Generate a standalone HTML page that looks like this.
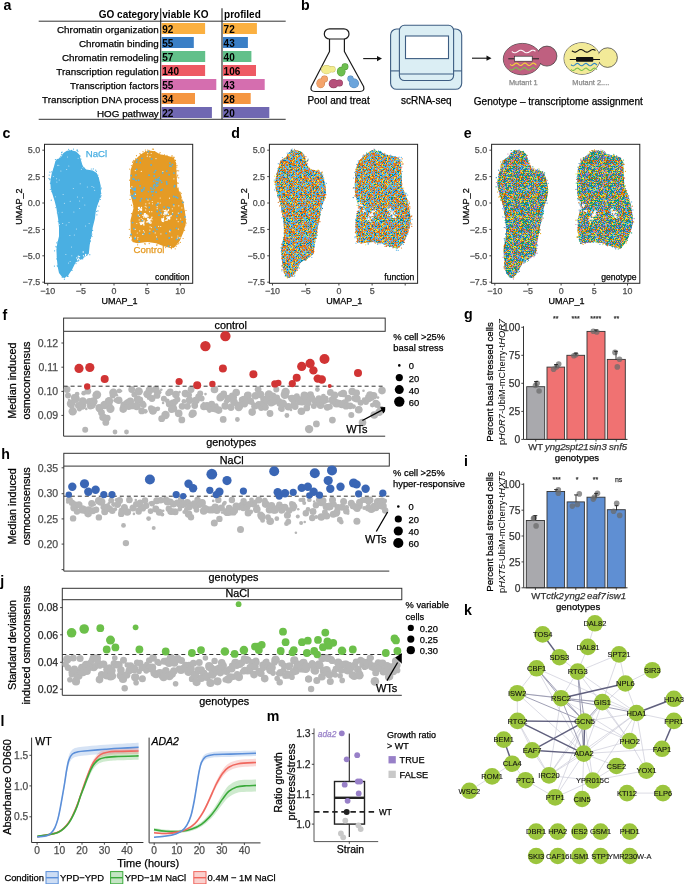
<!DOCTYPE html>
<html><head><meta charset="utf-8"><style>
html,body{margin:0;padding:0;background:#fff;width:685px;height:884px;overflow:hidden}
svg{display:block;font-family:"Liberation Sans", sans-serif;will-change:transform}
</style></head><body>
<svg width="685" height="884" viewBox="0 0 685 884">
<text x="3.4" y="9.8" font-size="14.2" font-weight="bold">a</text>
<text x="158.8" y="17.6" font-size="10" text-anchor="end" font-weight="bold">GO category</text>
<text x="162.3" y="17.6" font-size="10" font-weight="bold">viable KO</text>
<text x="224.1" y="17.6" font-size="10" font-weight="bold">profiled</text>
<line x1="38.7" y1="21.2" x2="285.7" y2="21.2" stroke="#333" stroke-width="1"/>
<line x1="38.7" y1="119.3" x2="285.7" y2="119.3" stroke="#333" stroke-width="1"/>
<rect x="161.6" y="23.0" width="43.5" height="11.0" fill="#FBB040"/>
<rect x="222.9" y="23.0" width="34.0" height="11.0" fill="#FBB040"/>
<text x="158.8" y="32.6" font-size="9.85" text-anchor="end" stroke="#000" stroke-width="0.25">Chromatin organization</text>
<text x="162.3" y="32.9" font-size="10" font-weight="bold">92</text>
<text x="223.6" y="32.9" font-size="10" font-weight="bold">72</text>
<rect x="161.6" y="37.0" width="32.2" height="11.0" fill="#3A7FC6"/>
<rect x="222.9" y="37.0" width="25.0" height="11.0" fill="#3A7FC6"/>
<text x="158.8" y="46.6" font-size="9.85" text-anchor="end" stroke="#000" stroke-width="0.25">Chromatin binding</text>
<text x="162.3" y="46.9" font-size="10" font-weight="bold">55</text>
<text x="223.6" y="46.9" font-size="10" font-weight="bold">43</text>
<rect x="161.6" y="51.0" width="43.6" height="11.0" fill="#62C08A"/>
<rect x="222.9" y="51.0" width="28.5" height="11.0" fill="#62C08A"/>
<text x="158.8" y="60.6" font-size="9.85" text-anchor="end" stroke="#000" stroke-width="0.25">Chromatin remodeling</text>
<text x="162.3" y="60.9" font-size="10" font-weight="bold">57</text>
<text x="223.6" y="60.9" font-size="10" font-weight="bold">40</text>
<rect x="161.6" y="65.0" width="43.5" height="11.0" fill="#EE5A64"/>
<rect x="222.9" y="65.0" width="33.1" height="11.0" fill="#EE5A64"/>
<text x="158.8" y="74.6" font-size="9.85" text-anchor="end" stroke="#000" stroke-width="0.25">Transcription regulation</text>
<text x="162.3" y="74.9" font-size="10" font-weight="bold">140</text>
<text x="223.6" y="74.9" font-size="10" font-weight="bold">106</text>
<rect x="161.6" y="79.0" width="54.7" height="11.0" fill="#D56EAF"/>
<rect x="222.9" y="79.0" width="41.8" height="11.0" fill="#D56EAF"/>
<text x="158.8" y="88.6" font-size="9.85" text-anchor="end" stroke="#000" stroke-width="0.25">Transcription factors</text>
<text x="162.3" y="88.9" font-size="10" font-weight="bold">55</text>
<text x="223.6" y="88.9" font-size="10" font-weight="bold">43</text>
<rect x="161.6" y="93.0" width="33.4" height="11.0" fill="#F59641"/>
<rect x="222.9" y="93.0" width="27.8" height="11.0" fill="#F59641"/>
<text x="158.8" y="102.6" font-size="9.85" text-anchor="end" stroke="#000" stroke-width="0.25">Transcription DNA process</text>
<text x="162.3" y="102.9" font-size="10" font-weight="bold">34</text>
<text x="223.6" y="102.9" font-size="10" font-weight="bold">28</text>
<rect x="161.6" y="107.0" width="50.3" height="11.0" fill="#7068B2"/>
<rect x="222.9" y="107.0" width="46.4" height="11.0" fill="#7068B2"/>
<text x="158.8" y="116.6" font-size="9.85" text-anchor="end" stroke="#000" stroke-width="0.25">HOG pathway</text>
<text x="162.3" y="116.9" font-size="10" font-weight="bold">22</text>
<text x="223.6" y="116.9" font-size="10" font-weight="bold">20</text>
<line x1="160.7" y1="8.2" x2="160.7" y2="119.3" stroke="#222" stroke-width="1.1"/>
<line x1="222.0" y1="8.2" x2="222.0" y2="119.3" stroke="#222" stroke-width="1.1"/>
<text x="300.9" y="9.6" font-size="14.2" font-weight="bold">b</text>
<g fill="none" stroke="#1a1a1a" stroke-width="1.2" stroke-linejoin="round">
<rect x="324.3" y="28.8" width="24.7" height="10.2" rx="5.1" fill="#fff"/>
<path d="M329.5 39 L329.5 51.5 L311.3 86.5 Q309.8 91.5 315 91.5 L359.8 91.5 Q365 91.5 363.6 86.5 L344.4 51.5 L344.4 39"/>
</g>
<g fill="#c9c070"><ellipse cx="326.5" cy="69.6" rx="5.5" ry="4.6"/><circle cx="332.4" cy="69.3" r="3.2"/></g>
<g fill="#F3EC8E"><ellipse cx="326.5" cy="69.6" rx="5.0" ry="4.1"/><circle cx="332.4" cy="69.3" r="2.7"/></g>
<g fill="#4c9436"><ellipse cx="341.2" cy="71.6" rx="4.3" ry="4.8"/><circle cx="345.0" cy="66.7" r="3.4"/></g>
<g fill="#6DBE4F"><ellipse cx="341.2" cy="71.6" rx="3.8" ry="4.3"/><circle cx="345.0" cy="66.7" r="2.9"/></g>
<g fill="#c8804c"><ellipse cx="320.7" cy="83.4" rx="4.3" ry="4.8"/><circle cx="324.5" cy="79.0" r="3.4"/></g>
<g fill="#F4A46B"><ellipse cx="320.7" cy="83.4" rx="3.8" ry="4.3"/><circle cx="324.5" cy="79.0" r="2.9"/></g>
<g fill="#8c3a5c"><ellipse cx="333.6" cy="83.7" rx="4.9" ry="4.6"/><circle cx="339.4" cy="83.0" r="3.5"/></g>
<g fill="#B5507A"><ellipse cx="333.6" cy="83.7" rx="4.4" ry="4.1"/><circle cx="339.4" cy="83.0" r="3.0"/></g>
<g fill="#4a80b4"><ellipse cx="354.0" cy="83.4" rx="4.9" ry="4.8"/><circle cx="350.5" cy="78.7" r="3.1"/></g>
<g fill="#6CA5DC"><ellipse cx="354.0" cy="83.4" rx="4.4" ry="4.3"/><circle cx="350.5" cy="78.7" r="2.6"/></g>
<line x1="363.2" y1="58.6" x2="378.0" y2="58.6" stroke="#111" stroke-width="1.1"/>
<path d="M377.0 56.0 L382.0 58.6 L377.0 61.2 Z" fill="#111"/>
<line x1="472.0" y1="58.2" x2="487.5" y2="58.2" stroke="#111" stroke-width="1.1"/>
<path d="M486.5 55.6 L491.5 58.2 L486.5 60.8 Z" fill="#111"/>
<g stroke="#3d5d82" stroke-width="1.1" fill="#dbeef4">
<rect x="390.6" y="29.0" width="71.1" height="60.3" rx="6"/>
<rect x="399.4" y="25.3" width="54.2" height="55.2" rx="5"/>
<line x1="390.6" y1="70.9" x2="399.4" y2="70.9"/><line x1="453.6" y1="70.9" x2="461.7" y2="70.9"/>
<line x1="399.4" y1="74.0" x2="453.6" y2="74.0"/>
<rect x="405.5" y="36.0" width="43" height="22.6" fill="#fff"/>
</g>
<g stroke="#333" stroke-width="0.7">
<ellipse cx="522.3" cy="59.1" rx="19" ry="15.7" fill="#BF6080"/><circle cx="546.9" cy="56.1" r="10" fill="#BF6080"/>
<ellipse cx="582.0" cy="58.5" rx="18" ry="15.8" fill="#F2EA98"/><circle cx="607.6" cy="57.6" r="9.8" fill="#F2EA98"/>
</g>
<ellipse cx="522.3" cy="59.1" rx="18.6" ry="15.3" fill="#BF6080"/><ellipse cx="582.0" cy="58.5" rx="17.6" ry="15.4" fill="#F2EA98"/>
<polyline points="511.8,51.5 512.4,51.9 513.0,52.3 513.6,52.5 514.2,52.7 514.8,52.8 515.4,52.7 515.9,52.6 516.5,52.3 517.1,51.9 517.7,51.6 518.3,51.2 518.9,50.8 519.5,50.5 520.1,50.3 520.7,50.2 521.3,50.2 521.9,50.4 522.5,50.7 523.1,51.0 523.6,51.4 524.2,51.8 524.8,52.2 525.4,52.5 526.0,52.7 526.6,52.8 527.2,52.8 527.8,52.6 528.4,52.4 529.0,52.0 529.6,51.7 530.2,51.3 530.8,50.9 531.4,50.6 531.9,50.3 532.5,50.2 533.1,50.2 533.7,50.3 534.3,50.6 534.9,50.9 535.5,51.3" fill="none" stroke="#fff" stroke-width="1.1"/>
<line x1="508.3" y1="58.8" x2="539.0" y2="58.8" stroke="#222" stroke-width="1"/>
<rect x="514.4" y="56.2" width="17.8" height="5.0" fill="#fff" stroke="#222" stroke-width="0.6"/>
<polyline points="510.0,64.3 510.7,64.9 511.3,65.3 512.0,65.5 512.6,65.4 513.3,65.1 514.0,64.5 514.6,64.0 515.3,63.5 516.0,63.2 516.6,63.1 517.3,63.4 518.0,63.8 518.6,64.4 519.3,65.0 519.9,65.3 520.6,65.5 521.3,65.4 521.9,65.0 522.6,64.4 523.2,63.9 523.9,63.4 524.6,63.1 525.2,63.1 525.9,63.4 526.6,63.9 527.2,64.5 527.9,65.0 528.5,65.4 529.2,65.5 529.9,65.3 530.5,64.9 531.2,64.3 531.9,63.8 532.5,63.3 533.2,63.1 533.9,63.2 534.5,63.5 535.2,64.0 535.8,64.6 536.5,65.1" fill="none" stroke="#F2D43A" stroke-width="1.1"/>
<polyline points="509.5,68.8 510.1,69.4 510.8,69.8 511.4,70.0 512.1,69.9 512.8,69.6 513.4,69.1 514.0,68.5 514.7,68.0 515.4,67.7 516.0,67.6 516.6,67.8 517.3,68.2 518.0,68.8 518.6,69.3 519.2,69.8 519.9,70.0 520.5,69.9 521.2,69.6 521.9,69.1 522.5,68.6 523.1,68.1 523.8,67.7 524.5,67.6 525.1,67.8 525.8,68.2 526.4,68.7 527.0,69.3 527.7,69.7 528.4,70.0 529.0,70.0 529.6,69.7 530.3,69.2 531.0,68.6 531.6,68.1 532.2,67.7 532.9,67.6 533.5,67.7 534.2,68.1 534.9,68.7 535.5,69.2" fill="none" stroke="#7CC04E" stroke-width="1.1"/>
<polyline points="571.9,50.8 572.5,51.2 573.1,51.6 573.7,51.8 574.2,52.0 574.8,52.1 575.4,52.1 576.0,51.9 576.6,51.6 577.2,51.3 577.8,50.9 578.4,50.5 578.9,50.1 579.5,49.8 580.1,49.6 580.7,49.5 581.3,49.5 581.9,49.7 582.5,49.9 583.1,50.2 583.6,50.6 584.2,51.0 584.8,51.4 585.4,51.7 586.0,52.0 586.6,52.1 587.2,52.1 587.8,52.0 588.4,51.7 588.9,51.4 589.5,51.1 590.1,50.7 590.7,50.3 591.3,49.9 591.9,49.7 592.5,49.5 593.0,49.5 593.6,49.6 594.2,49.8 594.8,50.1 595.4,50.5" fill="none" stroke="#111" stroke-width="1.1"/>
<line x1="569.8" y1="59.5" x2="600.0" y2="59.5" stroke="#111" stroke-width="1"/>
<rect x="576.0" y="56.9" width="17.3" height="4.8" fill="#111" rx="1"/>
<polyline points="571.0,64.6 571.6,65.2 572.3,65.6 573.0,65.8 573.6,65.7 574.2,65.4 574.9,64.9 575.5,64.3 576.2,63.8 576.9,63.5 577.5,63.4 578.1,63.6 578.8,64.0 579.5,64.6 580.1,65.1 580.8,65.6 581.4,65.8 582.0,65.7 582.7,65.4 583.4,64.9 584.0,64.4 584.6,63.9 585.3,63.5 586.0,63.4 586.6,63.6 587.2,64.0 587.9,64.5 588.5,65.1 589.2,65.5 589.9,65.8 590.5,65.8 591.1,65.5 591.8,65.0 592.5,64.4 593.1,63.9 593.8,63.5 594.4,63.4 595.0,63.5 595.7,63.9 596.4,64.5 597.0,65.0" fill="none" stroke="#2E86C8" stroke-width="1.1"/>
<polyline points="571.0,69.3 571.6,69.9 572.3,70.3 573.0,70.5 573.6,70.4 574.2,70.1 574.9,69.6 575.5,69.0 576.2,68.5 576.9,68.2 577.5,68.1 578.1,68.3 578.8,68.7 579.5,69.3 580.1,69.8 580.8,70.3 581.4,70.5 582.0,70.4 582.7,70.1 583.4,69.6 584.0,69.1 584.6,68.6 585.3,68.2 586.0,68.1 586.6,68.3 587.2,68.7 587.9,69.2 588.5,69.8 589.2,70.2 589.9,70.5 590.5,70.5 591.1,70.2 591.8,69.7 592.5,69.1 593.1,68.6 593.8,68.2 594.4,68.1 595.0,68.2 595.7,68.6 596.4,69.2 597.0,69.7" fill="none" stroke="#7CC04E" stroke-width="1.1"/>
<text x="508.9" y="84.7" font-size="7.4" fill="#8a8a8a" stroke="#8a8a8a" stroke-width="0.25">Mutant 1</text>
<text x="572.3" y="85.3" font-size="7.4" fill="#8a8a8a" stroke="#8a8a8a" stroke-width="0.25">Mutant 2....</text>
<text x="307.4" y="103.7" font-size="10" stroke="#000" stroke-width="0.25">Pool and treat</text>
<text x="401.0" y="104.4" font-size="10" stroke="#000" stroke-width="0.25">scRNA-seq</text>
<text x="473.8" y="104.5" font-size="10" stroke="#000" stroke-width="0.25">Genotype – transcriptome assignment</text>
<defs>
<pattern id="pd" x="0" y="0" width="23" height="23" patternUnits="userSpaceOnUse">
<rect x="0" y="0" width="1" height="1" fill="#E07A1F"/>
<rect x="1" y="0" width="1" height="1" fill="#56B4E9"/>
<rect x="2" y="0" width="1" height="1" fill="#56B4E9"/>
<rect x="3" y="0" width="1" height="1" fill="#56B4E9"/>
<rect x="4" y="0" width="1" height="1" fill="#F0E442"/>
<rect x="5" y="0" width="1" height="1" fill="#E07A1F"/>
<rect x="6" y="0" width="1" height="1" fill="#009E73"/>
<rect x="7" y="0" width="1" height="1" fill="#56B4E9"/>
<rect x="8" y="0" width="1" height="1" fill="#E07A1F"/>
<rect x="9" y="0" width="1" height="1" fill="#56B4E9"/>
<rect x="10" y="0" width="1" height="1" fill="#56B4E9"/>
<rect x="11" y="0" width="1" height="1" fill="#E07A1F"/>
<rect x="12" y="0" width="1" height="1" fill="#56B4E9"/>
<rect x="13" y="0" width="1" height="1" fill="#56B4E9"/>
<rect x="14" y="0" width="1" height="1" fill="#E07A1F"/>
<rect x="15" y="0" width="1" height="1" fill="#E07A1F"/>
<rect x="16" y="0" width="1" height="1" fill="#56B4E9"/>
<rect x="17" y="0" width="1" height="1" fill="#E07A1F"/>
<rect x="18" y="0" width="1" height="1" fill="#F0E442"/>
<rect x="19" y="0" width="1" height="1" fill="#56B4E9"/>
<rect x="20" y="0" width="1" height="1" fill="#F0E442"/>
<rect x="21" y="0" width="1" height="1" fill="#E07A1F"/>
<rect x="22" y="0" width="1" height="1" fill="#56B4E9"/>
<rect x="0" y="1" width="1" height="1" fill="#56B4E9"/>
<rect x="1" y="1" width="1" height="1" fill="#D55E00"/>
<rect x="2" y="1" width="1" height="1" fill="#56B4E9"/>
<rect x="3" y="1" width="1" height="1" fill="#56B4E9"/>
<rect x="4" y="1" width="1" height="1" fill="#56B4E9"/>
<rect x="5" y="1" width="1" height="1" fill="#0072B2"/>
<rect x="6" y="1" width="1" height="1" fill="#E07A1F"/>
<rect x="7" y="1" width="1" height="1" fill="#F0E442"/>
<rect x="8" y="1" width="1" height="1" fill="#F0E442"/>
<rect x="9" y="1" width="1" height="1" fill="#E07A1F"/>
<rect x="10" y="1" width="1" height="1" fill="#D55E00"/>
<rect x="11" y="1" width="1" height="1" fill="#E07A1F"/>
<rect x="12" y="1" width="1" height="1" fill="#E07A1F"/>
<rect x="13" y="1" width="1" height="1" fill="#0072B2"/>
<rect x="14" y="1" width="1" height="1" fill="#E07A1F"/>
<rect x="15" y="1" width="1" height="1" fill="#0072B2"/>
<rect x="16" y="1" width="1" height="1" fill="#E07A1F"/>
<rect x="17" y="1" width="1" height="1" fill="#E07A1F"/>
<rect x="18" y="1" width="1" height="1" fill="#56B4E9"/>
<rect x="19" y="1" width="1" height="1" fill="#56B4E9"/>
<rect x="20" y="1" width="1" height="1" fill="#56B4E9"/>
<rect x="21" y="1" width="1" height="1" fill="#56B4E9"/>
<rect x="22" y="1" width="1" height="1" fill="#56B4E9"/>
<rect x="0" y="2" width="1" height="1" fill="#56B4E9"/>
<rect x="1" y="2" width="1" height="1" fill="#56B4E9"/>
<rect x="2" y="2" width="1" height="1" fill="#E07A1F"/>
<rect x="3" y="2" width="1" height="1" fill="#E07A1F"/>
<rect x="4" y="2" width="1" height="1" fill="#E07A1F"/>
<rect x="5" y="2" width="1" height="1" fill="#56B4E9"/>
<rect x="6" y="2" width="1" height="1" fill="#56B4E9"/>
<rect x="7" y="2" width="1" height="1" fill="#CC79A7"/>
<rect x="8" y="2" width="1" height="1" fill="#E07A1F"/>
<rect x="9" y="2" width="1" height="1" fill="#E07A1F"/>
<rect x="10" y="2" width="1" height="1" fill="#56B4E9"/>
<rect x="11" y="2" width="1" height="1" fill="#F0E442"/>
<rect x="12" y="2" width="1" height="1" fill="#56B4E9"/>
<rect x="13" y="2" width="1" height="1" fill="#E07A1F"/>
<rect x="14" y="2" width="1" height="1" fill="#D55E00"/>
<rect x="15" y="2" width="1" height="1" fill="#E07A1F"/>
<rect x="16" y="2" width="1" height="1" fill="#E07A1F"/>
<rect x="17" y="2" width="1" height="1" fill="#E07A1F"/>
<rect x="18" y="2" width="1" height="1" fill="#0072B2"/>
<rect x="19" y="2" width="1" height="1" fill="#F0E442"/>
<rect x="20" y="2" width="1" height="1" fill="#56B4E9"/>
<rect x="21" y="2" width="1" height="1" fill="#56B4E9"/>
<rect x="22" y="2" width="1" height="1" fill="#56B4E9"/>
<rect x="0" y="3" width="1" height="1" fill="#56B4E9"/>
<rect x="1" y="3" width="1" height="1" fill="#56B4E9"/>
<rect x="2" y="3" width="1" height="1" fill="#CC79A7"/>
<rect x="3" y="3" width="1" height="1" fill="#009E73"/>
<rect x="4" y="3" width="1" height="1" fill="#56B4E9"/>
<rect x="5" y="3" width="1" height="1" fill="#E07A1F"/>
<rect x="6" y="3" width="1" height="1" fill="#E07A1F"/>
<rect x="7" y="3" width="1" height="1" fill="#009E73"/>
<rect x="8" y="3" width="1" height="1" fill="#E07A1F"/>
<rect x="9" y="3" width="1" height="1" fill="#56B4E9"/>
<rect x="10" y="3" width="1" height="1" fill="#56B4E9"/>
<rect x="11" y="3" width="1" height="1" fill="#E07A1F"/>
<rect x="12" y="3" width="1" height="1" fill="#56B4E9"/>
<rect x="13" y="3" width="1" height="1" fill="#E07A1F"/>
<rect x="14" y="3" width="1" height="1" fill="#009E73"/>
<rect x="15" y="3" width="1" height="1" fill="#E07A1F"/>
<rect x="16" y="3" width="1" height="1" fill="#56B4E9"/>
<rect x="17" y="3" width="1" height="1" fill="#D55E00"/>
<rect x="18" y="3" width="1" height="1" fill="#E07A1F"/>
<rect x="19" y="3" width="1" height="1" fill="#56B4E9"/>
<rect x="20" y="3" width="1" height="1" fill="#56B4E9"/>
<rect x="21" y="3" width="1" height="1" fill="#56B4E9"/>
<rect x="22" y="3" width="1" height="1" fill="#E07A1F"/>
<rect x="0" y="4" width="1" height="1" fill="#F0E442"/>
<rect x="1" y="4" width="1" height="1" fill="#E07A1F"/>
<rect x="2" y="4" width="1" height="1" fill="#56B4E9"/>
<rect x="3" y="4" width="1" height="1" fill="#E07A1F"/>
<rect x="4" y="4" width="1" height="1" fill="#D55E00"/>
<rect x="5" y="4" width="1" height="1" fill="#E07A1F"/>
<rect x="6" y="4" width="1" height="1" fill="#D55E00"/>
<rect x="7" y="4" width="1" height="1" fill="#0072B2"/>
<rect x="8" y="4" width="1" height="1" fill="#56B4E9"/>
<rect x="9" y="4" width="1" height="1" fill="#F0E442"/>
<rect x="10" y="4" width="1" height="1" fill="#E07A1F"/>
<rect x="11" y="4" width="1" height="1" fill="#E07A1F"/>
<rect x="12" y="4" width="1" height="1" fill="#56B4E9"/>
<rect x="13" y="4" width="1" height="1" fill="#E07A1F"/>
<rect x="14" y="4" width="1" height="1" fill="#56B4E9"/>
<rect x="15" y="4" width="1" height="1" fill="#E07A1F"/>
<rect x="16" y="4" width="1" height="1" fill="#E07A1F"/>
<rect x="17" y="4" width="1" height="1" fill="#D55E00"/>
<rect x="18" y="4" width="1" height="1" fill="#009E73"/>
<rect x="19" y="4" width="1" height="1" fill="#56B4E9"/>
<rect x="20" y="4" width="1" height="1" fill="#E07A1F"/>
<rect x="21" y="4" width="1" height="1" fill="#56B4E9"/>
<rect x="22" y="4" width="1" height="1" fill="#009E73"/>
<rect x="0" y="5" width="1" height="1" fill="#0072B2"/>
<rect x="1" y="5" width="1" height="1" fill="#56B4E9"/>
<rect x="2" y="5" width="1" height="1" fill="#E07A1F"/>
<rect x="3" y="5" width="1" height="1" fill="#E07A1F"/>
<rect x="4" y="5" width="1" height="1" fill="#56B4E9"/>
<rect x="5" y="5" width="1" height="1" fill="#F0E442"/>
<rect x="6" y="5" width="1" height="1" fill="#E07A1F"/>
<rect x="7" y="5" width="1" height="1" fill="#F0E442"/>
<rect x="8" y="5" width="1" height="1" fill="#E07A1F"/>
<rect x="9" y="5" width="1" height="1" fill="#56B4E9"/>
<rect x="10" y="5" width="1" height="1" fill="#56B4E9"/>
<rect x="11" y="5" width="1" height="1" fill="#56B4E9"/>
<rect x="12" y="5" width="1" height="1" fill="#CC79A7"/>
<rect x="13" y="5" width="1" height="1" fill="#009E73"/>
<rect x="14" y="5" width="1" height="1" fill="#0072B2"/>
<rect x="15" y="5" width="1" height="1" fill="#56B4E9"/>
<rect x="16" y="5" width="1" height="1" fill="#56B4E9"/>
<rect x="17" y="5" width="1" height="1" fill="#009E73"/>
<rect x="18" y="5" width="1" height="1" fill="#CC79A7"/>
<rect x="19" y="5" width="1" height="1" fill="#56B4E9"/>
<rect x="20" y="5" width="1" height="1" fill="#E07A1F"/>
<rect x="21" y="5" width="1" height="1" fill="#56B4E9"/>
<rect x="22" y="5" width="1" height="1" fill="#F0E442"/>
<rect x="0" y="6" width="1" height="1" fill="#F0E442"/>
<rect x="1" y="6" width="1" height="1" fill="#56B4E9"/>
<rect x="2" y="6" width="1" height="1" fill="#E07A1F"/>
<rect x="3" y="6" width="1" height="1" fill="#E07A1F"/>
<rect x="4" y="6" width="1" height="1" fill="#56B4E9"/>
<rect x="5" y="6" width="1" height="1" fill="#0072B2"/>
<rect x="6" y="6" width="1" height="1" fill="#E07A1F"/>
<rect x="7" y="6" width="1" height="1" fill="#56B4E9"/>
<rect x="8" y="6" width="1" height="1" fill="#E07A1F"/>
<rect x="9" y="6" width="1" height="1" fill="#F0E442"/>
<rect x="10" y="6" width="1" height="1" fill="#56B4E9"/>
<rect x="11" y="6" width="1" height="1" fill="#56B4E9"/>
<rect x="12" y="6" width="1" height="1" fill="#D55E00"/>
<rect x="13" y="6" width="1" height="1" fill="#E07A1F"/>
<rect x="14" y="6" width="1" height="1" fill="#E07A1F"/>
<rect x="15" y="6" width="1" height="1" fill="#E07A1F"/>
<rect x="16" y="6" width="1" height="1" fill="#56B4E9"/>
<rect x="17" y="6" width="1" height="1" fill="#56B4E9"/>
<rect x="18" y="6" width="1" height="1" fill="#56B4E9"/>
<rect x="19" y="6" width="1" height="1" fill="#E07A1F"/>
<rect x="20" y="6" width="1" height="1" fill="#56B4E9"/>
<rect x="21" y="6" width="1" height="1" fill="#56B4E9"/>
<rect x="22" y="6" width="1" height="1" fill="#56B4E9"/>
<rect x="0" y="7" width="1" height="1" fill="#E07A1F"/>
<rect x="1" y="7" width="1" height="1" fill="#56B4E9"/>
<rect x="2" y="7" width="1" height="1" fill="#009E73"/>
<rect x="3" y="7" width="1" height="1" fill="#0072B2"/>
<rect x="4" y="7" width="1" height="1" fill="#56B4E9"/>
<rect x="5" y="7" width="1" height="1" fill="#56B4E9"/>
<rect x="6" y="7" width="1" height="1" fill="#E07A1F"/>
<rect x="7" y="7" width="1" height="1" fill="#56B4E9"/>
<rect x="8" y="7" width="1" height="1" fill="#56B4E9"/>
<rect x="9" y="7" width="1" height="1" fill="#CC79A7"/>
<rect x="10" y="7" width="1" height="1" fill="#E07A1F"/>
<rect x="11" y="7" width="1" height="1" fill="#E07A1F"/>
<rect x="12" y="7" width="1" height="1" fill="#F0E442"/>
<rect x="13" y="7" width="1" height="1" fill="#F0E442"/>
<rect x="14" y="7" width="1" height="1" fill="#56B4E9"/>
<rect x="15" y="7" width="1" height="1" fill="#56B4E9"/>
<rect x="16" y="7" width="1" height="1" fill="#E07A1F"/>
<rect x="17" y="7" width="1" height="1" fill="#E07A1F"/>
<rect x="18" y="7" width="1" height="1" fill="#E07A1F"/>
<rect x="19" y="7" width="1" height="1" fill="#F0E442"/>
<rect x="20" y="7" width="1" height="1" fill="#E07A1F"/>
<rect x="21" y="7" width="1" height="1" fill="#D55E00"/>
<rect x="22" y="7" width="1" height="1" fill="#56B4E9"/>
<rect x="0" y="8" width="1" height="1" fill="#E07A1F"/>
<rect x="1" y="8" width="1" height="1" fill="#56B4E9"/>
<rect x="2" y="8" width="1" height="1" fill="#0072B2"/>
<rect x="3" y="8" width="1" height="1" fill="#56B4E9"/>
<rect x="4" y="8" width="1" height="1" fill="#56B4E9"/>
<rect x="5" y="8" width="1" height="1" fill="#E07A1F"/>
<rect x="6" y="8" width="1" height="1" fill="#E07A1F"/>
<rect x="7" y="8" width="1" height="1" fill="#56B4E9"/>
<rect x="8" y="8" width="1" height="1" fill="#56B4E9"/>
<rect x="9" y="8" width="1" height="1" fill="#CC79A7"/>
<rect x="10" y="8" width="1" height="1" fill="#E07A1F"/>
<rect x="11" y="8" width="1" height="1" fill="#0072B2"/>
<rect x="12" y="8" width="1" height="1" fill="#E07A1F"/>
<rect x="13" y="8" width="1" height="1" fill="#56B4E9"/>
<rect x="14" y="8" width="1" height="1" fill="#D55E00"/>
<rect x="15" y="8" width="1" height="1" fill="#0072B2"/>
<rect x="16" y="8" width="1" height="1" fill="#D55E00"/>
<rect x="17" y="8" width="1" height="1" fill="#CC79A7"/>
<rect x="18" y="8" width="1" height="1" fill="#0072B2"/>
<rect x="19" y="8" width="1" height="1" fill="#56B4E9"/>
<rect x="20" y="8" width="1" height="1" fill="#E07A1F"/>
<rect x="21" y="8" width="1" height="1" fill="#56B4E9"/>
<rect x="22" y="8" width="1" height="1" fill="#E07A1F"/>
<rect x="0" y="9" width="1" height="1" fill="#56B4E9"/>
<rect x="1" y="9" width="1" height="1" fill="#E07A1F"/>
<rect x="2" y="9" width="1" height="1" fill="#D55E00"/>
<rect x="3" y="9" width="1" height="1" fill="#56B4E9"/>
<rect x="4" y="9" width="1" height="1" fill="#F0E442"/>
<rect x="5" y="9" width="1" height="1" fill="#E07A1F"/>
<rect x="6" y="9" width="1" height="1" fill="#E07A1F"/>
<rect x="7" y="9" width="1" height="1" fill="#D55E00"/>
<rect x="8" y="9" width="1" height="1" fill="#D55E00"/>
<rect x="9" y="9" width="1" height="1" fill="#E07A1F"/>
<rect x="10" y="9" width="1" height="1" fill="#F0E442"/>
<rect x="11" y="9" width="1" height="1" fill="#56B4E9"/>
<rect x="12" y="9" width="1" height="1" fill="#56B4E9"/>
<rect x="13" y="9" width="1" height="1" fill="#D55E00"/>
<rect x="14" y="9" width="1" height="1" fill="#E07A1F"/>
<rect x="15" y="9" width="1" height="1" fill="#E07A1F"/>
<rect x="16" y="9" width="1" height="1" fill="#F0E442"/>
<rect x="17" y="9" width="1" height="1" fill="#56B4E9"/>
<rect x="18" y="9" width="1" height="1" fill="#E07A1F"/>
<rect x="19" y="9" width="1" height="1" fill="#E07A1F"/>
<rect x="20" y="9" width="1" height="1" fill="#0072B2"/>
<rect x="21" y="9" width="1" height="1" fill="#56B4E9"/>
<rect x="22" y="9" width="1" height="1" fill="#D55E00"/>
<rect x="0" y="10" width="1" height="1" fill="#56B4E9"/>
<rect x="1" y="10" width="1" height="1" fill="#56B4E9"/>
<rect x="2" y="10" width="1" height="1" fill="#E07A1F"/>
<rect x="3" y="10" width="1" height="1" fill="#E07A1F"/>
<rect x="4" y="10" width="1" height="1" fill="#56B4E9"/>
<rect x="5" y="10" width="1" height="1" fill="#56B4E9"/>
<rect x="6" y="10" width="1" height="1" fill="#009E73"/>
<rect x="7" y="10" width="1" height="1" fill="#56B4E9"/>
<rect x="8" y="10" width="1" height="1" fill="#E07A1F"/>
<rect x="9" y="10" width="1" height="1" fill="#E07A1F"/>
<rect x="10" y="10" width="1" height="1" fill="#E07A1F"/>
<rect x="11" y="10" width="1" height="1" fill="#E07A1F"/>
<rect x="12" y="10" width="1" height="1" fill="#E07A1F"/>
<rect x="13" y="10" width="1" height="1" fill="#CC79A7"/>
<rect x="14" y="10" width="1" height="1" fill="#56B4E9"/>
<rect x="15" y="10" width="1" height="1" fill="#F0E442"/>
<rect x="16" y="10" width="1" height="1" fill="#56B4E9"/>
<rect x="17" y="10" width="1" height="1" fill="#E07A1F"/>
<rect x="18" y="10" width="1" height="1" fill="#E07A1F"/>
<rect x="19" y="10" width="1" height="1" fill="#56B4E9"/>
<rect x="20" y="10" width="1" height="1" fill="#56B4E9"/>
<rect x="21" y="10" width="1" height="1" fill="#F0E442"/>
<rect x="22" y="10" width="1" height="1" fill="#56B4E9"/>
<rect x="0" y="11" width="1" height="1" fill="#E07A1F"/>
<rect x="1" y="11" width="1" height="1" fill="#D55E00"/>
<rect x="2" y="11" width="1" height="1" fill="#D55E00"/>
<rect x="3" y="11" width="1" height="1" fill="#56B4E9"/>
<rect x="4" y="11" width="1" height="1" fill="#56B4E9"/>
<rect x="5" y="11" width="1" height="1" fill="#56B4E9"/>
<rect x="6" y="11" width="1" height="1" fill="#CC79A7"/>
<rect x="7" y="11" width="1" height="1" fill="#009E73"/>
<rect x="8" y="11" width="1" height="1" fill="#009E73"/>
<rect x="9" y="11" width="1" height="1" fill="#E07A1F"/>
<rect x="10" y="11" width="1" height="1" fill="#56B4E9"/>
<rect x="11" y="11" width="1" height="1" fill="#0072B2"/>
<rect x="12" y="11" width="1" height="1" fill="#E07A1F"/>
<rect x="13" y="11" width="1" height="1" fill="#E07A1F"/>
<rect x="14" y="11" width="1" height="1" fill="#D55E00"/>
<rect x="15" y="11" width="1" height="1" fill="#E07A1F"/>
<rect x="16" y="11" width="1" height="1" fill="#56B4E9"/>
<rect x="17" y="11" width="1" height="1" fill="#0072B2"/>
<rect x="18" y="11" width="1" height="1" fill="#56B4E9"/>
<rect x="19" y="11" width="1" height="1" fill="#E07A1F"/>
<rect x="20" y="11" width="1" height="1" fill="#CC79A7"/>
<rect x="21" y="11" width="1" height="1" fill="#56B4E9"/>
<rect x="22" y="11" width="1" height="1" fill="#56B4E9"/>
<rect x="0" y="12" width="1" height="1" fill="#56B4E9"/>
<rect x="1" y="12" width="1" height="1" fill="#E07A1F"/>
<rect x="2" y="12" width="1" height="1" fill="#56B4E9"/>
<rect x="3" y="12" width="1" height="1" fill="#E07A1F"/>
<rect x="4" y="12" width="1" height="1" fill="#F0E442"/>
<rect x="5" y="12" width="1" height="1" fill="#56B4E9"/>
<rect x="6" y="12" width="1" height="1" fill="#E07A1F"/>
<rect x="7" y="12" width="1" height="1" fill="#56B4E9"/>
<rect x="8" y="12" width="1" height="1" fill="#E07A1F"/>
<rect x="9" y="12" width="1" height="1" fill="#009E73"/>
<rect x="10" y="12" width="1" height="1" fill="#0072B2"/>
<rect x="11" y="12" width="1" height="1" fill="#56B4E9"/>
<rect x="12" y="12" width="1" height="1" fill="#E07A1F"/>
<rect x="13" y="12" width="1" height="1" fill="#56B4E9"/>
<rect x="14" y="12" width="1" height="1" fill="#56B4E9"/>
<rect x="15" y="12" width="1" height="1" fill="#F0E442"/>
<rect x="16" y="12" width="1" height="1" fill="#E07A1F"/>
<rect x="17" y="12" width="1" height="1" fill="#56B4E9"/>
<rect x="18" y="12" width="1" height="1" fill="#F0E442"/>
<rect x="19" y="12" width="1" height="1" fill="#E07A1F"/>
<rect x="20" y="12" width="1" height="1" fill="#E07A1F"/>
<rect x="21" y="12" width="1" height="1" fill="#56B4E9"/>
<rect x="22" y="12" width="1" height="1" fill="#56B4E9"/>
<rect x="0" y="13" width="1" height="1" fill="#009E73"/>
<rect x="1" y="13" width="1" height="1" fill="#009E73"/>
<rect x="2" y="13" width="1" height="1" fill="#E07A1F"/>
<rect x="3" y="13" width="1" height="1" fill="#0072B2"/>
<rect x="4" y="13" width="1" height="1" fill="#E07A1F"/>
<rect x="5" y="13" width="1" height="1" fill="#56B4E9"/>
<rect x="6" y="13" width="1" height="1" fill="#56B4E9"/>
<rect x="7" y="13" width="1" height="1" fill="#56B4E9"/>
<rect x="8" y="13" width="1" height="1" fill="#009E73"/>
<rect x="9" y="13" width="1" height="1" fill="#F0E442"/>
<rect x="10" y="13" width="1" height="1" fill="#0072B2"/>
<rect x="11" y="13" width="1" height="1" fill="#009E73"/>
<rect x="12" y="13" width="1" height="1" fill="#56B4E9"/>
<rect x="13" y="13" width="1" height="1" fill="#56B4E9"/>
<rect x="14" y="13" width="1" height="1" fill="#56B4E9"/>
<rect x="15" y="13" width="1" height="1" fill="#F0E442"/>
<rect x="16" y="13" width="1" height="1" fill="#009E73"/>
<rect x="17" y="13" width="1" height="1" fill="#E07A1F"/>
<rect x="18" y="13" width="1" height="1" fill="#E07A1F"/>
<rect x="19" y="13" width="1" height="1" fill="#56B4E9"/>
<rect x="20" y="13" width="1" height="1" fill="#CC79A7"/>
<rect x="21" y="13" width="1" height="1" fill="#0072B2"/>
<rect x="22" y="13" width="1" height="1" fill="#D55E00"/>
<rect x="0" y="14" width="1" height="1" fill="#F0E442"/>
<rect x="1" y="14" width="1" height="1" fill="#009E73"/>
<rect x="2" y="14" width="1" height="1" fill="#56B4E9"/>
<rect x="3" y="14" width="1" height="1" fill="#F0E442"/>
<rect x="4" y="14" width="1" height="1" fill="#56B4E9"/>
<rect x="5" y="14" width="1" height="1" fill="#CC79A7"/>
<rect x="6" y="14" width="1" height="1" fill="#F0E442"/>
<rect x="7" y="14" width="1" height="1" fill="#0072B2"/>
<rect x="8" y="14" width="1" height="1" fill="#F0E442"/>
<rect x="9" y="14" width="1" height="1" fill="#56B4E9"/>
<rect x="10" y="14" width="1" height="1" fill="#F0E442"/>
<rect x="11" y="14" width="1" height="1" fill="#56B4E9"/>
<rect x="12" y="14" width="1" height="1" fill="#0072B2"/>
<rect x="13" y="14" width="1" height="1" fill="#0072B2"/>
<rect x="14" y="14" width="1" height="1" fill="#56B4E9"/>
<rect x="15" y="14" width="1" height="1" fill="#0072B2"/>
<rect x="16" y="14" width="1" height="1" fill="#E07A1F"/>
<rect x="17" y="14" width="1" height="1" fill="#56B4E9"/>
<rect x="18" y="14" width="1" height="1" fill="#F0E442"/>
<rect x="19" y="14" width="1" height="1" fill="#56B4E9"/>
<rect x="20" y="14" width="1" height="1" fill="#56B4E9"/>
<rect x="21" y="14" width="1" height="1" fill="#56B4E9"/>
<rect x="22" y="14" width="1" height="1" fill="#56B4E9"/>
<rect x="0" y="15" width="1" height="1" fill="#0072B2"/>
<rect x="1" y="15" width="1" height="1" fill="#D55E00"/>
<rect x="2" y="15" width="1" height="1" fill="#56B4E9"/>
<rect x="3" y="15" width="1" height="1" fill="#E07A1F"/>
<rect x="4" y="15" width="1" height="1" fill="#E07A1F"/>
<rect x="5" y="15" width="1" height="1" fill="#D55E00"/>
<rect x="6" y="15" width="1" height="1" fill="#E07A1F"/>
<rect x="7" y="15" width="1" height="1" fill="#CC79A7"/>
<rect x="8" y="15" width="1" height="1" fill="#56B4E9"/>
<rect x="9" y="15" width="1" height="1" fill="#D55E00"/>
<rect x="10" y="15" width="1" height="1" fill="#56B4E9"/>
<rect x="11" y="15" width="1" height="1" fill="#D55E00"/>
<rect x="12" y="15" width="1" height="1" fill="#56B4E9"/>
<rect x="13" y="15" width="1" height="1" fill="#56B4E9"/>
<rect x="14" y="15" width="1" height="1" fill="#E07A1F"/>
<rect x="15" y="15" width="1" height="1" fill="#F0E442"/>
<rect x="16" y="15" width="1" height="1" fill="#56B4E9"/>
<rect x="17" y="15" width="1" height="1" fill="#E07A1F"/>
<rect x="18" y="15" width="1" height="1" fill="#E07A1F"/>
<rect x="19" y="15" width="1" height="1" fill="#E07A1F"/>
<rect x="20" y="15" width="1" height="1" fill="#E07A1F"/>
<rect x="21" y="15" width="1" height="1" fill="#56B4E9"/>
<rect x="22" y="15" width="1" height="1" fill="#E07A1F"/>
<rect x="0" y="16" width="1" height="1" fill="#56B4E9"/>
<rect x="1" y="16" width="1" height="1" fill="#CC79A7"/>
<rect x="2" y="16" width="1" height="1" fill="#E07A1F"/>
<rect x="3" y="16" width="1" height="1" fill="#F0E442"/>
<rect x="4" y="16" width="1" height="1" fill="#F0E442"/>
<rect x="5" y="16" width="1" height="1" fill="#E07A1F"/>
<rect x="6" y="16" width="1" height="1" fill="#E07A1F"/>
<rect x="7" y="16" width="1" height="1" fill="#56B4E9"/>
<rect x="8" y="16" width="1" height="1" fill="#E07A1F"/>
<rect x="9" y="16" width="1" height="1" fill="#56B4E9"/>
<rect x="10" y="16" width="1" height="1" fill="#56B4E9"/>
<rect x="11" y="16" width="1" height="1" fill="#0072B2"/>
<rect x="12" y="16" width="1" height="1" fill="#F0E442"/>
<rect x="13" y="16" width="1" height="1" fill="#56B4E9"/>
<rect x="14" y="16" width="1" height="1" fill="#56B4E9"/>
<rect x="15" y="16" width="1" height="1" fill="#E07A1F"/>
<rect x="16" y="16" width="1" height="1" fill="#E07A1F"/>
<rect x="17" y="16" width="1" height="1" fill="#56B4E9"/>
<rect x="18" y="16" width="1" height="1" fill="#56B4E9"/>
<rect x="19" y="16" width="1" height="1" fill="#E07A1F"/>
<rect x="20" y="16" width="1" height="1" fill="#CC79A7"/>
<rect x="21" y="16" width="1" height="1" fill="#E07A1F"/>
<rect x="22" y="16" width="1" height="1" fill="#009E73"/>
<rect x="0" y="17" width="1" height="1" fill="#E07A1F"/>
<rect x="1" y="17" width="1" height="1" fill="#56B4E9"/>
<rect x="2" y="17" width="1" height="1" fill="#E07A1F"/>
<rect x="3" y="17" width="1" height="1" fill="#56B4E9"/>
<rect x="4" y="17" width="1" height="1" fill="#56B4E9"/>
<rect x="5" y="17" width="1" height="1" fill="#E07A1F"/>
<rect x="6" y="17" width="1" height="1" fill="#E07A1F"/>
<rect x="7" y="17" width="1" height="1" fill="#E07A1F"/>
<rect x="8" y="17" width="1" height="1" fill="#E07A1F"/>
<rect x="9" y="17" width="1" height="1" fill="#E07A1F"/>
<rect x="10" y="17" width="1" height="1" fill="#56B4E9"/>
<rect x="11" y="17" width="1" height="1" fill="#E07A1F"/>
<rect x="12" y="17" width="1" height="1" fill="#009E73"/>
<rect x="13" y="17" width="1" height="1" fill="#F0E442"/>
<rect x="14" y="17" width="1" height="1" fill="#56B4E9"/>
<rect x="15" y="17" width="1" height="1" fill="#56B4E9"/>
<rect x="16" y="17" width="1" height="1" fill="#E07A1F"/>
<rect x="17" y="17" width="1" height="1" fill="#E07A1F"/>
<rect x="18" y="17" width="1" height="1" fill="#56B4E9"/>
<rect x="19" y="17" width="1" height="1" fill="#0072B2"/>
<rect x="20" y="17" width="1" height="1" fill="#F0E442"/>
<rect x="21" y="17" width="1" height="1" fill="#E07A1F"/>
<rect x="22" y="17" width="1" height="1" fill="#56B4E9"/>
<rect x="0" y="18" width="1" height="1" fill="#56B4E9"/>
<rect x="1" y="18" width="1" height="1" fill="#56B4E9"/>
<rect x="2" y="18" width="1" height="1" fill="#56B4E9"/>
<rect x="3" y="18" width="1" height="1" fill="#E07A1F"/>
<rect x="4" y="18" width="1" height="1" fill="#0072B2"/>
<rect x="5" y="18" width="1" height="1" fill="#56B4E9"/>
<rect x="6" y="18" width="1" height="1" fill="#E07A1F"/>
<rect x="7" y="18" width="1" height="1" fill="#E07A1F"/>
<rect x="8" y="18" width="1" height="1" fill="#56B4E9"/>
<rect x="9" y="18" width="1" height="1" fill="#E07A1F"/>
<rect x="10" y="18" width="1" height="1" fill="#E07A1F"/>
<rect x="11" y="18" width="1" height="1" fill="#56B4E9"/>
<rect x="12" y="18" width="1" height="1" fill="#E07A1F"/>
<rect x="13" y="18" width="1" height="1" fill="#56B4E9"/>
<rect x="14" y="18" width="1" height="1" fill="#F0E442"/>
<rect x="15" y="18" width="1" height="1" fill="#F0E442"/>
<rect x="16" y="18" width="1" height="1" fill="#56B4E9"/>
<rect x="17" y="18" width="1" height="1" fill="#E07A1F"/>
<rect x="18" y="18" width="1" height="1" fill="#56B4E9"/>
<rect x="19" y="18" width="1" height="1" fill="#D55E00"/>
<rect x="20" y="18" width="1" height="1" fill="#E07A1F"/>
<rect x="21" y="18" width="1" height="1" fill="#56B4E9"/>
<rect x="22" y="18" width="1" height="1" fill="#56B4E9"/>
<rect x="0" y="19" width="1" height="1" fill="#0072B2"/>
<rect x="1" y="19" width="1" height="1" fill="#E07A1F"/>
<rect x="2" y="19" width="1" height="1" fill="#F0E442"/>
<rect x="3" y="19" width="1" height="1" fill="#E07A1F"/>
<rect x="4" y="19" width="1" height="1" fill="#D55E00"/>
<rect x="5" y="19" width="1" height="1" fill="#E07A1F"/>
<rect x="6" y="19" width="1" height="1" fill="#CC79A7"/>
<rect x="7" y="19" width="1" height="1" fill="#009E73"/>
<rect x="8" y="19" width="1" height="1" fill="#E07A1F"/>
<rect x="9" y="19" width="1" height="1" fill="#F0E442"/>
<rect x="10" y="19" width="1" height="1" fill="#E07A1F"/>
<rect x="11" y="19" width="1" height="1" fill="#0072B2"/>
<rect x="12" y="19" width="1" height="1" fill="#E07A1F"/>
<rect x="13" y="19" width="1" height="1" fill="#009E73"/>
<rect x="14" y="19" width="1" height="1" fill="#F0E442"/>
<rect x="15" y="19" width="1" height="1" fill="#E07A1F"/>
<rect x="16" y="19" width="1" height="1" fill="#56B4E9"/>
<rect x="17" y="19" width="1" height="1" fill="#56B4E9"/>
<rect x="18" y="19" width="1" height="1" fill="#E07A1F"/>
<rect x="19" y="19" width="1" height="1" fill="#F0E442"/>
<rect x="20" y="19" width="1" height="1" fill="#E07A1F"/>
<rect x="21" y="19" width="1" height="1" fill="#E07A1F"/>
<rect x="22" y="19" width="1" height="1" fill="#56B4E9"/>
<rect x="0" y="20" width="1" height="1" fill="#56B4E9"/>
<rect x="1" y="20" width="1" height="1" fill="#56B4E9"/>
<rect x="2" y="20" width="1" height="1" fill="#56B4E9"/>
<rect x="3" y="20" width="1" height="1" fill="#56B4E9"/>
<rect x="4" y="20" width="1" height="1" fill="#E07A1F"/>
<rect x="5" y="20" width="1" height="1" fill="#56B4E9"/>
<rect x="6" y="20" width="1" height="1" fill="#56B4E9"/>
<rect x="7" y="20" width="1" height="1" fill="#E07A1F"/>
<rect x="8" y="20" width="1" height="1" fill="#E07A1F"/>
<rect x="9" y="20" width="1" height="1" fill="#56B4E9"/>
<rect x="10" y="20" width="1" height="1" fill="#E07A1F"/>
<rect x="11" y="20" width="1" height="1" fill="#E07A1F"/>
<rect x="12" y="20" width="1" height="1" fill="#E07A1F"/>
<rect x="13" y="20" width="1" height="1" fill="#56B4E9"/>
<rect x="14" y="20" width="1" height="1" fill="#E07A1F"/>
<rect x="15" y="20" width="1" height="1" fill="#009E73"/>
<rect x="16" y="20" width="1" height="1" fill="#E07A1F"/>
<rect x="17" y="20" width="1" height="1" fill="#E07A1F"/>
<rect x="18" y="20" width="1" height="1" fill="#0072B2"/>
<rect x="19" y="20" width="1" height="1" fill="#F0E442"/>
<rect x="20" y="20" width="1" height="1" fill="#E07A1F"/>
<rect x="21" y="20" width="1" height="1" fill="#56B4E9"/>
<rect x="22" y="20" width="1" height="1" fill="#E07A1F"/>
<rect x="0" y="21" width="1" height="1" fill="#F0E442"/>
<rect x="1" y="21" width="1" height="1" fill="#0072B2"/>
<rect x="2" y="21" width="1" height="1" fill="#D55E00"/>
<rect x="3" y="21" width="1" height="1" fill="#E07A1F"/>
<rect x="4" y="21" width="1" height="1" fill="#F0E442"/>
<rect x="5" y="21" width="1" height="1" fill="#E07A1F"/>
<rect x="6" y="21" width="1" height="1" fill="#E07A1F"/>
<rect x="7" y="21" width="1" height="1" fill="#56B4E9"/>
<rect x="8" y="21" width="1" height="1" fill="#56B4E9"/>
<rect x="9" y="21" width="1" height="1" fill="#E07A1F"/>
<rect x="10" y="21" width="1" height="1" fill="#56B4E9"/>
<rect x="11" y="21" width="1" height="1" fill="#56B4E9"/>
<rect x="12" y="21" width="1" height="1" fill="#E07A1F"/>
<rect x="13" y="21" width="1" height="1" fill="#E07A1F"/>
<rect x="14" y="21" width="1" height="1" fill="#56B4E9"/>
<rect x="15" y="21" width="1" height="1" fill="#E07A1F"/>
<rect x="16" y="21" width="1" height="1" fill="#56B4E9"/>
<rect x="17" y="21" width="1" height="1" fill="#E07A1F"/>
<rect x="18" y="21" width="1" height="1" fill="#56B4E9"/>
<rect x="19" y="21" width="1" height="1" fill="#E07A1F"/>
<rect x="20" y="21" width="1" height="1" fill="#E07A1F"/>
<rect x="21" y="21" width="1" height="1" fill="#56B4E9"/>
<rect x="22" y="21" width="1" height="1" fill="#E07A1F"/>
<rect x="0" y="22" width="1" height="1" fill="#56B4E9"/>
<rect x="1" y="22" width="1" height="1" fill="#E07A1F"/>
<rect x="2" y="22" width="1" height="1" fill="#56B4E9"/>
<rect x="3" y="22" width="1" height="1" fill="#E07A1F"/>
<rect x="4" y="22" width="1" height="1" fill="#56B4E9"/>
<rect x="5" y="22" width="1" height="1" fill="#56B4E9"/>
<rect x="6" y="22" width="1" height="1" fill="#F0E442"/>
<rect x="7" y="22" width="1" height="1" fill="#E07A1F"/>
<rect x="8" y="22" width="1" height="1" fill="#F0E442"/>
<rect x="9" y="22" width="1" height="1" fill="#0072B2"/>
<rect x="10" y="22" width="1" height="1" fill="#56B4E9"/>
<rect x="11" y="22" width="1" height="1" fill="#56B4E9"/>
<rect x="12" y="22" width="1" height="1" fill="#56B4E9"/>
<rect x="13" y="22" width="1" height="1" fill="#E07A1F"/>
<rect x="14" y="22" width="1" height="1" fill="#D55E00"/>
<rect x="15" y="22" width="1" height="1" fill="#E07A1F"/>
<rect x="16" y="22" width="1" height="1" fill="#E07A1F"/>
<rect x="17" y="22" width="1" height="1" fill="#F0E442"/>
<rect x="18" y="22" width="1" height="1" fill="#E07A1F"/>
<rect x="19" y="22" width="1" height="1" fill="#F0E442"/>
<rect x="20" y="22" width="1" height="1" fill="#CC79A7"/>
<rect x="21" y="22" width="1" height="1" fill="#56B4E9"/>
<rect x="22" y="22" width="1" height="1" fill="#56B4E9"/>
</pattern>
<pattern id="pe" x="0" y="0" width="23" height="23" patternUnits="userSpaceOnUse">
<rect x="0" y="0" width="1" height="1" fill="#2C7FB8"/>
<rect x="1" y="0" width="1" height="1" fill="#2C7FB8"/>
<rect x="2" y="0" width="1" height="1" fill="#009E73"/>
<rect x="3" y="0" width="1" height="1" fill="#F0E442"/>
<rect x="4" y="0" width="1" height="1" fill="#56B4E9"/>
<rect x="5" y="0" width="1" height="1" fill="#CC79A7"/>
<rect x="6" y="0" width="1" height="1" fill="#CC79A7"/>
<rect x="7" y="0" width="1" height="1" fill="#2C7FB8"/>
<rect x="8" y="0" width="1" height="1" fill="#009E73"/>
<rect x="9" y="0" width="1" height="1" fill="#CC79A7"/>
<rect x="10" y="0" width="1" height="1" fill="#2C7FB8"/>
<rect x="11" y="0" width="1" height="1" fill="#8C5A2B"/>
<rect x="12" y="0" width="1" height="1" fill="#7570B3"/>
<rect x="13" y="0" width="1" height="1" fill="#2C7FB8"/>
<rect x="14" y="0" width="1" height="1" fill="#2C7FB8"/>
<rect x="15" y="0" width="1" height="1" fill="#56B4E9"/>
<rect x="16" y="0" width="1" height="1" fill="#009E73"/>
<rect x="17" y="0" width="1" height="1" fill="#7570B3"/>
<rect x="18" y="0" width="1" height="1" fill="#E69F00"/>
<rect x="19" y="0" width="1" height="1" fill="#CC79A7"/>
<rect x="20" y="0" width="1" height="1" fill="#2C7FB8"/>
<rect x="21" y="0" width="1" height="1" fill="#CC79A7"/>
<rect x="22" y="0" width="1" height="1" fill="#009E73"/>
<rect x="0" y="1" width="1" height="1" fill="#2C7FB8"/>
<rect x="1" y="1" width="1" height="1" fill="#CC79A7"/>
<rect x="2" y="1" width="1" height="1" fill="#1B9E77"/>
<rect x="3" y="1" width="1" height="1" fill="#F0E442"/>
<rect x="4" y="1" width="1" height="1" fill="#2C7FB8"/>
<rect x="5" y="1" width="1" height="1" fill="#A6D854"/>
<rect x="6" y="1" width="1" height="1" fill="#8C5A2B"/>
<rect x="7" y="1" width="1" height="1" fill="#E69F00"/>
<rect x="8" y="1" width="1" height="1" fill="#E69F00"/>
<rect x="9" y="1" width="1" height="1" fill="#E69F00"/>
<rect x="10" y="1" width="1" height="1" fill="#D55E00"/>
<rect x="11" y="1" width="1" height="1" fill="#E69F00"/>
<rect x="12" y="1" width="1" height="1" fill="#1B9E77"/>
<rect x="13" y="1" width="1" height="1" fill="#8C5A2B"/>
<rect x="14" y="1" width="1" height="1" fill="#2C7FB8"/>
<rect x="15" y="1" width="1" height="1" fill="#7570B3"/>
<rect x="16" y="1" width="1" height="1" fill="#009E73"/>
<rect x="17" y="1" width="1" height="1" fill="#1B9E77"/>
<rect x="18" y="1" width="1" height="1" fill="#CC79A7"/>
<rect x="19" y="1" width="1" height="1" fill="#E69F00"/>
<rect x="20" y="1" width="1" height="1" fill="#CC79A7"/>
<rect x="21" y="1" width="1" height="1" fill="#7570B3"/>
<rect x="22" y="1" width="1" height="1" fill="#56B4E9"/>
<rect x="0" y="2" width="1" height="1" fill="#8C5A2B"/>
<rect x="1" y="2" width="1" height="1" fill="#F0E442"/>
<rect x="2" y="2" width="1" height="1" fill="#D55E00"/>
<rect x="3" y="2" width="1" height="1" fill="#E69F00"/>
<rect x="4" y="2" width="1" height="1" fill="#CC79A7"/>
<rect x="5" y="2" width="1" height="1" fill="#56B4E9"/>
<rect x="6" y="2" width="1" height="1" fill="#1B9E77"/>
<rect x="7" y="2" width="1" height="1" fill="#1B9E77"/>
<rect x="8" y="2" width="1" height="1" fill="#2C7FB8"/>
<rect x="9" y="2" width="1" height="1" fill="#1B9E77"/>
<rect x="10" y="2" width="1" height="1" fill="#56B4E9"/>
<rect x="11" y="2" width="1" height="1" fill="#D55E00"/>
<rect x="12" y="2" width="1" height="1" fill="#009E73"/>
<rect x="13" y="2" width="1" height="1" fill="#E69F00"/>
<rect x="14" y="2" width="1" height="1" fill="#2C7FB8"/>
<rect x="15" y="2" width="1" height="1" fill="#1B9E77"/>
<rect x="16" y="2" width="1" height="1" fill="#56B4E9"/>
<rect x="17" y="2" width="1" height="1" fill="#56B4E9"/>
<rect x="18" y="2" width="1" height="1" fill="#8C5A2B"/>
<rect x="19" y="2" width="1" height="1" fill="#E69F00"/>
<rect x="20" y="2" width="1" height="1" fill="#1B9E77"/>
<rect x="21" y="2" width="1" height="1" fill="#CC79A7"/>
<rect x="22" y="2" width="1" height="1" fill="#56B4E9"/>
<rect x="0" y="3" width="1" height="1" fill="#2C7FB8"/>
<rect x="1" y="3" width="1" height="1" fill="#7570B3"/>
<rect x="2" y="3" width="1" height="1" fill="#2C7FB8"/>
<rect x="3" y="3" width="1" height="1" fill="#CC79A7"/>
<rect x="4" y="3" width="1" height="1" fill="#D55E00"/>
<rect x="5" y="3" width="1" height="1" fill="#CC79A7"/>
<rect x="6" y="3" width="1" height="1" fill="#CC79A7"/>
<rect x="7" y="3" width="1" height="1" fill="#009E73"/>
<rect x="8" y="3" width="1" height="1" fill="#D55E00"/>
<rect x="9" y="3" width="1" height="1" fill="#8C5A2B"/>
<rect x="10" y="3" width="1" height="1" fill="#2C7FB8"/>
<rect x="11" y="3" width="1" height="1" fill="#56B4E9"/>
<rect x="12" y="3" width="1" height="1" fill="#CC79A7"/>
<rect x="13" y="3" width="1" height="1" fill="#56B4E9"/>
<rect x="14" y="3" width="1" height="1" fill="#F0E442"/>
<rect x="15" y="3" width="1" height="1" fill="#D55E00"/>
<rect x="16" y="3" width="1" height="1" fill="#D55E00"/>
<rect x="17" y="3" width="1" height="1" fill="#E69F00"/>
<rect x="18" y="3" width="1" height="1" fill="#CC79A7"/>
<rect x="19" y="3" width="1" height="1" fill="#E69F00"/>
<rect x="20" y="3" width="1" height="1" fill="#CC79A7"/>
<rect x="21" y="3" width="1" height="1" fill="#56B4E9"/>
<rect x="22" y="3" width="1" height="1" fill="#56B4E9"/>
<rect x="0" y="4" width="1" height="1" fill="#2C7FB8"/>
<rect x="1" y="4" width="1" height="1" fill="#56B4E9"/>
<rect x="2" y="4" width="1" height="1" fill="#2C7FB8"/>
<rect x="3" y="4" width="1" height="1" fill="#F0E442"/>
<rect x="4" y="4" width="1" height="1" fill="#CC79A7"/>
<rect x="5" y="4" width="1" height="1" fill="#56B4E9"/>
<rect x="6" y="4" width="1" height="1" fill="#56B4E9"/>
<rect x="7" y="4" width="1" height="1" fill="#D55E00"/>
<rect x="8" y="4" width="1" height="1" fill="#CC79A7"/>
<rect x="9" y="4" width="1" height="1" fill="#A6D854"/>
<rect x="10" y="4" width="1" height="1" fill="#D55E00"/>
<rect x="11" y="4" width="1" height="1" fill="#56B4E9"/>
<rect x="12" y="4" width="1" height="1" fill="#2C7FB8"/>
<rect x="13" y="4" width="1" height="1" fill="#56B4E9"/>
<rect x="14" y="4" width="1" height="1" fill="#56B4E9"/>
<rect x="15" y="4" width="1" height="1" fill="#56B4E9"/>
<rect x="16" y="4" width="1" height="1" fill="#2C7FB8"/>
<rect x="17" y="4" width="1" height="1" fill="#D55E00"/>
<rect x="18" y="4" width="1" height="1" fill="#56B4E9"/>
<rect x="19" y="4" width="1" height="1" fill="#A6D854"/>
<rect x="20" y="4" width="1" height="1" fill="#F0E442"/>
<rect x="21" y="4" width="1" height="1" fill="#CC79A7"/>
<rect x="22" y="4" width="1" height="1" fill="#2C7FB8"/>
<rect x="0" y="5" width="1" height="1" fill="#1B9E77"/>
<rect x="1" y="5" width="1" height="1" fill="#D55E00"/>
<rect x="2" y="5" width="1" height="1" fill="#1B9E77"/>
<rect x="3" y="5" width="1" height="1" fill="#F0E442"/>
<rect x="4" y="5" width="1" height="1" fill="#D55E00"/>
<rect x="5" y="5" width="1" height="1" fill="#E69F00"/>
<rect x="6" y="5" width="1" height="1" fill="#56B4E9"/>
<rect x="7" y="5" width="1" height="1" fill="#2C7FB8"/>
<rect x="8" y="5" width="1" height="1" fill="#7570B3"/>
<rect x="9" y="5" width="1" height="1" fill="#D55E00"/>
<rect x="10" y="5" width="1" height="1" fill="#8C5A2B"/>
<rect x="11" y="5" width="1" height="1" fill="#E69F00"/>
<rect x="12" y="5" width="1" height="1" fill="#2C7FB8"/>
<rect x="13" y="5" width="1" height="1" fill="#009E73"/>
<rect x="14" y="5" width="1" height="1" fill="#2C7FB8"/>
<rect x="15" y="5" width="1" height="1" fill="#2C7FB8"/>
<rect x="16" y="5" width="1" height="1" fill="#F0E442"/>
<rect x="17" y="5" width="1" height="1" fill="#56B4E9"/>
<rect x="18" y="5" width="1" height="1" fill="#A6D854"/>
<rect x="19" y="5" width="1" height="1" fill="#2C7FB8"/>
<rect x="20" y="5" width="1" height="1" fill="#CC79A7"/>
<rect x="21" y="5" width="1" height="1" fill="#009E73"/>
<rect x="22" y="5" width="1" height="1" fill="#8C5A2B"/>
<rect x="0" y="6" width="1" height="1" fill="#56B4E9"/>
<rect x="1" y="6" width="1" height="1" fill="#D55E00"/>
<rect x="2" y="6" width="1" height="1" fill="#E69F00"/>
<rect x="3" y="6" width="1" height="1" fill="#E69F00"/>
<rect x="4" y="6" width="1" height="1" fill="#1B9E77"/>
<rect x="5" y="6" width="1" height="1" fill="#A6D854"/>
<rect x="6" y="6" width="1" height="1" fill="#56B4E9"/>
<rect x="7" y="6" width="1" height="1" fill="#009E73"/>
<rect x="8" y="6" width="1" height="1" fill="#009E73"/>
<rect x="9" y="6" width="1" height="1" fill="#CC79A7"/>
<rect x="10" y="6" width="1" height="1" fill="#7570B3"/>
<rect x="11" y="6" width="1" height="1" fill="#56B4E9"/>
<rect x="12" y="6" width="1" height="1" fill="#56B4E9"/>
<rect x="13" y="6" width="1" height="1" fill="#009E73"/>
<rect x="14" y="6" width="1" height="1" fill="#2C7FB8"/>
<rect x="15" y="6" width="1" height="1" fill="#56B4E9"/>
<rect x="16" y="6" width="1" height="1" fill="#2C7FB8"/>
<rect x="17" y="6" width="1" height="1" fill="#2C7FB8"/>
<rect x="18" y="6" width="1" height="1" fill="#E69F00"/>
<rect x="19" y="6" width="1" height="1" fill="#F0E442"/>
<rect x="20" y="6" width="1" height="1" fill="#56B4E9"/>
<rect x="21" y="6" width="1" height="1" fill="#56B4E9"/>
<rect x="22" y="6" width="1" height="1" fill="#CC79A7"/>
<rect x="0" y="7" width="1" height="1" fill="#CC79A7"/>
<rect x="1" y="7" width="1" height="1" fill="#E69F00"/>
<rect x="2" y="7" width="1" height="1" fill="#CC79A7"/>
<rect x="3" y="7" width="1" height="1" fill="#7570B3"/>
<rect x="4" y="7" width="1" height="1" fill="#8C5A2B"/>
<rect x="5" y="7" width="1" height="1" fill="#009E73"/>
<rect x="6" y="7" width="1" height="1" fill="#009E73"/>
<rect x="7" y="7" width="1" height="1" fill="#7570B3"/>
<rect x="8" y="7" width="1" height="1" fill="#E69F00"/>
<rect x="9" y="7" width="1" height="1" fill="#F0E442"/>
<rect x="10" y="7" width="1" height="1" fill="#009E73"/>
<rect x="11" y="7" width="1" height="1" fill="#7570B3"/>
<rect x="12" y="7" width="1" height="1" fill="#8C5A2B"/>
<rect x="13" y="7" width="1" height="1" fill="#2C7FB8"/>
<rect x="14" y="7" width="1" height="1" fill="#2C7FB8"/>
<rect x="15" y="7" width="1" height="1" fill="#56B4E9"/>
<rect x="16" y="7" width="1" height="1" fill="#CC79A7"/>
<rect x="17" y="7" width="1" height="1" fill="#F0E442"/>
<rect x="18" y="7" width="1" height="1" fill="#56B4E9"/>
<rect x="19" y="7" width="1" height="1" fill="#2C7FB8"/>
<rect x="20" y="7" width="1" height="1" fill="#CC79A7"/>
<rect x="21" y="7" width="1" height="1" fill="#CC79A7"/>
<rect x="22" y="7" width="1" height="1" fill="#7570B3"/>
<rect x="0" y="8" width="1" height="1" fill="#D55E00"/>
<rect x="1" y="8" width="1" height="1" fill="#D55E00"/>
<rect x="2" y="8" width="1" height="1" fill="#2C7FB8"/>
<rect x="3" y="8" width="1" height="1" fill="#2C7FB8"/>
<rect x="4" y="8" width="1" height="1" fill="#E69F00"/>
<rect x="5" y="8" width="1" height="1" fill="#E69F00"/>
<rect x="6" y="8" width="1" height="1" fill="#56B4E9"/>
<rect x="7" y="8" width="1" height="1" fill="#2C7FB8"/>
<rect x="8" y="8" width="1" height="1" fill="#7570B3"/>
<rect x="9" y="8" width="1" height="1" fill="#1B9E77"/>
<rect x="10" y="8" width="1" height="1" fill="#F0E442"/>
<rect x="11" y="8" width="1" height="1" fill="#7570B3"/>
<rect x="12" y="8" width="1" height="1" fill="#A6D854"/>
<rect x="13" y="8" width="1" height="1" fill="#009E73"/>
<rect x="14" y="8" width="1" height="1" fill="#56B4E9"/>
<rect x="15" y="8" width="1" height="1" fill="#2C7FB8"/>
<rect x="16" y="8" width="1" height="1" fill="#CC79A7"/>
<rect x="17" y="8" width="1" height="1" fill="#D55E00"/>
<rect x="18" y="8" width="1" height="1" fill="#009E73"/>
<rect x="19" y="8" width="1" height="1" fill="#7570B3"/>
<rect x="20" y="8" width="1" height="1" fill="#56B4E9"/>
<rect x="21" y="8" width="1" height="1" fill="#F0E442"/>
<rect x="22" y="8" width="1" height="1" fill="#009E73"/>
<rect x="0" y="9" width="1" height="1" fill="#D55E00"/>
<rect x="1" y="9" width="1" height="1" fill="#2C7FB8"/>
<rect x="2" y="9" width="1" height="1" fill="#E69F00"/>
<rect x="3" y="9" width="1" height="1" fill="#E69F00"/>
<rect x="4" y="9" width="1" height="1" fill="#009E73"/>
<rect x="5" y="9" width="1" height="1" fill="#1B9E77"/>
<rect x="6" y="9" width="1" height="1" fill="#E69F00"/>
<rect x="7" y="9" width="1" height="1" fill="#CC79A7"/>
<rect x="8" y="9" width="1" height="1" fill="#56B4E9"/>
<rect x="9" y="9" width="1" height="1" fill="#7570B3"/>
<rect x="10" y="9" width="1" height="1" fill="#8C5A2B"/>
<rect x="11" y="9" width="1" height="1" fill="#F0E442"/>
<rect x="12" y="9" width="1" height="1" fill="#D55E00"/>
<rect x="13" y="9" width="1" height="1" fill="#E69F00"/>
<rect x="14" y="9" width="1" height="1" fill="#E69F00"/>
<rect x="15" y="9" width="1" height="1" fill="#A6D854"/>
<rect x="16" y="9" width="1" height="1" fill="#E69F00"/>
<rect x="17" y="9" width="1" height="1" fill="#D55E00"/>
<rect x="18" y="9" width="1" height="1" fill="#A6D854"/>
<rect x="19" y="9" width="1" height="1" fill="#009E73"/>
<rect x="20" y="9" width="1" height="1" fill="#F0E442"/>
<rect x="21" y="9" width="1" height="1" fill="#E69F00"/>
<rect x="22" y="9" width="1" height="1" fill="#56B4E9"/>
<rect x="0" y="10" width="1" height="1" fill="#E69F00"/>
<rect x="1" y="10" width="1" height="1" fill="#CC79A7"/>
<rect x="2" y="10" width="1" height="1" fill="#009E73"/>
<rect x="3" y="10" width="1" height="1" fill="#CC79A7"/>
<rect x="4" y="10" width="1" height="1" fill="#56B4E9"/>
<rect x="5" y="10" width="1" height="1" fill="#F0E442"/>
<rect x="6" y="10" width="1" height="1" fill="#7570B3"/>
<rect x="7" y="10" width="1" height="1" fill="#E69F00"/>
<rect x="8" y="10" width="1" height="1" fill="#CC79A7"/>
<rect x="9" y="10" width="1" height="1" fill="#2C7FB8"/>
<rect x="10" y="10" width="1" height="1" fill="#A6D854"/>
<rect x="11" y="10" width="1" height="1" fill="#009E73"/>
<rect x="12" y="10" width="1" height="1" fill="#56B4E9"/>
<rect x="13" y="10" width="1" height="1" fill="#2C7FB8"/>
<rect x="14" y="10" width="1" height="1" fill="#F0E442"/>
<rect x="15" y="10" width="1" height="1" fill="#F0E442"/>
<rect x="16" y="10" width="1" height="1" fill="#2C7FB8"/>
<rect x="17" y="10" width="1" height="1" fill="#A6D854"/>
<rect x="18" y="10" width="1" height="1" fill="#7570B3"/>
<rect x="19" y="10" width="1" height="1" fill="#D55E00"/>
<rect x="20" y="10" width="1" height="1" fill="#2C7FB8"/>
<rect x="21" y="10" width="1" height="1" fill="#1B9E77"/>
<rect x="22" y="10" width="1" height="1" fill="#D55E00"/>
<rect x="0" y="11" width="1" height="1" fill="#CC79A7"/>
<rect x="1" y="11" width="1" height="1" fill="#D55E00"/>
<rect x="2" y="11" width="1" height="1" fill="#56B4E9"/>
<rect x="3" y="11" width="1" height="1" fill="#1B9E77"/>
<rect x="4" y="11" width="1" height="1" fill="#A6D854"/>
<rect x="5" y="11" width="1" height="1" fill="#56B4E9"/>
<rect x="6" y="11" width="1" height="1" fill="#F0E442"/>
<rect x="7" y="11" width="1" height="1" fill="#E69F00"/>
<rect x="8" y="11" width="1" height="1" fill="#7570B3"/>
<rect x="9" y="11" width="1" height="1" fill="#D55E00"/>
<rect x="10" y="11" width="1" height="1" fill="#1B9E77"/>
<rect x="11" y="11" width="1" height="1" fill="#1B9E77"/>
<rect x="12" y="11" width="1" height="1" fill="#56B4E9"/>
<rect x="13" y="11" width="1" height="1" fill="#8C5A2B"/>
<rect x="14" y="11" width="1" height="1" fill="#E69F00"/>
<rect x="15" y="11" width="1" height="1" fill="#7570B3"/>
<rect x="16" y="11" width="1" height="1" fill="#D55E00"/>
<rect x="17" y="11" width="1" height="1" fill="#8C5A2B"/>
<rect x="18" y="11" width="1" height="1" fill="#56B4E9"/>
<rect x="19" y="11" width="1" height="1" fill="#56B4E9"/>
<rect x="20" y="11" width="1" height="1" fill="#F0E442"/>
<rect x="21" y="11" width="1" height="1" fill="#A6D854"/>
<rect x="22" y="11" width="1" height="1" fill="#D55E00"/>
<rect x="0" y="12" width="1" height="1" fill="#2C7FB8"/>
<rect x="1" y="12" width="1" height="1" fill="#F0E442"/>
<rect x="2" y="12" width="1" height="1" fill="#E69F00"/>
<rect x="3" y="12" width="1" height="1" fill="#F0E442"/>
<rect x="4" y="12" width="1" height="1" fill="#F0E442"/>
<rect x="5" y="12" width="1" height="1" fill="#D55E00"/>
<rect x="6" y="12" width="1" height="1" fill="#E69F00"/>
<rect x="7" y="12" width="1" height="1" fill="#56B4E9"/>
<rect x="8" y="12" width="1" height="1" fill="#CC79A7"/>
<rect x="9" y="12" width="1" height="1" fill="#F0E442"/>
<rect x="10" y="12" width="1" height="1" fill="#56B4E9"/>
<rect x="11" y="12" width="1" height="1" fill="#CC79A7"/>
<rect x="12" y="12" width="1" height="1" fill="#2C7FB8"/>
<rect x="13" y="12" width="1" height="1" fill="#CC79A7"/>
<rect x="14" y="12" width="1" height="1" fill="#CC79A7"/>
<rect x="15" y="12" width="1" height="1" fill="#8C5A2B"/>
<rect x="16" y="12" width="1" height="1" fill="#E69F00"/>
<rect x="17" y="12" width="1" height="1" fill="#009E73"/>
<rect x="18" y="12" width="1" height="1" fill="#8C5A2B"/>
<rect x="19" y="12" width="1" height="1" fill="#A6D854"/>
<rect x="20" y="12" width="1" height="1" fill="#D55E00"/>
<rect x="21" y="12" width="1" height="1" fill="#2C7FB8"/>
<rect x="22" y="12" width="1" height="1" fill="#D55E00"/>
<rect x="0" y="13" width="1" height="1" fill="#F0E442"/>
<rect x="1" y="13" width="1" height="1" fill="#1B9E77"/>
<rect x="2" y="13" width="1" height="1" fill="#1B9E77"/>
<rect x="3" y="13" width="1" height="1" fill="#E69F00"/>
<rect x="4" y="13" width="1" height="1" fill="#D55E00"/>
<rect x="5" y="13" width="1" height="1" fill="#D55E00"/>
<rect x="6" y="13" width="1" height="1" fill="#CC79A7"/>
<rect x="7" y="13" width="1" height="1" fill="#E69F00"/>
<rect x="8" y="13" width="1" height="1" fill="#009E73"/>
<rect x="9" y="13" width="1" height="1" fill="#2C7FB8"/>
<rect x="10" y="13" width="1" height="1" fill="#D55E00"/>
<rect x="11" y="13" width="1" height="1" fill="#7570B3"/>
<rect x="12" y="13" width="1" height="1" fill="#E69F00"/>
<rect x="13" y="13" width="1" height="1" fill="#CC79A7"/>
<rect x="14" y="13" width="1" height="1" fill="#009E73"/>
<rect x="15" y="13" width="1" height="1" fill="#1B9E77"/>
<rect x="16" y="13" width="1" height="1" fill="#1B9E77"/>
<rect x="17" y="13" width="1" height="1" fill="#1B9E77"/>
<rect x="18" y="13" width="1" height="1" fill="#E69F00"/>
<rect x="19" y="13" width="1" height="1" fill="#E69F00"/>
<rect x="20" y="13" width="1" height="1" fill="#CC79A7"/>
<rect x="21" y="13" width="1" height="1" fill="#CC79A7"/>
<rect x="22" y="13" width="1" height="1" fill="#1B9E77"/>
<rect x="0" y="14" width="1" height="1" fill="#2C7FB8"/>
<rect x="1" y="14" width="1" height="1" fill="#2C7FB8"/>
<rect x="2" y="14" width="1" height="1" fill="#009E73"/>
<rect x="3" y="14" width="1" height="1" fill="#7570B3"/>
<rect x="4" y="14" width="1" height="1" fill="#A6D854"/>
<rect x="5" y="14" width="1" height="1" fill="#CC79A7"/>
<rect x="6" y="14" width="1" height="1" fill="#E69F00"/>
<rect x="7" y="14" width="1" height="1" fill="#2C7FB8"/>
<rect x="8" y="14" width="1" height="1" fill="#009E73"/>
<rect x="9" y="14" width="1" height="1" fill="#1B9E77"/>
<rect x="10" y="14" width="1" height="1" fill="#E69F00"/>
<rect x="11" y="14" width="1" height="1" fill="#CC79A7"/>
<rect x="12" y="14" width="1" height="1" fill="#7570B3"/>
<rect x="13" y="14" width="1" height="1" fill="#2C7FB8"/>
<rect x="14" y="14" width="1" height="1" fill="#8C5A2B"/>
<rect x="15" y="14" width="1" height="1" fill="#56B4E9"/>
<rect x="16" y="14" width="1" height="1" fill="#E69F00"/>
<rect x="17" y="14" width="1" height="1" fill="#2C7FB8"/>
<rect x="18" y="14" width="1" height="1" fill="#D55E00"/>
<rect x="19" y="14" width="1" height="1" fill="#F0E442"/>
<rect x="20" y="14" width="1" height="1" fill="#8C5A2B"/>
<rect x="21" y="14" width="1" height="1" fill="#2C7FB8"/>
<rect x="22" y="14" width="1" height="1" fill="#2C7FB8"/>
<rect x="0" y="15" width="1" height="1" fill="#1B9E77"/>
<rect x="1" y="15" width="1" height="1" fill="#009E73"/>
<rect x="2" y="15" width="1" height="1" fill="#56B4E9"/>
<rect x="3" y="15" width="1" height="1" fill="#7570B3"/>
<rect x="4" y="15" width="1" height="1" fill="#2C7FB8"/>
<rect x="5" y="15" width="1" height="1" fill="#D55E00"/>
<rect x="6" y="15" width="1" height="1" fill="#56B4E9"/>
<rect x="7" y="15" width="1" height="1" fill="#56B4E9"/>
<rect x="8" y="15" width="1" height="1" fill="#2C7FB8"/>
<rect x="9" y="15" width="1" height="1" fill="#8C5A2B"/>
<rect x="10" y="15" width="1" height="1" fill="#7570B3"/>
<rect x="11" y="15" width="1" height="1" fill="#009E73"/>
<rect x="12" y="15" width="1" height="1" fill="#2C7FB8"/>
<rect x="13" y="15" width="1" height="1" fill="#E69F00"/>
<rect x="14" y="15" width="1" height="1" fill="#E69F00"/>
<rect x="15" y="15" width="1" height="1" fill="#F0E442"/>
<rect x="16" y="15" width="1" height="1" fill="#009E73"/>
<rect x="17" y="15" width="1" height="1" fill="#E69F00"/>
<rect x="18" y="15" width="1" height="1" fill="#56B4E9"/>
<rect x="19" y="15" width="1" height="1" fill="#1B9E77"/>
<rect x="20" y="15" width="1" height="1" fill="#56B4E9"/>
<rect x="21" y="15" width="1" height="1" fill="#E69F00"/>
<rect x="22" y="15" width="1" height="1" fill="#D55E00"/>
<rect x="0" y="16" width="1" height="1" fill="#56B4E9"/>
<rect x="1" y="16" width="1" height="1" fill="#F0E442"/>
<rect x="2" y="16" width="1" height="1" fill="#F0E442"/>
<rect x="3" y="16" width="1" height="1" fill="#A6D854"/>
<rect x="4" y="16" width="1" height="1" fill="#56B4E9"/>
<rect x="5" y="16" width="1" height="1" fill="#A6D854"/>
<rect x="6" y="16" width="1" height="1" fill="#009E73"/>
<rect x="7" y="16" width="1" height="1" fill="#56B4E9"/>
<rect x="8" y="16" width="1" height="1" fill="#F0E442"/>
<rect x="9" y="16" width="1" height="1" fill="#009E73"/>
<rect x="10" y="16" width="1" height="1" fill="#CC79A7"/>
<rect x="11" y="16" width="1" height="1" fill="#2C7FB8"/>
<rect x="12" y="16" width="1" height="1" fill="#009E73"/>
<rect x="13" y="16" width="1" height="1" fill="#D55E00"/>
<rect x="14" y="16" width="1" height="1" fill="#7570B3"/>
<rect x="15" y="16" width="1" height="1" fill="#56B4E9"/>
<rect x="16" y="16" width="1" height="1" fill="#8C5A2B"/>
<rect x="17" y="16" width="1" height="1" fill="#009E73"/>
<rect x="18" y="16" width="1" height="1" fill="#E69F00"/>
<rect x="19" y="16" width="1" height="1" fill="#009E73"/>
<rect x="20" y="16" width="1" height="1" fill="#009E73"/>
<rect x="21" y="16" width="1" height="1" fill="#009E73"/>
<rect x="22" y="16" width="1" height="1" fill="#CC79A7"/>
<rect x="0" y="17" width="1" height="1" fill="#009E73"/>
<rect x="1" y="17" width="1" height="1" fill="#1B9E77"/>
<rect x="2" y="17" width="1" height="1" fill="#009E73"/>
<rect x="3" y="17" width="1" height="1" fill="#7570B3"/>
<rect x="4" y="17" width="1" height="1" fill="#009E73"/>
<rect x="5" y="17" width="1" height="1" fill="#56B4E9"/>
<rect x="6" y="17" width="1" height="1" fill="#E69F00"/>
<rect x="7" y="17" width="1" height="1" fill="#F0E442"/>
<rect x="8" y="17" width="1" height="1" fill="#CC79A7"/>
<rect x="9" y="17" width="1" height="1" fill="#2C7FB8"/>
<rect x="10" y="17" width="1" height="1" fill="#56B4E9"/>
<rect x="11" y="17" width="1" height="1" fill="#CC79A7"/>
<rect x="12" y="17" width="1" height="1" fill="#56B4E9"/>
<rect x="13" y="17" width="1" height="1" fill="#2C7FB8"/>
<rect x="14" y="17" width="1" height="1" fill="#F0E442"/>
<rect x="15" y="17" width="1" height="1" fill="#A6D854"/>
<rect x="16" y="17" width="1" height="1" fill="#D55E00"/>
<rect x="17" y="17" width="1" height="1" fill="#7570B3"/>
<rect x="18" y="17" width="1" height="1" fill="#1B9E77"/>
<rect x="19" y="17" width="1" height="1" fill="#56B4E9"/>
<rect x="20" y="17" width="1" height="1" fill="#8C5A2B"/>
<rect x="21" y="17" width="1" height="1" fill="#D55E00"/>
<rect x="22" y="17" width="1" height="1" fill="#8C5A2B"/>
<rect x="0" y="18" width="1" height="1" fill="#CC79A7"/>
<rect x="1" y="18" width="1" height="1" fill="#E69F00"/>
<rect x="2" y="18" width="1" height="1" fill="#2C7FB8"/>
<rect x="3" y="18" width="1" height="1" fill="#7570B3"/>
<rect x="4" y="18" width="1" height="1" fill="#2C7FB8"/>
<rect x="5" y="18" width="1" height="1" fill="#7570B3"/>
<rect x="6" y="18" width="1" height="1" fill="#1B9E77"/>
<rect x="7" y="18" width="1" height="1" fill="#CC79A7"/>
<rect x="8" y="18" width="1" height="1" fill="#A6D854"/>
<rect x="9" y="18" width="1" height="1" fill="#7570B3"/>
<rect x="10" y="18" width="1" height="1" fill="#8C5A2B"/>
<rect x="11" y="18" width="1" height="1" fill="#E69F00"/>
<rect x="12" y="18" width="1" height="1" fill="#8C5A2B"/>
<rect x="13" y="18" width="1" height="1" fill="#2C7FB8"/>
<rect x="14" y="18" width="1" height="1" fill="#F0E442"/>
<rect x="15" y="18" width="1" height="1" fill="#D55E00"/>
<rect x="16" y="18" width="1" height="1" fill="#009E73"/>
<rect x="17" y="18" width="1" height="1" fill="#009E73"/>
<rect x="18" y="18" width="1" height="1" fill="#F0E442"/>
<rect x="19" y="18" width="1" height="1" fill="#8C5A2B"/>
<rect x="20" y="18" width="1" height="1" fill="#7570B3"/>
<rect x="21" y="18" width="1" height="1" fill="#2C7FB8"/>
<rect x="22" y="18" width="1" height="1" fill="#56B4E9"/>
<rect x="0" y="19" width="1" height="1" fill="#2C7FB8"/>
<rect x="1" y="19" width="1" height="1" fill="#1B9E77"/>
<rect x="2" y="19" width="1" height="1" fill="#F0E442"/>
<rect x="3" y="19" width="1" height="1" fill="#7570B3"/>
<rect x="4" y="19" width="1" height="1" fill="#56B4E9"/>
<rect x="5" y="19" width="1" height="1" fill="#2C7FB8"/>
<rect x="6" y="19" width="1" height="1" fill="#8C5A2B"/>
<rect x="7" y="19" width="1" height="1" fill="#7570B3"/>
<rect x="8" y="19" width="1" height="1" fill="#56B4E9"/>
<rect x="9" y="19" width="1" height="1" fill="#E69F00"/>
<rect x="10" y="19" width="1" height="1" fill="#2C7FB8"/>
<rect x="11" y="19" width="1" height="1" fill="#7570B3"/>
<rect x="12" y="19" width="1" height="1" fill="#56B4E9"/>
<rect x="13" y="19" width="1" height="1" fill="#D55E00"/>
<rect x="14" y="19" width="1" height="1" fill="#2C7FB8"/>
<rect x="15" y="19" width="1" height="1" fill="#1B9E77"/>
<rect x="16" y="19" width="1" height="1" fill="#2C7FB8"/>
<rect x="17" y="19" width="1" height="1" fill="#E69F00"/>
<rect x="18" y="19" width="1" height="1" fill="#009E73"/>
<rect x="19" y="19" width="1" height="1" fill="#CC79A7"/>
<rect x="20" y="19" width="1" height="1" fill="#7570B3"/>
<rect x="21" y="19" width="1" height="1" fill="#E69F00"/>
<rect x="22" y="19" width="1" height="1" fill="#CC79A7"/>
<rect x="0" y="20" width="1" height="1" fill="#2C7FB8"/>
<rect x="1" y="20" width="1" height="1" fill="#E69F00"/>
<rect x="2" y="20" width="1" height="1" fill="#2C7FB8"/>
<rect x="3" y="20" width="1" height="1" fill="#D55E00"/>
<rect x="4" y="20" width="1" height="1" fill="#E69F00"/>
<rect x="5" y="20" width="1" height="1" fill="#7570B3"/>
<rect x="6" y="20" width="1" height="1" fill="#2C7FB8"/>
<rect x="7" y="20" width="1" height="1" fill="#E69F00"/>
<rect x="8" y="20" width="1" height="1" fill="#E69F00"/>
<rect x="9" y="20" width="1" height="1" fill="#7570B3"/>
<rect x="10" y="20" width="1" height="1" fill="#1B9E77"/>
<rect x="11" y="20" width="1" height="1" fill="#2C7FB8"/>
<rect x="12" y="20" width="1" height="1" fill="#009E73"/>
<rect x="13" y="20" width="1" height="1" fill="#F0E442"/>
<rect x="14" y="20" width="1" height="1" fill="#A6D854"/>
<rect x="15" y="20" width="1" height="1" fill="#E69F00"/>
<rect x="16" y="20" width="1" height="1" fill="#E69F00"/>
<rect x="17" y="20" width="1" height="1" fill="#56B4E9"/>
<rect x="18" y="20" width="1" height="1" fill="#2C7FB8"/>
<rect x="19" y="20" width="1" height="1" fill="#1B9E77"/>
<rect x="20" y="20" width="1" height="1" fill="#D55E00"/>
<rect x="21" y="20" width="1" height="1" fill="#009E73"/>
<rect x="22" y="20" width="1" height="1" fill="#009E73"/>
<rect x="0" y="21" width="1" height="1" fill="#F0E442"/>
<rect x="1" y="21" width="1" height="1" fill="#2C7FB8"/>
<rect x="2" y="21" width="1" height="1" fill="#8C5A2B"/>
<rect x="3" y="21" width="1" height="1" fill="#56B4E9"/>
<rect x="4" y="21" width="1" height="1" fill="#2C7FB8"/>
<rect x="5" y="21" width="1" height="1" fill="#F0E442"/>
<rect x="6" y="21" width="1" height="1" fill="#2C7FB8"/>
<rect x="7" y="21" width="1" height="1" fill="#CC79A7"/>
<rect x="8" y="21" width="1" height="1" fill="#56B4E9"/>
<rect x="9" y="21" width="1" height="1" fill="#56B4E9"/>
<rect x="10" y="21" width="1" height="1" fill="#1B9E77"/>
<rect x="11" y="21" width="1" height="1" fill="#E69F00"/>
<rect x="12" y="21" width="1" height="1" fill="#2C7FB8"/>
<rect x="13" y="21" width="1" height="1" fill="#7570B3"/>
<rect x="14" y="21" width="1" height="1" fill="#2C7FB8"/>
<rect x="15" y="21" width="1" height="1" fill="#1B9E77"/>
<rect x="16" y="21" width="1" height="1" fill="#2C7FB8"/>
<rect x="17" y="21" width="1" height="1" fill="#2C7FB8"/>
<rect x="18" y="21" width="1" height="1" fill="#56B4E9"/>
<rect x="19" y="21" width="1" height="1" fill="#56B4E9"/>
<rect x="20" y="21" width="1" height="1" fill="#009E73"/>
<rect x="21" y="21" width="1" height="1" fill="#2C7FB8"/>
<rect x="22" y="21" width="1" height="1" fill="#2C7FB8"/>
<rect x="0" y="22" width="1" height="1" fill="#8C5A2B"/>
<rect x="1" y="22" width="1" height="1" fill="#56B4E9"/>
<rect x="2" y="22" width="1" height="1" fill="#E69F00"/>
<rect x="3" y="22" width="1" height="1" fill="#56B4E9"/>
<rect x="4" y="22" width="1" height="1" fill="#2C7FB8"/>
<rect x="5" y="22" width="1" height="1" fill="#CC79A7"/>
<rect x="6" y="22" width="1" height="1" fill="#D55E00"/>
<rect x="7" y="22" width="1" height="1" fill="#CC79A7"/>
<rect x="8" y="22" width="1" height="1" fill="#D55E00"/>
<rect x="9" y="22" width="1" height="1" fill="#8C5A2B"/>
<rect x="10" y="22" width="1" height="1" fill="#D55E00"/>
<rect x="11" y="22" width="1" height="1" fill="#2C7FB8"/>
<rect x="12" y="22" width="1" height="1" fill="#D55E00"/>
<rect x="13" y="22" width="1" height="1" fill="#7570B3"/>
<rect x="14" y="22" width="1" height="1" fill="#2C7FB8"/>
<rect x="15" y="22" width="1" height="1" fill="#8C5A2B"/>
<rect x="16" y="22" width="1" height="1" fill="#1B9E77"/>
<rect x="17" y="22" width="1" height="1" fill="#D55E00"/>
<rect x="18" y="22" width="1" height="1" fill="#D55E00"/>
<rect x="19" y="22" width="1" height="1" fill="#7570B3"/>
<rect x="20" y="22" width="1" height="1" fill="#2C7FB8"/>
<rect x="21" y="22" width="1" height="1" fill="#D55E00"/>
<rect x="22" y="22" width="1" height="1" fill="#E69F00"/>
</pattern>
<pattern id="pd2" x="0" y="0" width="17" height="17" patternUnits="userSpaceOnUse">
<rect x="3" y="0" width="1" height="1" fill="#56B4E9"/>
<rect x="5" y="0" width="1" height="1" fill="#56B4E9"/>
<rect x="8" y="0" width="1" height="1" fill="#D55E00"/>
<rect x="12" y="0" width="1" height="1" fill="#E07A1F"/>
<rect x="0" y="1" width="1" height="1" fill="#E07A1F"/>
<rect x="1" y="1" width="1" height="1" fill="#56B4E9"/>
<rect x="3" y="1" width="1" height="1" fill="#56B4E9"/>
<rect x="4" y="1" width="1" height="1" fill="#E07A1F"/>
<rect x="5" y="1" width="1" height="1" fill="#56B4E9"/>
<rect x="7" y="1" width="1" height="1" fill="#0072B2"/>
<rect x="8" y="1" width="1" height="1" fill="#56B4E9"/>
<rect x="14" y="1" width="1" height="1" fill="#56B4E9"/>
<rect x="15" y="1" width="1" height="1" fill="#E07A1F"/>
<rect x="4" y="2" width="1" height="1" fill="#E07A1F"/>
<rect x="5" y="2" width="1" height="1" fill="#E07A1F"/>
<rect x="6" y="2" width="1" height="1" fill="#56B4E9"/>
<rect x="8" y="2" width="1" height="1" fill="#F0E442"/>
<rect x="16" y="2" width="1" height="1" fill="#CC79A7"/>
<rect x="1" y="3" width="1" height="1" fill="#56B4E9"/>
<rect x="3" y="3" width="1" height="1" fill="#56B4E9"/>
<rect x="4" y="3" width="1" height="1" fill="#0072B2"/>
<rect x="6" y="3" width="1" height="1" fill="#56B4E9"/>
<rect x="8" y="3" width="1" height="1" fill="#F0E442"/>
<rect x="9" y="3" width="1" height="1" fill="#E07A1F"/>
<rect x="10" y="3" width="1" height="1" fill="#E07A1F"/>
<rect x="14" y="3" width="1" height="1" fill="#56B4E9"/>
<rect x="15" y="3" width="1" height="1" fill="#E07A1F"/>
<rect x="0" y="4" width="1" height="1" fill="#E07A1F"/>
<rect x="2" y="4" width="1" height="1" fill="#56B4E9"/>
<rect x="4" y="4" width="1" height="1" fill="#E07A1F"/>
<rect x="5" y="4" width="1" height="1" fill="#E07A1F"/>
<rect x="8" y="4" width="1" height="1" fill="#E07A1F"/>
<rect x="10" y="4" width="1" height="1" fill="#56B4E9"/>
<rect x="11" y="4" width="1" height="1" fill="#56B4E9"/>
<rect x="12" y="4" width="1" height="1" fill="#56B4E9"/>
<rect x="13" y="4" width="1" height="1" fill="#F0E442"/>
<rect x="14" y="4" width="1" height="1" fill="#E07A1F"/>
<rect x="2" y="5" width="1" height="1" fill="#0072B2"/>
<rect x="3" y="5" width="1" height="1" fill="#56B4E9"/>
<rect x="9" y="5" width="1" height="1" fill="#56B4E9"/>
<rect x="10" y="5" width="1" height="1" fill="#56B4E9"/>
<rect x="15" y="5" width="1" height="1" fill="#0072B2"/>
<rect x="16" y="5" width="1" height="1" fill="#E07A1F"/>
<rect x="1" y="6" width="1" height="1" fill="#56B4E9"/>
<rect x="2" y="6" width="1" height="1" fill="#56B4E9"/>
<rect x="3" y="6" width="1" height="1" fill="#E07A1F"/>
<rect x="4" y="6" width="1" height="1" fill="#E07A1F"/>
<rect x="6" y="6" width="1" height="1" fill="#F0E442"/>
<rect x="9" y="6" width="1" height="1" fill="#56B4E9"/>
<rect x="10" y="6" width="1" height="1" fill="#E07A1F"/>
<rect x="13" y="6" width="1" height="1" fill="#F0E442"/>
<rect x="0" y="7" width="1" height="1" fill="#CC79A7"/>
<rect x="6" y="7" width="1" height="1" fill="#56B4E9"/>
<rect x="7" y="7" width="1" height="1" fill="#56B4E9"/>
<rect x="8" y="7" width="1" height="1" fill="#56B4E9"/>
<rect x="10" y="7" width="1" height="1" fill="#E07A1F"/>
<rect x="11" y="7" width="1" height="1" fill="#0072B2"/>
<rect x="12" y="7" width="1" height="1" fill="#0072B2"/>
<rect x="3" y="8" width="1" height="1" fill="#F0E442"/>
<rect x="5" y="8" width="1" height="1" fill="#E07A1F"/>
<rect x="6" y="8" width="1" height="1" fill="#56B4E9"/>
<rect x="7" y="8" width="1" height="1" fill="#009E73"/>
<rect x="8" y="8" width="1" height="1" fill="#E07A1F"/>
<rect x="10" y="8" width="1" height="1" fill="#56B4E9"/>
<rect x="11" y="8" width="1" height="1" fill="#E07A1F"/>
<rect x="13" y="8" width="1" height="1" fill="#E07A1F"/>
<rect x="14" y="8" width="1" height="1" fill="#E07A1F"/>
<rect x="15" y="8" width="1" height="1" fill="#E07A1F"/>
<rect x="1" y="9" width="1" height="1" fill="#56B4E9"/>
<rect x="3" y="9" width="1" height="1" fill="#F0E442"/>
<rect x="7" y="9" width="1" height="1" fill="#E07A1F"/>
<rect x="8" y="9" width="1" height="1" fill="#E07A1F"/>
<rect x="11" y="9" width="1" height="1" fill="#E07A1F"/>
<rect x="13" y="9" width="1" height="1" fill="#E07A1F"/>
<rect x="5" y="10" width="1" height="1" fill="#E07A1F"/>
<rect x="6" y="10" width="1" height="1" fill="#56B4E9"/>
<rect x="7" y="10" width="1" height="1" fill="#CC79A7"/>
<rect x="9" y="10" width="1" height="1" fill="#56B4E9"/>
<rect x="10" y="10" width="1" height="1" fill="#0072B2"/>
<rect x="11" y="10" width="1" height="1" fill="#F0E442"/>
<rect x="14" y="10" width="1" height="1" fill="#56B4E9"/>
<rect x="16" y="10" width="1" height="1" fill="#E07A1F"/>
<rect x="0" y="11" width="1" height="1" fill="#0072B2"/>
<rect x="3" y="11" width="1" height="1" fill="#E07A1F"/>
<rect x="4" y="11" width="1" height="1" fill="#E07A1F"/>
<rect x="5" y="11" width="1" height="1" fill="#E07A1F"/>
<rect x="6" y="11" width="1" height="1" fill="#F0E442"/>
<rect x="7" y="11" width="1" height="1" fill="#E07A1F"/>
<rect x="8" y="11" width="1" height="1" fill="#F0E442"/>
<rect x="11" y="11" width="1" height="1" fill="#CC79A7"/>
<rect x="14" y="11" width="1" height="1" fill="#E07A1F"/>
<rect x="2" y="12" width="1" height="1" fill="#56B4E9"/>
<rect x="6" y="12" width="1" height="1" fill="#0072B2"/>
<rect x="8" y="12" width="1" height="1" fill="#F0E442"/>
<rect x="9" y="12" width="1" height="1" fill="#009E73"/>
<rect x="10" y="12" width="1" height="1" fill="#E07A1F"/>
<rect x="12" y="12" width="1" height="1" fill="#E07A1F"/>
<rect x="13" y="12" width="1" height="1" fill="#56B4E9"/>
<rect x="14" y="12" width="1" height="1" fill="#E07A1F"/>
<rect x="15" y="12" width="1" height="1" fill="#D55E00"/>
<rect x="16" y="12" width="1" height="1" fill="#56B4E9"/>
<rect x="4" y="13" width="1" height="1" fill="#56B4E9"/>
<rect x="7" y="13" width="1" height="1" fill="#E07A1F"/>
<rect x="8" y="13" width="1" height="1" fill="#56B4E9"/>
<rect x="9" y="13" width="1" height="1" fill="#56B4E9"/>
<rect x="14" y="13" width="1" height="1" fill="#56B4E9"/>
<rect x="15" y="13" width="1" height="1" fill="#56B4E9"/>
<rect x="16" y="13" width="1" height="1" fill="#F0E442"/>
<rect x="1" y="14" width="1" height="1" fill="#009E73"/>
<rect x="3" y="14" width="1" height="1" fill="#E07A1F"/>
<rect x="4" y="14" width="1" height="1" fill="#56B4E9"/>
<rect x="5" y="14" width="1" height="1" fill="#E07A1F"/>
<rect x="6" y="14" width="1" height="1" fill="#E07A1F"/>
<rect x="8" y="14" width="1" height="1" fill="#D55E00"/>
<rect x="9" y="14" width="1" height="1" fill="#E07A1F"/>
<rect x="13" y="14" width="1" height="1" fill="#E07A1F"/>
<rect x="16" y="14" width="1" height="1" fill="#56B4E9"/>
<rect x="1" y="15" width="1" height="1" fill="#F0E442"/>
<rect x="5" y="15" width="1" height="1" fill="#56B4E9"/>
<rect x="8" y="15" width="1" height="1" fill="#F0E442"/>
<rect x="13" y="15" width="1" height="1" fill="#F0E442"/>
<rect x="15" y="15" width="1" height="1" fill="#56B4E9"/>
<rect x="16" y="15" width="1" height="1" fill="#56B4E9"/>
<rect x="4" y="16" width="1" height="1" fill="#F0E442"/>
<rect x="5" y="16" width="1" height="1" fill="#E07A1F"/>
<rect x="8" y="16" width="1" height="1" fill="#56B4E9"/>
<rect x="9" y="16" width="1" height="1" fill="#009E73"/>
<rect x="12" y="16" width="1" height="1" fill="#D55E00"/>
</pattern>
<pattern id="pe2" x="0" y="0" width="17" height="17" patternUnits="userSpaceOnUse">
<rect x="2" y="0" width="1" height="1" fill="#F0E442"/>
<rect x="5" y="0" width="1" height="1" fill="#2C7FB8"/>
<rect x="7" y="0" width="1" height="1" fill="#F0E442"/>
<rect x="8" y="0" width="1" height="1" fill="#CC79A7"/>
<rect x="9" y="0" width="1" height="1" fill="#2C7FB8"/>
<rect x="11" y="0" width="1" height="1" fill="#A6D854"/>
<rect x="12" y="0" width="1" height="1" fill="#A6D854"/>
<rect x="14" y="0" width="1" height="1" fill="#009E73"/>
<rect x="15" y="0" width="1" height="1" fill="#8C5A2B"/>
<rect x="1" y="1" width="1" height="1" fill="#009E73"/>
<rect x="3" y="1" width="1" height="1" fill="#2C7FB8"/>
<rect x="5" y="1" width="1" height="1" fill="#E69F00"/>
<rect x="10" y="1" width="1" height="1" fill="#CC79A7"/>
<rect x="13" y="1" width="1" height="1" fill="#009E73"/>
<rect x="14" y="1" width="1" height="1" fill="#2C7FB8"/>
<rect x="0" y="2" width="1" height="1" fill="#F0E442"/>
<rect x="1" y="2" width="1" height="1" fill="#56B4E9"/>
<rect x="2" y="2" width="1" height="1" fill="#A6D854"/>
<rect x="3" y="2" width="1" height="1" fill="#7570B3"/>
<rect x="5" y="2" width="1" height="1" fill="#1B9E77"/>
<rect x="8" y="2" width="1" height="1" fill="#2C7FB8"/>
<rect x="11" y="2" width="1" height="1" fill="#E69F00"/>
<rect x="12" y="2" width="1" height="1" fill="#F0E442"/>
<rect x="3" y="3" width="1" height="1" fill="#56B4E9"/>
<rect x="4" y="3" width="1" height="1" fill="#8C5A2B"/>
<rect x="5" y="3" width="1" height="1" fill="#F0E442"/>
<rect x="6" y="3" width="1" height="1" fill="#8C5A2B"/>
<rect x="9" y="3" width="1" height="1" fill="#56B4E9"/>
<rect x="15" y="3" width="1" height="1" fill="#A6D854"/>
<rect x="0" y="4" width="1" height="1" fill="#009E73"/>
<rect x="1" y="4" width="1" height="1" fill="#1B9E77"/>
<rect x="4" y="4" width="1" height="1" fill="#7570B3"/>
<rect x="5" y="4" width="1" height="1" fill="#7570B3"/>
<rect x="6" y="4" width="1" height="1" fill="#2C7FB8"/>
<rect x="7" y="4" width="1" height="1" fill="#2C7FB8"/>
<rect x="8" y="4" width="1" height="1" fill="#CC79A7"/>
<rect x="9" y="4" width="1" height="1" fill="#7570B3"/>
<rect x="12" y="4" width="1" height="1" fill="#009E73"/>
<rect x="14" y="4" width="1" height="1" fill="#56B4E9"/>
<rect x="0" y="5" width="1" height="1" fill="#7570B3"/>
<rect x="1" y="5" width="1" height="1" fill="#009E73"/>
<rect x="7" y="5" width="1" height="1" fill="#2C7FB8"/>
<rect x="12" y="5" width="1" height="1" fill="#009E73"/>
<rect x="15" y="5" width="1" height="1" fill="#7570B3"/>
<rect x="2" y="6" width="1" height="1" fill="#2C7FB8"/>
<rect x="3" y="6" width="1" height="1" fill="#E69F00"/>
<rect x="5" y="6" width="1" height="1" fill="#009E73"/>
<rect x="6" y="6" width="1" height="1" fill="#CC79A7"/>
<rect x="10" y="6" width="1" height="1" fill="#E69F00"/>
<rect x="12" y="6" width="1" height="1" fill="#D55E00"/>
<rect x="13" y="6" width="1" height="1" fill="#56B4E9"/>
<rect x="14" y="6" width="1" height="1" fill="#56B4E9"/>
<rect x="15" y="6" width="1" height="1" fill="#009E73"/>
<rect x="16" y="6" width="1" height="1" fill="#1B9E77"/>
<rect x="0" y="7" width="1" height="1" fill="#E69F00"/>
<rect x="2" y="7" width="1" height="1" fill="#CC79A7"/>
<rect x="6" y="7" width="1" height="1" fill="#2C7FB8"/>
<rect x="10" y="7" width="1" height="1" fill="#E69F00"/>
<rect x="11" y="7" width="1" height="1" fill="#D55E00"/>
<rect x="0" y="8" width="1" height="1" fill="#1B9E77"/>
<rect x="3" y="8" width="1" height="1" fill="#E69F00"/>
<rect x="5" y="8" width="1" height="1" fill="#F0E442"/>
<rect x="6" y="8" width="1" height="1" fill="#D55E00"/>
<rect x="8" y="8" width="1" height="1" fill="#A6D854"/>
<rect x="10" y="8" width="1" height="1" fill="#A6D854"/>
<rect x="11" y="8" width="1" height="1" fill="#8C5A2B"/>
<rect x="12" y="8" width="1" height="1" fill="#7570B3"/>
<rect x="14" y="8" width="1" height="1" fill="#D55E00"/>
<rect x="16" y="8" width="1" height="1" fill="#2C7FB8"/>
<rect x="0" y="9" width="1" height="1" fill="#D55E00"/>
<rect x="4" y="9" width="1" height="1" fill="#009E73"/>
<rect x="5" y="9" width="1" height="1" fill="#A6D854"/>
<rect x="7" y="9" width="1" height="1" fill="#E69F00"/>
<rect x="11" y="9" width="1" height="1" fill="#8C5A2B"/>
<rect x="12" y="9" width="1" height="1" fill="#009E73"/>
<rect x="1" y="10" width="1" height="1" fill="#D55E00"/>
<rect x="8" y="10" width="1" height="1" fill="#009E73"/>
<rect x="11" y="10" width="1" height="1" fill="#009E73"/>
<rect x="12" y="10" width="1" height="1" fill="#7570B3"/>
<rect x="13" y="10" width="1" height="1" fill="#2C7FB8"/>
<rect x="14" y="10" width="1" height="1" fill="#2C7FB8"/>
<rect x="16" y="10" width="1" height="1" fill="#CC79A7"/>
<rect x="3" y="11" width="1" height="1" fill="#2C7FB8"/>
<rect x="4" y="11" width="1" height="1" fill="#E69F00"/>
<rect x="7" y="11" width="1" height="1" fill="#56B4E9"/>
<rect x="9" y="11" width="1" height="1" fill="#E69F00"/>
<rect x="15" y="11" width="1" height="1" fill="#56B4E9"/>
<rect x="0" y="12" width="1" height="1" fill="#A6D854"/>
<rect x="1" y="12" width="1" height="1" fill="#56B4E9"/>
<rect x="2" y="12" width="1" height="1" fill="#CC79A7"/>
<rect x="3" y="12" width="1" height="1" fill="#E69F00"/>
<rect x="6" y="12" width="1" height="1" fill="#2C7FB8"/>
<rect x="8" y="12" width="1" height="1" fill="#A6D854"/>
<rect x="12" y="12" width="1" height="1" fill="#56B4E9"/>
<rect x="14" y="12" width="1" height="1" fill="#E69F00"/>
<rect x="15" y="12" width="1" height="1" fill="#D55E00"/>
<rect x="16" y="12" width="1" height="1" fill="#F0E442"/>
<rect x="2" y="13" width="1" height="1" fill="#009E73"/>
<rect x="4" y="13" width="1" height="1" fill="#009E73"/>
<rect x="7" y="13" width="1" height="1" fill="#E69F00"/>
<rect x="9" y="13" width="1" height="1" fill="#CC79A7"/>
<rect x="10" y="13" width="1" height="1" fill="#F0E442"/>
<rect x="12" y="13" width="1" height="1" fill="#7570B3"/>
<rect x="15" y="13" width="1" height="1" fill="#7570B3"/>
<rect x="16" y="13" width="1" height="1" fill="#009E73"/>
<rect x="1" y="14" width="1" height="1" fill="#F0E442"/>
<rect x="6" y="14" width="1" height="1" fill="#1B9E77"/>
<rect x="7" y="14" width="1" height="1" fill="#7570B3"/>
<rect x="9" y="14" width="1" height="1" fill="#D55E00"/>
<rect x="14" y="14" width="1" height="1" fill="#F0E442"/>
<rect x="15" y="14" width="1" height="1" fill="#A6D854"/>
<rect x="16" y="14" width="1" height="1" fill="#A6D854"/>
<rect x="5" y="15" width="1" height="1" fill="#2C7FB8"/>
<rect x="6" y="15" width="1" height="1" fill="#D55E00"/>
<rect x="7" y="15" width="1" height="1" fill="#56B4E9"/>
<rect x="12" y="15" width="1" height="1" fill="#1B9E77"/>
<rect x="16" y="15" width="1" height="1" fill="#009E73"/>
<rect x="0" y="16" width="1" height="1" fill="#2C7FB8"/>
<rect x="1" y="16" width="1" height="1" fill="#56B4E9"/>
<rect x="2" y="16" width="1" height="1" fill="#56B4E9"/>
<rect x="5" y="16" width="1" height="1" fill="#CC79A7"/>
<rect x="6" y="16" width="1" height="1" fill="#009E73"/>
<rect x="8" y="16" width="1" height="1" fill="#2C7FB8"/>
<rect x="9" y="16" width="1" height="1" fill="#E69F00"/>
<rect x="13" y="16" width="1" height="1" fill="#2C7FB8"/>
<rect x="15" y="16" width="1" height="1" fill="#009E73"/>
<rect x="16" y="16" width="1" height="1" fill="#2C7FB8"/>
</pattern>
<filter id="bl" x="-5%" y="-5%" width="110%" height="110%"><feGaussianBlur stdDeviation="0.42"/></filter>
<clipPath id="clipf"><rect x="63.6" y="331" width="321.6" height="105"/></clipPath>
<clipPath id="clipj"><rect x="62.3" y="599" width="339.5" height="96"/></clipPath>
</defs>
<text x="2.6" y="137.9" font-size="14.2" font-weight="bold">c</text>
<rect x="44.5" y="144.3" width="148.2" height="139.0" fill="none" stroke="#222" stroke-width="1"/>
<line x1="42.3" y1="150.2" x2="44.5" y2="150.2" stroke="#333" stroke-width="0.9"/>
<text x="40.1" y="153.3" font-size="8.9" text-anchor="end" fill="#4D4D4D" stroke="#4D4D4D" stroke-width="0.25">5.0</text>
<line x1="42.3" y1="176.6" x2="44.5" y2="176.6" stroke="#333" stroke-width="0.9"/>
<text x="40.1" y="179.7" font-size="8.9" text-anchor="end" fill="#4D4D4D" stroke="#4D4D4D" stroke-width="0.25">2.5</text>
<line x1="42.3" y1="203.0" x2="44.5" y2="203.0" stroke="#333" stroke-width="0.9"/>
<text x="40.1" y="206.1" font-size="8.9" text-anchor="end" fill="#4D4D4D" stroke="#4D4D4D" stroke-width="0.25">0.0</text>
<line x1="42.3" y1="229.4" x2="44.5" y2="229.4" stroke="#333" stroke-width="0.9"/>
<text x="40.1" y="232.5" font-size="8.9" text-anchor="end" fill="#4D4D4D" stroke="#4D4D4D" stroke-width="0.25">−2.5</text>
<line x1="42.3" y1="255.8" x2="44.5" y2="255.8" stroke="#333" stroke-width="0.9"/>
<text x="40.1" y="258.9" font-size="8.9" text-anchor="end" fill="#4D4D4D" stroke="#4D4D4D" stroke-width="0.25">−5.0</text>
<line x1="42.3" y1="282.2" x2="44.5" y2="282.2" stroke="#333" stroke-width="0.9"/>
<text x="40.1" y="285.3" font-size="8.9" text-anchor="end" fill="#4D4D4D" stroke="#4D4D4D" stroke-width="0.25">−7.5</text>
<line x1="47.7" y1="283.3" x2="47.7" y2="285.5" stroke="#333" stroke-width="0.9"/>
<text x="47.7" y="293.6" font-size="8.9" text-anchor="middle" fill="#4D4D4D" stroke="#4D4D4D" stroke-width="0.25">−10</text>
<line x1="80.8" y1="283.3" x2="80.8" y2="285.5" stroke="#333" stroke-width="0.9"/>
<text x="80.8" y="293.6" font-size="8.9" text-anchor="middle" fill="#4D4D4D" stroke="#4D4D4D" stroke-width="0.25">−5</text>
<line x1="114.0" y1="283.3" x2="114.0" y2="285.5" stroke="#333" stroke-width="0.9"/>
<text x="114.0" y="293.6" font-size="8.9" text-anchor="middle" fill="#4D4D4D" stroke="#4D4D4D" stroke-width="0.25">0</text>
<line x1="147.2" y1="283.3" x2="147.2" y2="285.5" stroke="#333" stroke-width="0.9"/>
<text x="147.2" y="293.6" font-size="8.9" text-anchor="middle" fill="#4D4D4D" stroke="#4D4D4D" stroke-width="0.25">5</text>
<line x1="180.3" y1="283.3" x2="180.3" y2="285.5" stroke="#333" stroke-width="0.9"/>
<text x="180.3" y="293.6" font-size="8.9" text-anchor="middle" fill="#4D4D4D" stroke="#4D4D4D" stroke-width="0.25">10</text>
<text x="119.4" y="304.3" font-size="9.0" text-anchor="middle" stroke="#000" stroke-width="0.25">UMAP_1</text>
<text x="22.3" y="206.5" font-size="9.1" text-anchor="middle" transform="rotate(-90 22.3 206.5)" stroke="#000" stroke-width="0.25">UMAP_2</text>
<text x="189.5" y="279.6" font-size="8.6" text-anchor="end" stroke="#000" stroke-width="0.25">condition</text>
<polygon points="63.4,152.9 66.9,150.7 71.3,150.3 76.1,151.6 79.2,154.6 80.9,159.9 82.7,166.0 86.2,169.5 92.7,170.4 96.7,173.0 98.9,178.3 100.6,185.3 101.0,192.3 99.7,199.3 97.1,206.3 95.8,210.9 94.9,218.8 92.7,227.5 91.4,236.3 89.7,245.0 88.8,253.8 84.4,257.3 80.0,259.9 75.6,262.5 72.1,269.5 68.6,274.8 64.7,277.9 62.5,277.4 59.0,273.0 57.7,266.9 56.8,258.2 56.4,249.4 57.3,243.3 59.0,236.3 59.0,227.5 58.1,218.8 56.8,210.9 56.4,208.0 54.6,201.0 52.4,194.0 50.7,187.9 50.3,181.8 51.6,173.9 53.8,166.9 55.5,160.8 61.6,156.4" fill="#4AAFE2"/>
<polygon points="148.7,150.6 154.9,151.2 159.9,154.3 166.1,155.6 173.6,157.4 176.0,162.4 176.7,176.1 177.3,187.3 181.0,194.8 183.5,203.5 185.4,214.7 186.0,222.2 183.5,232.1 179.8,240.8 174.8,247.0 171.1,248.3 162.4,245.8 156.1,243.3 147.4,242.1 137.4,243.3 132.5,242.1 130.6,232.1 130.6,219.7 133.7,207.2 131.8,199.8 130.0,192.3 130.0,182.3 130.6,169.9 133.7,161.2 138.7,156.2 143.7,152.5" fill="#E59B25"/>
<circle cx="66.7" cy="169.5" r="0.5" fill="#fff" opacity="0.75"/>
<circle cx="77.5" cy="197.0" r="0.5" fill="#fff" opacity="0.75"/>
<circle cx="71.8" cy="255.8" r="0.5" fill="#fff" opacity="0.75"/>
<circle cx="56.6" cy="178.8" r="0.5" fill="#fff" opacity="0.75"/>
<circle cx="79.6" cy="200.9" r="0.5" fill="#fff" opacity="0.75"/>
<circle cx="93.8" cy="187.3" r="0.5" fill="#fff" opacity="0.75"/>
<circle cx="57.6" cy="165.3" r="0.5" fill="#fff" opacity="0.75"/>
<circle cx="65.9" cy="254.4" r="0.5" fill="#fff" opacity="0.75"/>
<circle cx="59.5" cy="224.5" r="0.5" fill="#fff" opacity="0.75"/>
<circle cx="82.7" cy="197.8" r="0.5" fill="#fff" opacity="0.75"/>
<circle cx="78.1" cy="158.3" r="0.5" fill="#fff" opacity="0.75"/>
<circle cx="53.3" cy="176.6" r="0.5" fill="#fff" opacity="0.75"/>
<circle cx="84.8" cy="204.9" r="0.5" fill="#fff" opacity="0.75"/>
<circle cx="66.2" cy="225.0" r="0.5" fill="#fff" opacity="0.75"/>
<circle cx="73.3" cy="188.6" r="0.5" fill="#fff" opacity="0.75"/>
<circle cx="90.6" cy="239.5" r="0.5" fill="#fff" opacity="0.75"/>
<circle cx="62.7" cy="223.6" r="0.5" fill="#fff" opacity="0.75"/>
<circle cx="87.3" cy="187.0" r="0.5" fill="#fff" opacity="0.75"/>
<circle cx="71.5" cy="246.9" r="0.5" fill="#fff" opacity="0.75"/>
<circle cx="58.0" cy="212.7" r="0.5" fill="#fff" opacity="0.75"/>
<circle cx="89.1" cy="223.4" r="0.5" fill="#fff" opacity="0.75"/>
<circle cx="94.7" cy="190.3" r="0.5" fill="#fff" opacity="0.75"/>
<circle cx="85.6" cy="226.1" r="0.5" fill="#fff" opacity="0.75"/>
<circle cx="79.7" cy="208.5" r="0.5" fill="#fff" opacity="0.75"/>
<circle cx="74.3" cy="235.0" r="0.5" fill="#fff" opacity="0.75"/>
<circle cx="92.0" cy="186.6" r="0.5" fill="#fff" opacity="0.75"/>
<circle cx="69.9" cy="235.6" r="0.5" fill="#fff" opacity="0.75"/>
<circle cx="58.8" cy="165.2" r="0.5" fill="#fff" opacity="0.75"/>
<circle cx="56.9" cy="181.9" r="0.5" fill="#fff" opacity="0.75"/>
<circle cx="70.1" cy="261.5" r="0.5" fill="#fff" opacity="0.75"/>
<circle cx="64.4" cy="203.3" r="0.5" fill="#fff" opacity="0.75"/>
<circle cx="68.5" cy="263.1" r="0.5" fill="#fff" opacity="0.75"/>
<circle cx="59.2" cy="179.9" r="0.5" fill="#fff" opacity="0.75"/>
<circle cx="62.1" cy="212.2" r="0.5" fill="#fff" opacity="0.75"/>
<circle cx="80.2" cy="183.8" r="0.5" fill="#fff" opacity="0.75"/>
<circle cx="69.0" cy="222.6" r="0.5" fill="#fff" opacity="0.75"/>
<circle cx="76.4" cy="229.1" r="0.5" fill="#fff" opacity="0.75"/>
<circle cx="70.2" cy="201.2" r="0.5" fill="#fff" opacity="0.75"/>
<circle cx="60.9" cy="171.0" r="0.5" fill="#fff" opacity="0.75"/>
<circle cx="67.5" cy="157.0" r="0.5" fill="#fff" opacity="0.75"/>
<circle cx="55.4" cy="196.7" r="0.5" fill="#fff" opacity="0.75"/>
<circle cx="81.4" cy="169.3" r="0.5" fill="#fff" opacity="0.75"/>
<circle cx="63.1" cy="194.6" r="0.5" fill="#fff" opacity="0.75"/>
<circle cx="68.8" cy="166.0" r="0.5" fill="#fff" opacity="0.75"/>
<circle cx="73.9" cy="212.0" r="0.5" fill="#fff" opacity="0.75"/>
<circle cx="83.6" cy="160.8" r="0.7" fill="#fff"/>
<circle cx="85.4" cy="162.1" r="0.7" fill="#fff"/>
<circle cx="88.8" cy="161.3" r="0.7" fill="#fff"/>
<circle cx="83.2" cy="167.6" r="0.7" fill="#fff"/>
<circle cx="86.7" cy="161.2" r="0.7" fill="#fff"/>
<circle cx="86.8" cy="160.2" r="0.7" fill="#fff"/>
<circle cx="86.7" cy="167.8" r="0.7" fill="#fff"/>
<circle cx="89.0" cy="165.6" r="0.7" fill="#fff"/>
<circle cx="84.8" cy="162.9" r="0.7" fill="#fff"/>
<circle cx="84.2" cy="166.2" r="0.7" fill="#fff"/>
<circle cx="86.7" cy="166.2" r="0.7" fill="#fff"/>
<circle cx="85.3" cy="161.8" r="0.7" fill="#fff"/>
<circle cx="78.3" cy="256.2" r="0.7" fill="#fff"/>
<circle cx="78.6" cy="258.3" r="0.7" fill="#fff"/>
<circle cx="85.6" cy="255.4" r="0.7" fill="#fff"/>
<circle cx="85.6" cy="254.4" r="0.7" fill="#fff"/>
<circle cx="84.4" cy="255.8" r="0.7" fill="#fff"/>
<circle cx="76.8" cy="257.9" r="0.7" fill="#fff"/>
<circle cx="83.5" cy="255.7" r="0.7" fill="#fff"/>
<circle cx="77.8" cy="259.5" r="0.7" fill="#fff"/>
<circle cx="79.3" cy="259.6" r="0.7" fill="#fff"/>
<circle cx="85.7" cy="254.8" r="0.7" fill="#fff"/>
<circle cx="83.2" cy="252.0" r="0.7" fill="#fff"/>
<circle cx="77.5" cy="259.9" r="0.7" fill="#fff"/>
<circle cx="85.8" cy="257.9" r="0.7" fill="#fff"/>
<circle cx="79.5" cy="256.6" r="0.7" fill="#fff"/>
<circle cx="93.3" cy="168.9" r="0.6" fill="#4AAFE2"/>
<circle cx="95.7" cy="170.2" r="0.6" fill="#4AAFE2"/>
<circle cx="92.7" cy="220.6" r="0.6" fill="#4AAFE2"/>
<circle cx="60.1" cy="225.5" r="0.6" fill="#4AAFE2"/>
<circle cx="57.6" cy="260.0" r="0.6" fill="#4AAFE2"/>
<circle cx="58.2" cy="243.4" r="0.6" fill="#4AAFE2"/>
<circle cx="100.9" cy="189.0" r="0.6" fill="#4AAFE2"/>
<circle cx="50.3" cy="189.3" r="0.6" fill="#4AAFE2"/>
<circle cx="57.8" cy="212.9" r="0.6" fill="#4AAFE2"/>
<circle cx="100.8" cy="193.1" r="0.6" fill="#4AAFE2"/>
<circle cx="79.1" cy="156.2" r="0.6" fill="#4AAFE2"/>
<circle cx="55.4" cy="159.5" r="0.6" fill="#4AAFE2"/>
<circle cx="96.9" cy="214.8" r="0.6" fill="#4AAFE2"/>
<circle cx="57.3" cy="212.8" r="0.6" fill="#4AAFE2"/>
<circle cx="67.5" cy="276.5" r="0.6" fill="#4AAFE2"/>
<circle cx="53.5" cy="173.0" r="0.6" fill="#4AAFE2"/>
<circle cx="52.4" cy="178.2" r="0.6" fill="#4AAFE2"/>
<circle cx="97.9" cy="210.9" r="0.6" fill="#4AAFE2"/>
<circle cx="54.0" cy="169.0" r="0.6" fill="#4AAFE2"/>
<circle cx="82.3" cy="258.7" r="0.6" fill="#4AAFE2"/>
<circle cx="81.8" cy="258.8" r="0.6" fill="#4AAFE2"/>
<circle cx="52.4" cy="192.1" r="0.6" fill="#4AAFE2"/>
<circle cx="96.5" cy="211.3" r="0.6" fill="#4AAFE2"/>
<circle cx="101.4" cy="188.0" r="0.6" fill="#4AAFE2"/>
<circle cx="92.8" cy="222.1" r="0.6" fill="#4AAFE2"/>
<circle cx="89.8" cy="254.7" r="0.6" fill="#4AAFE2"/>
<circle cx="80.1" cy="156.1" r="0.6" fill="#4AAFE2"/>
<circle cx="54.5" cy="195.8" r="0.6" fill="#4AAFE2"/>
<circle cx="78.1" cy="261.0" r="0.6" fill="#4AAFE2"/>
<circle cx="73.9" cy="151.5" r="0.6" fill="#4AAFE2"/>
<circle cx="77.9" cy="151.6" r="0.6" fill="#4AAFE2"/>
<circle cx="98.3" cy="201.3" r="0.6" fill="#4AAFE2"/>
<circle cx="71.5" cy="150.3" r="0.6" fill="#4AAFE2"/>
<circle cx="100.4" cy="197.0" r="0.6" fill="#4AAFE2"/>
<circle cx="49.0" cy="178.4" r="0.6" fill="#4AAFE2"/>
<circle cx="58.0" cy="241.9" r="0.6" fill="#4AAFE2"/>
<circle cx="64.8" cy="156.2" r="0.6" fill="#4AAFE2"/>
<circle cx="91.3" cy="169.0" r="0.6" fill="#4AAFE2"/>
<circle cx="77.5" cy="150.2" r="0.6" fill="#4AAFE2"/>
<circle cx="90.3" cy="241.2" r="0.6" fill="#4AAFE2"/>
<circle cx="91.9" cy="234.0" r="0.6" fill="#4AAFE2"/>
<circle cx="59.7" cy="216.7" r="0.6" fill="#4AAFE2"/>
<circle cx="99.8" cy="186.1" r="0.6" fill="#4AAFE2"/>
<circle cx="100.7" cy="193.6" r="0.6" fill="#4AAFE2"/>
<circle cx="97.8" cy="175.2" r="0.6" fill="#4AAFE2"/>
<circle cx="98.9" cy="206.2" r="0.6" fill="#4AAFE2"/>
<circle cx="61.6" cy="152.7" r="0.6" fill="#4AAFE2"/>
<circle cx="56.3" cy="247.1" r="0.6" fill="#4AAFE2"/>
<circle cx="62.1" cy="152.1" r="0.6" fill="#4AAFE2"/>
<circle cx="96.4" cy="171.5" r="0.6" fill="#4AAFE2"/>
<circle cx="68.7" cy="149.3" r="0.6" fill="#4AAFE2"/>
<circle cx="59.7" cy="158.1" r="0.6" fill="#4AAFE2"/>
<circle cx="83.7" cy="167.4" r="0.6" fill="#4AAFE2"/>
<circle cx="58.3" cy="221.6" r="0.6" fill="#4AAFE2"/>
<circle cx="59.8" cy="237.7" r="0.6" fill="#4AAFE2"/>
<circle cx="57.4" cy="256.3" r="0.6" fill="#4AAFE2"/>
<circle cx="98.4" cy="200.0" r="0.6" fill="#4AAFE2"/>
<circle cx="79.3" cy="155.6" r="0.6" fill="#4AAFE2"/>
<circle cx="49.8" cy="179.7" r="0.6" fill="#4AAFE2"/>
<circle cx="57.2" cy="159.4" r="0.6" fill="#4AAFE2"/>
<circle cx="92.0" cy="236.5" r="0.6" fill="#4AAFE2"/>
<circle cx="61.4" cy="154.8" r="0.6" fill="#4AAFE2"/>
<circle cx="60.2" cy="216.9" r="0.6" fill="#4AAFE2"/>
<circle cx="54.4" cy="266.1" r="0.6" fill="#4AAFE2"/>
<circle cx="72.0" cy="270.4" r="0.6" fill="#4AAFE2"/>
<circle cx="98.3" cy="177.9" r="0.6" fill="#4AAFE2"/>
<circle cx="51.7" cy="183.8" r="0.6" fill="#4AAFE2"/>
<circle cx="58.1" cy="249.1" r="0.6" fill="#4AAFE2"/>
<circle cx="68.0" cy="276.4" r="0.6" fill="#4AAFE2"/>
<circle cx="84.4" cy="255.4" r="0.6" fill="#4AAFE2"/>
<circle cx="100.7" cy="196.8" r="0.6" fill="#4AAFE2"/>
<circle cx="67.4" cy="275.7" r="0.6" fill="#4AAFE2"/>
<circle cx="91.5" cy="235.3" r="0.6" fill="#4AAFE2"/>
<circle cx="50.3" cy="183.0" r="0.6" fill="#4AAFE2"/>
<circle cx="100.2" cy="196.7" r="0.6" fill="#4AAFE2"/>
<circle cx="51.4" cy="184.6" r="0.6" fill="#4AAFE2"/>
<circle cx="80.9" cy="159.1" r="0.6" fill="#4AAFE2"/>
<circle cx="49.2" cy="175.1" r="0.6" fill="#4AAFE2"/>
<circle cx="99.2" cy="182.3" r="0.6" fill="#4AAFE2"/>
<circle cx="50.2" cy="179.0" r="0.6" fill="#4AAFE2"/>
<circle cx="67.9" cy="274.9" r="0.6" fill="#4AAFE2"/>
<circle cx="56.0" cy="246.3" r="0.6" fill="#4AAFE2"/>
<circle cx="62.2" cy="277.2" r="0.6" fill="#4AAFE2"/>
<circle cx="80.2" cy="163.2" r="0.6" fill="#4AAFE2"/>
<circle cx="69.3" cy="150.9" r="0.6" fill="#4AAFE2"/>
<circle cx="71.2" cy="269.8" r="0.6" fill="#4AAFE2"/>
<circle cx="73.8" cy="263.4" r="0.6" fill="#4AAFE2"/>
<circle cx="100.2" cy="199.4" r="0.6" fill="#4AAFE2"/>
<circle cx="60.3" cy="271.5" r="0.6" fill="#4AAFE2"/>
<circle cx="73.5" cy="149.1" r="0.6" fill="#4AAFE2"/>
<circle cx="54.6" cy="250.8" r="0.6" fill="#4AAFE2"/>
<circle cx="56.8" cy="258.9" r="0.6" fill="#4AAFE2"/>
<circle cx="60.4" cy="228.9" r="0.6" fill="#4AAFE2"/>
<circle cx="57.6" cy="266.1" r="0.6" fill="#4AAFE2"/>
<circle cx="55.9" cy="207.6" r="0.6" fill="#4AAFE2"/>
<circle cx="92.2" cy="224.0" r="0.6" fill="#4AAFE2"/>
<circle cx="88.4" cy="249.1" r="0.6" fill="#4AAFE2"/>
<circle cx="51.3" cy="200.2" r="0.6" fill="#4AAFE2"/>
<circle cx="86.8" cy="255.3" r="0.6" fill="#4AAFE2"/>
<circle cx="94.5" cy="211.9" r="0.6" fill="#4AAFE2"/>
<circle cx="99.9" cy="194.9" r="0.6" fill="#4AAFE2"/>
<circle cx="51.7" cy="171.8" r="0.6" fill="#4AAFE2"/>
<circle cx="62.1" cy="154.3" r="0.6" fill="#4AAFE2"/>
<circle cx="56.7" cy="242.8" r="0.6" fill="#4AAFE2"/>
<circle cx="101.0" cy="195.6" r="0.6" fill="#4AAFE2"/>
<circle cx="51.8" cy="191.6" r="0.6" fill="#4AAFE2"/>
<circle cx="49.9" cy="172.2" r="0.6" fill="#4AAFE2"/>
<circle cx="71.4" cy="150.6" r="0.6" fill="#4AAFE2"/>
<circle cx="66.6" cy="275.3" r="0.6" fill="#4AAFE2"/>
<circle cx="82.3" cy="166.1" r="0.6" fill="#4AAFE2"/>
<circle cx="57.2" cy="265.8" r="0.6" fill="#4AAFE2"/>
<circle cx="82.8" cy="258.7" r="0.6" fill="#4AAFE2"/>
<circle cx="64.4" cy="279.2" r="0.6" fill="#4AAFE2"/>
<circle cx="76.0" cy="263.6" r="0.6" fill="#4AAFE2"/>
<circle cx="60.9" cy="156.4" r="0.6" fill="#4AAFE2"/>
<circle cx="71.6" cy="267.9" r="0.6" fill="#4AAFE2"/>
<circle cx="50.7" cy="183.3" r="0.6" fill="#4AAFE2"/>
<circle cx="76.9" cy="150.2" r="0.6" fill="#4AAFE2"/>
<circle cx="92.6" cy="230.4" r="0.6" fill="#4AAFE2"/>
<circle cx="57.4" cy="159.5" r="0.6" fill="#4AAFE2"/>
<circle cx="143.1" cy="153.1" r="0.6" fill="#E59B25"/>
<circle cx="172.1" cy="155.8" r="0.6" fill="#E59B25"/>
<circle cx="183.5" cy="202.3" r="0.6" fill="#E59B25"/>
<circle cx="153.5" cy="149.2" r="0.6" fill="#E59B25"/>
<circle cx="137.0" cy="242.2" r="0.6" fill="#E59B25"/>
<circle cx="137.6" cy="244.8" r="0.6" fill="#E59B25"/>
<circle cx="162.7" cy="155.3" r="0.6" fill="#E59B25"/>
<circle cx="176.2" cy="246.2" r="0.6" fill="#E59B25"/>
<circle cx="171.9" cy="156.2" r="0.6" fill="#E59B25"/>
<circle cx="173.5" cy="158.5" r="0.6" fill="#E59B25"/>
<circle cx="133.1" cy="161.4" r="0.6" fill="#E59B25"/>
<circle cx="181.3" cy="200.9" r="0.6" fill="#E59B25"/>
<circle cx="178.1" cy="189.5" r="0.6" fill="#E59B25"/>
<circle cx="174.4" cy="181.7" r="0.6" fill="#E59B25"/>
<circle cx="180.6" cy="192.8" r="0.6" fill="#E59B25"/>
<circle cx="152.4" cy="149.1" r="0.6" fill="#E59B25"/>
<circle cx="159.3" cy="154.2" r="0.6" fill="#E59B25"/>
<circle cx="131.2" cy="174.7" r="0.6" fill="#E59B25"/>
<circle cx="172.8" cy="246.3" r="0.6" fill="#E59B25"/>
<circle cx="130.9" cy="235.7" r="0.6" fill="#E59B25"/>
<circle cx="174.0" cy="157.6" r="0.6" fill="#E59B25"/>
<circle cx="140.6" cy="155.5" r="0.6" fill="#E59B25"/>
<circle cx="176.7" cy="171.0" r="0.6" fill="#E59B25"/>
<circle cx="171.4" cy="248.7" r="0.6" fill="#E59B25"/>
<circle cx="130.9" cy="235.9" r="0.6" fill="#E59B25"/>
<circle cx="184.5" cy="211.1" r="0.6" fill="#E59B25"/>
<circle cx="133.8" cy="160.4" r="0.6" fill="#E59B25"/>
<circle cx="183.6" cy="229.2" r="0.6" fill="#E59B25"/>
<circle cx="173.6" cy="247.2" r="0.6" fill="#E59B25"/>
<circle cx="135.6" cy="158.9" r="0.6" fill="#E59B25"/>
<circle cx="175.5" cy="160.4" r="0.6" fill="#E59B25"/>
<circle cx="184.6" cy="230.3" r="0.6" fill="#E59B25"/>
<circle cx="177.5" cy="175.8" r="0.6" fill="#E59B25"/>
<circle cx="147.1" cy="152.8" r="0.6" fill="#E59B25"/>
<circle cx="143.3" cy="155.2" r="0.6" fill="#E59B25"/>
<circle cx="136.5" cy="155.7" r="0.6" fill="#E59B25"/>
<circle cx="129.7" cy="169.1" r="0.6" fill="#E59B25"/>
<circle cx="178.7" cy="170.8" r="0.6" fill="#E59B25"/>
<circle cx="185.7" cy="225.0" r="0.6" fill="#E59B25"/>
<circle cx="160.1" cy="152.7" r="0.6" fill="#E59B25"/>
<circle cx="184.4" cy="214.8" r="0.6" fill="#E59B25"/>
<circle cx="184.5" cy="211.5" r="0.6" fill="#E59B25"/>
<circle cx="184.7" cy="226.7" r="0.6" fill="#E59B25"/>
<circle cx="165.7" cy="247.6" r="0.6" fill="#E59B25"/>
<circle cx="129.6" cy="180.2" r="0.6" fill="#E59B25"/>
<circle cx="178.4" cy="241.9" r="0.6" fill="#E59B25"/>
<circle cx="159.5" cy="154.0" r="0.6" fill="#E59B25"/>
<circle cx="161.9" cy="243.5" r="0.6" fill="#E59B25"/>
<circle cx="132.1" cy="188.3" r="0.6" fill="#E59B25"/>
<circle cx="131.5" cy="182.5" r="0.6" fill="#E59B25"/>
<circle cx="130.9" cy="184.7" r="0.6" fill="#E59B25"/>
<circle cx="164.5" cy="154.9" r="0.6" fill="#E59B25"/>
<circle cx="136.3" cy="242.5" r="0.6" fill="#E59B25"/>
<circle cx="139.9" cy="153.7" r="0.6" fill="#E59B25"/>
<circle cx="186.2" cy="223.1" r="0.6" fill="#E59B25"/>
<circle cx="129.3" cy="229.3" r="0.6" fill="#E59B25"/>
<circle cx="130.2" cy="195.1" r="0.6" fill="#E59B25"/>
<circle cx="150.8" cy="240.7" r="0.6" fill="#E59B25"/>
<circle cx="149.2" cy="243.6" r="0.6" fill="#E59B25"/>
<circle cx="183.5" cy="229.2" r="0.6" fill="#E59B25"/>
<circle cx="177.2" cy="170.6" r="0.6" fill="#E59B25"/>
<circle cx="186.0" cy="210.5" r="0.6" fill="#E59B25"/>
<circle cx="185.8" cy="219.5" r="0.6" fill="#E59B25"/>
<circle cx="129.6" cy="237.6" r="0.6" fill="#E59B25"/>
<circle cx="179.9" cy="192.0" r="0.6" fill="#E59B25"/>
<circle cx="183.3" cy="205.2" r="0.6" fill="#E59B25"/>
<circle cx="144.8" cy="243.7" r="0.6" fill="#E59B25"/>
<circle cx="154.5" cy="151.7" r="0.6" fill="#E59B25"/>
<circle cx="131.8" cy="240.0" r="0.6" fill="#E59B25"/>
<circle cx="143.0" cy="151.5" r="0.6" fill="#E59B25"/>
<circle cx="130.4" cy="235.6" r="0.6" fill="#E59B25"/>
<circle cx="177.8" cy="175.1" r="0.6" fill="#E59B25"/>
<circle cx="178.3" cy="188.2" r="0.6" fill="#E59B25"/>
<circle cx="131.0" cy="221.0" r="0.6" fill="#E59B25"/>
<circle cx="157.1" cy="244.9" r="0.6" fill="#E59B25"/>
<circle cx="163.8" cy="155.3" r="0.6" fill="#E59B25"/>
<circle cx="131.5" cy="213.7" r="0.6" fill="#E59B25"/>
<circle cx="163.8" cy="155.5" r="0.6" fill="#E59B25"/>
<circle cx="181.2" cy="193.6" r="0.6" fill="#E59B25"/>
<circle cx="147.7" cy="150.1" r="0.6" fill="#E59B25"/>
<circle cx="178.7" cy="243.7" r="0.6" fill="#E59B25"/>
<circle cx="143.9" cy="154.6" r="0.6" fill="#E59B25"/>
<circle cx="183.6" cy="202.1" r="0.6" fill="#E59B25"/>
<circle cx="141.0" cy="154.4" r="0.6" fill="#E59B25"/>
<circle cx="145.5" cy="151.7" r="0.6" fill="#E59B25"/>
<circle cx="152.8" cy="241.4" r="0.6" fill="#E59B25"/>
<circle cx="175.2" cy="248.8" r="0.6" fill="#E59B25"/>
<circle cx="183.1" cy="238.5" r="0.6" fill="#E59B25"/>
<circle cx="149.0" cy="150.3" r="0.6" fill="#E59B25"/>
<circle cx="132.2" cy="219.7" r="0.6" fill="#E59B25"/>
<circle cx="132.7" cy="219.4" r="0.6" fill="#E59B25"/>
<circle cx="178.1" cy="183.3" r="0.6" fill="#E59B25"/>
<circle cx="132.7" cy="162.4" r="0.6" fill="#E59B25"/>
<circle cx="178.7" cy="177.8" r="0.6" fill="#E59B25"/>
<circle cx="132.3" cy="239.8" r="0.6" fill="#E59B25"/>
<circle cx="173.9" cy="157.2" r="0.6" fill="#E59B25"/>
<circle cx="177.1" cy="244.3" r="0.6" fill="#E59B25"/>
<circle cx="130.0" cy="199.4" r="0.6" fill="#E59B25"/>
<circle cx="131.4" cy="165.6" r="0.6" fill="#E59B25"/>
<circle cx="156.6" cy="245.1" r="0.6" fill="#E59B25"/>
<circle cx="177.7" cy="182.9" r="0.6" fill="#E59B25"/>
<circle cx="180.3" cy="242.4" r="0.6" fill="#E59B25"/>
<circle cx="152.1" cy="151.7" r="0.6" fill="#E59B25"/>
<circle cx="145.1" cy="153.1" r="0.6" fill="#E59B25"/>
<circle cx="145.4" cy="150.0" r="0.6" fill="#E59B25"/>
<circle cx="175.8" cy="163.6" r="0.6" fill="#E59B25"/>
<circle cx="133.0" cy="213.2" r="0.6" fill="#E59B25"/>
<circle cx="141.0" cy="154.5" r="0.6" fill="#E59B25"/>
<circle cx="150.7" cy="151.8" r="0.6" fill="#E59B25"/>
<circle cx="176.8" cy="167.1" r="0.6" fill="#E59B25"/>
<circle cx="150.4" cy="241.3" r="0.6" fill="#E59B25"/>
<circle cx="145.2" cy="244.1" r="0.6" fill="#E59B25"/>
<circle cx="131.6" cy="205.2" r="0.6" fill="#E59B25"/>
<circle cx="175.7" cy="188.7" r="0.6" fill="#E59B25"/>
<circle cx="176.9" cy="177.2" r="0.6" fill="#E59B25"/>
<circle cx="133.4" cy="206.9" r="0.6" fill="#E59B25"/>
<circle cx="176.9" cy="165.4" r="0.6" fill="#E59B25"/>
<circle cx="167.0" cy="155.3" r="0.6" fill="#E59B25"/>
<circle cx="175.4" cy="160.3" r="0.6" fill="#E59B25"/>
<circle cx="130.4" cy="235.0" r="0.6" fill="#E59B25"/>
<circle cx="154.4" cy="172.3" r="0.9" fill="#55B2E4"/>
<circle cx="131.2" cy="175.7" r="0.9" fill="#55B2E4"/>
<circle cx="143.6" cy="233.9" r="0.9" fill="#55B2E4"/>
<circle cx="169.3" cy="208.0" r="0.9" fill="#55B2E4"/>
<circle cx="166.2" cy="233.3" r="0.9" fill="#55B2E4"/>
<circle cx="167.4" cy="214.3" r="0.9" fill="#55B2E4"/>
<circle cx="179.1" cy="213.3" r="0.9" fill="#55B2E4"/>
<circle cx="162.7" cy="172.9" r="0.9" fill="#55B2E4"/>
<circle cx="140.2" cy="162.7" r="0.9" fill="#55B2E4"/>
<circle cx="154.2" cy="176.0" r="0.9" fill="#55B2E4"/>
<circle cx="169.2" cy="238.0" r="0.9" fill="#55B2E4"/>
<circle cx="143.6" cy="189.7" r="0.9" fill="#55B2E4"/>
<circle cx="169.9" cy="165.9" r="0.9" fill="#55B2E4"/>
<circle cx="177.6" cy="197.8" r="0.9" fill="#55B2E4"/>
<circle cx="131.1" cy="234.5" r="0.9" fill="#55B2E4"/>
<circle cx="159.0" cy="215.2" r="0.9" fill="#55B2E4"/>
<circle cx="178.9" cy="238.0" r="0.9" fill="#55B2E4"/>
<circle cx="148.4" cy="151.6" r="0.9" fill="#55B2E4"/>
<circle cx="176.6" cy="239.3" r="0.9" fill="#55B2E4"/>
<circle cx="136.0" cy="175.1" r="0.9" fill="#55B2E4"/>
<circle cx="142.2" cy="220.6" r="0.9" fill="#55B2E4"/>
<circle cx="149.5" cy="233.4" r="0.9" fill="#55B2E4"/>
<circle cx="155.6" cy="170.6" r="0.9" fill="#55B2E4"/>
<circle cx="174.4" cy="186.7" r="0.9" fill="#55B2E4"/>
<circle cx="149.2" cy="223.1" r="0.9" fill="#55B2E4"/>
<circle cx="140.3" cy="200.8" r="0.9" fill="#55B2E4"/>
<circle cx="182.2" cy="221.8" r="0.9" fill="#55B2E4"/>
<circle cx="164.4" cy="212.9" r="0.9" fill="#55B2E4"/>
<circle cx="144.1" cy="187.9" r="0.9" fill="#55B2E4"/>
<circle cx="181.3" cy="212.0" r="0.9" fill="#55B2E4"/>
<circle cx="167.8" cy="207.3" r="0.9" fill="#55B2E4"/>
<circle cx="136.1" cy="180.3" r="0.9" fill="#55B2E4"/>
<circle cx="139.2" cy="241.4" r="0.9" fill="#55B2E4"/>
<circle cx="133.9" cy="228.6" r="0.9" fill="#55B2E4"/>
<circle cx="140.8" cy="213.3" r="0.9" fill="#55B2E4"/>
<circle cx="170.4" cy="230.2" r="0.9" fill="#55B2E4"/>
<circle cx="138.2" cy="215.7" r="0.9" fill="#55B2E4"/>
<circle cx="176.5" cy="228.3" r="0.9" fill="#55B2E4"/>
<circle cx="172.6" cy="214.1" r="0.9" fill="#55B2E4"/>
<circle cx="173.7" cy="196.5" r="0.9" fill="#55B2E4"/>
<circle cx="173.9" cy="173.1" r="0.9" fill="#55B2E4"/>
<circle cx="169.4" cy="217.8" r="0.9" fill="#55B2E4"/>
<circle cx="185.0" cy="216.9" r="0.9" fill="#55B2E4"/>
<circle cx="157.0" cy="229.3" r="0.9" fill="#55B2E4"/>
<circle cx="174.7" cy="185.6" r="0.9" fill="#55B2E4"/>
<circle cx="166.6" cy="181.9" r="0.9" fill="#55B2E4"/>
<circle cx="157.2" cy="211.5" r="0.9" fill="#55B2E4"/>
<circle cx="134.8" cy="238.2" r="0.9" fill="#55B2E4"/>
<circle cx="138.6" cy="180.2" r="0.9" fill="#55B2E4"/>
<circle cx="151.6" cy="158.9" r="0.9" fill="#55B2E4"/>
<circle cx="161.6" cy="182.3" r="0.9" fill="#55B2E4"/>
<circle cx="182.8" cy="202.4" r="0.9" fill="#55B2E4"/>
<circle cx="149.3" cy="207.5" r="0.9" fill="#55B2E4"/>
<circle cx="166.8" cy="171.1" r="0.9" fill="#55B2E4"/>
<circle cx="134.0" cy="179.2" r="0.9" fill="#55B2E4"/>
<circle cx="164.1" cy="207.1" r="0.9" fill="#55B2E4"/>
<circle cx="155.3" cy="227.3" r="0.9" fill="#55B2E4"/>
<circle cx="141.7" cy="189.9" r="0.9" fill="#55B2E4"/>
<circle cx="159.9" cy="210.1" r="0.9" fill="#55B2E4"/>
<circle cx="168.5" cy="246.1" r="0.9" fill="#55B2E4"/>
<circle cx="135.1" cy="238.7" r="0.9" fill="#55B2E4"/>
<circle cx="160.7" cy="212.8" r="0.9" fill="#55B2E4"/>
<circle cx="146.6" cy="198.9" r="0.9" fill="#55B2E4"/>
<circle cx="141.9" cy="158.3" r="0.9" fill="#55B2E4"/>
<circle cx="177.0" cy="216.2" r="0.9" fill="#55B2E4"/>
<circle cx="136.6" cy="162.2" r="0.9" fill="#55B2E4"/>
<circle cx="153.5" cy="231.4" r="0.9" fill="#55B2E4"/>
<circle cx="156.5" cy="205.0" r="0.9" fill="#55B2E4"/>
<circle cx="157.1" cy="239.1" r="0.9" fill="#55B2E4"/>
<circle cx="169.2" cy="174.7" r="0.9" fill="#55B2E4"/>
<circle cx="139.2" cy="209.2" r="0.9" fill="#55B2E4"/>
<circle cx="171.1" cy="166.3" r="0.9" fill="#55B2E4"/>
<circle cx="148.0" cy="218.6" r="0.9" fill="#55B2E4"/>
<circle cx="157.9" cy="179.6" r="0.9" fill="#55B2E4"/>
<circle cx="156.1" cy="192.2" r="0.9" fill="#55B2E4"/>
<circle cx="140.1" cy="185.8" r="0.9" fill="#55B2E4"/>
<circle cx="132.6" cy="222.6" r="0.9" fill="#55B2E4"/>
<circle cx="135.3" cy="197.9" r="0.9" fill="#55B2E4"/>
<circle cx="172.4" cy="164.7" r="0.9" fill="#55B2E4"/>
<circle cx="141.9" cy="191.2" r="0.9" fill="#55B2E4"/>
<circle cx="137.1" cy="159.8" r="0.9" fill="#55B2E4"/>
<circle cx="166.9" cy="183.9" r="0.9" fill="#55B2E4"/>
<circle cx="173.6" cy="204.7" r="0.9" fill="#55B2E4"/>
<circle cx="149.1" cy="175.2" r="0.9" fill="#55B2E4"/>
<circle cx="133.0" cy="178.8" r="0.9" fill="#55B2E4"/>
<circle cx="149.9" cy="198.8" r="0.9" fill="#55B2E4"/>
<circle cx="141.4" cy="198.7" r="0.9" fill="#55B2E4"/>
<circle cx="136.6" cy="169.4" r="0.9" fill="#55B2E4"/>
<circle cx="169.9" cy="163.1" r="0.9" fill="#55B2E4"/>
<circle cx="161.0" cy="190.3" r="0.9" fill="#55B2E4"/>
<circle cx="162.1" cy="189.5" r="0.9" fill="#55B2E4"/>
<circle cx="176.0" cy="197.0" r="0.9" fill="#55B2E4"/>
<circle cx="158.0" cy="203.7" r="0.9" fill="#55B2E4"/>
<circle cx="151.1" cy="165.0" r="0.9" fill="#55B2E4"/>
<circle cx="167.7" cy="217.9" r="0.9" fill="#55B2E4"/>
<circle cx="135.0" cy="189.0" r="0.9" fill="#55B2E4"/>
<circle cx="131.7" cy="195.6" r="0.9" fill="#55B2E4"/>
<circle cx="134.0" cy="190.1" r="0.9" fill="#55B2E4"/>
<circle cx="134.2" cy="198.4" r="0.9" fill="#55B2E4"/>
<circle cx="133.2" cy="189.2" r="0.9" fill="#55B2E4"/>
<circle cx="135.2" cy="188.2" r="0.9" fill="#55B2E4"/>
<circle cx="135.0" cy="189.7" r="0.9" fill="#55B2E4"/>
<circle cx="132.7" cy="196.5" r="0.9" fill="#55B2E4"/>
<circle cx="134.9" cy="190.2" r="0.9" fill="#55B2E4"/>
<circle cx="131.6" cy="188.2" r="0.9" fill="#55B2E4"/>
<circle cx="133.8" cy="194.9" r="0.9" fill="#55B2E4"/>
<circle cx="135.2" cy="194.0" r="0.9" fill="#55B2E4"/>
<circle cx="133.6" cy="197.9" r="0.9" fill="#55B2E4"/>
<circle cx="134.6" cy="193.1" r="0.9" fill="#55B2E4"/>
<circle cx="156.6" cy="183.4" r="0.8" fill="#55B2E4"/>
<circle cx="153.7" cy="181.3" r="0.8" fill="#55B2E4"/>
<circle cx="157.7" cy="185.5" r="0.8" fill="#55B2E4"/>
<circle cx="156.7" cy="186.3" r="0.8" fill="#55B2E4"/>
<circle cx="158.1" cy="178.9" r="0.8" fill="#55B2E4"/>
<circle cx="148.4" cy="191.8" r="0.8" fill="#55B2E4"/>
<circle cx="158.7" cy="181.0" r="0.8" fill="#55B2E4"/>
<circle cx="154.5" cy="188.5" r="0.8" fill="#55B2E4"/>
<circle cx="154.4" cy="184.6" r="0.8" fill="#55B2E4"/>
<circle cx="153.6" cy="186.9" r="0.8" fill="#55B2E4"/>
<circle cx="151.5" cy="191.5" r="0.8" fill="#55B2E4"/>
<circle cx="153.8" cy="185.5" r="0.8" fill="#55B2E4"/>
<circle cx="159.2" cy="179.7" r="0.8" fill="#55B2E4"/>
<circle cx="152.6" cy="195.4" r="0.8" fill="#55B2E4"/>
<circle cx="156.0" cy="182.5" r="0.8" fill="#55B2E4"/>
<circle cx="150.7" cy="187.9" r="0.8" fill="#55B2E4"/>
<circle cx="157.5" cy="180.1" r="0.8" fill="#55B2E4"/>
<circle cx="159.3" cy="177.5" r="0.8" fill="#55B2E4"/>
<circle cx="152.2" cy="192.0" r="0.8" fill="#55B2E4"/>
<circle cx="160.6" cy="180.6" r="0.8" fill="#55B2E4"/>
<circle cx="155.0" cy="185.6" r="0.8" fill="#55B2E4"/>
<circle cx="152.8" cy="189.3" r="0.8" fill="#55B2E4"/>
<circle cx="151.5" cy="189.0" r="0.8" fill="#55B2E4"/>
<circle cx="156.1" cy="179.9" r="0.8" fill="#55B2E4"/>
<circle cx="157.9" cy="182.7" r="0.8" fill="#55B2E4"/>
<circle cx="155.5" cy="179.2" r="0.8" fill="#55B2E4"/>
<circle cx="151.6" cy="191.6" r="0.8" fill="#55B2E4"/>
<circle cx="157.8" cy="183.2" r="0.8" fill="#55B2E4"/>
<circle cx="156.5" cy="184.1" r="0.8" fill="#55B2E4"/>
<circle cx="153.4" cy="191.4" r="0.8" fill="#55B2E4"/>
<circle cx="173.9" cy="178.8" r="0.6" fill="#fff" opacity="0.9"/>
<circle cx="137.9" cy="237.6" r="0.6" fill="#fff" opacity="0.9"/>
<circle cx="160.7" cy="226.5" r="0.6" fill="#fff" opacity="0.9"/>
<circle cx="158.0" cy="202.8" r="0.6" fill="#fff" opacity="0.9"/>
<circle cx="160.2" cy="198.0" r="0.6" fill="#fff" opacity="0.9"/>
<circle cx="151.4" cy="227.6" r="0.6" fill="#fff" opacity="0.9"/>
<circle cx="170.4" cy="246.6" r="0.6" fill="#fff" opacity="0.9"/>
<circle cx="147.3" cy="156.2" r="0.6" fill="#fff" opacity="0.9"/>
<circle cx="152.1" cy="219.8" r="0.6" fill="#fff" opacity="0.9"/>
<circle cx="181.9" cy="207.9" r="0.6" fill="#fff" opacity="0.9"/>
<circle cx="130.5" cy="188.2" r="0.6" fill="#fff" opacity="0.9"/>
<circle cx="160.3" cy="203.0" r="0.6" fill="#fff" opacity="0.9"/>
<circle cx="149.9" cy="156.7" r="0.6" fill="#fff" opacity="0.9"/>
<circle cx="152.3" cy="201.5" r="0.6" fill="#fff" opacity="0.9"/>
<circle cx="144.5" cy="232.0" r="0.6" fill="#fff" opacity="0.9"/>
<circle cx="148.0" cy="200.1" r="0.6" fill="#fff" opacity="0.9"/>
<circle cx="141.3" cy="171.4" r="0.6" fill="#fff" opacity="0.9"/>
<circle cx="135.2" cy="229.3" r="0.6" fill="#fff" opacity="0.9"/>
<circle cx="146.2" cy="207.1" r="0.6" fill="#fff" opacity="0.9"/>
<circle cx="150.1" cy="226.8" r="0.6" fill="#fff" opacity="0.9"/>
<circle cx="181.7" cy="198.8" r="0.6" fill="#fff" opacity="0.9"/>
<circle cx="156.0" cy="158.6" r="0.6" fill="#fff" opacity="0.9"/>
<circle cx="147.7" cy="153.6" r="0.6" fill="#fff" opacity="0.9"/>
<circle cx="145.7" cy="209.9" r="0.6" fill="#fff" opacity="0.9"/>
<circle cx="135.3" cy="170.6" r="0.6" fill="#fff" opacity="0.9"/>
<circle cx="178.8" cy="205.8" r="0.6" fill="#fff" opacity="0.9"/>
<circle cx="162.9" cy="171.5" r="0.6" fill="#fff" opacity="0.9"/>
<circle cx="135.4" cy="194.3" r="0.6" fill="#fff" opacity="0.9"/>
<circle cx="163.2" cy="210.1" r="0.6" fill="#fff" opacity="0.9"/>
<circle cx="137.3" cy="233.0" r="0.6" fill="#fff" opacity="0.9"/>
<circle cx="151.2" cy="153.3" r="0.6" fill="#fff" opacity="0.9"/>
<circle cx="131.9" cy="186.7" r="0.6" fill="#fff" opacity="0.9"/>
<circle cx="169.5" cy="198.2" r="0.6" fill="#fff" opacity="0.9"/>
<circle cx="177.4" cy="238.0" r="0.6" fill="#fff" opacity="0.9"/>
<circle cx="178.3" cy="213.1" r="0.6" fill="#fff" opacity="0.9"/>
<circle cx="178.3" cy="229.1" r="0.6" fill="#fff" opacity="0.85"/>
<circle cx="138.3" cy="214.8" r="0.6" fill="#fff" opacity="0.85"/>
<circle cx="145.2" cy="206.3" r="0.6" fill="#fff" opacity="0.85"/>
<circle cx="178.2" cy="221.7" r="0.6" fill="#fff" opacity="0.85"/>
<circle cx="142.8" cy="234.4" r="0.6" fill="#fff" opacity="0.85"/>
<circle cx="151.8" cy="211.7" r="0.6" fill="#fff" opacity="0.85"/>
<circle cx="168.6" cy="209.4" r="0.6" fill="#fff" opacity="0.85"/>
<circle cx="179.2" cy="237.8" r="0.6" fill="#fff" opacity="0.85"/>
<circle cx="136.8" cy="223.5" r="0.6" fill="#fff" opacity="0.85"/>
<circle cx="135.3" cy="237.0" r="0.6" fill="#fff" opacity="0.85"/>
<circle cx="146.4" cy="222.0" r="0.6" fill="#fff" opacity="0.85"/>
<circle cx="169.5" cy="231.2" r="0.6" fill="#fff" opacity="0.85"/>
<circle cx="157.2" cy="206.7" r="0.6" fill="#fff" opacity="0.85"/>
<circle cx="149.2" cy="203.2" r="0.6" fill="#fff" opacity="0.85"/>
<circle cx="143.5" cy="230.7" r="0.6" fill="#fff" opacity="0.85"/>
<circle cx="162.3" cy="219.3" r="0.6" fill="#fff" opacity="0.85"/>
<circle cx="165.3" cy="220.4" r="0.6" fill="#fff" opacity="0.85"/>
<circle cx="151.8" cy="217.4" r="0.6" fill="#fff" opacity="0.85"/>
<circle cx="152.0" cy="217.0" r="0.6" fill="#fff" opacity="0.85"/>
<circle cx="155.2" cy="232.9" r="0.6" fill="#fff" opacity="0.85"/>
<circle cx="177.9" cy="236.0" r="0.6" fill="#fff" opacity="0.85"/>
<circle cx="156.5" cy="236.8" r="0.6" fill="#fff" opacity="0.85"/>
<circle cx="172.3" cy="208.8" r="0.6" fill="#fff" opacity="0.85"/>
<circle cx="174.0" cy="205.9" r="0.6" fill="#fff" opacity="0.85"/>
<circle cx="163.7" cy="216.8" r="0.6" fill="#fff" opacity="0.85"/>
<circle cx="170.0" cy="231.8" r="0.6" fill="#fff" opacity="0.85"/>
<circle cx="180.0" cy="237.3" r="0.6" fill="#fff" opacity="0.85"/>
<circle cx="152.5" cy="203.8" r="0.6" fill="#fff" opacity="0.85"/>
<circle cx="137.6" cy="239.0" r="0.6" fill="#fff" opacity="0.85"/>
<circle cx="149.5" cy="211.7" r="0.6" fill="#fff" opacity="0.85"/>
<circle cx="139.5" cy="216.5" r="0.6" fill="#fff" opacity="0.85"/>
<circle cx="149.9" cy="230.2" r="0.6" fill="#fff" opacity="0.85"/>
<circle cx="142.7" cy="219.7" r="0.6" fill="#fff" opacity="0.85"/>
<circle cx="176.7" cy="219.2" r="0.6" fill="#fff" opacity="0.85"/>
<circle cx="141.2" cy="218.5" r="0.6" fill="#fff" opacity="0.85"/>
<circle cx="145.8" cy="203.9" r="0.6" fill="#fff" opacity="0.85"/>
<circle cx="161.4" cy="214.0" r="0.6" fill="#fff" opacity="0.85"/>
<circle cx="172.6" cy="212.6" r="0.6" fill="#fff" opacity="0.85"/>
<circle cx="139.2" cy="219.9" r="0.6" fill="#fff" opacity="0.85"/>
<circle cx="157.2" cy="208.7" r="0.6" fill="#fff" opacity="0.85"/>
<circle cx="158.6" cy="226.3" r="0.6" fill="#fff" opacity="0.85"/>
<circle cx="171.8" cy="237.2" r="0.6" fill="#fff" opacity="0.85"/>
<circle cx="160.9" cy="233.9" r="0.6" fill="#fff" opacity="0.85"/>
<circle cx="139.7" cy="230.9" r="0.6" fill="#fff" opacity="0.85"/>
<circle cx="180.6" cy="219.0" r="0.6" fill="#fff" opacity="0.85"/>
<circle cx="146.0" cy="216.0" r="2.0" fill="#fff" opacity="0.9"/>
<circle cx="144.4" cy="214.2" r="0.7" fill="#fff"/>
<circle cx="144.2" cy="215.3" r="0.7" fill="#fff"/>
<circle cx="145.4" cy="213.7" r="0.7" fill="#fff"/>
<circle cx="148.3" cy="219.3" r="0.7" fill="#fff"/>
<circle cx="143.6" cy="217.0" r="0.7" fill="#fff"/>
<circle cx="145.6" cy="216.1" r="0.7" fill="#fff"/>
<circle cx="146.1" cy="215.6" r="0.7" fill="#fff"/>
<circle cx="148.0" cy="219.0" r="0.7" fill="#fff"/>
<circle cx="144.5" cy="215.0" r="0.7" fill="#fff"/>
<circle cx="142.9" cy="215.4" r="0.7" fill="#fff"/>
<circle cx="144.5" cy="213.8" r="0.7" fill="#fff"/>
<circle cx="148.3" cy="216.1" r="0.7" fill="#fff"/>
<circle cx="149.0" cy="221.0" r="1.6" fill="#fff" opacity="0.9"/>
<circle cx="147.6" cy="219.3" r="0.7" fill="#fff"/>
<circle cx="149.5" cy="222.7" r="0.7" fill="#fff"/>
<circle cx="151.0" cy="222.2" r="0.7" fill="#fff"/>
<circle cx="150.4" cy="219.3" r="0.7" fill="#fff"/>
<circle cx="147.1" cy="221.9" r="0.7" fill="#fff"/>
<circle cx="149.7" cy="219.4" r="0.7" fill="#fff"/>
<circle cx="148.0" cy="218.5" r="0.7" fill="#fff"/>
<circle cx="150.0" cy="221.1" r="0.7" fill="#fff"/>
<circle cx="150.8" cy="223.2" r="0.7" fill="#fff"/>
<circle cx="149.1" cy="220.2" r="0.7" fill="#fff"/>
<circle cx="147.9" cy="221.7" r="0.7" fill="#fff"/>
<circle cx="151.3" cy="218.9" r="0.7" fill="#fff"/>
<circle cx="142.0" cy="223.0" r="1.3" fill="#fff" opacity="0.9"/>
<circle cx="141.6" cy="224.2" r="0.7" fill="#fff"/>
<circle cx="140.4" cy="223.7" r="0.7" fill="#fff"/>
<circle cx="140.9" cy="223.3" r="0.7" fill="#fff"/>
<circle cx="144.1" cy="221.0" r="0.7" fill="#fff"/>
<circle cx="142.9" cy="223.3" r="0.7" fill="#fff"/>
<circle cx="143.6" cy="222.4" r="0.7" fill="#fff"/>
<circle cx="143.9" cy="225.1" r="0.7" fill="#fff"/>
<circle cx="140.1" cy="222.4" r="0.7" fill="#fff"/>
<circle cx="140.9" cy="224.5" r="0.7" fill="#fff"/>
<circle cx="143.8" cy="224.2" r="0.7" fill="#fff"/>
<circle cx="143.6" cy="223.3" r="0.7" fill="#fff"/>
<circle cx="143.8" cy="222.1" r="0.7" fill="#fff"/>
<circle cx="166.0" cy="213.0" r="1.7" fill="#fff" opacity="0.9"/>
<circle cx="163.8" cy="214.3" r="0.7" fill="#fff"/>
<circle cx="165.7" cy="210.3" r="0.7" fill="#fff"/>
<circle cx="167.7" cy="211.0" r="0.7" fill="#fff"/>
<circle cx="164.6" cy="210.7" r="0.7" fill="#fff"/>
<circle cx="166.7" cy="211.1" r="0.7" fill="#fff"/>
<circle cx="164.9" cy="213.3" r="0.7" fill="#fff"/>
<circle cx="168.5" cy="210.3" r="0.7" fill="#fff"/>
<circle cx="168.4" cy="214.3" r="0.7" fill="#fff"/>
<circle cx="164.7" cy="214.9" r="0.7" fill="#fff"/>
<circle cx="166.8" cy="212.8" r="0.7" fill="#fff"/>
<circle cx="164.5" cy="212.7" r="0.7" fill="#fff"/>
<circle cx="165.2" cy="210.7" r="0.7" fill="#fff"/>
<circle cx="169.0" cy="218.0" r="1.4" fill="#fff" opacity="0.9"/>
<circle cx="167.5" cy="216.9" r="0.7" fill="#fff"/>
<circle cx="168.8" cy="218.4" r="0.7" fill="#fff"/>
<circle cx="170.3" cy="216.1" r="0.7" fill="#fff"/>
<circle cx="167.2" cy="219.8" r="0.7" fill="#fff"/>
<circle cx="169.2" cy="216.7" r="0.7" fill="#fff"/>
<circle cx="167.7" cy="218.8" r="0.7" fill="#fff"/>
<circle cx="168.8" cy="217.5" r="0.7" fill="#fff"/>
<circle cx="171.2" cy="215.7" r="0.7" fill="#fff"/>
<circle cx="169.6" cy="218.9" r="0.7" fill="#fff"/>
<circle cx="169.5" cy="218.5" r="0.7" fill="#fff"/>
<circle cx="166.8" cy="220.3" r="0.7" fill="#fff"/>
<circle cx="166.8" cy="217.3" r="0.7" fill="#fff"/>
<circle cx="163.0" cy="220.0" r="1.0" fill="#fff" opacity="0.9"/>
<circle cx="162.7" cy="221.1" r="0.7" fill="#fff"/>
<circle cx="163.7" cy="221.1" r="0.7" fill="#fff"/>
<circle cx="163.2" cy="221.6" r="0.7" fill="#fff"/>
<circle cx="162.4" cy="219.7" r="0.7" fill="#fff"/>
<circle cx="163.2" cy="219.4" r="0.7" fill="#fff"/>
<circle cx="161.9" cy="220.6" r="0.7" fill="#fff"/>
<circle cx="162.5" cy="221.2" r="0.7" fill="#fff"/>
<circle cx="163.5" cy="218.4" r="0.7" fill="#fff"/>
<circle cx="161.7" cy="219.0" r="0.7" fill="#fff"/>
<circle cx="162.4" cy="219.0" r="0.7" fill="#fff"/>
<circle cx="163.5" cy="219.1" r="0.7" fill="#fff"/>
<circle cx="162.7" cy="219.7" r="0.7" fill="#fff"/>
<circle cx="140.0" cy="209.0" r="1.0" fill="#fff" opacity="0.9"/>
<circle cx="141.6" cy="208.9" r="0.7" fill="#fff"/>
<circle cx="138.5" cy="210.5" r="0.7" fill="#fff"/>
<circle cx="141.5" cy="207.5" r="0.7" fill="#fff"/>
<circle cx="141.2" cy="209.4" r="0.7" fill="#fff"/>
<circle cx="141.3" cy="209.4" r="0.7" fill="#fff"/>
<circle cx="140.4" cy="210.0" r="0.7" fill="#fff"/>
<circle cx="138.5" cy="207.7" r="0.7" fill="#fff"/>
<circle cx="138.8" cy="207.4" r="0.7" fill="#fff"/>
<circle cx="139.2" cy="207.5" r="0.7" fill="#fff"/>
<circle cx="138.8" cy="208.5" r="0.7" fill="#fff"/>
<circle cx="138.9" cy="207.6" r="0.7" fill="#fff"/>
<circle cx="141.5" cy="210.3" r="0.7" fill="#fff"/>
<text x="85.8" y="157.0" font-size="9.6" fill="#4AAFE2" stroke="#4AAFE2" stroke-width="0.25">NaCl</text>
<text x="133.5" y="252.6" font-size="9.6" fill="#E59B25" stroke="#E59B25" stroke-width="0.25">Control</text>
<text x="231.3" y="137.9" font-size="14.2" font-weight="bold">d</text>
<rect x="269.4" y="144.3" width="148.2" height="139.0" fill="none" stroke="#222" stroke-width="1"/>
<line x1="267.2" y1="150.2" x2="269.4" y2="150.2" stroke="#333" stroke-width="0.9"/>
<text x="265.0" y="153.3" font-size="8.9" text-anchor="end" fill="#4D4D4D" stroke="#4D4D4D" stroke-width="0.25">5.0</text>
<line x1="267.2" y1="176.6" x2="269.4" y2="176.6" stroke="#333" stroke-width="0.9"/>
<text x="265.0" y="179.7" font-size="8.9" text-anchor="end" fill="#4D4D4D" stroke="#4D4D4D" stroke-width="0.25">2.5</text>
<line x1="267.2" y1="203.0" x2="269.4" y2="203.0" stroke="#333" stroke-width="0.9"/>
<text x="265.0" y="206.1" font-size="8.9" text-anchor="end" fill="#4D4D4D" stroke="#4D4D4D" stroke-width="0.25">0.0</text>
<line x1="267.2" y1="229.4" x2="269.4" y2="229.4" stroke="#333" stroke-width="0.9"/>
<text x="265.0" y="232.5" font-size="8.9" text-anchor="end" fill="#4D4D4D" stroke="#4D4D4D" stroke-width="0.25">−2.5</text>
<line x1="267.2" y1="255.8" x2="269.4" y2="255.8" stroke="#333" stroke-width="0.9"/>
<text x="265.0" y="258.9" font-size="8.9" text-anchor="end" fill="#4D4D4D" stroke="#4D4D4D" stroke-width="0.25">−5.0</text>
<line x1="267.2" y1="282.2" x2="269.4" y2="282.2" stroke="#333" stroke-width="0.9"/>
<text x="265.0" y="285.3" font-size="8.9" text-anchor="end" fill="#4D4D4D" stroke="#4D4D4D" stroke-width="0.25">−7.5</text>
<line x1="272.5" y1="283.3" x2="272.5" y2="285.5" stroke="#333" stroke-width="0.9"/>
<text x="272.5" y="293.6" font-size="8.9" text-anchor="middle" fill="#4D4D4D" stroke="#4D4D4D" stroke-width="0.25">−10</text>
<line x1="305.7" y1="283.3" x2="305.7" y2="285.5" stroke="#333" stroke-width="0.9"/>
<text x="305.7" y="293.6" font-size="8.9" text-anchor="middle" fill="#4D4D4D" stroke="#4D4D4D" stroke-width="0.25">−5</text>
<line x1="338.9" y1="283.3" x2="338.9" y2="285.5" stroke="#333" stroke-width="0.9"/>
<text x="338.9" y="293.6" font-size="8.9" text-anchor="middle" fill="#4D4D4D" stroke="#4D4D4D" stroke-width="0.25">0</text>
<line x1="372.1" y1="283.3" x2="372.1" y2="285.5" stroke="#333" stroke-width="0.9"/>
<text x="372.1" y="293.6" font-size="8.9" text-anchor="middle" fill="#4D4D4D" stroke="#4D4D4D" stroke-width="0.25">5</text>
<line x1="405.2" y1="283.3" x2="405.2" y2="285.5" stroke="#333" stroke-width="0.9"/>
<text x="344.3" y="304.3" font-size="9.0" text-anchor="middle" stroke="#000" stroke-width="0.25">UMAP_1</text>
<text x="247.2" y="206.5" font-size="9.1" text-anchor="middle" transform="rotate(-90 247.2 206.5)" stroke="#000" stroke-width="0.25">UMAP_2</text>
<text x="414.4" y="279.6" font-size="8.6" text-anchor="end" stroke="#000" stroke-width="0.25">function</text>
<g filter="url(#bl)">
<polygon points="288.3,152.9 291.8,150.7 296.2,150.3 301.0,151.6 304.1,154.6 305.8,159.9 307.6,166.0 311.1,169.5 317.6,170.4 321.6,173.0 323.8,178.3 325.5,185.3 325.9,192.3 324.6,199.3 322.0,206.3 320.7,210.9 319.8,218.8 317.6,227.5 316.3,236.3 314.6,245.0 313.7,253.8 309.3,257.3 304.9,259.9 300.5,262.5 297.0,269.5 293.5,274.8 289.6,277.9 287.4,277.4 283.9,273.0 282.6,266.9 281.7,258.2 281.3,249.4 282.2,243.3 283.9,236.3 283.9,227.5 283.0,218.8 281.7,210.9 281.3,208.0 279.5,201.0 277.3,194.0 275.6,187.9 275.2,181.8 276.5,173.9 278.7,166.9 280.4,160.8 286.5,156.4" fill="url(#pd)"/>
<polygon points="373.6,150.6 379.8,151.2 384.8,154.3 391.0,155.6 398.5,157.4 400.9,162.4 401.6,176.1 402.2,187.3 405.9,194.8 408.4,203.5 410.3,214.7 410.9,222.2 408.4,232.1 404.7,240.8 399.7,247.0 396.0,248.3 387.3,245.8 381.0,243.3 372.3,242.1 362.3,243.3 357.4,242.1 355.5,232.1 355.5,219.7 358.6,207.2 356.7,199.8 354.9,192.3 354.9,182.3 355.5,169.9 358.6,161.2 363.6,156.2 368.6,152.5" fill="url(#pd)"/>
<polygon points="288.3,152.9 291.8,150.7 296.2,150.3 301.0,151.6 304.1,154.6 305.8,159.9 307.6,166.0 311.1,169.5 317.6,170.4 321.6,173.0 323.8,178.3 325.5,185.3 325.9,192.3 324.6,199.3 322.0,206.3 320.7,210.9 319.8,218.8 317.6,227.5 316.3,236.3 314.6,245.0 313.7,253.8 309.3,257.3 304.9,259.9 300.5,262.5 297.0,269.5 293.5,274.8 289.6,277.9 287.4,277.4 283.9,273.0 282.6,266.9 281.7,258.2 281.3,249.4 282.2,243.3 283.9,236.3 283.9,227.5 283.0,218.8 281.7,210.9 281.3,208.0 279.5,201.0 277.3,194.0 275.6,187.9 275.2,181.8 276.5,173.9 278.7,166.9 280.4,160.8 286.5,156.4" fill="url(#pd2)"/>
<polygon points="373.6,150.6 379.8,151.2 384.8,154.3 391.0,155.6 398.5,157.4 400.9,162.4 401.6,176.1 402.2,187.3 405.9,194.8 408.4,203.5 410.3,214.7 410.9,222.2 408.4,232.1 404.7,240.8 399.7,247.0 396.0,248.3 387.3,245.8 381.0,243.3 372.3,242.1 362.3,243.3 357.4,242.1 355.5,232.1 355.5,219.7 358.6,207.2 356.7,199.8 354.9,192.3 354.9,182.3 355.5,169.9 358.6,161.2 363.6,156.2 368.6,152.5" fill="url(#pd2)"/>
<circle cx="371.0" cy="215.2" r="1.3" fill="#fff" opacity="0.8"/>
<circle cx="372.3" cy="217.4" r="0.7" fill="#fff" opacity="0.9"/>
<circle cx="369.7" cy="213.8" r="0.7" fill="#fff" opacity="0.9"/>
<circle cx="371.6" cy="218.1" r="0.7" fill="#fff" opacity="0.9"/>
<circle cx="371.7" cy="213.3" r="0.7" fill="#fff" opacity="0.9"/>
<circle cx="369.8" cy="215.2" r="0.7" fill="#fff" opacity="0.9"/>
<circle cx="372.6" cy="215.2" r="0.7" fill="#fff" opacity="0.9"/>
<circle cx="370.5" cy="214.9" r="0.7" fill="#fff" opacity="0.9"/>
<circle cx="371.3" cy="214.0" r="0.7" fill="#fff" opacity="0.9"/>
<circle cx="371.1" cy="215.7" r="0.7" fill="#fff" opacity="0.9"/>
<circle cx="373.8" cy="215.2" r="0.7" fill="#fff" opacity="0.9"/>
<circle cx="372.6" cy="213.6" r="0.7" fill="#fff" opacity="0.9"/>
<circle cx="372.5" cy="215.5" r="0.7" fill="#fff" opacity="0.9"/>
<circle cx="370.2" cy="215.2" r="0.7" fill="#fff" opacity="0.9"/>
<circle cx="372.5" cy="214.7" r="0.7" fill="#fff" opacity="0.9"/>
<circle cx="368.5" cy="219.0" r="1.0" fill="#fff" opacity="0.8"/>
<circle cx="369.9" cy="221.0" r="0.7" fill="#fff" opacity="0.9"/>
<circle cx="370.6" cy="221.1" r="0.7" fill="#fff" opacity="0.9"/>
<circle cx="366.9" cy="219.5" r="0.7" fill="#fff" opacity="0.9"/>
<circle cx="367.7" cy="220.3" r="0.7" fill="#fff" opacity="0.9"/>
<circle cx="368.6" cy="219.3" r="0.7" fill="#fff" opacity="0.9"/>
<circle cx="369.1" cy="218.3" r="0.7" fill="#fff" opacity="0.9"/>
<circle cx="368.7" cy="218.1" r="0.7" fill="#fff" opacity="0.9"/>
<circle cx="371.2" cy="218.5" r="0.7" fill="#fff" opacity="0.9"/>
<circle cx="368.6" cy="216.8" r="0.7" fill="#fff" opacity="0.9"/>
<circle cx="366.6" cy="218.0" r="0.7" fill="#fff" opacity="0.9"/>
<circle cx="369.6" cy="220.0" r="0.7" fill="#fff" opacity="0.9"/>
<circle cx="373.5" cy="211.5" r="0.8" fill="#fff" opacity="0.8"/>
<circle cx="373.8" cy="210.9" r="0.7" fill="#fff" opacity="0.9"/>
<circle cx="375.5" cy="210.5" r="0.7" fill="#fff" opacity="0.9"/>
<circle cx="372.6" cy="212.1" r="0.7" fill="#fff" opacity="0.9"/>
<circle cx="372.5" cy="211.8" r="0.7" fill="#fff" opacity="0.9"/>
<circle cx="374.6" cy="211.5" r="0.7" fill="#fff" opacity="0.9"/>
<circle cx="374.0" cy="211.6" r="0.7" fill="#fff" opacity="0.9"/>
<circle cx="372.8" cy="208.2" r="0.7" fill="#fff" opacity="0.9"/>
<circle cx="372.2" cy="211.5" r="0.7" fill="#fff" opacity="0.9"/>
<circle cx="371.8" cy="210.9" r="0.7" fill="#fff" opacity="0.9"/>
<circle cx="391.8" cy="212.6" r="1.2" fill="#fff" opacity="0.8"/>
<circle cx="392.2" cy="214.7" r="0.7" fill="#fff" opacity="0.9"/>
<circle cx="389.8" cy="211.8" r="0.7" fill="#fff" opacity="0.9"/>
<circle cx="392.2" cy="213.5" r="0.7" fill="#fff" opacity="0.9"/>
<circle cx="389.7" cy="215.5" r="0.7" fill="#fff" opacity="0.9"/>
<circle cx="390.6" cy="214.3" r="0.7" fill="#fff" opacity="0.9"/>
<circle cx="391.5" cy="213.3" r="0.7" fill="#fff" opacity="0.9"/>
<circle cx="394.4" cy="213.7" r="0.7" fill="#fff" opacity="0.9"/>
<circle cx="392.1" cy="211.1" r="0.7" fill="#fff" opacity="0.9"/>
<circle cx="390.8" cy="210.5" r="0.7" fill="#fff" opacity="0.9"/>
<circle cx="395.0" cy="210.3" r="0.7" fill="#fff" opacity="0.9"/>
<circle cx="387.9" cy="215.2" r="0.7" fill="#fff" opacity="0.9"/>
<circle cx="393.8" cy="212.1" r="0.7" fill="#fff" opacity="0.9"/>
<circle cx="393.1" cy="211.4" r="0.7" fill="#fff" opacity="0.9"/>
<circle cx="393.5" cy="216.5" r="0.9" fill="#fff" opacity="0.8"/>
<circle cx="392.9" cy="217.1" r="0.7" fill="#fff" opacity="0.9"/>
<circle cx="394.0" cy="216.0" r="0.7" fill="#fff" opacity="0.9"/>
<circle cx="395.5" cy="217.4" r="0.7" fill="#fff" opacity="0.9"/>
<circle cx="393.7" cy="215.1" r="0.7" fill="#fff" opacity="0.9"/>
<circle cx="393.7" cy="216.2" r="0.7" fill="#fff" opacity="0.9"/>
<circle cx="393.5" cy="217.5" r="0.7" fill="#fff" opacity="0.9"/>
<circle cx="392.9" cy="216.9" r="0.7" fill="#fff" opacity="0.9"/>
<circle cx="394.5" cy="217.0" r="0.7" fill="#fff" opacity="0.9"/>
<circle cx="396.3" cy="214.5" r="0.7" fill="#fff" opacity="0.9"/>
<circle cx="393.5" cy="215.1" r="0.7" fill="#fff" opacity="0.9"/>
<circle cx="389.5" cy="209.5" r="0.7" fill="#fff" opacity="0.8"/>
<circle cx="389.5" cy="211.8" r="0.7" fill="#fff" opacity="0.9"/>
<circle cx="388.1" cy="209.3" r="0.7" fill="#fff" opacity="0.9"/>
<circle cx="390.1" cy="209.6" r="0.7" fill="#fff" opacity="0.9"/>
<circle cx="390.3" cy="208.1" r="0.7" fill="#fff" opacity="0.9"/>
<circle cx="390.4" cy="208.7" r="0.7" fill="#fff" opacity="0.9"/>
<circle cx="388.4" cy="210.0" r="0.7" fill="#fff" opacity="0.9"/>
<circle cx="390.0" cy="208.9" r="0.7" fill="#fff" opacity="0.9"/>
<circle cx="360.9" cy="205.5" r="0.9" fill="#fff" opacity="0.8"/>
<circle cx="360.0" cy="205.3" r="0.7" fill="#fff" opacity="0.9"/>
<circle cx="360.9" cy="205.3" r="0.7" fill="#fff" opacity="0.9"/>
<circle cx="359.7" cy="202.8" r="0.7" fill="#fff" opacity="0.9"/>
<circle cx="362.5" cy="205.7" r="0.7" fill="#fff" opacity="0.9"/>
<circle cx="359.4" cy="203.7" r="0.7" fill="#fff" opacity="0.9"/>
<circle cx="360.1" cy="205.0" r="0.7" fill="#fff" opacity="0.9"/>
<circle cx="358.4" cy="207.2" r="0.7" fill="#fff" opacity="0.9"/>
<circle cx="361.4" cy="205.1" r="0.7" fill="#fff" opacity="0.9"/>
<circle cx="361.3" cy="205.8" r="0.7" fill="#fff" opacity="0.9"/>
<circle cx="362.2" cy="205.7" r="0.7" fill="#fff" opacity="0.9"/>
<circle cx="358.4" cy="209.0" r="0.9" fill="#fff" opacity="0.8"/>
<circle cx="359.9" cy="210.9" r="0.7" fill="#fff" opacity="0.9"/>
<circle cx="358.1" cy="208.5" r="0.7" fill="#fff" opacity="0.9"/>
<circle cx="357.4" cy="208.7" r="0.7" fill="#fff" opacity="0.9"/>
<circle cx="357.6" cy="209.0" r="0.7" fill="#fff" opacity="0.9"/>
<circle cx="358.8" cy="209.7" r="0.7" fill="#fff" opacity="0.9"/>
<circle cx="357.0" cy="210.3" r="0.7" fill="#fff" opacity="0.9"/>
<circle cx="358.0" cy="208.9" r="0.7" fill="#fff" opacity="0.9"/>
<circle cx="357.8" cy="206.6" r="0.7" fill="#fff" opacity="0.9"/>
<circle cx="358.7" cy="206.9" r="0.7" fill="#fff" opacity="0.9"/>
<circle cx="359.7" cy="209.1" r="0.7" fill="#fff" opacity="0.9"/>
<circle cx="357.4" cy="203.0" r="0.7" fill="#fff" opacity="0.8"/>
<circle cx="358.8" cy="203.6" r="0.7" fill="#fff" opacity="0.9"/>
<circle cx="358.0" cy="204.3" r="0.7" fill="#fff" opacity="0.9"/>
<circle cx="357.4" cy="204.4" r="0.7" fill="#fff" opacity="0.9"/>
<circle cx="357.3" cy="203.2" r="0.7" fill="#fff" opacity="0.9"/>
<circle cx="356.8" cy="203.5" r="0.7" fill="#fff" opacity="0.9"/>
<circle cx="358.0" cy="202.6" r="0.7" fill="#fff" opacity="0.9"/>
<circle cx="356.3" cy="203.0" r="0.7" fill="#fff" opacity="0.9"/>
<circle cx="363.9" cy="211.0" r="0.6" fill="#fff" opacity="0.8"/>
<circle cx="364.3" cy="210.9" r="0.7" fill="#fff" opacity="0.9"/>
<circle cx="363.1" cy="210.4" r="0.7" fill="#fff" opacity="0.9"/>
<circle cx="363.7" cy="208.8" r="0.7" fill="#fff" opacity="0.9"/>
<circle cx="363.4" cy="212.2" r="0.7" fill="#fff" opacity="0.9"/>
<circle cx="362.8" cy="210.8" r="0.7" fill="#fff" opacity="0.9"/>
<circle cx="365.3" cy="211.6" r="0.7" fill="#fff" opacity="0.9"/>
<circle cx="364.7" cy="210.9" r="0.7" fill="#fff" opacity="0.9"/>
<circle cx="309.0" cy="257.1" r="0.6" fill="#E07A1F"/>
<circle cx="275.3" cy="181.8" r="0.6" fill="#E07A1F"/>
<circle cx="294.5" cy="149.3" r="0.6" fill="#E07A1F"/>
<circle cx="294.7" cy="275.2" r="0.6" fill="#56B4E9"/>
<circle cx="317.3" cy="232.2" r="0.6" fill="#E07A1F"/>
<circle cx="320.0" cy="214.7" r="0.6" fill="#009E73"/>
<circle cx="274.2" cy="181.3" r="0.6" fill="#F0E442"/>
<circle cx="321.4" cy="203.6" r="0.6" fill="#E07A1F"/>
<circle cx="277.7" cy="195.4" r="0.6" fill="#009E73"/>
<circle cx="295.0" cy="271.9" r="0.6" fill="#E07A1F"/>
<circle cx="289.5" cy="154.5" r="0.6" fill="#F0E442"/>
<circle cx="307.5" cy="163.7" r="0.6" fill="#CC79A7"/>
<circle cx="282.3" cy="258.3" r="0.6" fill="#E07A1F"/>
<circle cx="278.3" cy="163.7" r="0.6" fill="#56B4E9"/>
<circle cx="293.2" cy="152.5" r="0.6" fill="#56B4E9"/>
<circle cx="279.7" cy="165.3" r="0.6" fill="#F0E442"/>
<circle cx="324.4" cy="185.1" r="0.6" fill="#E07A1F"/>
<circle cx="316.0" cy="232.2" r="0.6" fill="#56B4E9"/>
<circle cx="325.4" cy="197.4" r="0.6" fill="#E07A1F"/>
<circle cx="291.2" cy="150.2" r="0.6" fill="#E07A1F"/>
<circle cx="284.8" cy="271.6" r="0.6" fill="#56B4E9"/>
<circle cx="314.4" cy="246.7" r="0.6" fill="#56B4E9"/>
<circle cx="281.9" cy="207.5" r="0.6" fill="#56B4E9"/>
<circle cx="325.9" cy="194.7" r="0.6" fill="#E07A1F"/>
<circle cx="279.8" cy="201.4" r="0.6" fill="#E07A1F"/>
<circle cx="308.1" cy="159.9" r="0.6" fill="#E07A1F"/>
<circle cx="322.3" cy="172.1" r="0.6" fill="#E07A1F"/>
<circle cx="281.2" cy="251.7" r="0.6" fill="#56B4E9"/>
<circle cx="314.3" cy="237.4" r="0.6" fill="#56B4E9"/>
<circle cx="305.9" cy="156.7" r="0.6" fill="#E07A1F"/>
<circle cx="305.8" cy="260.3" r="0.6" fill="#E07A1F"/>
<circle cx="276.4" cy="178.8" r="0.6" fill="#E07A1F"/>
<circle cx="318.3" cy="220.9" r="0.6" fill="#E07A1F"/>
<circle cx="306.6" cy="163.0" r="0.6" fill="#F0E442"/>
<circle cx="277.9" cy="196.8" r="0.6" fill="#E07A1F"/>
<circle cx="282.4" cy="245.7" r="0.6" fill="#56B4E9"/>
<circle cx="317.1" cy="235.2" r="0.6" fill="#009E73"/>
<circle cx="284.0" cy="222.8" r="0.6" fill="#56B4E9"/>
<circle cx="281.8" cy="258.6" r="0.6" fill="#E07A1F"/>
<circle cx="277.8" cy="192.5" r="0.6" fill="#F0E442"/>
<circle cx="323.9" cy="191.3" r="0.6" fill="#56B4E9"/>
<circle cx="283.4" cy="237.8" r="0.6" fill="#009E73"/>
<circle cx="297.4" cy="270.2" r="0.6" fill="#E07A1F"/>
<circle cx="277.9" cy="168.6" r="0.6" fill="#56B4E9"/>
<circle cx="284.2" cy="270.3" r="0.6" fill="#F0E442"/>
<circle cx="307.4" cy="166.5" r="0.6" fill="#D55E00"/>
<circle cx="316.2" cy="238.4" r="0.6" fill="#E07A1F"/>
<circle cx="281.5" cy="244.2" r="0.6" fill="#E07A1F"/>
<circle cx="295.9" cy="270.7" r="0.6" fill="#0072B2"/>
<circle cx="325.1" cy="198.4" r="0.6" fill="#F0E442"/>
<circle cx="321.5" cy="172.3" r="0.6" fill="#E07A1F"/>
<circle cx="291.6" cy="150.6" r="0.6" fill="#0072B2"/>
<circle cx="282.7" cy="266.8" r="0.6" fill="#F0E442"/>
<circle cx="283.6" cy="252.7" r="0.6" fill="#56B4E9"/>
<circle cx="306.2" cy="259.4" r="0.6" fill="#E07A1F"/>
<circle cx="280.8" cy="161.0" r="0.6" fill="#E07A1F"/>
<circle cx="282.5" cy="259.7" r="0.6" fill="#0072B2"/>
<circle cx="305.4" cy="159.1" r="0.6" fill="#F0E442"/>
<circle cx="318.5" cy="218.7" r="0.6" fill="#E07A1F"/>
<circle cx="319.4" cy="171.0" r="0.6" fill="#E07A1F"/>
<circle cx="305.1" cy="259.7" r="0.6" fill="#0072B2"/>
<circle cx="315.9" cy="235.8" r="0.6" fill="#56B4E9"/>
<circle cx="279.7" cy="196.6" r="0.6" fill="#E07A1F"/>
<circle cx="282.0" cy="269.7" r="0.6" fill="#E07A1F"/>
<circle cx="294.0" cy="151.1" r="0.6" fill="#F0E442"/>
<circle cx="275.1" cy="182.6" r="0.6" fill="#E07A1F"/>
<circle cx="321.3" cy="205.5" r="0.6" fill="#56B4E9"/>
<circle cx="279.7" cy="200.8" r="0.6" fill="#56B4E9"/>
<circle cx="290.7" cy="151.9" r="0.6" fill="#56B4E9"/>
<circle cx="302.5" cy="153.1" r="0.6" fill="#56B4E9"/>
<circle cx="323.0" cy="175.0" r="0.6" fill="#56B4E9"/>
<circle cx="294.1" cy="276.3" r="0.6" fill="#56B4E9"/>
<circle cx="292.2" cy="152.0" r="0.6" fill="#56B4E9"/>
<circle cx="324.0" cy="200.1" r="0.6" fill="#E07A1F"/>
<circle cx="291.5" cy="151.6" r="0.6" fill="#E07A1F"/>
<circle cx="287.4" cy="277.9" r="0.6" fill="#F0E442"/>
<circle cx="281.8" cy="205.0" r="0.6" fill="#F0E442"/>
<circle cx="317.9" cy="224.3" r="0.6" fill="#56B4E9"/>
<circle cx="306.9" cy="258.3" r="0.6" fill="#009E73"/>
<circle cx="316.1" cy="237.2" r="0.6" fill="#56B4E9"/>
<circle cx="321.1" cy="173.1" r="0.6" fill="#56B4E9"/>
<circle cx="278.3" cy="169.0" r="0.6" fill="#F0E442"/>
<circle cx="287.7" cy="276.8" r="0.6" fill="#56B4E9"/>
<circle cx="299.3" cy="268.0" r="0.6" fill="#E07A1F"/>
<circle cx="287.6" cy="276.0" r="0.6" fill="#56B4E9"/>
<circle cx="298.6" cy="152.8" r="0.6" fill="#56B4E9"/>
<circle cx="321.6" cy="210.0" r="0.6" fill="#E07A1F"/>
<circle cx="295.7" cy="268.5" r="0.6" fill="#56B4E9"/>
<circle cx="297.8" cy="267.7" r="0.6" fill="#0072B2"/>
<circle cx="322.2" cy="173.0" r="0.6" fill="#F0E442"/>
<circle cx="307.5" cy="168.6" r="0.6" fill="#56B4E9"/>
<circle cx="294.5" cy="272.3" r="0.6" fill="#56B4E9"/>
<circle cx="281.4" cy="211.9" r="0.6" fill="#E07A1F"/>
<circle cx="322.4" cy="208.4" r="0.6" fill="#0072B2"/>
<circle cx="324.9" cy="194.6" r="0.6" fill="#D55E00"/>
<circle cx="274.7" cy="176.2" r="0.6" fill="#F0E442"/>
<circle cx="284.0" cy="233.0" r="0.6" fill="#56B4E9"/>
<circle cx="282.1" cy="266.0" r="0.6" fill="#56B4E9"/>
<circle cx="325.4" cy="189.9" r="0.6" fill="#E07A1F"/>
<circle cx="289.1" cy="277.1" r="0.6" fill="#56B4E9"/>
<circle cx="292.2" cy="149.0" r="0.6" fill="#56B4E9"/>
<circle cx="275.8" cy="181.8" r="0.6" fill="#E07A1F"/>
<circle cx="284.8" cy="232.9" r="0.6" fill="#E07A1F"/>
<circle cx="306.3" cy="161.5" r="0.6" fill="#56B4E9"/>
<circle cx="324.7" cy="182.7" r="0.6" fill="#56B4E9"/>
<circle cx="291.4" cy="150.1" r="0.6" fill="#0072B2"/>
<circle cx="311.8" cy="257.5" r="0.6" fill="#56B4E9"/>
<circle cx="313.5" cy="250.1" r="0.6" fill="#E07A1F"/>
<circle cx="314.9" cy="242.0" r="0.6" fill="#56B4E9"/>
<circle cx="313.9" cy="251.6" r="0.6" fill="#D55E00"/>
<circle cx="276.6" cy="187.6" r="0.6" fill="#E07A1F"/>
<circle cx="323.5" cy="184.7" r="0.6" fill="#009E73"/>
<circle cx="281.1" cy="247.8" r="0.6" fill="#009E73"/>
<circle cx="326.4" cy="183.3" r="0.6" fill="#56B4E9"/>
<circle cx="294.6" cy="150.1" r="0.6" fill="#56B4E9"/>
<circle cx="308.1" cy="159.0" r="0.6" fill="#56B4E9"/>
<circle cx="288.0" cy="277.1" r="0.6" fill="#E07A1F"/>
<circle cx="318.9" cy="222.0" r="0.6" fill="#56B4E9"/>
<circle cx="307.1" cy="161.3" r="0.6" fill="#E07A1F"/>
<circle cx="281.9" cy="217.7" r="0.6" fill="#56B4E9"/>
<circle cx="284.7" cy="222.3" r="0.6" fill="#009E73"/>
<circle cx="281.8" cy="265.8" r="0.6" fill="#E07A1F"/>
<circle cx="282.0" cy="257.0" r="0.6" fill="#56B4E9"/>
<circle cx="278.3" cy="202.4" r="0.6" fill="#E07A1F"/>
<circle cx="319.9" cy="221.7" r="0.6" fill="#D55E00"/>
<circle cx="323.8" cy="178.2" r="0.6" fill="#F0E442"/>
<circle cx="285.2" cy="275.9" r="0.6" fill="#56B4E9"/>
<circle cx="277.7" cy="196.1" r="0.6" fill="#56B4E9"/>
<circle cx="302.9" cy="155.3" r="0.6" fill="#E07A1F"/>
<circle cx="282.8" cy="213.4" r="0.6" fill="#E07A1F"/>
<circle cx="282.4" cy="157.6" r="0.6" fill="#56B4E9"/>
<circle cx="282.1" cy="161.5" r="0.6" fill="#D55E00"/>
<circle cx="287.7" cy="275.1" r="0.6" fill="#CC79A7"/>
<circle cx="274.7" cy="184.3" r="0.6" fill="#F0E442"/>
<circle cx="321.3" cy="207.3" r="0.6" fill="#56B4E9"/>
<circle cx="285.6" cy="275.7" r="0.6" fill="#009E73"/>
<circle cx="324.3" cy="184.2" r="0.6" fill="#56B4E9"/>
<circle cx="279.7" cy="205.9" r="0.6" fill="#E07A1F"/>
<circle cx="307.3" cy="160.6" r="0.6" fill="#0072B2"/>
<circle cx="282.0" cy="210.0" r="0.6" fill="#0072B2"/>
<circle cx="282.5" cy="260.0" r="0.6" fill="#CC79A7"/>
<circle cx="293.8" cy="273.2" r="0.6" fill="#D55E00"/>
<circle cx="308.1" cy="256.3" r="0.6" fill="#0072B2"/>
<circle cx="307.7" cy="166.8" r="0.6" fill="#E07A1F"/>
<circle cx="274.3" cy="180.1" r="0.6" fill="#56B4E9"/>
<circle cx="293.5" cy="272.8" r="0.6" fill="#E07A1F"/>
<circle cx="321.5" cy="174.9" r="0.6" fill="#56B4E9"/>
<circle cx="290.8" cy="276.4" r="0.6" fill="#56B4E9"/>
<circle cx="274.7" cy="189.9" r="0.6" fill="#56B4E9"/>
<circle cx="287.6" cy="155.2" r="0.6" fill="#E07A1F"/>
<circle cx="282.9" cy="213.2" r="0.6" fill="#F0E442"/>
<circle cx="295.5" cy="272.9" r="0.6" fill="#F0E442"/>
<circle cx="312.5" cy="253.4" r="0.6" fill="#56B4E9"/>
<circle cx="281.9" cy="270.8" r="0.6" fill="#56B4E9"/>
<circle cx="318.1" cy="169.9" r="0.6" fill="#F0E442"/>
<circle cx="286.4" cy="276.7" r="0.6" fill="#F0E442"/>
<circle cx="318.3" cy="170.5" r="0.6" fill="#E07A1F"/>
<circle cx="292.6" cy="276.2" r="0.6" fill="#E07A1F"/>
<circle cx="285.0" cy="231.1" r="0.6" fill="#E07A1F"/>
<circle cx="287.2" cy="153.1" r="0.6" fill="#56B4E9"/>
<circle cx="409.4" cy="202.1" r="0.6" fill="#56B4E9"/>
<circle cx="409.3" cy="218.3" r="0.6" fill="#E07A1F"/>
<circle cx="366.6" cy="153.1" r="0.6" fill="#009E73"/>
<circle cx="364.9" cy="155.5" r="0.6" fill="#0072B2"/>
<circle cx="405.9" cy="193.2" r="0.6" fill="#56B4E9"/>
<circle cx="389.5" cy="246.6" r="0.6" fill="#009E73"/>
<circle cx="383.4" cy="153.8" r="0.6" fill="#56B4E9"/>
<circle cx="357.0" cy="213.5" r="0.6" fill="#0072B2"/>
<circle cx="356.8" cy="175.0" r="0.6" fill="#56B4E9"/>
<circle cx="360.6" cy="206.3" r="0.6" fill="#E07A1F"/>
<circle cx="355.6" cy="178.2" r="0.6" fill="#E07A1F"/>
<circle cx="355.8" cy="192.6" r="0.6" fill="#E07A1F"/>
<circle cx="389.1" cy="156.3" r="0.6" fill="#F0E442"/>
<circle cx="407.7" cy="195.1" r="0.6" fill="#56B4E9"/>
<circle cx="375.3" cy="243.1" r="0.6" fill="#E07A1F"/>
<circle cx="355.2" cy="236.6" r="0.6" fill="#56B4E9"/>
<circle cx="376.5" cy="153.1" r="0.6" fill="#56B4E9"/>
<circle cx="409.4" cy="203.7" r="0.6" fill="#E07A1F"/>
<circle cx="387.5" cy="245.5" r="0.6" fill="#CC79A7"/>
<circle cx="357.5" cy="165.9" r="0.6" fill="#E07A1F"/>
<circle cx="410.0" cy="208.0" r="0.6" fill="#E07A1F"/>
<circle cx="400.5" cy="184.6" r="0.6" fill="#0072B2"/>
<circle cx="357.8" cy="164.6" r="0.6" fill="#E07A1F"/>
<circle cx="356.7" cy="236.1" r="0.6" fill="#E07A1F"/>
<circle cx="411.8" cy="215.9" r="0.6" fill="#E07A1F"/>
<circle cx="353.9" cy="187.7" r="0.6" fill="#0072B2"/>
<circle cx="399.4" cy="161.4" r="0.6" fill="#E07A1F"/>
<circle cx="401.0" cy="160.0" r="0.6" fill="#56B4E9"/>
<circle cx="399.1" cy="157.2" r="0.6" fill="#56B4E9"/>
<circle cx="364.8" cy="155.3" r="0.6" fill="#56B4E9"/>
<circle cx="356.1" cy="174.3" r="0.6" fill="#F0E442"/>
<circle cx="411.8" cy="226.4" r="0.6" fill="#E07A1F"/>
<circle cx="355.6" cy="175.2" r="0.6" fill="#D55E00"/>
<circle cx="353.5" cy="178.0" r="0.6" fill="#56B4E9"/>
<circle cx="402.3" cy="162.2" r="0.6" fill="#F0E442"/>
<circle cx="358.1" cy="166.2" r="0.6" fill="#E07A1F"/>
<circle cx="409.4" cy="216.2" r="0.6" fill="#0072B2"/>
<circle cx="386.6" cy="246.4" r="0.6" fill="#E07A1F"/>
<circle cx="412.1" cy="219.4" r="0.6" fill="#56B4E9"/>
<circle cx="409.8" cy="206.7" r="0.6" fill="#E07A1F"/>
<circle cx="358.9" cy="208.2" r="0.6" fill="#CC79A7"/>
<circle cx="390.6" cy="155.0" r="0.6" fill="#56B4E9"/>
<circle cx="401.5" cy="248.0" r="0.6" fill="#E07A1F"/>
<circle cx="361.1" cy="243.4" r="0.6" fill="#E07A1F"/>
<circle cx="402.2" cy="158.8" r="0.6" fill="#E07A1F"/>
<circle cx="356.5" cy="235.2" r="0.6" fill="#F0E442"/>
<circle cx="368.5" cy="153.8" r="0.6" fill="#56B4E9"/>
<circle cx="401.1" cy="167.7" r="0.6" fill="#E07A1F"/>
<circle cx="354.9" cy="195.9" r="0.6" fill="#E07A1F"/>
<circle cx="404.4" cy="242.4" r="0.6" fill="#E07A1F"/>
<circle cx="358.2" cy="214.6" r="0.6" fill="#F0E442"/>
<circle cx="408.4" cy="224.4" r="0.6" fill="#E07A1F"/>
<circle cx="379.7" cy="152.4" r="0.6" fill="#009E73"/>
<circle cx="361.3" cy="162.3" r="0.6" fill="#56B4E9"/>
<circle cx="371.8" cy="150.5" r="0.6" fill="#E07A1F"/>
<circle cx="355.6" cy="189.9" r="0.6" fill="#56B4E9"/>
<circle cx="380.7" cy="151.3" r="0.6" fill="#009E73"/>
<circle cx="357.6" cy="242.3" r="0.6" fill="#E07A1F"/>
<circle cx="401.9" cy="164.2" r="0.6" fill="#E07A1F"/>
<circle cx="408.6" cy="210.7" r="0.6" fill="#F0E442"/>
<circle cx="400.9" cy="179.5" r="0.6" fill="#56B4E9"/>
<circle cx="393.9" cy="247.1" r="0.6" fill="#009E73"/>
<circle cx="398.3" cy="160.3" r="0.6" fill="#56B4E9"/>
<circle cx="377.9" cy="243.6" r="0.6" fill="#E07A1F"/>
<circle cx="402.3" cy="171.5" r="0.6" fill="#56B4E9"/>
<circle cx="371.1" cy="151.5" r="0.6" fill="#56B4E9"/>
<circle cx="363.0" cy="242.4" r="0.6" fill="#56B4E9"/>
<circle cx="401.4" cy="177.9" r="0.6" fill="#56B4E9"/>
<circle cx="355.4" cy="232.4" r="0.6" fill="#E07A1F"/>
<circle cx="394.6" cy="157.6" r="0.6" fill="#E07A1F"/>
<circle cx="396.5" cy="159.4" r="0.6" fill="#F0E442"/>
<circle cx="374.0" cy="149.2" r="0.6" fill="#CC79A7"/>
<circle cx="369.2" cy="152.6" r="0.6" fill="#D55E00"/>
<circle cx="363.7" cy="155.1" r="0.6" fill="#D55E00"/>
<circle cx="396.4" cy="250.2" r="0.6" fill="#56B4E9"/>
<circle cx="403.7" cy="188.1" r="0.6" fill="#F0E442"/>
<circle cx="366.2" cy="242.5" r="0.6" fill="#F0E442"/>
<circle cx="395.8" cy="158.1" r="0.6" fill="#E07A1F"/>
<circle cx="408.3" cy="224.4" r="0.6" fill="#E07A1F"/>
<circle cx="355.7" cy="194.7" r="0.6" fill="#E07A1F"/>
<circle cx="371.0" cy="241.2" r="0.6" fill="#009E73"/>
<circle cx="378.5" cy="150.9" r="0.6" fill="#56B4E9"/>
<circle cx="410.5" cy="216.9" r="0.6" fill="#E07A1F"/>
<circle cx="354.7" cy="184.8" r="0.6" fill="#F0E442"/>
<circle cx="374.7" cy="149.9" r="0.6" fill="#009E73"/>
<circle cx="403.3" cy="244.4" r="0.6" fill="#56B4E9"/>
<circle cx="411.4" cy="216.6" r="0.6" fill="#E07A1F"/>
<circle cx="407.8" cy="234.1" r="0.6" fill="#56B4E9"/>
<circle cx="384.8" cy="153.3" r="0.6" fill="#E07A1F"/>
<circle cx="409.3" cy="214.4" r="0.6" fill="#0072B2"/>
<circle cx="356.6" cy="222.4" r="0.6" fill="#E07A1F"/>
<circle cx="372.1" cy="241.6" r="0.6" fill="#E07A1F"/>
<circle cx="393.0" cy="247.8" r="0.6" fill="#E07A1F"/>
<circle cx="403.4" cy="242.3" r="0.6" fill="#0072B2"/>
<circle cx="409.0" cy="219.4" r="0.6" fill="#56B4E9"/>
<circle cx="377.7" cy="244.4" r="0.6" fill="#56B4E9"/>
<circle cx="403.0" cy="163.9" r="0.6" fill="#D55E00"/>
<circle cx="399.1" cy="246.9" r="0.6" fill="#E07A1F"/>
<circle cx="407.9" cy="200.9" r="0.6" fill="#E07A1F"/>
<circle cx="400.5" cy="160.0" r="0.6" fill="#56B4E9"/>
<circle cx="357.9" cy="205.5" r="0.6" fill="#56B4E9"/>
<circle cx="353.3" cy="188.0" r="0.6" fill="#E07A1F"/>
<circle cx="380.3" cy="241.5" r="0.6" fill="#D55E00"/>
<circle cx="369.4" cy="240.8" r="0.6" fill="#0072B2"/>
<circle cx="406.4" cy="201.6" r="0.6" fill="#E07A1F"/>
<circle cx="356.1" cy="169.2" r="0.6" fill="#E07A1F"/>
<circle cx="380.0" cy="243.7" r="0.6" fill="#56B4E9"/>
<circle cx="356.0" cy="187.5" r="0.6" fill="#E07A1F"/>
<circle cx="359.5" cy="161.1" r="0.6" fill="#E07A1F"/>
<circle cx="366.8" cy="154.6" r="0.6" fill="#E07A1F"/>
<circle cx="358.0" cy="203.1" r="0.6" fill="#E07A1F"/>
<circle cx="358.4" cy="241.9" r="0.6" fill="#56B4E9"/>
<circle cx="383.7" cy="154.5" r="0.6" fill="#0072B2"/>
<circle cx="361.0" cy="161.5" r="0.6" fill="#F0E442"/>
<circle cx="405.9" cy="193.7" r="0.6" fill="#56B4E9"/>
<circle cx="397.1" cy="248.2" r="0.6" fill="#009E73"/>
<circle cx="357.3" cy="211.4" r="0.6" fill="#E07A1F"/>
<circle cx="362.7" cy="156.1" r="0.6" fill="#56B4E9"/>
<circle cx="411.7" cy="223.9" r="0.6" fill="#F0E442"/>
<circle cx="398.2" cy="250.4" r="0.6" fill="#56B4E9"/>
<circle cx="358.9" cy="206.6" r="0.6" fill="#E07A1F"/>
<circle cx="355.7" cy="179.2" r="0.6" fill="#E07A1F"/>
<circle cx="353.2" cy="197.6" r="0.6" fill="#0072B2"/>
<circle cx="370.2" cy="151.7" r="0.6" fill="#009E73"/>
<circle cx="384.3" cy="155.4" r="0.6" fill="#009E73"/>
<circle cx="400.7" cy="245.5" r="0.6" fill="#56B4E9"/>
<circle cx="385.1" cy="246.4" r="0.6" fill="#E07A1F"/>
<circle cx="367.1" cy="153.7" r="0.6" fill="#56B4E9"/>
<circle cx="356.9" cy="241.4" r="0.6" fill="#D55E00"/>
<circle cx="369.5" cy="152.9" r="0.6" fill="#F0E442"/>
<circle cx="411.7" cy="224.0" r="0.6" fill="#CC79A7"/>
<circle cx="407.5" cy="201.8" r="0.6" fill="#F0E442"/>
<circle cx="401.3" cy="157.4" r="0.6" fill="#56B4E9"/>
<circle cx="401.0" cy="176.7" r="0.6" fill="#009E73"/>
<circle cx="355.0" cy="237.7" r="0.6" fill="#56B4E9"/>
<circle cx="363.0" cy="158.7" r="0.6" fill="#56B4E9"/>
<circle cx="358.1" cy="240.4" r="0.6" fill="#E07A1F"/>
<circle cx="356.7" cy="168.9" r="0.6" fill="#F0E442"/>
<circle cx="356.0" cy="196.6" r="0.6" fill="#D55E00"/>
<circle cx="401.8" cy="166.9" r="0.6" fill="#CC79A7"/>
<circle cx="409.5" cy="227.8" r="0.6" fill="#E07A1F"/>
<circle cx="399.5" cy="159.8" r="0.6" fill="#E07A1F"/>
<circle cx="392.0" cy="156.5" r="0.6" fill="#009E73"/>
<circle cx="356.5" cy="164.3" r="0.6" fill="#56B4E9"/>
<circle cx="357.4" cy="202.0" r="0.6" fill="#56B4E9"/>
<circle cx="396.0" cy="247.6" r="0.6" fill="#F0E442"/>
<circle cx="358.2" cy="160.8" r="0.6" fill="#56B4E9"/>
<circle cx="368.2" cy="243.9" r="0.6" fill="#0072B2"/>
<circle cx="398.4" cy="246.4" r="0.6" fill="#E07A1F"/>
<circle cx="362.7" cy="160.0" r="0.6" fill="#56B4E9"/>
<circle cx="356.0" cy="243.2" r="0.6" fill="#56B4E9"/>
<circle cx="365.7" cy="244.8" r="0.6" fill="#F0E442"/>
<circle cx="401.3" cy="161.5" r="0.6" fill="#E07A1F"/>
<circle cx="373.3" cy="150.6" r="0.6" fill="#F0E442"/>
<circle cx="399.9" cy="243.7" r="0.6" fill="#E07A1F"/>
<circle cx="401.9" cy="183.9" r="0.6" fill="#E07A1F"/>
<circle cx="372.4" cy="150.6" r="0.6" fill="#0072B2"/>
<circle cx="356.9" cy="205.3" r="0.6" fill="#F0E442"/>
<circle cx="358.3" cy="207.8" r="0.6" fill="#E07A1F"/>
<circle cx="354.7" cy="172.4" r="0.6" fill="#56B4E9"/>
</g>
<text x="463.8" y="138.0" font-size="14.2" font-weight="bold">e</text>
<rect x="491.6" y="144.3" width="148.2" height="139.0" fill="none" stroke="#222" stroke-width="1"/>
<line x1="489.4" y1="150.2" x2="491.6" y2="150.2" stroke="#333" stroke-width="0.9"/>
<text x="487.2" y="153.3" font-size="8.9" text-anchor="end" fill="#4D4D4D" stroke="#4D4D4D" stroke-width="0.25">5.0</text>
<line x1="489.4" y1="176.6" x2="491.6" y2="176.6" stroke="#333" stroke-width="0.9"/>
<text x="487.2" y="179.7" font-size="8.9" text-anchor="end" fill="#4D4D4D" stroke="#4D4D4D" stroke-width="0.25">2.5</text>
<line x1="489.4" y1="203.0" x2="491.6" y2="203.0" stroke="#333" stroke-width="0.9"/>
<text x="487.2" y="206.1" font-size="8.9" text-anchor="end" fill="#4D4D4D" stroke="#4D4D4D" stroke-width="0.25">0.0</text>
<line x1="489.4" y1="229.4" x2="491.6" y2="229.4" stroke="#333" stroke-width="0.9"/>
<text x="487.2" y="232.5" font-size="8.9" text-anchor="end" fill="#4D4D4D" stroke="#4D4D4D" stroke-width="0.25">−2.5</text>
<line x1="489.4" y1="255.8" x2="491.6" y2="255.8" stroke="#333" stroke-width="0.9"/>
<text x="487.2" y="258.9" font-size="8.9" text-anchor="end" fill="#4D4D4D" stroke="#4D4D4D" stroke-width="0.25">−5.0</text>
<line x1="489.4" y1="282.2" x2="491.6" y2="282.2" stroke="#333" stroke-width="0.9"/>
<text x="487.2" y="285.3" font-size="8.9" text-anchor="end" fill="#4D4D4D" stroke="#4D4D4D" stroke-width="0.25">−7.5</text>
<line x1="494.8" y1="283.3" x2="494.8" y2="285.5" stroke="#333" stroke-width="0.9"/>
<text x="494.8" y="293.6" font-size="8.9" text-anchor="middle" fill="#4D4D4D" stroke="#4D4D4D" stroke-width="0.25">−10</text>
<line x1="527.9" y1="283.3" x2="527.9" y2="285.5" stroke="#333" stroke-width="0.9"/>
<text x="527.9" y="293.6" font-size="8.9" text-anchor="middle" fill="#4D4D4D" stroke="#4D4D4D" stroke-width="0.25">−5</text>
<line x1="561.1" y1="283.3" x2="561.1" y2="285.5" stroke="#333" stroke-width="0.9"/>
<text x="561.1" y="293.6" font-size="8.9" text-anchor="middle" fill="#4D4D4D" stroke="#4D4D4D" stroke-width="0.25">0</text>
<line x1="594.3" y1="283.3" x2="594.3" y2="285.5" stroke="#333" stroke-width="0.9"/>
<text x="594.3" y="293.6" font-size="8.9" text-anchor="middle" fill="#4D4D4D" stroke="#4D4D4D" stroke-width="0.25">5</text>
<line x1="627.5" y1="283.3" x2="627.5" y2="285.5" stroke="#333" stroke-width="0.9"/>
<text x="627.5" y="293.6" font-size="8.9" text-anchor="middle" fill="#4D4D4D" stroke="#4D4D4D" stroke-width="0.25">10</text>
<text x="566.5" y="304.3" font-size="9.0" text-anchor="middle" stroke="#000" stroke-width="0.25">UMAP_1</text>
<text x="469.4" y="206.5" font-size="9.1" text-anchor="middle" transform="rotate(-90 469.4 206.5)" stroke="#000" stroke-width="0.25">UMAP_2</text>
<text x="636.6" y="279.6" font-size="8.6" text-anchor="end" stroke="#000" stroke-width="0.25">genotype</text>
<g filter="url(#bl)">
<polygon points="510.5,152.9 514.0,150.7 518.4,150.3 523.2,151.6 526.3,154.6 528.0,159.9 529.8,166.0 533.3,169.5 539.8,170.4 543.8,173.0 546.0,178.3 547.7,185.3 548.1,192.3 546.8,199.3 544.2,206.3 542.9,210.9 542.0,218.8 539.8,227.5 538.5,236.3 536.8,245.0 535.9,253.8 531.5,257.3 527.1,259.9 522.7,262.5 519.2,269.5 515.7,274.8 511.8,277.9 509.6,277.4 506.1,273.0 504.8,266.9 503.9,258.2 503.5,249.4 504.4,243.3 506.1,236.3 506.1,227.5 505.2,218.8 503.9,210.9 503.5,208.0 501.7,201.0 499.5,194.0 497.8,187.9 497.4,181.8 498.7,173.9 500.9,166.9 502.6,160.8 508.7,156.4" fill="url(#pe)"/>
<polygon points="595.8,150.6 602.0,151.2 607.0,154.3 613.2,155.6 620.7,157.4 623.1,162.4 623.8,176.1 624.4,187.3 628.1,194.8 630.6,203.5 632.5,214.7 633.1,222.2 630.6,232.1 626.9,240.8 621.9,247.0 618.2,248.3 609.5,245.8 603.2,243.3 594.5,242.1 584.5,243.3 579.6,242.1 577.7,232.1 577.7,219.7 580.8,207.2 578.9,199.8 577.1,192.3 577.1,182.3 577.7,169.9 580.8,161.2 585.8,156.2 590.8,152.5" fill="url(#pe)"/>
<polygon points="510.5,152.9 514.0,150.7 518.4,150.3 523.2,151.6 526.3,154.6 528.0,159.9 529.8,166.0 533.3,169.5 539.8,170.4 543.8,173.0 546.0,178.3 547.7,185.3 548.1,192.3 546.8,199.3 544.2,206.3 542.9,210.9 542.0,218.8 539.8,227.5 538.5,236.3 536.8,245.0 535.9,253.8 531.5,257.3 527.1,259.9 522.7,262.5 519.2,269.5 515.7,274.8 511.8,277.9 509.6,277.4 506.1,273.0 504.8,266.9 503.9,258.2 503.5,249.4 504.4,243.3 506.1,236.3 506.1,227.5 505.2,218.8 503.9,210.9 503.5,208.0 501.7,201.0 499.5,194.0 497.8,187.9 497.4,181.8 498.7,173.9 500.9,166.9 502.6,160.8 508.7,156.4" fill="url(#pe2)"/>
<polygon points="595.8,150.6 602.0,151.2 607.0,154.3 613.2,155.6 620.7,157.4 623.1,162.4 623.8,176.1 624.4,187.3 628.1,194.8 630.6,203.5 632.5,214.7 633.1,222.2 630.6,232.1 626.9,240.8 621.9,247.0 618.2,248.3 609.5,245.8 603.2,243.3 594.5,242.1 584.5,243.3 579.6,242.1 577.7,232.1 577.7,219.7 580.8,207.2 578.9,199.8 577.1,192.3 577.1,182.3 577.7,169.9 580.8,161.2 585.8,156.2 590.8,152.5" fill="url(#pe2)"/>
<circle cx="593.2" cy="215.2" r="1.3" fill="#fff" opacity="0.8"/>
<circle cx="594.1" cy="215.0" r="0.7" fill="#fff" opacity="0.9"/>
<circle cx="599.2" cy="216.1" r="0.7" fill="#fff" opacity="0.9"/>
<circle cx="593.5" cy="216.0" r="0.7" fill="#fff" opacity="0.9"/>
<circle cx="592.3" cy="213.9" r="0.7" fill="#fff" opacity="0.9"/>
<circle cx="594.1" cy="214.4" r="0.7" fill="#fff" opacity="0.9"/>
<circle cx="594.6" cy="214.8" r="0.7" fill="#fff" opacity="0.9"/>
<circle cx="590.1" cy="212.9" r="0.7" fill="#fff" opacity="0.9"/>
<circle cx="591.7" cy="211.7" r="0.7" fill="#fff" opacity="0.9"/>
<circle cx="593.1" cy="214.7" r="0.7" fill="#fff" opacity="0.9"/>
<circle cx="594.8" cy="213.7" r="0.7" fill="#fff" opacity="0.9"/>
<circle cx="592.8" cy="216.2" r="0.7" fill="#fff" opacity="0.9"/>
<circle cx="594.5" cy="213.4" r="0.7" fill="#fff" opacity="0.9"/>
<circle cx="595.9" cy="214.1" r="0.7" fill="#fff" opacity="0.9"/>
<circle cx="595.3" cy="214.7" r="0.7" fill="#fff" opacity="0.9"/>
<circle cx="590.7" cy="219.0" r="1.0" fill="#fff" opacity="0.8"/>
<circle cx="590.1" cy="217.3" r="0.7" fill="#fff" opacity="0.9"/>
<circle cx="590.5" cy="222.3" r="0.7" fill="#fff" opacity="0.9"/>
<circle cx="589.8" cy="221.1" r="0.7" fill="#fff" opacity="0.9"/>
<circle cx="592.5" cy="218.5" r="0.7" fill="#fff" opacity="0.9"/>
<circle cx="592.2" cy="220.9" r="0.7" fill="#fff" opacity="0.9"/>
<circle cx="590.3" cy="218.3" r="0.7" fill="#fff" opacity="0.9"/>
<circle cx="592.2" cy="219.5" r="0.7" fill="#fff" opacity="0.9"/>
<circle cx="593.6" cy="219.6" r="0.7" fill="#fff" opacity="0.9"/>
<circle cx="589.1" cy="218.9" r="0.7" fill="#fff" opacity="0.9"/>
<circle cx="589.1" cy="220.0" r="0.7" fill="#fff" opacity="0.9"/>
<circle cx="591.7" cy="218.4" r="0.7" fill="#fff" opacity="0.9"/>
<circle cx="595.7" cy="211.5" r="0.8" fill="#fff" opacity="0.8"/>
<circle cx="594.7" cy="212.5" r="0.7" fill="#fff" opacity="0.9"/>
<circle cx="595.3" cy="212.9" r="0.7" fill="#fff" opacity="0.9"/>
<circle cx="594.6" cy="211.2" r="0.7" fill="#fff" opacity="0.9"/>
<circle cx="595.1" cy="210.3" r="0.7" fill="#fff" opacity="0.9"/>
<circle cx="598.8" cy="213.4" r="0.7" fill="#fff" opacity="0.9"/>
<circle cx="595.0" cy="212.4" r="0.7" fill="#fff" opacity="0.9"/>
<circle cx="593.7" cy="212.9" r="0.7" fill="#fff" opacity="0.9"/>
<circle cx="596.9" cy="211.1" r="0.7" fill="#fff" opacity="0.9"/>
<circle cx="595.3" cy="211.8" r="0.7" fill="#fff" opacity="0.9"/>
<circle cx="614.0" cy="212.6" r="1.2" fill="#fff" opacity="0.8"/>
<circle cx="614.8" cy="212.0" r="0.7" fill="#fff" opacity="0.9"/>
<circle cx="612.6" cy="212.2" r="0.7" fill="#fff" opacity="0.9"/>
<circle cx="613.3" cy="213.9" r="0.7" fill="#fff" opacity="0.9"/>
<circle cx="614.2" cy="213.0" r="0.7" fill="#fff" opacity="0.9"/>
<circle cx="611.3" cy="212.0" r="0.7" fill="#fff" opacity="0.9"/>
<circle cx="613.4" cy="211.8" r="0.7" fill="#fff" opacity="0.9"/>
<circle cx="613.8" cy="212.1" r="0.7" fill="#fff" opacity="0.9"/>
<circle cx="611.5" cy="214.2" r="0.7" fill="#fff" opacity="0.9"/>
<circle cx="615.5" cy="211.8" r="0.7" fill="#fff" opacity="0.9"/>
<circle cx="615.0" cy="211.1" r="0.7" fill="#fff" opacity="0.9"/>
<circle cx="612.0" cy="212.3" r="0.7" fill="#fff" opacity="0.9"/>
<circle cx="616.6" cy="212.5" r="0.7" fill="#fff" opacity="0.9"/>
<circle cx="611.5" cy="213.0" r="0.7" fill="#fff" opacity="0.9"/>
<circle cx="615.7" cy="216.5" r="0.9" fill="#fff" opacity="0.8"/>
<circle cx="615.0" cy="215.6" r="0.7" fill="#fff" opacity="0.9"/>
<circle cx="616.2" cy="214.3" r="0.7" fill="#fff" opacity="0.9"/>
<circle cx="613.5" cy="214.7" r="0.7" fill="#fff" opacity="0.9"/>
<circle cx="617.1" cy="216.7" r="0.7" fill="#fff" opacity="0.9"/>
<circle cx="615.0" cy="215.7" r="0.7" fill="#fff" opacity="0.9"/>
<circle cx="616.6" cy="218.1" r="0.7" fill="#fff" opacity="0.9"/>
<circle cx="614.8" cy="216.9" r="0.7" fill="#fff" opacity="0.9"/>
<circle cx="618.7" cy="217.3" r="0.7" fill="#fff" opacity="0.9"/>
<circle cx="615.3" cy="217.0" r="0.7" fill="#fff" opacity="0.9"/>
<circle cx="615.9" cy="217.4" r="0.7" fill="#fff" opacity="0.9"/>
<circle cx="611.7" cy="209.5" r="0.7" fill="#fff" opacity="0.8"/>
<circle cx="612.1" cy="209.1" r="0.7" fill="#fff" opacity="0.9"/>
<circle cx="611.6" cy="209.9" r="0.7" fill="#fff" opacity="0.9"/>
<circle cx="611.1" cy="209.6" r="0.7" fill="#fff" opacity="0.9"/>
<circle cx="610.9" cy="210.7" r="0.7" fill="#fff" opacity="0.9"/>
<circle cx="613.2" cy="208.7" r="0.7" fill="#fff" opacity="0.9"/>
<circle cx="612.6" cy="209.7" r="0.7" fill="#fff" opacity="0.9"/>
<circle cx="611.8" cy="209.3" r="0.7" fill="#fff" opacity="0.9"/>
<circle cx="583.1" cy="205.5" r="0.9" fill="#fff" opacity="0.8"/>
<circle cx="583.5" cy="206.8" r="0.7" fill="#fff" opacity="0.9"/>
<circle cx="581.6" cy="206.8" r="0.7" fill="#fff" opacity="0.9"/>
<circle cx="582.8" cy="204.2" r="0.7" fill="#fff" opacity="0.9"/>
<circle cx="583.1" cy="206.4" r="0.7" fill="#fff" opacity="0.9"/>
<circle cx="583.1" cy="205.9" r="0.7" fill="#fff" opacity="0.9"/>
<circle cx="582.7" cy="204.9" r="0.7" fill="#fff" opacity="0.9"/>
<circle cx="584.4" cy="204.4" r="0.7" fill="#fff" opacity="0.9"/>
<circle cx="584.4" cy="206.0" r="0.7" fill="#fff" opacity="0.9"/>
<circle cx="582.8" cy="205.3" r="0.7" fill="#fff" opacity="0.9"/>
<circle cx="582.8" cy="205.5" r="0.7" fill="#fff" opacity="0.9"/>
<circle cx="580.6" cy="209.0" r="0.9" fill="#fff" opacity="0.8"/>
<circle cx="580.6" cy="208.9" r="0.7" fill="#fff" opacity="0.9"/>
<circle cx="578.2" cy="206.4" r="0.7" fill="#fff" opacity="0.9"/>
<circle cx="581.1" cy="208.3" r="0.7" fill="#fff" opacity="0.9"/>
<circle cx="580.0" cy="208.9" r="0.7" fill="#fff" opacity="0.9"/>
<circle cx="579.3" cy="211.0" r="0.7" fill="#fff" opacity="0.9"/>
<circle cx="580.7" cy="208.9" r="0.7" fill="#fff" opacity="0.9"/>
<circle cx="579.4" cy="210.2" r="0.7" fill="#fff" opacity="0.9"/>
<circle cx="581.6" cy="210.9" r="0.7" fill="#fff" opacity="0.9"/>
<circle cx="581.8" cy="208.1" r="0.7" fill="#fff" opacity="0.9"/>
<circle cx="579.1" cy="210.8" r="0.7" fill="#fff" opacity="0.9"/>
<circle cx="579.6" cy="203.0" r="0.7" fill="#fff" opacity="0.8"/>
<circle cx="579.0" cy="203.0" r="0.7" fill="#fff" opacity="0.9"/>
<circle cx="579.5" cy="203.5" r="0.7" fill="#fff" opacity="0.9"/>
<circle cx="580.2" cy="202.1" r="0.7" fill="#fff" opacity="0.9"/>
<circle cx="579.1" cy="201.4" r="0.7" fill="#fff" opacity="0.9"/>
<circle cx="580.2" cy="202.9" r="0.7" fill="#fff" opacity="0.9"/>
<circle cx="578.1" cy="204.0" r="0.7" fill="#fff" opacity="0.9"/>
<circle cx="579.7" cy="202.1" r="0.7" fill="#fff" opacity="0.9"/>
<circle cx="586.1" cy="211.0" r="0.6" fill="#fff" opacity="0.8"/>
<circle cx="585.8" cy="210.5" r="0.7" fill="#fff" opacity="0.9"/>
<circle cx="586.2" cy="211.2" r="0.7" fill="#fff" opacity="0.9"/>
<circle cx="585.7" cy="211.4" r="0.7" fill="#fff" opacity="0.9"/>
<circle cx="583.9" cy="210.8" r="0.7" fill="#fff" opacity="0.9"/>
<circle cx="586.7" cy="211.9" r="0.7" fill="#fff" opacity="0.9"/>
<circle cx="586.8" cy="210.1" r="0.7" fill="#fff" opacity="0.9"/>
<circle cx="584.7" cy="210.8" r="0.7" fill="#fff" opacity="0.9"/>
<circle cx="514.2" cy="150.6" r="0.6" fill="#009E73"/>
<circle cx="527.0" cy="155.4" r="0.6" fill="#D55E00"/>
<circle cx="530.7" cy="257.7" r="0.6" fill="#CC79A7"/>
<circle cx="529.3" cy="256.6" r="0.6" fill="#2C7FB8"/>
<circle cx="542.7" cy="209.3" r="0.6" fill="#56B4E9"/>
<circle cx="543.3" cy="213.4" r="0.6" fill="#1B9E77"/>
<circle cx="537.0" cy="253.2" r="0.6" fill="#7570B3"/>
<circle cx="546.0" cy="182.1" r="0.6" fill="#8C5A2B"/>
<circle cx="536.8" cy="248.4" r="0.6" fill="#7570B3"/>
<circle cx="520.4" cy="152.1" r="0.6" fill="#2C7FB8"/>
<circle cx="541.2" cy="216.5" r="0.6" fill="#56B4E9"/>
<circle cx="543.0" cy="218.1" r="0.6" fill="#8C5A2B"/>
<circle cx="504.7" cy="240.1" r="0.6" fill="#2C7FB8"/>
<circle cx="498.6" cy="170.2" r="0.6" fill="#2C7FB8"/>
<circle cx="502.3" cy="163.2" r="0.6" fill="#56B4E9"/>
<circle cx="503.2" cy="161.0" r="0.6" fill="#E69F00"/>
<circle cx="527.0" cy="161.5" r="0.6" fill="#009E73"/>
<circle cx="518.3" cy="151.9" r="0.6" fill="#F0E442"/>
<circle cx="503.1" cy="202.8" r="0.6" fill="#E69F00"/>
<circle cx="504.5" cy="211.7" r="0.6" fill="#E69F00"/>
<circle cx="509.9" cy="275.0" r="0.6" fill="#56B4E9"/>
<circle cx="506.0" cy="234.2" r="0.6" fill="#7570B3"/>
<circle cx="497.5" cy="192.0" r="0.6" fill="#E69F00"/>
<circle cx="537.2" cy="171.0" r="0.6" fill="#2C7FB8"/>
<circle cx="539.3" cy="170.0" r="0.6" fill="#CC79A7"/>
<circle cx="540.8" cy="172.4" r="0.6" fill="#E69F00"/>
<circle cx="530.6" cy="166.7" r="0.6" fill="#2C7FB8"/>
<circle cx="504.2" cy="267.9" r="0.6" fill="#2C7FB8"/>
<circle cx="502.1" cy="200.4" r="0.6" fill="#D55E00"/>
<circle cx="547.5" cy="188.9" r="0.6" fill="#009E73"/>
<circle cx="505.3" cy="222.3" r="0.6" fill="#56B4E9"/>
<circle cx="547.1" cy="189.5" r="0.6" fill="#E69F00"/>
<circle cx="511.2" cy="150.5" r="0.6" fill="#009E73"/>
<circle cx="527.4" cy="259.3" r="0.6" fill="#1B9E77"/>
<circle cx="510.0" cy="277.2" r="0.6" fill="#56B4E9"/>
<circle cx="529.7" cy="256.9" r="0.6" fill="#CC79A7"/>
<circle cx="504.3" cy="227.5" r="0.6" fill="#2C7FB8"/>
<circle cx="500.8" cy="171.8" r="0.6" fill="#1B9E77"/>
<circle cx="519.4" cy="271.4" r="0.6" fill="#7570B3"/>
<circle cx="537.7" cy="245.7" r="0.6" fill="#56B4E9"/>
<circle cx="511.9" cy="277.5" r="0.6" fill="#2C7FB8"/>
<circle cx="533.3" cy="170.4" r="0.6" fill="#D55E00"/>
<circle cx="538.6" cy="228.8" r="0.6" fill="#E69F00"/>
<circle cx="529.6" cy="163.2" r="0.6" fill="#E69F00"/>
<circle cx="544.6" cy="172.9" r="0.6" fill="#1B9E77"/>
<circle cx="514.3" cy="150.6" r="0.6" fill="#009E73"/>
<circle cx="505.8" cy="240.0" r="0.6" fill="#56B4E9"/>
<circle cx="518.3" cy="151.0" r="0.6" fill="#2C7FB8"/>
<circle cx="543.6" cy="210.6" r="0.6" fill="#56B4E9"/>
<circle cx="541.1" cy="216.1" r="0.6" fill="#2C7FB8"/>
<circle cx="527.6" cy="261.5" r="0.6" fill="#A6D854"/>
<circle cx="501.3" cy="164.0" r="0.6" fill="#2C7FB8"/>
<circle cx="535.5" cy="250.7" r="0.6" fill="#009E73"/>
<circle cx="540.4" cy="173.3" r="0.6" fill="#7570B3"/>
<circle cx="541.4" cy="209.6" r="0.6" fill="#56B4E9"/>
<circle cx="536.0" cy="169.8" r="0.6" fill="#CC79A7"/>
<circle cx="500.7" cy="161.9" r="0.6" fill="#E69F00"/>
<circle cx="500.4" cy="166.0" r="0.6" fill="#E69F00"/>
<circle cx="521.4" cy="151.6" r="0.6" fill="#E69F00"/>
<circle cx="502.8" cy="216.8" r="0.6" fill="#56B4E9"/>
<circle cx="532.5" cy="255.1" r="0.6" fill="#F0E442"/>
<circle cx="515.3" cy="150.3" r="0.6" fill="#E69F00"/>
<circle cx="525.5" cy="260.6" r="0.6" fill="#2C7FB8"/>
<circle cx="503.6" cy="246.2" r="0.6" fill="#F0E442"/>
<circle cx="539.8" cy="171.9" r="0.6" fill="#1B9E77"/>
<circle cx="518.0" cy="272.2" r="0.6" fill="#2C7FB8"/>
<circle cx="540.1" cy="229.8" r="0.6" fill="#8C5A2B"/>
<circle cx="540.6" cy="233.6" r="0.6" fill="#E69F00"/>
<circle cx="548.0" cy="189.5" r="0.6" fill="#A6D854"/>
<circle cx="547.4" cy="187.1" r="0.6" fill="#E69F00"/>
<circle cx="496.3" cy="177.7" r="0.6" fill="#2C7FB8"/>
<circle cx="523.5" cy="262.9" r="0.6" fill="#56B4E9"/>
<circle cx="544.1" cy="176.8" r="0.6" fill="#F0E442"/>
<circle cx="504.5" cy="268.8" r="0.6" fill="#E69F00"/>
<circle cx="505.1" cy="254.0" r="0.6" fill="#7570B3"/>
<circle cx="512.3" cy="155.0" r="0.6" fill="#CC79A7"/>
<circle cx="523.5" cy="260.2" r="0.6" fill="#2C7FB8"/>
<circle cx="502.5" cy="161.0" r="0.6" fill="#56B4E9"/>
<circle cx="525.6" cy="261.3" r="0.6" fill="#56B4E9"/>
<circle cx="546.6" cy="200.6" r="0.6" fill="#2C7FB8"/>
<circle cx="509.7" cy="276.2" r="0.6" fill="#2C7FB8"/>
<circle cx="541.4" cy="171.5" r="0.6" fill="#F0E442"/>
<circle cx="521.3" cy="153.7" r="0.6" fill="#CC79A7"/>
<circle cx="530.0" cy="165.3" r="0.6" fill="#D55E00"/>
<circle cx="505.5" cy="222.7" r="0.6" fill="#2C7FB8"/>
<circle cx="536.5" cy="238.5" r="0.6" fill="#F0E442"/>
<circle cx="525.0" cy="262.2" r="0.6" fill="#009E73"/>
<circle cx="542.7" cy="214.2" r="0.6" fill="#009E73"/>
<circle cx="498.9" cy="186.3" r="0.6" fill="#1B9E77"/>
<circle cx="513.8" cy="275.3" r="0.6" fill="#D55E00"/>
<circle cx="499.7" cy="196.2" r="0.6" fill="#E69F00"/>
<circle cx="547.1" cy="203.1" r="0.6" fill="#2C7FB8"/>
<circle cx="502.6" cy="208.7" r="0.6" fill="#56B4E9"/>
<circle cx="527.5" cy="166.1" r="0.6" fill="#56B4E9"/>
<circle cx="533.9" cy="168.3" r="0.6" fill="#E69F00"/>
<circle cx="505.9" cy="214.9" r="0.6" fill="#8C5A2B"/>
<circle cx="539.9" cy="225.0" r="0.6" fill="#2C7FB8"/>
<circle cx="504.9" cy="208.3" r="0.6" fill="#2C7FB8"/>
<circle cx="527.6" cy="258.6" r="0.6" fill="#D55E00"/>
<circle cx="496.5" cy="182.5" r="0.6" fill="#CC79A7"/>
<circle cx="500.9" cy="199.6" r="0.6" fill="#A6D854"/>
<circle cx="532.8" cy="166.8" r="0.6" fill="#1B9E77"/>
<circle cx="533.9" cy="256.7" r="0.6" fill="#CC79A7"/>
<circle cx="536.3" cy="250.6" r="0.6" fill="#D55E00"/>
<circle cx="543.5" cy="211.7" r="0.6" fill="#2C7FB8"/>
<circle cx="505.4" cy="160.1" r="0.6" fill="#8C5A2B"/>
<circle cx="500.8" cy="200.1" r="0.6" fill="#1B9E77"/>
<circle cx="530.2" cy="166.2" r="0.6" fill="#D55E00"/>
<circle cx="515.7" cy="274.4" r="0.6" fill="#D55E00"/>
<circle cx="543.8" cy="205.6" r="0.6" fill="#D55E00"/>
<circle cx="539.9" cy="218.2" r="0.6" fill="#CC79A7"/>
<circle cx="519.1" cy="149.9" r="0.6" fill="#56B4E9"/>
<circle cx="504.3" cy="238.7" r="0.6" fill="#2C7FB8"/>
<circle cx="540.4" cy="219.6" r="0.6" fill="#E69F00"/>
<circle cx="513.6" cy="276.3" r="0.6" fill="#1B9E77"/>
<circle cx="496.1" cy="186.8" r="0.6" fill="#1B9E77"/>
<circle cx="505.8" cy="233.9" r="0.6" fill="#009E73"/>
<circle cx="505.3" cy="267.0" r="0.6" fill="#CC79A7"/>
<circle cx="515.1" cy="274.7" r="0.6" fill="#1B9E77"/>
<circle cx="505.8" cy="227.9" r="0.6" fill="#7570B3"/>
<circle cx="537.5" cy="169.4" r="0.6" fill="#56B4E9"/>
<circle cx="524.1" cy="262.9" r="0.6" fill="#CC79A7"/>
<circle cx="523.5" cy="151.3" r="0.6" fill="#1B9E77"/>
<circle cx="513.4" cy="278.9" r="0.6" fill="#CC79A7"/>
<circle cx="536.7" cy="238.7" r="0.6" fill="#1B9E77"/>
<circle cx="506.1" cy="236.7" r="0.6" fill="#2C7FB8"/>
<circle cx="500.8" cy="175.2" r="0.6" fill="#009E73"/>
<circle cx="544.9" cy="178.0" r="0.6" fill="#2C7FB8"/>
<circle cx="505.2" cy="220.4" r="0.6" fill="#009E73"/>
<circle cx="504.6" cy="247.5" r="0.6" fill="#8C5A2B"/>
<circle cx="502.5" cy="166.8" r="0.6" fill="#56B4E9"/>
<circle cx="497.5" cy="184.8" r="0.6" fill="#CC79A7"/>
<circle cx="547.7" cy="191.1" r="0.6" fill="#E69F00"/>
<circle cx="504.5" cy="267.5" r="0.6" fill="#CC79A7"/>
<circle cx="537.2" cy="244.8" r="0.6" fill="#7570B3"/>
<circle cx="504.2" cy="266.6" r="0.6" fill="#D55E00"/>
<circle cx="528.5" cy="260.2" r="0.6" fill="#2C7FB8"/>
<circle cx="534.7" cy="255.1" r="0.6" fill="#2C7FB8"/>
<circle cx="505.2" cy="241.2" r="0.6" fill="#56B4E9"/>
<circle cx="538.9" cy="168.8" r="0.6" fill="#A6D854"/>
<circle cx="541.9" cy="219.8" r="0.6" fill="#CC79A7"/>
<circle cx="545.3" cy="201.8" r="0.6" fill="#CC79A7"/>
<circle cx="534.7" cy="255.0" r="0.6" fill="#2C7FB8"/>
<circle cx="542.6" cy="171.7" r="0.6" fill="#2C7FB8"/>
<circle cx="504.3" cy="217.5" r="0.6" fill="#56B4E9"/>
<circle cx="507.9" cy="154.0" r="0.6" fill="#CC79A7"/>
<circle cx="529.0" cy="160.3" r="0.6" fill="#7570B3"/>
<circle cx="548.4" cy="183.3" r="0.6" fill="#56B4E9"/>
<circle cx="505.3" cy="237.5" r="0.6" fill="#F0E442"/>
<circle cx="539.2" cy="232.4" r="0.6" fill="#009E73"/>
<circle cx="547.3" cy="180.3" r="0.6" fill="#CC79A7"/>
<circle cx="543.4" cy="174.5" r="0.6" fill="#2C7FB8"/>
<circle cx="509.3" cy="157.3" r="0.6" fill="#2C7FB8"/>
<circle cx="504.4" cy="267.0" r="0.6" fill="#E69F00"/>
<circle cx="503.1" cy="257.3" r="0.6" fill="#CC79A7"/>
<circle cx="521.7" cy="261.8" r="0.6" fill="#A6D854"/>
<circle cx="513.7" cy="277.5" r="0.6" fill="#E69F00"/>
<circle cx="510.5" cy="153.4" r="0.6" fill="#CC79A7"/>
<circle cx="501.4" cy="164.8" r="0.6" fill="#D55E00"/>
<circle cx="498.9" cy="197.1" r="0.6" fill="#E69F00"/>
<circle cx="621.7" cy="165.1" r="0.6" fill="#009E73"/>
<circle cx="602.9" cy="244.6" r="0.6" fill="#A6D854"/>
<circle cx="627.3" cy="240.5" r="0.6" fill="#009E73"/>
<circle cx="578.4" cy="175.6" r="0.6" fill="#7570B3"/>
<circle cx="592.4" cy="150.9" r="0.6" fill="#8C5A2B"/>
<circle cx="626.2" cy="193.9" r="0.6" fill="#009E73"/>
<circle cx="633.0" cy="221.6" r="0.6" fill="#D55E00"/>
<circle cx="576.0" cy="220.2" r="0.6" fill="#E69F00"/>
<circle cx="577.8" cy="198.3" r="0.6" fill="#1B9E77"/>
<circle cx="601.5" cy="152.2" r="0.6" fill="#E69F00"/>
<circle cx="580.0" cy="211.6" r="0.6" fill="#7570B3"/>
<circle cx="577.0" cy="177.2" r="0.6" fill="#56B4E9"/>
<circle cx="583.4" cy="157.7" r="0.6" fill="#2C7FB8"/>
<circle cx="578.0" cy="199.9" r="0.6" fill="#56B4E9"/>
<circle cx="628.1" cy="197.0" r="0.6" fill="#56B4E9"/>
<circle cx="593.6" cy="242.4" r="0.6" fill="#56B4E9"/>
<circle cx="589.8" cy="151.7" r="0.6" fill="#E69F00"/>
<circle cx="580.1" cy="204.9" r="0.6" fill="#2C7FB8"/>
<circle cx="576.0" cy="189.4" r="0.6" fill="#7570B3"/>
<circle cx="579.1" cy="163.5" r="0.6" fill="#2C7FB8"/>
<circle cx="622.2" cy="161.9" r="0.6" fill="#009E73"/>
<circle cx="620.9" cy="247.8" r="0.6" fill="#E69F00"/>
<circle cx="630.2" cy="205.3" r="0.6" fill="#F0E442"/>
<circle cx="582.0" cy="243.4" r="0.6" fill="#E69F00"/>
<circle cx="624.6" cy="178.0" r="0.6" fill="#D55E00"/>
<circle cx="619.3" cy="246.8" r="0.6" fill="#E69F00"/>
<circle cx="580.7" cy="160.1" r="0.6" fill="#2C7FB8"/>
<circle cx="579.2" cy="203.6" r="0.6" fill="#56B4E9"/>
<circle cx="620.6" cy="246.4" r="0.6" fill="#2C7FB8"/>
<circle cx="598.0" cy="242.7" r="0.6" fill="#E69F00"/>
<circle cx="577.9" cy="195.4" r="0.6" fill="#56B4E9"/>
<circle cx="602.9" cy="150.9" r="0.6" fill="#1B9E77"/>
<circle cx="578.1" cy="167.2" r="0.6" fill="#1B9E77"/>
<circle cx="599.9" cy="244.4" r="0.6" fill="#56B4E9"/>
<circle cx="575.9" cy="224.5" r="0.6" fill="#CC79A7"/>
<circle cx="579.2" cy="235.4" r="0.6" fill="#E69F00"/>
<circle cx="607.6" cy="245.7" r="0.6" fill="#D55E00"/>
<circle cx="606.2" cy="244.4" r="0.6" fill="#1B9E77"/>
<circle cx="617.4" cy="157.6" r="0.6" fill="#A6D854"/>
<circle cx="623.9" cy="164.4" r="0.6" fill="#E69F00"/>
<circle cx="581.6" cy="243.5" r="0.6" fill="#CC79A7"/>
<circle cx="598.4" cy="150.5" r="0.6" fill="#7570B3"/>
<circle cx="622.3" cy="169.0" r="0.6" fill="#1B9E77"/>
<circle cx="594.6" cy="151.7" r="0.6" fill="#D55E00"/>
<circle cx="598.8" cy="151.0" r="0.6" fill="#2C7FB8"/>
<circle cx="633.7" cy="222.0" r="0.6" fill="#E69F00"/>
<circle cx="589.3" cy="241.9" r="0.6" fill="#009E73"/>
<circle cx="598.0" cy="240.7" r="0.6" fill="#2C7FB8"/>
<circle cx="603.5" cy="154.5" r="0.6" fill="#CC79A7"/>
<circle cx="620.7" cy="246.3" r="0.6" fill="#1B9E77"/>
<circle cx="624.2" cy="186.4" r="0.6" fill="#009E73"/>
<circle cx="613.8" cy="154.3" r="0.6" fill="#1B9E77"/>
<circle cx="623.5" cy="168.2" r="0.6" fill="#A6D854"/>
<circle cx="605.3" cy="152.9" r="0.6" fill="#56B4E9"/>
<circle cx="607.0" cy="154.5" r="0.6" fill="#56B4E9"/>
<circle cx="622.3" cy="169.7" r="0.6" fill="#2C7FB8"/>
<circle cx="581.9" cy="161.2" r="0.6" fill="#8C5A2B"/>
<circle cx="578.0" cy="190.6" r="0.6" fill="#A6D854"/>
<circle cx="623.5" cy="160.0" r="0.6" fill="#1B9E77"/>
<circle cx="598.7" cy="242.1" r="0.6" fill="#7570B3"/>
<circle cx="625.4" cy="171.3" r="0.6" fill="#E69F00"/>
<circle cx="588.1" cy="154.1" r="0.6" fill="#A6D854"/>
<circle cx="614.5" cy="246.5" r="0.6" fill="#E69F00"/>
<circle cx="577.3" cy="237.3" r="0.6" fill="#E69F00"/>
<circle cx="605.5" cy="244.1" r="0.6" fill="#E69F00"/>
<circle cx="630.4" cy="204.9" r="0.6" fill="#1B9E77"/>
<circle cx="614.9" cy="247.6" r="0.6" fill="#2C7FB8"/>
<circle cx="625.3" cy="188.7" r="0.6" fill="#2C7FB8"/>
<circle cx="583.3" cy="158.2" r="0.6" fill="#E69F00"/>
<circle cx="618.3" cy="249.0" r="0.6" fill="#1B9E77"/>
<circle cx="631.6" cy="201.9" r="0.6" fill="#56B4E9"/>
<circle cx="597.6" cy="152.1" r="0.6" fill="#D55E00"/>
<circle cx="577.9" cy="230.3" r="0.6" fill="#E69F00"/>
<circle cx="591.7" cy="150.5" r="0.6" fill="#E69F00"/>
<circle cx="634.1" cy="218.6" r="0.6" fill="#7570B3"/>
<circle cx="631.7" cy="219.1" r="0.6" fill="#CC79A7"/>
<circle cx="632.2" cy="206.2" r="0.6" fill="#D55E00"/>
<circle cx="623.5" cy="168.8" r="0.6" fill="#E69F00"/>
<circle cx="632.9" cy="209.9" r="0.6" fill="#56B4E9"/>
<circle cx="597.3" cy="241.4" r="0.6" fill="#1B9E77"/>
<circle cx="590.4" cy="152.4" r="0.6" fill="#1B9E77"/>
<circle cx="581.0" cy="243.6" r="0.6" fill="#CC79A7"/>
<circle cx="583.6" cy="158.1" r="0.6" fill="#009E73"/>
<circle cx="602.3" cy="151.1" r="0.6" fill="#A6D854"/>
<circle cx="604.6" cy="151.9" r="0.6" fill="#CC79A7"/>
<circle cx="577.5" cy="227.6" r="0.6" fill="#CC79A7"/>
<circle cx="631.6" cy="232.9" r="0.6" fill="#1B9E77"/>
<circle cx="613.2" cy="156.0" r="0.6" fill="#A6D854"/>
<circle cx="622.4" cy="162.5" r="0.6" fill="#009E73"/>
<circle cx="604.4" cy="151.6" r="0.6" fill="#CC79A7"/>
<circle cx="578.9" cy="199.1" r="0.6" fill="#8C5A2B"/>
<circle cx="619.4" cy="248.1" r="0.6" fill="#E69F00"/>
<circle cx="584.7" cy="157.7" r="0.6" fill="#F0E442"/>
<circle cx="621.1" cy="246.9" r="0.6" fill="#009E73"/>
<circle cx="623.8" cy="164.2" r="0.6" fill="#D55E00"/>
<circle cx="581.1" cy="243.2" r="0.6" fill="#7570B3"/>
<circle cx="584.5" cy="159.9" r="0.6" fill="#2C7FB8"/>
<circle cx="601.0" cy="150.1" r="0.6" fill="#CC79A7"/>
<circle cx="627.0" cy="235.5" r="0.6" fill="#8C5A2B"/>
<circle cx="592.9" cy="153.5" r="0.6" fill="#1B9E77"/>
<circle cx="578.9" cy="202.7" r="0.6" fill="#D55E00"/>
<circle cx="606.0" cy="154.0" r="0.6" fill="#F0E442"/>
<circle cx="581.1" cy="162.1" r="0.6" fill="#A6D854"/>
<circle cx="616.6" cy="155.8" r="0.6" fill="#2C7FB8"/>
<circle cx="577.5" cy="179.6" r="0.6" fill="#CC79A7"/>
<circle cx="620.5" cy="247.7" r="0.6" fill="#009E73"/>
<circle cx="625.3" cy="185.9" r="0.6" fill="#E69F00"/>
<circle cx="583.1" cy="244.3" r="0.6" fill="#E69F00"/>
<circle cx="618.4" cy="246.8" r="0.6" fill="#7570B3"/>
<circle cx="585.0" cy="159.3" r="0.6" fill="#7570B3"/>
<circle cx="599.4" cy="241.9" r="0.6" fill="#E69F00"/>
<circle cx="612.6" cy="246.8" r="0.6" fill="#2C7FB8"/>
<circle cx="594.4" cy="150.2" r="0.6" fill="#F0E442"/>
<circle cx="602.3" cy="241.8" r="0.6" fill="#F0E442"/>
<circle cx="579.2" cy="239.6" r="0.6" fill="#2C7FB8"/>
<circle cx="615.7" cy="248.8" r="0.6" fill="#2C7FB8"/>
<circle cx="623.2" cy="163.0" r="0.6" fill="#56B4E9"/>
<circle cx="616.4" cy="247.4" r="0.6" fill="#CC79A7"/>
<circle cx="580.9" cy="159.0" r="0.6" fill="#D55E00"/>
<circle cx="585.3" cy="243.0" r="0.6" fill="#D55E00"/>
<circle cx="592.9" cy="151.0" r="0.6" fill="#D55E00"/>
<circle cx="626.6" cy="190.5" r="0.6" fill="#D55E00"/>
<circle cx="621.1" cy="247.5" r="0.6" fill="#D55E00"/>
<circle cx="620.0" cy="248.3" r="0.6" fill="#7570B3"/>
<circle cx="581.0" cy="206.2" r="0.6" fill="#CC79A7"/>
<circle cx="600.8" cy="152.2" r="0.6" fill="#56B4E9"/>
<circle cx="610.2" cy="156.5" r="0.6" fill="#56B4E9"/>
<circle cx="594.5" cy="150.0" r="0.6" fill="#D55E00"/>
<circle cx="618.5" cy="247.4" r="0.6" fill="#F0E442"/>
<circle cx="581.0" cy="209.0" r="0.6" fill="#56B4E9"/>
<circle cx="602.8" cy="154.8" r="0.6" fill="#8C5A2B"/>
<circle cx="606.4" cy="245.1" r="0.6" fill="#2C7FB8"/>
<circle cx="576.3" cy="183.0" r="0.6" fill="#009E73"/>
<circle cx="578.7" cy="229.0" r="0.6" fill="#E69F00"/>
<circle cx="580.6" cy="243.2" r="0.6" fill="#009E73"/>
<circle cx="628.8" cy="195.8" r="0.6" fill="#7570B3"/>
<circle cx="606.3" cy="244.7" r="0.6" fill="#2C7FB8"/>
<circle cx="579.2" cy="210.1" r="0.6" fill="#2C7FB8"/>
<circle cx="576.1" cy="173.9" r="0.6" fill="#F0E442"/>
<circle cx="624.2" cy="177.9" r="0.6" fill="#CC79A7"/>
<circle cx="626.0" cy="241.7" r="0.6" fill="#D55E00"/>
<circle cx="605.2" cy="153.0" r="0.6" fill="#7570B3"/>
<circle cx="626.2" cy="243.0" r="0.6" fill="#E69F00"/>
<circle cx="579.2" cy="224.2" r="0.6" fill="#7570B3"/>
<circle cx="622.7" cy="161.0" r="0.6" fill="#F0E442"/>
<circle cx="579.5" cy="241.0" r="0.6" fill="#1B9E77"/>
<circle cx="627.7" cy="236.2" r="0.6" fill="#2C7FB8"/>
<circle cx="621.4" cy="247.5" r="0.6" fill="#1B9E77"/>
<circle cx="603.5" cy="243.1" r="0.6" fill="#E69F00"/>
<circle cx="582.0" cy="206.9" r="0.6" fill="#8C5A2B"/>
<circle cx="614.1" cy="155.7" r="0.6" fill="#E69F00"/>
<circle cx="585.5" cy="156.8" r="0.6" fill="#7570B3"/>
<circle cx="605.6" cy="154.4" r="0.6" fill="#009E73"/>
<circle cx="593.3" cy="151.1" r="0.6" fill="#1B9E77"/>
<circle cx="621.5" cy="170.4" r="0.6" fill="#8C5A2B"/>
<circle cx="597.0" cy="150.8" r="0.6" fill="#56B4E9"/>
<circle cx="577.1" cy="236.9" r="0.6" fill="#E69F00"/>
<circle cx="598.6" cy="242.0" r="0.6" fill="#009E73"/>
<circle cx="578.1" cy="236.9" r="0.6" fill="#1B9E77"/>
<circle cx="576.8" cy="179.3" r="0.6" fill="#8C5A2B"/>
</g>
<text x="2.4" y="319.7" font-size="14.2" font-weight="bold">f</text>
<rect x="63.6" y="318.1" width="321.6" height="13.2" fill="#fff" stroke="#333" stroke-width="1"/>
<text x="230.8" y="328.7" font-size="10.8" text-anchor="middle" stroke="#000" stroke-width="0.25">control</text>
<line x1="63.6" y1="331.3" x2="63.6" y2="436.2" stroke="#333" stroke-width="1"/>
<line x1="63.6" y1="436.2" x2="385.2" y2="436.2" stroke="#333" stroke-width="1"/>
<line x1="61.4" y1="343.0" x2="63.6" y2="343.0" stroke="#333" stroke-width="0.9"/>
<text x="58.2" y="346.7" font-size="10.5" text-anchor="end" fill="#4D4D4D" stroke="#4D4D4D" stroke-width="0.25">0.12</text>
<line x1="61.4" y1="367.2" x2="63.6" y2="367.2" stroke="#333" stroke-width="0.9"/>
<text x="58.2" y="370.9" font-size="10.5" text-anchor="end" fill="#4D4D4D" stroke="#4D4D4D" stroke-width="0.25">0.11</text>
<line x1="61.4" y1="391.4" x2="63.6" y2="391.4" stroke="#333" stroke-width="0.9"/>
<text x="58.2" y="395.1" font-size="10.5" text-anchor="end" fill="#4D4D4D" stroke="#4D4D4D" stroke-width="0.25">0.10</text>
<line x1="61.4" y1="415.4" x2="63.6" y2="415.4" stroke="#333" stroke-width="0.9"/>
<text x="58.2" y="419.1" font-size="10.5" text-anchor="end" fill="#4D4D4D" stroke="#4D4D4D" stroke-width="0.25">0.09</text>
<text x="16.3" y="380.6" font-size="10.8" text-anchor="middle" transform="rotate(-90 16.3 380.6)" stroke="#000" stroke-width="0.25">Median induced</text>
<text x="29.8" y="380.6" font-size="10.8" text-anchor="middle" transform="rotate(-90 29.8 380.6)" stroke="#000" stroke-width="0.25">osmoconsensus</text>
<circle cx="67.1" cy="389.5" r="3.4" fill="#B6B6B6"/>
<circle cx="68.0" cy="395.6" r="3.0" fill="#B6B6B6"/>
<circle cx="69.1" cy="400.1" r="1.3" fill="#B6B6B6"/>
<circle cx="71.0" cy="403.7" r="4.2" fill="#B6B6B6"/>
<circle cx="72.2" cy="406.8" r="2.4" fill="#B6B6B6"/>
<circle cx="72.7" cy="411.4" r="4.2" fill="#B6B6B6"/>
<circle cx="74.3" cy="397.4" r="3.4" fill="#B6B6B6"/>
<circle cx="75.7" cy="398.7" r="4.2" fill="#B6B6B6"/>
<circle cx="77.1" cy="394.1" r="2.4" fill="#B6B6B6"/>
<circle cx="78.4" cy="405.5" r="3.4" fill="#B6B6B6"/>
<circle cx="79.4" cy="409.2" r="2.4" fill="#B6B6B6"/>
<circle cx="81.0" cy="402.6" r="1.3" fill="#B6B6B6"/>
<circle cx="82.2" cy="405.5" r="4.2" fill="#B6B6B6"/>
<circle cx="82.8" cy="401.0" r="3.8" fill="#B6B6B6"/>
<circle cx="83.7" cy="393.2" r="2.4" fill="#B6B6B6"/>
<circle cx="85.2" cy="429.7" r="3.0" fill="#B6B6B6"/>
<circle cx="86.3" cy="408.9" r="1.3" fill="#B6B6B6"/>
<circle cx="87.8" cy="391.2" r="3.4" fill="#B6B6B6"/>
<circle cx="89.6" cy="401.8" r="3.8" fill="#B6B6B6"/>
<circle cx="90.4" cy="406.1" r="3.4" fill="#B6B6B6"/>
<circle cx="91.9" cy="405.5" r="3.4" fill="#B6B6B6"/>
<circle cx="93.3" cy="405.2" r="2.4" fill="#B6B6B6"/>
<circle cx="93.4" cy="401.5" r="4.2" fill="#B6B6B6"/>
<circle cx="94.8" cy="401.8" r="2.4" fill="#B6B6B6"/>
<circle cx="95.8" cy="395.3" r="3.4" fill="#B6B6B6"/>
<circle cx="97.0" cy="394.8" r="4.2" fill="#B6B6B6"/>
<circle cx="99.2" cy="407.7" r="3.8" fill="#B6B6B6"/>
<circle cx="99.6" cy="409.1" r="3.4" fill="#B6B6B6"/>
<circle cx="101.5" cy="412.7" r="3.4" fill="#B6B6B6"/>
<circle cx="102.6" cy="412.1" r="1.3" fill="#B6B6B6"/>
<circle cx="103.1" cy="417.2" r="3.8" fill="#B6B6B6"/>
<circle cx="104.5" cy="405.0" r="4.2" fill="#B6B6B6"/>
<circle cx="105.8" cy="422.4" r="3.4" fill="#B6B6B6"/>
<circle cx="107.2" cy="418.1" r="3.4" fill="#B6B6B6"/>
<circle cx="109.0" cy="401.3" r="4.2" fill="#B6B6B6"/>
<circle cx="109.4" cy="404.7" r="3.0" fill="#B6B6B6"/>
<circle cx="110.4" cy="408.8" r="4.2" fill="#B6B6B6"/>
<circle cx="112.7" cy="395.5" r="3.0" fill="#B6B6B6"/>
<circle cx="113.4" cy="392.7" r="4.2" fill="#B6B6B6"/>
<circle cx="115.0" cy="432.0" r="2.4" fill="#B6B6B6"/>
<circle cx="115.7" cy="400.3" r="2.4" fill="#B6B6B6"/>
<circle cx="116.9" cy="395.3" r="1.3" fill="#B6B6B6"/>
<circle cx="118.7" cy="400.2" r="3.8" fill="#B6B6B6"/>
<circle cx="119.2" cy="390.9" r="2.4" fill="#B6B6B6"/>
<circle cx="121.1" cy="391.0" r="1.3" fill="#B6B6B6"/>
<circle cx="122.0" cy="406.7" r="1.3" fill="#B6B6B6"/>
<circle cx="123.2" cy="409.1" r="3.8" fill="#B6B6B6"/>
<circle cx="124.5" cy="405.5" r="4.2" fill="#B6B6B6"/>
<circle cx="125.4" cy="402.4" r="1.3" fill="#B6B6B6"/>
<circle cx="126.5" cy="432.0" r="2.4" fill="#B6B6B6"/>
<circle cx="127.9" cy="403.3" r="4.2" fill="#B6B6B6"/>
<circle cx="128.8" cy="406.5" r="3.4" fill="#B6B6B6"/>
<circle cx="130.3" cy="401.4" r="3.8" fill="#B6B6B6"/>
<circle cx="131.7" cy="389.5" r="3.4" fill="#B6B6B6"/>
<circle cx="132.4" cy="405.9" r="3.4" fill="#B6B6B6"/>
<circle cx="134.4" cy="394.6" r="3.0" fill="#B6B6B6"/>
<circle cx="134.7" cy="406.7" r="1.3" fill="#B6B6B6"/>
<circle cx="136.7" cy="406.0" r="4.2" fill="#B6B6B6"/>
<circle cx="137.6" cy="399.4" r="3.8" fill="#B6B6B6"/>
<circle cx="138.7" cy="391.4" r="4.2" fill="#B6B6B6"/>
<circle cx="139.8" cy="399.8" r="3.4" fill="#B6B6B6"/>
<circle cx="141.7" cy="410.9" r="3.4" fill="#B6B6B6"/>
<circle cx="142.6" cy="403.6" r="3.0" fill="#B6B6B6"/>
<circle cx="143.6" cy="405.1" r="3.0" fill="#B6B6B6"/>
<circle cx="145.3" cy="411.3" r="2.4" fill="#B6B6B6"/>
<circle cx="146.0" cy="394.5" r="2.4" fill="#B6B6B6"/>
<circle cx="147.5" cy="394.1" r="4.2" fill="#B6B6B6"/>
<circle cx="148.2" cy="398.6" r="1.3" fill="#B6B6B6"/>
<circle cx="149.4" cy="390.4" r="3.8" fill="#B6B6B6"/>
<circle cx="151.0" cy="408.2" r="3.0" fill="#B6B6B6"/>
<circle cx="152.0" cy="398.5" r="3.4" fill="#B6B6B6"/>
<circle cx="152.9" cy="410.5" r="4.2" fill="#B6B6B6"/>
<circle cx="154.2" cy="396.7" r="1.3" fill="#B6B6B6"/>
<circle cx="155.7" cy="389.5" r="3.8" fill="#B6B6B6"/>
<circle cx="157.0" cy="395.4" r="3.4" fill="#B6B6B6"/>
<circle cx="157.8" cy="408.8" r="2.4" fill="#B6B6B6"/>
<circle cx="159.1" cy="392.3" r="2.4" fill="#B6B6B6"/>
<circle cx="161.3" cy="389.8" r="1.3" fill="#B6B6B6"/>
<circle cx="161.7" cy="418.7" r="3.4" fill="#B6B6B6"/>
<circle cx="163.1" cy="403.0" r="1.3" fill="#B6B6B6"/>
<circle cx="163.9" cy="398.8" r="3.0" fill="#B6B6B6"/>
<circle cx="165.5" cy="415.0" r="4.2" fill="#B6B6B6"/>
<circle cx="167.3" cy="401.0" r="2.4" fill="#B6B6B6"/>
<circle cx="168.3" cy="393.3" r="3.0" fill="#B6B6B6"/>
<circle cx="169.2" cy="404.1" r="3.4" fill="#B6B6B6"/>
<circle cx="170.2" cy="391.8" r="3.4" fill="#B6B6B6"/>
<circle cx="171.4" cy="409.5" r="3.4" fill="#B6B6B6"/>
<circle cx="172.9" cy="403.4" r="3.8" fill="#B6B6B6"/>
<circle cx="173.5" cy="408.7" r="3.8" fill="#B6B6B6"/>
<circle cx="175.3" cy="401.5" r="3.0" fill="#B6B6B6"/>
<circle cx="175.9" cy="394.5" r="3.8" fill="#B6B6B6"/>
<circle cx="177.4" cy="399.4" r="3.0" fill="#B6B6B6"/>
<circle cx="178.7" cy="413.4" r="3.8" fill="#B6B6B6"/>
<circle cx="179.6" cy="392.1" r="1.3" fill="#B6B6B6"/>
<circle cx="181.8" cy="419.9" r="3.4" fill="#B6B6B6"/>
<circle cx="182.1" cy="406.3" r="3.4" fill="#B6B6B6"/>
<circle cx="183.9" cy="401.4" r="2.4" fill="#B6B6B6"/>
<circle cx="185.4" cy="393.6" r="3.8" fill="#B6B6B6"/>
<circle cx="185.6" cy="393.8" r="3.0" fill="#B6B6B6"/>
<circle cx="187.4" cy="406.3" r="3.4" fill="#B6B6B6"/>
<circle cx="189.0" cy="394.9" r="3.0" fill="#B6B6B6"/>
<circle cx="189.5" cy="400.3" r="3.8" fill="#B6B6B6"/>
<circle cx="191.1" cy="389.5" r="3.4" fill="#B6B6B6"/>
<circle cx="191.9" cy="414.6" r="3.4" fill="#B6B6B6"/>
<circle cx="193.0" cy="413.2" r="3.8" fill="#B6B6B6"/>
<circle cx="194.7" cy="405.5" r="3.4" fill="#B6B6B6"/>
<circle cx="195.8" cy="400.5" r="3.8" fill="#B6B6B6"/>
<circle cx="197.6" cy="399.9" r="2.4" fill="#B6B6B6"/>
<circle cx="198.6" cy="397.0" r="3.4" fill="#B6B6B6"/>
<circle cx="199.9" cy="396.5" r="1.3" fill="#B6B6B6"/>
<circle cx="200.2" cy="393.6" r="3.0" fill="#B6B6B6"/>
<circle cx="201.6" cy="398.5" r="3.0" fill="#B6B6B6"/>
<circle cx="203.6" cy="403.1" r="1.3" fill="#B6B6B6"/>
<circle cx="203.9" cy="406.5" r="3.8" fill="#B6B6B6"/>
<circle cx="205.5" cy="394.1" r="1.3" fill="#B6B6B6"/>
<circle cx="207.0" cy="405.7" r="3.8" fill="#B6B6B6"/>
<circle cx="208.3" cy="407.3" r="3.4" fill="#B6B6B6"/>
<circle cx="209.4" cy="410.5" r="2.4" fill="#B6B6B6"/>
<circle cx="210.8" cy="407.5" r="3.8" fill="#B6B6B6"/>
<circle cx="211.7" cy="404.1" r="3.4" fill="#B6B6B6"/>
<circle cx="212.6" cy="409.0" r="3.0" fill="#B6B6B6"/>
<circle cx="214.5" cy="389.5" r="3.8" fill="#B6B6B6"/>
<circle cx="215.6" cy="408.7" r="3.8" fill="#B6B6B6"/>
<circle cx="216.2" cy="405.6" r="2.4" fill="#B6B6B6"/>
<circle cx="217.1" cy="411.7" r="1.3" fill="#B6B6B6"/>
<circle cx="218.6" cy="410.1" r="3.8" fill="#B6B6B6"/>
<circle cx="220.2" cy="397.7" r="3.8" fill="#B6B6B6"/>
<circle cx="221.4" cy="396.5" r="3.8" fill="#B6B6B6"/>
<circle cx="223.2" cy="419.4" r="3.4" fill="#B6B6B6"/>
<circle cx="223.7" cy="393.9" r="3.4" fill="#B6B6B6"/>
<circle cx="225.2" cy="406.0" r="3.8" fill="#B6B6B6"/>
<circle cx="226.3" cy="401.3" r="2.4" fill="#B6B6B6"/>
<circle cx="227.6" cy="401.9" r="1.3" fill="#B6B6B6"/>
<circle cx="228.5" cy="398.6" r="3.8" fill="#B6B6B6"/>
<circle cx="229.8" cy="404.7" r="1.3" fill="#B6B6B6"/>
<circle cx="231.0" cy="407.6" r="3.4" fill="#B6B6B6"/>
<circle cx="232.3" cy="395.9" r="3.4" fill="#B6B6B6"/>
<circle cx="233.6" cy="397.4" r="3.4" fill="#B6B6B6"/>
<circle cx="234.1" cy="402.2" r="3.8" fill="#B6B6B6"/>
<circle cx="236.2" cy="392.5" r="3.8" fill="#B6B6B6"/>
<circle cx="237.4" cy="419.5" r="2.4" fill="#B6B6B6"/>
<circle cx="238.7" cy="407.0" r="4.2" fill="#B6B6B6"/>
<circle cx="239.3" cy="405.6" r="4.2" fill="#B6B6B6"/>
<circle cx="240.4" cy="405.7" r="1.3" fill="#B6B6B6"/>
<circle cx="242.2" cy="399.8" r="3.4" fill="#B6B6B6"/>
<circle cx="243.7" cy="398.7" r="3.0" fill="#B6B6B6"/>
<circle cx="244.6" cy="404.0" r="3.4" fill="#B6B6B6"/>
<circle cx="245.8" cy="398.4" r="3.0" fill="#B6B6B6"/>
<circle cx="247.4" cy="395.4" r="3.4" fill="#B6B6B6"/>
<circle cx="248.0" cy="395.4" r="3.8" fill="#B6B6B6"/>
<circle cx="249.0" cy="400.9" r="3.4" fill="#B6B6B6"/>
<circle cx="250.7" cy="401.1" r="3.4" fill="#B6B6B6"/>
<circle cx="252.2" cy="412.1" r="3.8" fill="#B6B6B6"/>
<circle cx="252.4" cy="403.1" r="2.4" fill="#B6B6B6"/>
<circle cx="254.6" cy="406.2" r="3.4" fill="#B6B6B6"/>
<circle cx="255.5" cy="395.8" r="3.8" fill="#B6B6B6"/>
<circle cx="256.6" cy="406.3" r="2.4" fill="#B6B6B6"/>
<circle cx="258.1" cy="389.6" r="3.4" fill="#B6B6B6"/>
<circle cx="258.9" cy="404.9" r="3.8" fill="#B6B6B6"/>
<circle cx="260.6" cy="394.6" r="3.8" fill="#B6B6B6"/>
<circle cx="261.2" cy="407.9" r="3.0" fill="#B6B6B6"/>
<circle cx="262.5" cy="399.0" r="2.4" fill="#B6B6B6"/>
<circle cx="263.9" cy="403.1" r="4.2" fill="#B6B6B6"/>
<circle cx="265.4" cy="407.3" r="3.4" fill="#B6B6B6"/>
<circle cx="265.9" cy="399.6" r="3.8" fill="#B6B6B6"/>
<circle cx="267.2" cy="398.7" r="3.8" fill="#B6B6B6"/>
<circle cx="268.9" cy="394.4" r="4.2" fill="#B6B6B6"/>
<circle cx="270.0" cy="413.5" r="3.4" fill="#B6B6B6"/>
<circle cx="271.1" cy="402.8" r="3.8" fill="#B6B6B6"/>
<circle cx="272.9" cy="395.8" r="3.4" fill="#B6B6B6"/>
<circle cx="273.1" cy="401.7" r="3.8" fill="#B6B6B6"/>
<circle cx="275.1" cy="399.7" r="3.8" fill="#B6B6B6"/>
<circle cx="276.3" cy="389.5" r="3.0" fill="#B6B6B6"/>
<circle cx="276.7" cy="397.9" r="3.4" fill="#B6B6B6"/>
<circle cx="278.8" cy="401.4" r="3.4" fill="#B6B6B6"/>
<circle cx="280.2" cy="403.2" r="3.8" fill="#B6B6B6"/>
<circle cx="280.3" cy="408.7" r="2.4" fill="#B6B6B6"/>
<circle cx="281.8" cy="409.0" r="3.0" fill="#B6B6B6"/>
<circle cx="282.8" cy="403.8" r="4.2" fill="#B6B6B6"/>
<circle cx="284.8" cy="394.8" r="4.2" fill="#B6B6B6"/>
<circle cx="285.6" cy="392.0" r="4.2" fill="#B6B6B6"/>
<circle cx="286.9" cy="415.5" r="2.4" fill="#B6B6B6"/>
<circle cx="288.4" cy="406.8" r="3.8" fill="#B6B6B6"/>
<circle cx="289.8" cy="397.6" r="2.4" fill="#B6B6B6"/>
<circle cx="291.0" cy="410.0" r="1.3" fill="#B6B6B6"/>
<circle cx="292.1" cy="398.6" r="3.8" fill="#B6B6B6"/>
<circle cx="293.5" cy="401.1" r="3.0" fill="#B6B6B6"/>
<circle cx="294.0" cy="404.9" r="3.4" fill="#B6B6B6"/>
<circle cx="295.1" cy="406.5" r="3.4" fill="#B6B6B6"/>
<circle cx="296.8" cy="396.2" r="3.0" fill="#B6B6B6"/>
<circle cx="298.3" cy="401.0" r="1.3" fill="#B6B6B6"/>
<circle cx="298.8" cy="399.8" r="3.8" fill="#B6B6B6"/>
<circle cx="299.9" cy="401.9" r="3.4" fill="#B6B6B6"/>
<circle cx="301.4" cy="411.3" r="3.8" fill="#B6B6B6"/>
<circle cx="302.3" cy="401.3" r="4.2" fill="#B6B6B6"/>
<circle cx="304.3" cy="395.4" r="3.8" fill="#B6B6B6"/>
<circle cx="305.6" cy="396.5" r="4.2" fill="#B6B6B6"/>
<circle cx="306.8" cy="407.9" r="3.4" fill="#B6B6B6"/>
<circle cx="308.1" cy="403.0" r="3.4" fill="#B6B6B6"/>
<circle cx="309.1" cy="429.1" r="4.2" fill="#B6B6B6"/>
<circle cx="310.5" cy="394.7" r="3.4" fill="#B6B6B6"/>
<circle cx="311.4" cy="398.0" r="3.8" fill="#B6B6B6"/>
<circle cx="312.0" cy="398.6" r="3.0" fill="#B6B6B6"/>
<circle cx="313.8" cy="406.1" r="3.0" fill="#B6B6B6"/>
<circle cx="314.9" cy="400.8" r="3.4" fill="#B6B6B6"/>
<circle cx="316.4" cy="423.9" r="3.4" fill="#B6B6B6"/>
<circle cx="317.4" cy="389.5" r="2.4" fill="#B6B6B6"/>
<circle cx="319.0" cy="398.6" r="3.4" fill="#B6B6B6"/>
<circle cx="319.1" cy="402.6" r="4.2" fill="#B6B6B6"/>
<circle cx="320.5" cy="404.9" r="4.2" fill="#B6B6B6"/>
<circle cx="321.7" cy="403.8" r="2.4" fill="#B6B6B6"/>
<circle cx="323.4" cy="396.1" r="2.4" fill="#B6B6B6"/>
<circle cx="324.4" cy="399.8" r="4.2" fill="#B6B6B6"/>
<circle cx="326.1" cy="398.2" r="2.4" fill="#B6B6B6"/>
<circle cx="327.2" cy="407.3" r="3.4" fill="#B6B6B6"/>
<circle cx="327.9" cy="401.5" r="1.3" fill="#B6B6B6"/>
<circle cx="329.8" cy="406.8" r="3.0" fill="#B6B6B6"/>
<circle cx="330.4" cy="392.4" r="3.4" fill="#B6B6B6"/>
<circle cx="332.4" cy="420.1" r="3.4" fill="#B6B6B6"/>
<circle cx="332.7" cy="400.3" r="4.2" fill="#B6B6B6"/>
<circle cx="334.5" cy="395.2" r="3.8" fill="#B6B6B6"/>
<circle cx="335.0" cy="402.8" r="3.0" fill="#B6B6B6"/>
<circle cx="336.3" cy="403.2" r="4.2" fill="#B6B6B6"/>
<circle cx="338.0" cy="404.9" r="2.4" fill="#B6B6B6"/>
<circle cx="339.0" cy="403.5" r="3.8" fill="#B6B6B6"/>
<circle cx="340.8" cy="394.0" r="3.0" fill="#B6B6B6"/>
<circle cx="341.9" cy="404.4" r="3.8" fill="#B6B6B6"/>
<circle cx="343.3" cy="393.5" r="3.8" fill="#B6B6B6"/>
<circle cx="344.5" cy="393.7" r="1.3" fill="#B6B6B6"/>
<circle cx="344.9" cy="403.1" r="3.8" fill="#B6B6B6"/>
<circle cx="346.0" cy="406.2" r="3.4" fill="#B6B6B6"/>
<circle cx="348.0" cy="398.1" r="3.4" fill="#B6B6B6"/>
<circle cx="348.9" cy="398.5" r="3.0" fill="#B6B6B6"/>
<circle cx="350.1" cy="405.8" r="3.4" fill="#B6B6B6"/>
<circle cx="351.3" cy="415.0" r="3.0" fill="#B6B6B6"/>
<circle cx="352.2" cy="391.5" r="3.8" fill="#B6B6B6"/>
<circle cx="353.5" cy="406.6" r="2.4" fill="#B6B6B6"/>
<circle cx="354.8" cy="398.3" r="3.4" fill="#B6B6B6"/>
<circle cx="356.6" cy="393.0" r="3.4" fill="#B6B6B6"/>
<circle cx="356.9" cy="398.8" r="3.8" fill="#B6B6B6"/>
<circle cx="358.7" cy="409.7" r="3.8" fill="#B6B6B6"/>
<circle cx="359.4" cy="409.4" r="3.0" fill="#B6B6B6"/>
<circle cx="360.6" cy="402.8" r="3.0" fill="#B6B6B6"/>
<circle cx="362.5" cy="422.6" r="3.8" fill="#B6B6B6"/>
<circle cx="363.5" cy="390.8" r="1.3" fill="#B6B6B6"/>
<circle cx="364.2" cy="399.6" r="2.4" fill="#B6B6B6"/>
<circle cx="365.9" cy="401.9" r="3.0" fill="#B6B6B6"/>
<circle cx="366.7" cy="395.7" r="1.3" fill="#B6B6B6"/>
<circle cx="368.5" cy="398.6" r="3.8" fill="#B6B6B6"/>
<circle cx="370.0" cy="395.1" r="3.8" fill="#B6B6B6"/>
<circle cx="371.0" cy="396.7" r="4.2" fill="#B6B6B6"/>
<circle cx="372.3" cy="405.1" r="2.4" fill="#B6B6B6"/>
<circle cx="373.6" cy="395.7" r="3.8" fill="#B6B6B6"/>
<circle cx="374.2" cy="415.0" r="3.8" fill="#B6B6B6"/>
<circle cx="375.8" cy="403.1" r="3.4" fill="#B6B6B6"/>
<circle cx="377.2" cy="404.5" r="3.4" fill="#B6B6B6"/>
<circle cx="378.0" cy="397.6" r="1.3" fill="#B6B6B6"/>
<circle cx="379.1" cy="412.2" r="3.8" fill="#B6B6B6"/>
<circle cx="380.9" cy="409.8" r="3.8" fill="#B6B6B6"/>
<circle cx="382.0" cy="390.6" r="3.8" fill="#B6B6B6"/>
<line x1="63.6" y1="386.2" x2="385.2" y2="386.2" stroke="#333" stroke-width="1" stroke-dasharray="4,3"/>
<circle cx="79.0" cy="368.4" r="4.6" fill="#D13434"/>
<circle cx="89.8" cy="367.5" r="4.6" fill="#D13434"/>
<circle cx="87.2" cy="386.5" r="3.2" fill="#D13434"/>
<circle cx="104.7" cy="378.9" r="4.0" fill="#D13434"/>
<circle cx="179.1" cy="381.5" r="3.6" fill="#D13434"/>
<circle cx="197.2" cy="385.3" r="4.0" fill="#D13434"/>
<circle cx="205.4" cy="346.1" r="5.2" fill="#D13434"/>
<circle cx="212.4" cy="383.9" r="3.2" fill="#D13434"/>
<circle cx="225.4" cy="336.1" r="5.2" fill="#D13434"/>
<circle cx="222.9" cy="368.4" r="4.0" fill="#D13434"/>
<circle cx="253.4" cy="374.2" r="4.0" fill="#D13434"/>
<circle cx="274.8" cy="383.9" r="3.6" fill="#D13434"/>
<circle cx="278.3" cy="383.0" r="3.2" fill="#D13434"/>
<circle cx="292.3" cy="383.6" r="3.6" fill="#D13434"/>
<circle cx="296.7" cy="377.7" r="4.0" fill="#D13434"/>
<circle cx="301.7" cy="366.4" r="4.6" fill="#D13434"/>
<circle cx="310.1" cy="363.4" r="4.6" fill="#D13434"/>
<circle cx="313.4" cy="370.4" r="4.2" fill="#D13434"/>
<circle cx="317.7" cy="378.6" r="4.2" fill="#D13434"/>
<circle cx="321.8" cy="379.5" r="4.2" fill="#D13434"/>
<circle cx="324.5" cy="359.0" r="5.0" fill="#D13434"/>
<circle cx="329.7" cy="385.9" r="2.0" fill="#D13434"/>
<circle cx="358.0" cy="373.1" r="4.0" fill="#D13434"/>
<text x="231.2" y="445.8" font-size="10.8" text-anchor="middle" stroke="#000" stroke-width="0.25">genotypes</text>
<text x="393.3" y="340.1" font-size="9.4" stroke="#000" stroke-width="0.25">% cell &gt;25%</text>
<text x="393.3" y="351.2" font-size="9.4" stroke="#000" stroke-width="0.25">basal stress</text>
<circle cx="399.3" cy="365.4" r="1.3" fill="#000"/>
<text x="408.8" y="369.4" font-size="9.4" stroke="#000" stroke-width="0.25">0</text>
<circle cx="399.3" cy="377.6" r="3.6" fill="#000"/>
<text x="408.8" y="381.6" font-size="9.4" stroke="#000" stroke-width="0.25">20</text>
<circle cx="399.3" cy="389.6" r="4.5" fill="#000"/>
<text x="408.8" y="393.6" font-size="9.4" stroke="#000" stroke-width="0.25">40</text>
<circle cx="399.3" cy="401.6" r="5.2" fill="#000"/>
<text x="408.8" y="405.6" font-size="9.4" stroke="#000" stroke-width="0.25">60</text>
<text x="346.2" y="432.8" font-size="11.0" stroke="#000" stroke-width="0.25">WTs</text>
<line x1="362.3" y1="420.5" x2="382.5" y2="409.8" stroke="#000" stroke-width="1.4"/>
<path d="M388 407 L380.2 407.2 L383.4 413.4 Z" fill="#000" clip-path="url(#clipf)"/>
<text x="1.2" y="458.8" font-size="14.2" font-weight="bold">h</text>
<rect x="63.8" y="453.3" width="325.5" height="12.8" fill="#fff" stroke="#333" stroke-width="1"/>
<text x="231.7" y="463.5" font-size="10.8" text-anchor="middle" stroke="#000" stroke-width="0.25">NaCl</text>
<line x1="63.8" y1="466.1" x2="63.8" y2="571.1" stroke="#333" stroke-width="1"/>
<line x1="63.8" y1="571.1" x2="389.3" y2="571.1" stroke="#333" stroke-width="1"/>
<line x1="61.6" y1="467.8" x2="63.8" y2="467.8" stroke="#333" stroke-width="0.9"/>
<text x="58.2" y="471.5" font-size="10.5" text-anchor="end" fill="#4D4D4D" stroke="#4D4D4D" stroke-width="0.25">0.35</text>
<line x1="61.6" y1="493.7" x2="63.8" y2="493.7" stroke="#333" stroke-width="0.9"/>
<text x="58.2" y="497.4" font-size="10.5" text-anchor="end" fill="#4D4D4D" stroke="#4D4D4D" stroke-width="0.25">0.30</text>
<line x1="61.6" y1="518.9" x2="63.8" y2="518.9" stroke="#333" stroke-width="0.9"/>
<text x="58.2" y="522.6" font-size="10.5" text-anchor="end" fill="#4D4D4D" stroke="#4D4D4D" stroke-width="0.25">0.25</text>
<line x1="61.6" y1="544.1" x2="63.8" y2="544.1" stroke="#333" stroke-width="0.9"/>
<text x="58.2" y="547.8" font-size="10.5" text-anchor="end" fill="#4D4D4D" stroke="#4D4D4D" stroke-width="0.25">0.20</text>
<line x1="61.6" y1="569.6" x2="63.8" y2="569.6" stroke="#333" stroke-width="0.9"/>
<text x="16.3" y="506.3" font-size="10.8" text-anchor="middle" transform="rotate(-90 16.3 506.3)" stroke="#000" stroke-width="0.25">Median induced</text>
<text x="29.8" y="506.3" font-size="10.8" text-anchor="middle" transform="rotate(-90 29.8 506.3)" stroke="#000" stroke-width="0.25">osmoconsensus</text>
<circle cx="67.4" cy="502.4" r="1.3" fill="#B6B6B6"/>
<circle cx="69.4" cy="500.1" r="3.5" fill="#B6B6B6"/>
<circle cx="70.2" cy="501.2" r="2.4" fill="#B6B6B6"/>
<circle cx="71.9" cy="502.7" r="3.2" fill="#B6B6B6"/>
<circle cx="73.1" cy="518.4" r="3.2" fill="#B6B6B6"/>
<circle cx="74.1" cy="507.7" r="3.8" fill="#B6B6B6"/>
<circle cx="74.8" cy="504.7" r="3.5" fill="#B6B6B6"/>
<circle cx="77.0" cy="511.5" r="3.2" fill="#B6B6B6"/>
<circle cx="78.2" cy="510.8" r="1.3" fill="#B6B6B6"/>
<circle cx="79.0" cy="504.7" r="3.5" fill="#B6B6B6"/>
<circle cx="80.2" cy="506.9" r="1.3" fill="#B6B6B6"/>
<circle cx="81.7" cy="510.2" r="3.2" fill="#B6B6B6"/>
<circle cx="82.6" cy="508.8" r="3.5" fill="#B6B6B6"/>
<circle cx="84.3" cy="510.1" r="3.8" fill="#B6B6B6"/>
<circle cx="85.4" cy="509.7" r="2.4" fill="#B6B6B6"/>
<circle cx="86.0" cy="509.6" r="2.9" fill="#B6B6B6"/>
<circle cx="88.1" cy="513.6" r="3.8" fill="#B6B6B6"/>
<circle cx="88.8" cy="509.7" r="3.5" fill="#B6B6B6"/>
<circle cx="90.2" cy="512.9" r="1.3" fill="#B6B6B6"/>
<circle cx="91.7" cy="503.5" r="3.5" fill="#B6B6B6"/>
<circle cx="92.7" cy="510.8" r="3.5" fill="#B6B6B6"/>
<circle cx="94.8" cy="504.6" r="1.3" fill="#B6B6B6"/>
<circle cx="96.1" cy="509.7" r="3.2" fill="#B6B6B6"/>
<circle cx="96.4" cy="508.8" r="2.0" fill="#B6B6B6"/>
<circle cx="98.7" cy="500.7" r="3.8" fill="#B6B6B6"/>
<circle cx="98.9" cy="517.4" r="3.2" fill="#B6B6B6"/>
<circle cx="100.8" cy="501.9" r="3.8" fill="#B6B6B6"/>
<circle cx="101.9" cy="501.8" r="3.5" fill="#B6B6B6"/>
<circle cx="103.7" cy="507.3" r="3.2" fill="#B6B6B6"/>
<circle cx="104.7" cy="511.8" r="3.5" fill="#B6B6B6"/>
<circle cx="106.0" cy="508.4" r="3.2" fill="#B6B6B6"/>
<circle cx="107.1" cy="507.3" r="3.8" fill="#B6B6B6"/>
<circle cx="108.8" cy="503.3" r="1.3" fill="#B6B6B6"/>
<circle cx="109.7" cy="509.0" r="3.2" fill="#B6B6B6"/>
<circle cx="111.2" cy="500.5" r="2.9" fill="#B6B6B6"/>
<circle cx="112.3" cy="510.7" r="3.2" fill="#B6B6B6"/>
<circle cx="113.6" cy="504.5" r="2.4" fill="#B6B6B6"/>
<circle cx="115.2" cy="509.2" r="2.0" fill="#B6B6B6"/>
<circle cx="116.5" cy="500.0" r="2.0" fill="#B6B6B6"/>
<circle cx="117.5" cy="504.8" r="3.2" fill="#B6B6B6"/>
<circle cx="119.1" cy="504.4" r="2.0" fill="#B6B6B6"/>
<circle cx="119.5" cy="500.5" r="3.5" fill="#B6B6B6"/>
<circle cx="121.2" cy="513.9" r="3.2" fill="#B6B6B6"/>
<circle cx="121.9" cy="511.1" r="3.5" fill="#B6B6B6"/>
<circle cx="123.5" cy="525.4" r="2.4" fill="#B6B6B6"/>
<circle cx="124.4" cy="507.5" r="3.5" fill="#B6B6B6"/>
<circle cx="125.9" cy="543.1" r="3.2" fill="#B6B6B6"/>
<circle cx="127.3" cy="512.0" r="3.8" fill="#B6B6B6"/>
<circle cx="129.3" cy="500.0" r="3.2" fill="#B6B6B6"/>
<circle cx="129.6" cy="500.0" r="2.9" fill="#B6B6B6"/>
<circle cx="131.3" cy="508.7" r="1.3" fill="#B6B6B6"/>
<circle cx="133.0" cy="508.0" r="3.5" fill="#B6B6B6"/>
<circle cx="133.9" cy="513.9" r="1.3" fill="#B6B6B6"/>
<circle cx="135.8" cy="500.0" r="1.3" fill="#B6B6B6"/>
<circle cx="136.2" cy="504.2" r="3.2" fill="#B6B6B6"/>
<circle cx="137.9" cy="510.1" r="2.4" fill="#B6B6B6"/>
<circle cx="138.7" cy="511.6" r="3.2" fill="#B6B6B6"/>
<circle cx="140.1" cy="502.7" r="3.2" fill="#B6B6B6"/>
<circle cx="141.1" cy="506.9" r="3.5" fill="#B6B6B6"/>
<circle cx="142.7" cy="508.4" r="3.2" fill="#B6B6B6"/>
<circle cx="143.9" cy="507.8" r="2.4" fill="#B6B6B6"/>
<circle cx="145.0" cy="500.5" r="3.2" fill="#B6B6B6"/>
<circle cx="146.2" cy="505.7" r="3.2" fill="#B6B6B6"/>
<circle cx="148.6" cy="518.6" r="2.4" fill="#B6B6B6"/>
<circle cx="149.7" cy="502.7" r="1.3" fill="#B6B6B6"/>
<circle cx="150.6" cy="511.1" r="2.9" fill="#B6B6B6"/>
<circle cx="152.1" cy="503.6" r="2.9" fill="#B6B6B6"/>
<circle cx="153.7" cy="528.1" r="2.0" fill="#B6B6B6"/>
<circle cx="154.2" cy="507.1" r="1.3" fill="#B6B6B6"/>
<circle cx="155.8" cy="509.1" r="3.5" fill="#B6B6B6"/>
<circle cx="156.7" cy="500.7" r="3.5" fill="#B6B6B6"/>
<circle cx="158.7" cy="512.8" r="2.4" fill="#B6B6B6"/>
<circle cx="159.4" cy="512.3" r="3.5" fill="#B6B6B6"/>
<circle cx="160.8" cy="500.2" r="3.2" fill="#B6B6B6"/>
<circle cx="162.3" cy="514.6" r="2.0" fill="#B6B6B6"/>
<circle cx="163.2" cy="510.7" r="1.3" fill="#B6B6B6"/>
<circle cx="164.1" cy="500.0" r="1.3" fill="#B6B6B6"/>
<circle cx="166.0" cy="500.0" r="3.5" fill="#B6B6B6"/>
<circle cx="167.5" cy="501.7" r="3.8" fill="#B6B6B6"/>
<circle cx="168.8" cy="508.7" r="3.2" fill="#B6B6B6"/>
<circle cx="170.3" cy="501.7" r="3.2" fill="#B6B6B6"/>
<circle cx="170.5" cy="511.6" r="3.2" fill="#B6B6B6"/>
<circle cx="171.6" cy="511.5" r="3.5" fill="#B6B6B6"/>
<circle cx="173.4" cy="503.9" r="3.5" fill="#B6B6B6"/>
<circle cx="175.1" cy="511.8" r="3.5" fill="#B6B6B6"/>
<circle cx="175.9" cy="513.1" r="2.0" fill="#B6B6B6"/>
<circle cx="177.0" cy="501.9" r="2.4" fill="#B6B6B6"/>
<circle cx="179.1" cy="504.0" r="3.2" fill="#B6B6B6"/>
<circle cx="179.8" cy="509.0" r="2.4" fill="#B6B6B6"/>
<circle cx="181.0" cy="500.0" r="3.2" fill="#B6B6B6"/>
<circle cx="182.3" cy="505.1" r="3.2" fill="#B6B6B6"/>
<circle cx="184.3" cy="511.9" r="2.0" fill="#B6B6B6"/>
<circle cx="184.6" cy="503.9" r="3.2" fill="#B6B6B6"/>
<circle cx="186.4" cy="509.2" r="2.4" fill="#B6B6B6"/>
<circle cx="187.3" cy="502.9" r="3.8" fill="#B6B6B6"/>
<circle cx="188.6" cy="514.1" r="3.8" fill="#B6B6B6"/>
<circle cx="189.6" cy="507.0" r="3.2" fill="#B6B6B6"/>
<circle cx="191.0" cy="517.2" r="3.2" fill="#B6B6B6"/>
<circle cx="192.1" cy="505.6" r="2.0" fill="#B6B6B6"/>
<circle cx="194.1" cy="503.7" r="3.5" fill="#B6B6B6"/>
<circle cx="195.6" cy="505.9" r="3.5" fill="#B6B6B6"/>
<circle cx="196.5" cy="509.8" r="2.9" fill="#B6B6B6"/>
<circle cx="197.5" cy="500.0" r="3.2" fill="#B6B6B6"/>
<circle cx="198.9" cy="505.5" r="1.3" fill="#B6B6B6"/>
<circle cx="199.8" cy="504.8" r="3.2" fill="#B6B6B6"/>
<circle cx="202.1" cy="502.9" r="3.8" fill="#B6B6B6"/>
<circle cx="202.8" cy="505.3" r="1.3" fill="#B6B6B6"/>
<circle cx="203.7" cy="511.0" r="3.8" fill="#B6B6B6"/>
<circle cx="205.2" cy="508.6" r="3.5" fill="#B6B6B6"/>
<circle cx="206.8" cy="509.4" r="2.0" fill="#B6B6B6"/>
<circle cx="208.6" cy="509.4" r="3.2" fill="#B6B6B6"/>
<circle cx="209.8" cy="510.2" r="3.2" fill="#B6B6B6"/>
<circle cx="210.9" cy="509.7" r="2.0" fill="#B6B6B6"/>
<circle cx="212.2" cy="509.7" r="3.8" fill="#B6B6B6"/>
<circle cx="213.2" cy="500.9" r="1.3" fill="#B6B6B6"/>
<circle cx="214.3" cy="523.0" r="3.5" fill="#B6B6B6"/>
<circle cx="215.2" cy="507.2" r="3.8" fill="#B6B6B6"/>
<circle cx="216.9" cy="510.6" r="3.5" fill="#B6B6B6"/>
<circle cx="218.3" cy="500.0" r="3.2" fill="#B6B6B6"/>
<circle cx="219.4" cy="518.9" r="3.2" fill="#B6B6B6"/>
<circle cx="221.4" cy="508.1" r="3.5" fill="#B6B6B6"/>
<circle cx="222.1" cy="512.6" r="1.3" fill="#B6B6B6"/>
<circle cx="223.8" cy="503.9" r="2.0" fill="#B6B6B6"/>
<circle cx="224.8" cy="502.7" r="2.0" fill="#B6B6B6"/>
<circle cx="226.5" cy="511.8" r="3.8" fill="#B6B6B6"/>
<circle cx="227.2" cy="512.9" r="3.2" fill="#B6B6B6"/>
<circle cx="229.1" cy="507.9" r="3.2" fill="#B6B6B6"/>
<circle cx="229.7" cy="512.6" r="3.2" fill="#B6B6B6"/>
<circle cx="231.3" cy="511.2" r="3.5" fill="#B6B6B6"/>
<circle cx="231.9" cy="500.0" r="3.2" fill="#B6B6B6"/>
<circle cx="233.4" cy="512.4" r="3.2" fill="#B6B6B6"/>
<circle cx="234.3" cy="510.6" r="3.8" fill="#B6B6B6"/>
<circle cx="236.3" cy="506.3" r="3.8" fill="#B6B6B6"/>
<circle cx="237.2" cy="506.7" r="1.3" fill="#B6B6B6"/>
<circle cx="239.2" cy="507.5" r="2.9" fill="#B6B6B6"/>
<circle cx="240.5" cy="529.5" r="3.5" fill="#B6B6B6"/>
<circle cx="241.9" cy="505.0" r="3.2" fill="#B6B6B6"/>
<circle cx="243.2" cy="508.1" r="3.2" fill="#B6B6B6"/>
<circle cx="243.6" cy="501.1" r="3.2" fill="#B6B6B6"/>
<circle cx="245.3" cy="503.2" r="2.0" fill="#B6B6B6"/>
<circle cx="246.8" cy="507.5" r="3.5" fill="#B6B6B6"/>
<circle cx="248.1" cy="513.1" r="3.5" fill="#B6B6B6"/>
<circle cx="249.0" cy="504.2" r="3.2" fill="#B6B6B6"/>
<circle cx="250.8" cy="511.8" r="2.4" fill="#B6B6B6"/>
<circle cx="251.5" cy="500.0" r="2.4" fill="#B6B6B6"/>
<circle cx="252.3" cy="504.7" r="2.0" fill="#B6B6B6"/>
<circle cx="253.8" cy="503.9" r="3.5" fill="#B6B6B6"/>
<circle cx="255.3" cy="501.9" r="2.4" fill="#B6B6B6"/>
<circle cx="256.8" cy="509.3" r="3.8" fill="#B6B6B6"/>
<circle cx="258.1" cy="505.7" r="1.3" fill="#B6B6B6"/>
<circle cx="258.8" cy="500.0" r="3.5" fill="#B6B6B6"/>
<circle cx="260.7" cy="514.9" r="3.5" fill="#B6B6B6"/>
<circle cx="261.8" cy="516.5" r="3.8" fill="#B6B6B6"/>
<circle cx="262.6" cy="520.4" r="2.4" fill="#B6B6B6"/>
<circle cx="264.8" cy="500.6" r="2.9" fill="#B6B6B6"/>
<circle cx="265.6" cy="504.1" r="3.8" fill="#B6B6B6"/>
<circle cx="266.5" cy="503.9" r="1.3" fill="#B6B6B6"/>
<circle cx="268.0" cy="517.2" r="2.9" fill="#B6B6B6"/>
<circle cx="269.5" cy="509.7" r="3.8" fill="#B6B6B6"/>
<circle cx="270.2" cy="521.2" r="3.8" fill="#B6B6B6"/>
<circle cx="271.5" cy="505.8" r="3.8" fill="#B6B6B6"/>
<circle cx="273.6" cy="510.6" r="3.2" fill="#B6B6B6"/>
<circle cx="273.9" cy="510.0" r="1.3" fill="#B6B6B6"/>
<circle cx="275.3" cy="510.5" r="3.2" fill="#B6B6B6"/>
<circle cx="276.8" cy="518.7" r="2.4" fill="#B6B6B6"/>
<circle cx="278.2" cy="507.7" r="3.5" fill="#B6B6B6"/>
<circle cx="279.4" cy="504.6" r="3.2" fill="#B6B6B6"/>
<circle cx="281.5" cy="510.5" r="3.2" fill="#B6B6B6"/>
<circle cx="282.5" cy="509.8" r="3.2" fill="#B6B6B6"/>
<circle cx="282.8" cy="507.6" r="3.5" fill="#B6B6B6"/>
<circle cx="284.9" cy="507.3" r="3.5" fill="#B6B6B6"/>
<circle cx="286.5" cy="523.7" r="2.4" fill="#B6B6B6"/>
<circle cx="287.4" cy="515.3" r="3.5" fill="#B6B6B6"/>
<circle cx="288.3" cy="521.7" r="2.9" fill="#B6B6B6"/>
<circle cx="289.2" cy="510.4" r="3.2" fill="#B6B6B6"/>
<circle cx="291.4" cy="503.5" r="2.4" fill="#B6B6B6"/>
<circle cx="292.8" cy="505.1" r="3.5" fill="#B6B6B6"/>
<circle cx="293.0" cy="508.2" r="3.2" fill="#B6B6B6"/>
<circle cx="294.4" cy="506.4" r="2.9" fill="#B6B6B6"/>
<circle cx="295.9" cy="532.8" r="1.3" fill="#B6B6B6"/>
<circle cx="297.8" cy="516.6" r="2.0" fill="#B6B6B6"/>
<circle cx="298.2" cy="509.3" r="1.3" fill="#B6B6B6"/>
<circle cx="300.4" cy="500.0" r="2.0" fill="#B6B6B6"/>
<circle cx="301.1" cy="523.0" r="2.0" fill="#B6B6B6"/>
<circle cx="303.1" cy="500.0" r="2.4" fill="#B6B6B6"/>
<circle cx="304.2" cy="503.1" r="2.0" fill="#B6B6B6"/>
<circle cx="304.7" cy="522.0" r="1.3" fill="#B6B6B6"/>
<circle cx="305.8" cy="513.3" r="3.2" fill="#B6B6B6"/>
<circle cx="308.0" cy="509.4" r="2.4" fill="#B6B6B6"/>
<circle cx="309.0" cy="500.0" r="2.0" fill="#B6B6B6"/>
<circle cx="309.7" cy="500.0" r="2.0" fill="#B6B6B6"/>
<circle cx="312.2" cy="518.0" r="3.2" fill="#B6B6B6"/>
<circle cx="313.0" cy="511.4" r="3.5" fill="#B6B6B6"/>
<circle cx="314.2" cy="501.5" r="1.3" fill="#B6B6B6"/>
<circle cx="315.9" cy="505.3" r="3.2" fill="#B6B6B6"/>
<circle cx="316.2" cy="517.1" r="2.0" fill="#B6B6B6"/>
<circle cx="317.6" cy="505.3" r="1.3" fill="#B6B6B6"/>
<circle cx="318.8" cy="500.0" r="2.9" fill="#B6B6B6"/>
<circle cx="321.1" cy="502.8" r="3.5" fill="#B6B6B6"/>
<circle cx="321.3" cy="517.0" r="3.8" fill="#B6B6B6"/>
<circle cx="323.0" cy="500.7" r="3.5" fill="#B6B6B6"/>
<circle cx="324.9" cy="512.2" r="2.9" fill="#B6B6B6"/>
<circle cx="326.0" cy="506.6" r="3.5" fill="#B6B6B6"/>
<circle cx="326.7" cy="515.9" r="3.5" fill="#B6B6B6"/>
<circle cx="328.4" cy="506.8" r="3.8" fill="#B6B6B6"/>
<circle cx="329.9" cy="506.4" r="3.8" fill="#B6B6B6"/>
<circle cx="330.1" cy="507.6" r="1.3" fill="#B6B6B6"/>
<circle cx="332.5" cy="500.1" r="3.5" fill="#B6B6B6"/>
<circle cx="333.2" cy="514.2" r="3.5" fill="#B6B6B6"/>
<circle cx="334.0" cy="504.3" r="2.9" fill="#B6B6B6"/>
<circle cx="336.4" cy="513.6" r="3.2" fill="#B6B6B6"/>
<circle cx="336.9" cy="512.1" r="3.5" fill="#B6B6B6"/>
<circle cx="338.0" cy="507.4" r="3.5" fill="#B6B6B6"/>
<circle cx="339.8" cy="519.7" r="2.9" fill="#B6B6B6"/>
<circle cx="341.3" cy="522.1" r="2.4" fill="#B6B6B6"/>
<circle cx="342.1" cy="507.2" r="3.5" fill="#B6B6B6"/>
<circle cx="343.6" cy="501.6" r="3.5" fill="#B6B6B6"/>
<circle cx="344.2" cy="507.8" r="2.0" fill="#B6B6B6"/>
<circle cx="346.3" cy="511.3" r="3.2" fill="#B6B6B6"/>
<circle cx="346.7" cy="507.4" r="2.4" fill="#B6B6B6"/>
<circle cx="348.1" cy="513.6" r="1.3" fill="#B6B6B6"/>
<circle cx="349.9" cy="504.1" r="1.3" fill="#B6B6B6"/>
<circle cx="351.3" cy="503.2" r="3.5" fill="#B6B6B6"/>
<circle cx="352.8" cy="505.7" r="1.3" fill="#B6B6B6"/>
<circle cx="353.3" cy="505.9" r="3.5" fill="#B6B6B6"/>
<circle cx="354.6" cy="509.2" r="1.3" fill="#B6B6B6"/>
<circle cx="356.9" cy="521.2" r="3.5" fill="#B6B6B6"/>
<circle cx="357.2" cy="508.4" r="3.5" fill="#B6B6B6"/>
<circle cx="359.3" cy="505.7" r="3.5" fill="#B6B6B6"/>
<circle cx="359.6" cy="502.3" r="3.5" fill="#B6B6B6"/>
<circle cx="361.8" cy="500.0" r="2.0" fill="#B6B6B6"/>
<circle cx="362.9" cy="500.0" r="2.9" fill="#B6B6B6"/>
<circle cx="364.2" cy="507.9" r="2.0" fill="#B6B6B6"/>
<circle cx="365.5" cy="500.0" r="2.0" fill="#B6B6B6"/>
<circle cx="366.2" cy="500.0" r="3.2" fill="#B6B6B6"/>
<circle cx="368.4" cy="508.0" r="3.5" fill="#B6B6B6"/>
<circle cx="368.6" cy="502.3" r="2.9" fill="#B6B6B6"/>
<circle cx="370.0" cy="500.0" r="3.5" fill="#B6B6B6"/>
<circle cx="371.3" cy="509.2" r="3.8" fill="#B6B6B6"/>
<circle cx="372.5" cy="509.3" r="2.9" fill="#B6B6B6"/>
<circle cx="374.3" cy="506.6" r="3.8" fill="#B6B6B6"/>
<circle cx="375.8" cy="507.7" r="3.5" fill="#B6B6B6"/>
<circle cx="376.7" cy="508.1" r="2.0" fill="#B6B6B6"/>
<circle cx="377.7" cy="501.7" r="3.8" fill="#B6B6B6"/>
<circle cx="379.2" cy="505.9" r="3.2" fill="#B6B6B6"/>
<circle cx="380.4" cy="501.3" r="3.2" fill="#B6B6B6"/>
<circle cx="382.0" cy="500.8" r="3.2" fill="#B6B6B6"/>
<circle cx="383.0" cy="506.1" r="3.8" fill="#B6B6B6"/>
<circle cx="384.7" cy="500.9" r="2.4" fill="#B6B6B6"/>
<circle cx="385.2" cy="510.5" r="3.2" fill="#B6B6B6"/>
<line x1="63.8" y1="496.2" x2="389.3" y2="496.2" stroke="#333" stroke-width="1" stroke-dasharray="4,3"/>
<circle cx="68.8" cy="494.6" r="3.2" fill="#3A66B5"/>
<circle cx="72.3" cy="486.8" r="4.2" fill="#3A66B5"/>
<circle cx="84.5" cy="483.8" r="4.6" fill="#3A66B5"/>
<circle cx="88.3" cy="491.7" r="4.2" fill="#3A66B5"/>
<circle cx="95.6" cy="489.7" r="4.2" fill="#3A66B5"/>
<circle cx="103.8" cy="494.6" r="3.6" fill="#3A66B5"/>
<circle cx="112.0" cy="494.6" r="3.6" fill="#3A66B5"/>
<circle cx="149.9" cy="479.5" r="5.0" fill="#3A66B5"/>
<circle cx="176.2" cy="494.6" r="3.6" fill="#3A66B5"/>
<circle cx="183.2" cy="496.1" r="3.2" fill="#3A66B5"/>
<circle cx="188.5" cy="483.8" r="4.2" fill="#3A66B5"/>
<circle cx="193.1" cy="488.2" r="4.2" fill="#3A66B5"/>
<circle cx="209.8" cy="490.3" r="3.6" fill="#3A66B5"/>
<circle cx="211.8" cy="474.2" r="5.4" fill="#3A66B5"/>
<circle cx="219.4" cy="491.7" r="4.2" fill="#3A66B5"/>
<circle cx="216.2" cy="494.6" r="3.6" fill="#3A66B5"/>
<circle cx="227.0" cy="480.6" r="4.6" fill="#3A66B5"/>
<circle cx="243.4" cy="491.1" r="3.6" fill="#3A66B5"/>
<circle cx="274.2" cy="471.3" r="5.0" fill="#3A66B5"/>
<circle cx="277.7" cy="492.3" r="4.2" fill="#3A66B5"/>
<circle cx="279.2" cy="496.1" r="3.6" fill="#3A66B5"/>
<circle cx="285.0" cy="493.2" r="4.2" fill="#3A66B5"/>
<circle cx="293.2" cy="492.3" r="3.6" fill="#3A66B5"/>
<circle cx="301.7" cy="487.9" r="4.2" fill="#3A66B5"/>
<circle cx="307.8" cy="486.8" r="4.2" fill="#3A66B5"/>
<circle cx="309.3" cy="495.5" r="3.2" fill="#3A66B5"/>
<circle cx="313.6" cy="491.7" r="4.2" fill="#3A66B5"/>
<circle cx="314.8" cy="473.3" r="5.0" fill="#3A66B5"/>
<circle cx="319.5" cy="495.2" r="3.6" fill="#3A66B5"/>
<circle cx="328.2" cy="480.6" r="4.6" fill="#3A66B5"/>
<circle cx="330.3" cy="488.8" r="4.2" fill="#3A66B5"/>
<circle cx="332.0" cy="470.4" r="5.0" fill="#3A66B5"/>
<circle cx="340.5" cy="486.8" r="4.2" fill="#3A66B5"/>
<circle cx="353.6" cy="483.0" r="4.6" fill="#3A66B5"/>
<circle cx="356.6" cy="484.4" r="4.2" fill="#3A66B5"/>
<circle cx="358.6" cy="493.8" r="3.6" fill="#3A66B5"/>
<circle cx="365.6" cy="488.8" r="4.2" fill="#3A66B5"/>
<circle cx="382.8" cy="493.2" r="3.6" fill="#3A66B5"/>
<text x="233.5" y="581.4" font-size="10.8" text-anchor="middle" stroke="#000" stroke-width="0.25">genotypes</text>
<text x="393.0" y="476.3" font-size="9.4" stroke="#000" stroke-width="0.25">% cell &gt;25%</text>
<text x="393.0" y="487.0" font-size="9.4" stroke="#000" stroke-width="0.25">hyper-responsive</text>
<circle cx="398.3" cy="506.5" r="1.3" fill="#000"/>
<text x="408.5" y="510.4" font-size="9.4" stroke="#000" stroke-width="0.25">0</text>
<circle cx="398.3" cy="519.0" r="3.6" fill="#000"/>
<text x="408.5" y="522.9" font-size="9.4" stroke="#000" stroke-width="0.25">20</text>
<circle cx="398.3" cy="531.0" r="4.6" fill="#000"/>
<text x="408.5" y="534.9" font-size="9.4" stroke="#000" stroke-width="0.25">40</text>
<circle cx="398.3" cy="543.0" r="5.1" fill="#000"/>
<text x="408.5" y="546.9" font-size="9.4" stroke="#000" stroke-width="0.25">60</text>
<text x="365.0" y="542.7" font-size="11.0" stroke="#000" stroke-width="0.25">WTs</text>
<line x1="376.3" y1="531.5" x2="387.6" y2="512.0" stroke="#000" stroke-width="1.3"/>
<text x="0.3" y="585.6" font-size="14.2" font-weight="bold">j</text>
<rect x="62.3" y="588.3" width="339.5" height="11.4" fill="#fff" stroke="#333" stroke-width="1"/>
<text x="237.5" y="597.1" font-size="10.8" text-anchor="middle" stroke="#000" stroke-width="0.25">NaCl</text>
<line x1="62.3" y1="599.7" x2="62.3" y2="695.3" stroke="#333" stroke-width="1"/>
<line x1="62.3" y1="695.3" x2="401.8" y2="695.3" stroke="#333" stroke-width="1"/>
<line x1="60.1" y1="607.6" x2="62.3" y2="607.6" stroke="#333" stroke-width="0.9"/>
<text x="58.2" y="611.3" font-size="10.5" text-anchor="end" fill="#2a2a2a" stroke="#2a2a2a" stroke-width="0.25">0.08</text>
<line x1="60.1" y1="634.8" x2="62.3" y2="634.8" stroke="#333" stroke-width="0.9"/>
<text x="58.2" y="638.5" font-size="10.5" text-anchor="end" fill="#2a2a2a" stroke="#2a2a2a" stroke-width="0.25">0.06</text>
<line x1="60.1" y1="662.3" x2="62.3" y2="662.3" stroke="#333" stroke-width="0.9"/>
<text x="58.2" y="666.0" font-size="10.5" text-anchor="end" fill="#2a2a2a" stroke="#2a2a2a" stroke-width="0.25">0.04</text>
<line x1="60.1" y1="689.2" x2="62.3" y2="689.2" stroke="#333" stroke-width="0.9"/>
<text x="58.2" y="692.9" font-size="10.5" text-anchor="end" fill="#2a2a2a" stroke="#2a2a2a" stroke-width="0.25">0.02</text>
<text x="16.3" y="645.0" font-size="10.8" text-anchor="middle" transform="rotate(-90 16.3 645.0)" stroke="#000" stroke-width="0.25">Standard deviation</text>
<text x="29.8" y="645.0" font-size="10.8" text-anchor="middle" transform="rotate(-90 29.8 645.0)" stroke="#000" stroke-width="0.25">induced osmoconsensus</text>
<circle cx="65.6" cy="664.2" r="3.2" fill="#B6B6B6"/>
<circle cx="67.3" cy="659.2" r="4.3" fill="#B6B6B6"/>
<circle cx="68.0" cy="667.7" r="3.2" fill="#B6B6B6"/>
<circle cx="69.9" cy="679.7" r="2.8" fill="#B6B6B6"/>
<circle cx="71.5" cy="674.8" r="2.8" fill="#B6B6B6"/>
<circle cx="72.6" cy="672.2" r="4.1" fill="#B6B6B6"/>
<circle cx="73.3" cy="658.0" r="3.5" fill="#B6B6B6"/>
<circle cx="74.4" cy="669.3" r="3.8" fill="#B6B6B6"/>
<circle cx="76.0" cy="681.4" r="4.1" fill="#B6B6B6"/>
<circle cx="76.8" cy="676.6" r="3.5" fill="#B6B6B6"/>
<circle cx="78.5" cy="675.8" r="4.1" fill="#B6B6B6"/>
<circle cx="80.1" cy="658.5" r="3.5" fill="#B6B6B6"/>
<circle cx="80.4" cy="671.7" r="3.5" fill="#B6B6B6"/>
<circle cx="81.8" cy="667.6" r="3.8" fill="#B6B6B6"/>
<circle cx="83.2" cy="673.1" r="3.2" fill="#B6B6B6"/>
<circle cx="84.9" cy="667.0" r="4.1" fill="#B6B6B6"/>
<circle cx="86.2" cy="664.8" r="4.1" fill="#B6B6B6"/>
<circle cx="86.8" cy="671.0" r="4.1" fill="#B6B6B6"/>
<circle cx="88.6" cy="664.7" r="3.2" fill="#B6B6B6"/>
<circle cx="89.7" cy="667.6" r="3.5" fill="#B6B6B6"/>
<circle cx="90.3" cy="663.2" r="3.5" fill="#B6B6B6"/>
<circle cx="91.9" cy="660.5" r="3.2" fill="#B6B6B6"/>
<circle cx="93.4" cy="658.0" r="3.8" fill="#B6B6B6"/>
<circle cx="93.8" cy="667.5" r="3.8" fill="#B6B6B6"/>
<circle cx="95.4" cy="666.3" r="3.2" fill="#B6B6B6"/>
<circle cx="97.2" cy="658.0" r="3.8" fill="#B6B6B6"/>
<circle cx="98.2" cy="663.4" r="3.8" fill="#B6B6B6"/>
<circle cx="99.5" cy="679.6" r="3.8" fill="#B6B6B6"/>
<circle cx="99.9" cy="665.9" r="2.8" fill="#B6B6B6"/>
<circle cx="101.6" cy="674.8" r="3.8" fill="#B6B6B6"/>
<circle cx="103.0" cy="663.5" r="2.8" fill="#B6B6B6"/>
<circle cx="103.6" cy="664.3" r="3.8" fill="#B6B6B6"/>
<circle cx="105.8" cy="674.4" r="3.2" fill="#B6B6B6"/>
<circle cx="106.4" cy="675.3" r="4.1" fill="#B6B6B6"/>
<circle cx="107.5" cy="669.5" r="4.3" fill="#B6B6B6"/>
<circle cx="109.6" cy="667.5" r="3.2" fill="#B6B6B6"/>
<circle cx="110.5" cy="676.4" r="4.1" fill="#B6B6B6"/>
<circle cx="111.4" cy="670.6" r="4.3" fill="#B6B6B6"/>
<circle cx="112.3" cy="676.1" r="3.8" fill="#B6B6B6"/>
<circle cx="114.1" cy="663.6" r="3.5" fill="#B6B6B6"/>
<circle cx="114.8" cy="658.0" r="2.8" fill="#B6B6B6"/>
<circle cx="116.1" cy="665.3" r="3.2" fill="#B6B6B6"/>
<circle cx="117.6" cy="663.8" r="2.8" fill="#B6B6B6"/>
<circle cx="118.9" cy="664.8" r="3.8" fill="#B6B6B6"/>
<circle cx="120.9" cy="675.5" r="4.3" fill="#B6B6B6"/>
<circle cx="120.9" cy="670.1" r="3.8" fill="#B6B6B6"/>
<circle cx="123.0" cy="678.9" r="4.1" fill="#B6B6B6"/>
<circle cx="123.5" cy="660.3" r="3.5" fill="#B6B6B6"/>
<circle cx="124.7" cy="688.3" r="3.2" fill="#B6B6B6"/>
<circle cx="126.6" cy="675.0" r="3.8" fill="#B6B6B6"/>
<circle cx="127.3" cy="665.0" r="2.8" fill="#B6B6B6"/>
<circle cx="129.3" cy="670.5" r="3.8" fill="#B6B6B6"/>
<circle cx="130.5" cy="666.1" r="3.8" fill="#B6B6B6"/>
<circle cx="131.1" cy="670.2" r="2.8" fill="#B6B6B6"/>
<circle cx="133.2" cy="668.6" r="3.5" fill="#B6B6B6"/>
<circle cx="134.3" cy="669.0" r="4.3" fill="#B6B6B6"/>
<circle cx="135.2" cy="677.3" r="4.1" fill="#B6B6B6"/>
<circle cx="136.1" cy="682.8" r="2.8" fill="#B6B6B6"/>
<circle cx="137.1" cy="662.8" r="3.2" fill="#B6B6B6"/>
<circle cx="139.1" cy="671.5" r="2.8" fill="#B6B6B6"/>
<circle cx="140.1" cy="663.0" r="3.2" fill="#B6B6B6"/>
<circle cx="141.8" cy="667.0" r="3.5" fill="#B6B6B6"/>
<circle cx="142.4" cy="678.7" r="3.5" fill="#B6B6B6"/>
<circle cx="143.3" cy="667.5" r="3.8" fill="#B6B6B6"/>
<circle cx="144.9" cy="669.0" r="2.8" fill="#B6B6B6"/>
<circle cx="146.3" cy="671.0" r="2.8" fill="#B6B6B6"/>
<circle cx="146.8" cy="664.4" r="2.8" fill="#B6B6B6"/>
<circle cx="149.2" cy="660.4" r="3.2" fill="#B6B6B6"/>
<circle cx="150.2" cy="668.1" r="4.1" fill="#B6B6B6"/>
<circle cx="151.1" cy="669.3" r="3.2" fill="#B6B6B6"/>
<circle cx="152.1" cy="667.7" r="4.1" fill="#B6B6B6"/>
<circle cx="153.1" cy="658.0" r="3.8" fill="#B6B6B6"/>
<circle cx="154.3" cy="673.3" r="3.8" fill="#B6B6B6"/>
<circle cx="156.0" cy="674.8" r="3.5" fill="#B6B6B6"/>
<circle cx="157.5" cy="662.0" r="3.2" fill="#B6B6B6"/>
<circle cx="159.1" cy="663.2" r="2.8" fill="#B6B6B6"/>
<circle cx="159.6" cy="672.2" r="3.2" fill="#B6B6B6"/>
<circle cx="161.3" cy="673.7" r="4.1" fill="#B6B6B6"/>
<circle cx="162.0" cy="676.3" r="3.2" fill="#B6B6B6"/>
<circle cx="163.6" cy="677.5" r="3.8" fill="#B6B6B6"/>
<circle cx="164.1" cy="661.3" r="3.5" fill="#B6B6B6"/>
<circle cx="165.8" cy="670.9" r="3.8" fill="#B6B6B6"/>
<circle cx="166.7" cy="661.2" r="3.8" fill="#B6B6B6"/>
<circle cx="169.0" cy="663.0" r="4.1" fill="#B6B6B6"/>
<circle cx="169.5" cy="676.0" r="4.3" fill="#B6B6B6"/>
<circle cx="170.9" cy="658.1" r="4.1" fill="#B6B6B6"/>
<circle cx="172.1" cy="673.9" r="3.8" fill="#B6B6B6"/>
<circle cx="173.9" cy="671.1" r="3.8" fill="#B6B6B6"/>
<circle cx="174.4" cy="662.9" r="3.8" fill="#B6B6B6"/>
<circle cx="175.6" cy="683.7" r="2.8" fill="#B6B6B6"/>
<circle cx="177.4" cy="659.2" r="4.1" fill="#B6B6B6"/>
<circle cx="178.0" cy="658.0" r="2.8" fill="#B6B6B6"/>
<circle cx="179.1" cy="668.8" r="3.2" fill="#B6B6B6"/>
<circle cx="181.0" cy="670.0" r="4.1" fill="#B6B6B6"/>
<circle cx="181.5" cy="660.5" r="3.5" fill="#B6B6B6"/>
<circle cx="183.4" cy="668.6" r="3.8" fill="#B6B6B6"/>
<circle cx="184.8" cy="668.0" r="3.5" fill="#B6B6B6"/>
<circle cx="185.6" cy="665.2" r="3.5" fill="#B6B6B6"/>
<circle cx="187.3" cy="666.6" r="4.1" fill="#B6B6B6"/>
<circle cx="188.5" cy="671.8" r="4.3" fill="#B6B6B6"/>
<circle cx="189.0" cy="665.0" r="3.2" fill="#B6B6B6"/>
<circle cx="191.1" cy="669.0" r="3.8" fill="#B6B6B6"/>
<circle cx="192.0" cy="678.9" r="3.2" fill="#B6B6B6"/>
<circle cx="193.4" cy="663.2" r="3.5" fill="#B6B6B6"/>
<circle cx="194.8" cy="675.0" r="4.1" fill="#B6B6B6"/>
<circle cx="195.1" cy="675.0" r="4.3" fill="#B6B6B6"/>
<circle cx="196.6" cy="682.1" r="4.1" fill="#B6B6B6"/>
<circle cx="198.1" cy="669.4" r="3.2" fill="#B6B6B6"/>
<circle cx="199.2" cy="662.5" r="3.5" fill="#B6B6B6"/>
<circle cx="200.9" cy="670.3" r="4.1" fill="#B6B6B6"/>
<circle cx="201.4" cy="678.2" r="3.8" fill="#B6B6B6"/>
<circle cx="202.9" cy="672.6" r="3.2" fill="#B6B6B6"/>
<circle cx="204.4" cy="672.5" r="2.8" fill="#B6B6B6"/>
<circle cx="205.4" cy="658.0" r="2.8" fill="#B6B6B6"/>
<circle cx="206.8" cy="676.6" r="4.3" fill="#B6B6B6"/>
<circle cx="208.5" cy="668.0" r="2.8" fill="#B6B6B6"/>
<circle cx="209.2" cy="666.0" r="4.1" fill="#B6B6B6"/>
<circle cx="210.4" cy="683.0" r="4.1" fill="#B6B6B6"/>
<circle cx="211.3" cy="668.4" r="3.8" fill="#B6B6B6"/>
<circle cx="212.3" cy="674.7" r="4.1" fill="#B6B6B6"/>
<circle cx="214.6" cy="660.9" r="3.2" fill="#B6B6B6"/>
<circle cx="215.3" cy="673.1" r="2.8" fill="#B6B6B6"/>
<circle cx="216.5" cy="669.6" r="3.8" fill="#B6B6B6"/>
<circle cx="217.5" cy="681.3" r="4.1" fill="#B6B6B6"/>
<circle cx="219.2" cy="668.8" r="4.3" fill="#B6B6B6"/>
<circle cx="220.3" cy="672.6" r="3.8" fill="#B6B6B6"/>
<circle cx="221.7" cy="662.8" r="3.8" fill="#B6B6B6"/>
<circle cx="222.8" cy="665.8" r="4.1" fill="#B6B6B6"/>
<circle cx="223.6" cy="667.9" r="2.8" fill="#B6B6B6"/>
<circle cx="225.2" cy="679.7" r="2.8" fill="#B6B6B6"/>
<circle cx="226.4" cy="671.3" r="3.8" fill="#B6B6B6"/>
<circle cx="228.3" cy="679.2" r="4.3" fill="#B6B6B6"/>
<circle cx="229.4" cy="669.2" r="3.2" fill="#B6B6B6"/>
<circle cx="230.4" cy="677.1" r="3.8" fill="#B6B6B6"/>
<circle cx="231.7" cy="668.8" r="3.8" fill="#B6B6B6"/>
<circle cx="232.1" cy="665.7" r="3.2" fill="#B6B6B6"/>
<circle cx="233.5" cy="676.8" r="3.2" fill="#B6B6B6"/>
<circle cx="235.4" cy="662.8" r="4.1" fill="#B6B6B6"/>
<circle cx="236.7" cy="664.8" r="4.3" fill="#B6B6B6"/>
<circle cx="237.2" cy="674.1" r="3.2" fill="#B6B6B6"/>
<circle cx="238.9" cy="677.1" r="4.1" fill="#B6B6B6"/>
<circle cx="239.6" cy="664.3" r="3.8" fill="#B6B6B6"/>
<circle cx="241.7" cy="662.7" r="3.5" fill="#B6B6B6"/>
<circle cx="242.5" cy="671.8" r="2.8" fill="#B6B6B6"/>
<circle cx="244.1" cy="658.4" r="3.2" fill="#B6B6B6"/>
<circle cx="244.7" cy="670.6" r="3.8" fill="#B6B6B6"/>
<circle cx="246.8" cy="660.0" r="4.1" fill="#B6B6B6"/>
<circle cx="247.6" cy="670.8" r="3.8" fill="#B6B6B6"/>
<circle cx="248.5" cy="659.9" r="2.8" fill="#B6B6B6"/>
<circle cx="250.2" cy="667.5" r="3.8" fill="#B6B6B6"/>
<circle cx="250.6" cy="671.4" r="2.8" fill="#B6B6B6"/>
<circle cx="251.9" cy="662.2" r="3.2" fill="#B6B6B6"/>
<circle cx="254.0" cy="674.6" r="3.8" fill="#B6B6B6"/>
<circle cx="254.9" cy="666.4" r="3.8" fill="#B6B6B6"/>
<circle cx="255.9" cy="661.1" r="3.5" fill="#B6B6B6"/>
<circle cx="256.9" cy="662.6" r="2.8" fill="#B6B6B6"/>
<circle cx="258.7" cy="671.6" r="3.2" fill="#B6B6B6"/>
<circle cx="259.4" cy="671.5" r="3.8" fill="#B6B6B6"/>
<circle cx="260.8" cy="673.2" r="3.8" fill="#B6B6B6"/>
<circle cx="262.7" cy="665.1" r="3.5" fill="#B6B6B6"/>
<circle cx="263.0" cy="668.1" r="3.2" fill="#B6B6B6"/>
<circle cx="264.7" cy="678.6" r="3.8" fill="#B6B6B6"/>
<circle cx="265.8" cy="662.6" r="3.5" fill="#B6B6B6"/>
<circle cx="266.6" cy="661.4" r="2.8" fill="#B6B6B6"/>
<circle cx="268.7" cy="666.3" r="4.3" fill="#B6B6B6"/>
<circle cx="270.0" cy="667.7" r="3.8" fill="#B6B6B6"/>
<circle cx="270.5" cy="670.0" r="4.3" fill="#B6B6B6"/>
<circle cx="272.0" cy="667.5" r="3.8" fill="#B6B6B6"/>
<circle cx="273.1" cy="673.1" r="2.8" fill="#B6B6B6"/>
<circle cx="274.4" cy="662.4" r="3.2" fill="#B6B6B6"/>
<circle cx="275.6" cy="659.7" r="4.3" fill="#B6B6B6"/>
<circle cx="277.2" cy="678.5" r="2.8" fill="#B6B6B6"/>
<circle cx="278.7" cy="673.6" r="2.8" fill="#B6B6B6"/>
<circle cx="279.7" cy="682.2" r="3.2" fill="#B6B6B6"/>
<circle cx="280.4" cy="672.8" r="3.8" fill="#B6B6B6"/>
<circle cx="281.8" cy="663.2" r="3.5" fill="#B6B6B6"/>
<circle cx="283.5" cy="670.1" r="2.8" fill="#B6B6B6"/>
<circle cx="284.0" cy="665.6" r="3.2" fill="#B6B6B6"/>
<circle cx="285.4" cy="675.7" r="3.2" fill="#B6B6B6"/>
<circle cx="287.1" cy="673.0" r="2.8" fill="#B6B6B6"/>
<circle cx="288.5" cy="674.9" r="3.8" fill="#B6B6B6"/>
<circle cx="289.0" cy="666.4" r="3.8" fill="#B6B6B6"/>
<circle cx="290.3" cy="665.2" r="2.8" fill="#B6B6B6"/>
<circle cx="292.0" cy="677.2" r="2.8" fill="#B6B6B6"/>
<circle cx="293.0" cy="672.2" r="3.5" fill="#B6B6B6"/>
<circle cx="294.3" cy="660.4" r="4.1" fill="#B6B6B6"/>
<circle cx="295.7" cy="670.8" r="4.1" fill="#B6B6B6"/>
<circle cx="297.4" cy="667.0" r="4.3" fill="#B6B6B6"/>
<circle cx="298.1" cy="664.6" r="4.1" fill="#B6B6B6"/>
<circle cx="299.2" cy="665.3" r="3.8" fill="#B6B6B6"/>
<circle cx="301.1" cy="666.0" r="4.1" fill="#B6B6B6"/>
<circle cx="301.8" cy="669.4" r="3.2" fill="#B6B6B6"/>
<circle cx="303.5" cy="662.9" r="4.1" fill="#B6B6B6"/>
<circle cx="304.0" cy="668.1" r="4.3" fill="#B6B6B6"/>
<circle cx="305.9" cy="668.8" r="4.3" fill="#B6B6B6"/>
<circle cx="306.3" cy="666.3" r="4.1" fill="#B6B6B6"/>
<circle cx="308.5" cy="679.0" r="3.5" fill="#B6B6B6"/>
<circle cx="308.7" cy="679.0" r="3.5" fill="#B6B6B6"/>
<circle cx="311.1" cy="689.0" r="3.2" fill="#B6B6B6"/>
<circle cx="312.1" cy="662.7" r="2.8" fill="#B6B6B6"/>
<circle cx="312.4" cy="664.7" r="4.3" fill="#B6B6B6"/>
<circle cx="314.5" cy="670.0" r="4.1" fill="#B6B6B6"/>
<circle cx="315.2" cy="671.0" r="3.8" fill="#B6B6B6"/>
<circle cx="316.8" cy="680.4" r="3.5" fill="#B6B6B6"/>
<circle cx="317.4" cy="664.2" r="2.8" fill="#B6B6B6"/>
<circle cx="319.1" cy="664.1" r="3.8" fill="#B6B6B6"/>
<circle cx="319.8" cy="665.5" r="3.8" fill="#B6B6B6"/>
<circle cx="321.9" cy="676.7" r="3.8" fill="#B6B6B6"/>
<circle cx="322.5" cy="658.0" r="4.3" fill="#B6B6B6"/>
<circle cx="323.8" cy="670.8" r="4.1" fill="#B6B6B6"/>
<circle cx="325.4" cy="671.7" r="4.3" fill="#B6B6B6"/>
<circle cx="326.6" cy="670.2" r="4.3" fill="#B6B6B6"/>
<circle cx="327.5" cy="658.0" r="4.1" fill="#B6B6B6"/>
<circle cx="329.5" cy="674.8" r="3.8" fill="#B6B6B6"/>
<circle cx="330.3" cy="681.5" r="3.5" fill="#B6B6B6"/>
<circle cx="331.2" cy="659.4" r="3.5" fill="#B6B6B6"/>
<circle cx="332.2" cy="660.9" r="3.2" fill="#B6B6B6"/>
<circle cx="334.2" cy="671.6" r="2.8" fill="#B6B6B6"/>
<circle cx="335.3" cy="675.0" r="2.8" fill="#B6B6B6"/>
<circle cx="335.8" cy="668.9" r="3.2" fill="#B6B6B6"/>
<circle cx="338.2" cy="662.7" r="4.1" fill="#B6B6B6"/>
<circle cx="339.3" cy="667.8" r="4.1" fill="#B6B6B6"/>
<circle cx="340.1" cy="675.7" r="2.8" fill="#B6B6B6"/>
<circle cx="341.3" cy="670.6" r="3.2" fill="#B6B6B6"/>
<circle cx="342.2" cy="680.4" r="2.8" fill="#B6B6B6"/>
<circle cx="343.3" cy="664.5" r="3.5" fill="#B6B6B6"/>
<circle cx="344.8" cy="663.9" r="3.5" fill="#B6B6B6"/>
<circle cx="346.4" cy="663.3" r="2.8" fill="#B6B6B6"/>
<circle cx="347.4" cy="670.3" r="4.1" fill="#B6B6B6"/>
<circle cx="348.9" cy="665.5" r="3.8" fill="#B6B6B6"/>
<circle cx="350.2" cy="670.1" r="2.8" fill="#B6B6B6"/>
<circle cx="351.5" cy="668.6" r="2.8" fill="#B6B6B6"/>
<circle cx="352.4" cy="675.1" r="3.8" fill="#B6B6B6"/>
<circle cx="354.2" cy="676.3" r="3.8" fill="#B6B6B6"/>
<circle cx="354.7" cy="665.0" r="3.5" fill="#B6B6B6"/>
<circle cx="356.0" cy="661.7" r="3.2" fill="#B6B6B6"/>
<circle cx="357.8" cy="669.5" r="3.8" fill="#B6B6B6"/>
<circle cx="359.1" cy="673.3" r="3.5" fill="#B6B6B6"/>
<circle cx="359.4" cy="675.2" r="4.3" fill="#B6B6B6"/>
<circle cx="360.6" cy="660.2" r="3.5" fill="#B6B6B6"/>
<circle cx="362.4" cy="664.8" r="3.2" fill="#B6B6B6"/>
<circle cx="363.0" cy="661.5" r="3.2" fill="#B6B6B6"/>
<circle cx="364.5" cy="667.2" r="2.8" fill="#B6B6B6"/>
<circle cx="366.2" cy="666.6" r="2.8" fill="#B6B6B6"/>
<circle cx="366.8" cy="662.6" r="3.8" fill="#B6B6B6"/>
<circle cx="368.8" cy="662.2" r="3.8" fill="#B6B6B6"/>
<circle cx="369.9" cy="658.0" r="3.2" fill="#B6B6B6"/>
<circle cx="371.2" cy="658.0" r="2.8" fill="#B6B6B6"/>
<circle cx="372.1" cy="666.4" r="4.1" fill="#B6B6B6"/>
<circle cx="373.8" cy="668.1" r="3.2" fill="#B6B6B6"/>
<circle cx="374.9" cy="681.4" r="4.3" fill="#B6B6B6"/>
<circle cx="375.7" cy="672.7" r="3.5" fill="#B6B6B6"/>
<circle cx="377.4" cy="663.9" r="3.2" fill="#B6B6B6"/>
<circle cx="378.2" cy="662.5" r="3.2" fill="#B6B6B6"/>
<circle cx="379.8" cy="668.1" r="3.8" fill="#B6B6B6"/>
<circle cx="380.7" cy="662.5" r="2.8" fill="#B6B6B6"/>
<circle cx="382.6" cy="663.2" r="3.8" fill="#B6B6B6"/>
<circle cx="383.4" cy="671.8" r="3.8" fill="#B6B6B6"/>
<circle cx="384.0" cy="670.8" r="3.8" fill="#B6B6B6"/>
<circle cx="386.3" cy="671.0" r="4.1" fill="#B6B6B6"/>
<circle cx="387.0" cy="665.8" r="3.8" fill="#B6B6B6"/>
<circle cx="388.4" cy="677.0" r="3.5" fill="#B6B6B6"/>
<circle cx="389.5" cy="676.6" r="3.8" fill="#B6B6B6"/>
<circle cx="390.5" cy="666.4" r="3.2" fill="#B6B6B6"/>
<circle cx="392.1" cy="670.8" r="3.8" fill="#B6B6B6"/>
<circle cx="393.3" cy="671.4" r="3.8" fill="#B6B6B6"/>
<circle cx="394.8" cy="665.2" r="3.5" fill="#B6B6B6"/>
<circle cx="395.7" cy="661.1" r="3.8" fill="#B6B6B6"/>
<circle cx="397.1" cy="665.2" r="3.5" fill="#B6B6B6"/>
<circle cx="397.6" cy="670.4" r="2.8" fill="#B6B6B6"/>
<line x1="62.3" y1="654.5" x2="401.8" y2="654.5" stroke="#333" stroke-width="1" stroke-dasharray="4,3"/>
<circle cx="71.6" cy="632.8" r="4.8" fill="#6CC04A"/>
<circle cx="84.2" cy="629.0" r="4.8" fill="#6CC04A"/>
<circle cx="100.3" cy="628.2" r="3.9" fill="#6CC04A"/>
<circle cx="110.5" cy="640.1" r="4.5" fill="#6CC04A"/>
<circle cx="106.7" cy="649.5" r="3.9" fill="#6CC04A"/>
<circle cx="115.4" cy="647.4" r="3.9" fill="#6CC04A"/>
<circle cx="135.6" cy="627.3" r="2.9" fill="#6CC04A"/>
<circle cx="139.4" cy="649.5" r="3.9" fill="#6CC04A"/>
<circle cx="165.7" cy="651.5" r="3.9" fill="#6CC04A"/>
<circle cx="191.9" cy="653.0" r="3.9" fill="#6CC04A"/>
<circle cx="201.0" cy="650.1" r="3.9" fill="#6CC04A"/>
<circle cx="224.9" cy="651.5" r="4.3" fill="#6CC04A"/>
<circle cx="234.6" cy="653.9" r="3.9" fill="#6CC04A"/>
<circle cx="238.6" cy="604.2" r="2.9" fill="#6CC04A"/>
<circle cx="243.9" cy="650.1" r="4.3" fill="#6CC04A"/>
<circle cx="255.0" cy="646.6" r="3.9" fill="#6CC04A"/>
<circle cx="257.3" cy="646.6" r="3.9" fill="#6CC04A"/>
<circle cx="261.7" cy="644.8" r="3.9" fill="#6CC04A"/>
<circle cx="258.8" cy="650.1" r="3.9" fill="#6CC04A"/>
<circle cx="280.7" cy="651.0" r="3.9" fill="#6CC04A"/>
<circle cx="283.0" cy="631.7" r="3.9" fill="#6CC04A"/>
<circle cx="285.6" cy="642.2" r="3.9" fill="#6CC04A"/>
<circle cx="293.8" cy="650.1" r="3.9" fill="#6CC04A"/>
<circle cx="292.3" cy="652.4" r="3.7" fill="#6CC04A"/>
<circle cx="302.0" cy="642.2" r="3.9" fill="#6CC04A"/>
<circle cx="307.8" cy="640.7" r="3.9" fill="#6CC04A"/>
<circle cx="306.9" cy="653.0" r="3.9" fill="#6CC04A"/>
<circle cx="314.2" cy="651.0" r="3.9" fill="#6CC04A"/>
<circle cx="317.2" cy="654.5" r="3.7" fill="#6CC04A"/>
<circle cx="318.0" cy="639.9" r="3.9" fill="#6CC04A"/>
<circle cx="325.3" cy="632.6" r="3.9" fill="#6CC04A"/>
<circle cx="323.0" cy="647.2" r="3.9" fill="#6CC04A"/>
<circle cx="327.4" cy="641.3" r="3.9" fill="#6CC04A"/>
<circle cx="328.8" cy="645.7" r="3.9" fill="#6CC04A"/>
<circle cx="333.2" cy="642.8" r="3.9" fill="#6CC04A"/>
<circle cx="342.0" cy="650.7" r="4.3" fill="#6CC04A"/>
<circle cx="352.8" cy="649.5" r="3.9" fill="#6CC04A"/>
<circle cx="385.8" cy="653.0" r="3.9" fill="#6CC04A"/>
<circle cx="394.5" cy="638.4" r="3.9" fill="#6CC04A"/>
<circle cx="396.0" cy="640.4" r="3.9" fill="#6CC04A"/>
<circle cx="397.4" cy="651.0" r="3.9" fill="#6CC04A"/>
<text x="224.2" y="705.2" font-size="10.8" text-anchor="middle" stroke="#000" stroke-width="0.25">genotypes</text>
<text x="405.6" y="608.4" font-size="9.3" stroke="#000" stroke-width="0.25">% variable</text>
<text x="405.6" y="619.6" font-size="9.3" stroke="#000" stroke-width="0.25">cells</text>
<circle cx="410.8" cy="627.9" r="3.1" fill="#000"/>
<text x="419.8" y="631.6" font-size="9.4" stroke="#000" stroke-width="0.25">0.20</text>
<circle cx="410.8" cy="639.1" r="3.6" fill="#000"/>
<text x="419.8" y="642.8" font-size="9.4" stroke="#000" stroke-width="0.25">0.25</text>
<circle cx="410.8" cy="650.2" r="4.1" fill="#000"/>
<text x="419.8" y="653.9" font-size="9.4" stroke="#000" stroke-width="0.25">0.30</text>
<text x="375.9" y="692.2" font-size="11.0" stroke="#000" stroke-width="0.25">WTs</text>
<line x1="387.0" y1="680.7" x2="397.6" y2="662.5" stroke="#000" stroke-width="1.3"/>
<path d="M403.5 652 L395.2 657.6 L401.9 663.8 Z" fill="#000" clip-path="url(#clipj)"/>
<text x="464.0" y="318.9" font-size="14.2" font-weight="bold">g</text>
<rect x="526.7" y="386.7" width="18.0" height="52.7" fill="#A9A9AD" stroke="#333" stroke-width="0.9"/>
<rect x="547.0" y="367.1" width="17.6" height="72.3" fill="#F07272" stroke="#333" stroke-width="0.9"/>
<rect x="566.9" y="355.3" width="17.7" height="84.1" fill="#F07272" stroke="#333" stroke-width="0.9"/>
<rect x="587.0" y="331.4" width="18.0" height="108.0" fill="#F07272" stroke="#333" stroke-width="0.9"/>
<rect x="607.3" y="359.4" width="18.0" height="80.0" fill="#F07272" stroke="#333" stroke-width="0.9"/>
<line x1="523.5" y1="326.2" x2="523.5" y2="439.4" stroke="#333" stroke-width="1"/>
<line x1="523.5" y1="439.4" x2="627.5" y2="439.4" stroke="#333" stroke-width="1"/>
<line x1="521.3" y1="439.4" x2="523.5" y2="439.4" stroke="#333" stroke-width="0.9"/>
<text x="520.2" y="443.2" font-size="10.3" text-anchor="end" fill="#333" stroke="#333" stroke-width="0.25">0</text>
<line x1="521.3" y1="411.4" x2="523.5" y2="411.4" stroke="#333" stroke-width="0.9"/>
<text x="520.2" y="415.2" font-size="10.3" text-anchor="end" fill="#333" stroke="#333" stroke-width="0.25">25</text>
<line x1="521.3" y1="383.3" x2="523.5" y2="383.3" stroke="#333" stroke-width="0.9"/>
<text x="520.2" y="387.1" font-size="10.3" text-anchor="end" fill="#333" stroke="#333" stroke-width="0.25">50</text>
<line x1="521.3" y1="355.3" x2="523.5" y2="355.3" stroke="#333" stroke-width="0.9"/>
<text x="520.2" y="359.1" font-size="10.3" text-anchor="end" fill="#333" stroke="#333" stroke-width="0.25">75</text>
<line x1="521.3" y1="327.3" x2="523.5" y2="327.3" stroke="#333" stroke-width="0.9"/>
<text x="520.2" y="331.1" font-size="10.3" text-anchor="end" fill="#333" stroke="#333" stroke-width="0.25">100</text>
<line x1="535.7" y1="439.4" x2="535.7" y2="441.6" stroke="#333" stroke-width="0.9"/>
<line x1="555.8" y1="439.4" x2="555.8" y2="441.6" stroke="#333" stroke-width="0.9"/>
<line x1="575.8" y1="439.4" x2="575.8" y2="441.6" stroke="#333" stroke-width="0.9"/>
<line x1="596.0" y1="439.4" x2="596.0" y2="441.6" stroke="#333" stroke-width="0.9"/>
<line x1="616.3" y1="439.4" x2="616.3" y2="441.6" stroke="#333" stroke-width="0.9"/>
<text x="555.7" y="321.0" font-size="7.0" text-anchor="middle" fill="#333" stroke="#333" stroke-width="0.25">**</text>
<text x="575.7" y="321.0" font-size="7.0" text-anchor="middle" fill="#333" stroke="#333" stroke-width="0.25">***</text>
<text x="595.7" y="321.0" font-size="7.0" text-anchor="middle" fill="#333" stroke="#333" stroke-width="0.25">****</text>
<text x="616.4" y="321.0" font-size="7.0" text-anchor="middle" fill="#333" stroke="#333" stroke-width="0.25">**</text>
<text x="535.6" y="449.8" font-size="9.6" text-anchor="middle" fill="#333" stroke="#333" stroke-width="0.25">WT</text>
<text x="555.3" y="449.8" font-size="9.6" text-anchor="middle" fill="#333" font-style="italic" stroke="#333" stroke-width="0.25">yng2</text>
<text x="576.9" y="449.8" font-size="9.6" text-anchor="middle" fill="#333" font-style="italic" stroke="#333" stroke-width="0.25">spt21</text>
<text x="598.0" y="449.8" font-size="9.6" text-anchor="middle" fill="#333" font-style="italic" stroke="#333" stroke-width="0.25">sin3</text>
<text x="618.1" y="449.8" font-size="9.6" text-anchor="middle" fill="#333" font-style="italic" stroke="#333" stroke-width="0.25">snf5</text>
<text x="577.0" y="461.0" font-size="9.6" text-anchor="middle" stroke="#000" stroke-width="0.25">genotypes</text>
<text x="493.3" y="382.0" font-size="9.6" text-anchor="middle" transform="rotate(-90 493.3 382.0)" stroke="#000" stroke-width="0.25">Percent basal stressed cells</text>
<text x="504.6" y="382.0" font-size="9.3" text-anchor="middle" transform="rotate(-90 504.6 382.0)">p<tspan font-style="italic">HOR7</tspan>-UbiM-mCherry-t<tspan font-style="italic">HOR7</tspan></text>
<circle cx="537.2" cy="383.3" r="2.8" fill="#6a6a6a" opacity="0.72"/>
<circle cx="539.1" cy="391.0" r="2.8" fill="#6a6a6a" opacity="0.72"/>
<circle cx="535.5" cy="385.5" r="2.8" fill="#6a6a6a" opacity="0.72"/>
<circle cx="553.6" cy="369.2" r="2.8" fill="#6a6a6a" opacity="0.72"/>
<circle cx="558.7" cy="364.1" r="2.8" fill="#6a6a6a" opacity="0.72"/>
<circle cx="556.5" cy="367.0" r="2.8" fill="#6a6a6a" opacity="0.72"/>
<circle cx="575.8" cy="354.8" r="2.8" fill="#6a6a6a" opacity="0.72"/>
<circle cx="573.8" cy="355.8" r="2.8" fill="#6a6a6a" opacity="0.72"/>
<circle cx="593.3" cy="331.2" r="2.8" fill="#6a6a6a" opacity="0.72"/>
<circle cx="596.8" cy="331.9" r="2.8" fill="#6a6a6a" opacity="0.72"/>
<circle cx="615.0" cy="352.4" r="2.8" fill="#6a6a6a" opacity="0.72"/>
<circle cx="619.5" cy="359.2" r="2.8" fill="#6a6a6a" opacity="0.72"/>
<circle cx="617.3" cy="366.9" r="2.8" fill="#6a6a6a" opacity="0.72"/>
<line x1="536.0" y1="381.5" x2="536.0" y2="386.3" stroke="#222" stroke-width="0.9"/>
<line x1="534.1" y1="381.5" x2="537.9" y2="381.5" stroke="#222" stroke-width="0.9"/>
<line x1="556.0" y1="364.5" x2="556.0" y2="367.3" stroke="#222" stroke-width="0.9"/>
<line x1="554.1" y1="364.5" x2="557.9" y2="364.5" stroke="#222" stroke-width="0.9"/>
<line x1="576.0" y1="353.2" x2="576.0" y2="355.2" stroke="#222" stroke-width="0.9"/>
<line x1="574.1" y1="353.2" x2="577.9" y2="353.2" stroke="#222" stroke-width="0.9"/>
<line x1="596.0" y1="330.0" x2="596.0" y2="331.6" stroke="#222" stroke-width="0.9"/>
<line x1="594.1" y1="330.0" x2="597.9" y2="330.0" stroke="#222" stroke-width="0.9"/>
<line x1="616.0" y1="351.3" x2="616.0" y2="359.6" stroke="#222" stroke-width="0.9"/>
<line x1="614.1" y1="351.3" x2="617.9" y2="351.3" stroke="#222" stroke-width="0.9"/>
<text x="463.9" y="465.7" font-size="14.2" font-weight="bold">i</text>
<rect x="526.3" y="520.5" width="18.2" height="67.3" fill="#A9A9AD" stroke="#333" stroke-width="0.9"/>
<rect x="547.0" y="491.5" width="17.6" height="96.3" fill="#5F8FD3" stroke="#333" stroke-width="0.9"/>
<rect x="567.1" y="501.9" width="17.3" height="85.9" fill="#5F8FD3" stroke="#333" stroke-width="0.9"/>
<rect x="587.0" y="497.2" width="18.0" height="90.6" fill="#5F8FD3" stroke="#333" stroke-width="0.9"/>
<rect x="607.3" y="509.7" width="18.0" height="78.1" fill="#5F8FD3" stroke="#333" stroke-width="0.9"/>
<line x1="523.7" y1="483.3" x2="523.7" y2="587.8" stroke="#333" stroke-width="1"/>
<line x1="523.7" y1="587.8" x2="627.5" y2="587.8" stroke="#333" stroke-width="1"/>
<line x1="521.5" y1="587.8" x2="523.7" y2="587.8" stroke="#333" stroke-width="0.9"/>
<text x="520.4" y="591.6" font-size="10.3" text-anchor="end" fill="#333" stroke="#333" stroke-width="0.25">0</text>
<line x1="521.5" y1="561.9" x2="523.7" y2="561.9" stroke="#333" stroke-width="0.9"/>
<text x="520.4" y="565.7" font-size="10.3" text-anchor="end" fill="#333" stroke="#333" stroke-width="0.25">25</text>
<line x1="521.5" y1="536.0" x2="523.7" y2="536.0" stroke="#333" stroke-width="0.9"/>
<text x="520.4" y="539.8" font-size="10.3" text-anchor="end" fill="#333" stroke="#333" stroke-width="0.25">50</text>
<line x1="521.5" y1="510.2" x2="523.7" y2="510.2" stroke="#333" stroke-width="0.9"/>
<text x="520.4" y="514.0" font-size="10.3" text-anchor="end" fill="#333" stroke="#333" stroke-width="0.25">75</text>
<line x1="521.5" y1="484.3" x2="523.7" y2="484.3" stroke="#333" stroke-width="0.9"/>
<text x="520.4" y="488.1" font-size="10.3" text-anchor="end" fill="#333" stroke="#333" stroke-width="0.25">100</text>
<line x1="535.4" y1="587.8" x2="535.4" y2="590.0" stroke="#333" stroke-width="0.9"/>
<line x1="555.8" y1="587.8" x2="555.8" y2="590.0" stroke="#333" stroke-width="0.9"/>
<line x1="575.8" y1="587.8" x2="575.8" y2="590.0" stroke="#333" stroke-width="0.9"/>
<line x1="596.0" y1="587.8" x2="596.0" y2="590.0" stroke="#333" stroke-width="0.9"/>
<line x1="616.3" y1="587.8" x2="616.3" y2="590.0" stroke="#333" stroke-width="0.9"/>
<text x="556.6" y="481.5" font-size="7.0" text-anchor="middle" fill="#333" stroke="#333" stroke-width="0.25">***</text>
<text x="577.0" y="481.5" font-size="7.0" text-anchor="middle" fill="#333" stroke="#333" stroke-width="0.25">*</text>
<text x="595.6" y="481.5" font-size="7.0" text-anchor="middle" fill="#333" stroke="#333" stroke-width="0.25">**</text>
<text x="618.6" y="481.5" font-size="7.0" text-anchor="middle" fill="#333" stroke="#333" stroke-width="0.25">ns</text>
<text x="538.8" y="599.0" font-size="9.6" text-anchor="middle" fill="#333" stroke="#333" stroke-width="0.25">WT</text>
<text x="555.0" y="599.0" font-size="9.6" text-anchor="middle" fill="#333" font-style="italic" stroke="#333" stroke-width="0.25">ctk2</text>
<text x="575.0" y="599.0" font-size="9.6" text-anchor="middle" fill="#333" font-style="italic" stroke="#333" stroke-width="0.25">yng2</text>
<text x="596.4" y="599.0" font-size="9.6" text-anchor="middle" fill="#333" font-style="italic" stroke="#333" stroke-width="0.25">eaf7</text>
<text x="616.4" y="599.0" font-size="9.6" text-anchor="middle" fill="#333" font-style="italic" stroke="#333" stroke-width="0.25">isw1</text>
<text x="578.1" y="610.4" font-size="9.6" text-anchor="middle" stroke="#000" stroke-width="0.25">genotypes</text>
<text x="493.3" y="532.0" font-size="9.6" text-anchor="middle" transform="rotate(-90 493.3 532.0)" stroke="#000" stroke-width="0.25">Percent basal stressed cells</text>
<text x="504.6" y="532.0" font-size="9.3" text-anchor="middle" transform="rotate(-90 504.6 532.0)">p<tspan font-style="italic">HXT5</tspan>-UbiM-mCherry-t<tspan font-style="italic">HXT5</tspan></text>
<circle cx="534.2" cy="517.7" r="2.8" fill="#6a6a6a" opacity="0.72"/>
<circle cx="536.1" cy="525.9" r="2.8" fill="#6a6a6a" opacity="0.72"/>
<circle cx="533.5" cy="518.5" r="2.8" fill="#6a6a6a" opacity="0.72"/>
<circle cx="558.3" cy="489.7" r="2.8" fill="#6a6a6a" opacity="0.72"/>
<circle cx="558.3" cy="493.2" r="2.8" fill="#6a6a6a" opacity="0.72"/>
<circle cx="572.3" cy="506.1" r="2.8" fill="#6a6a6a" opacity="0.72"/>
<circle cx="577.4" cy="504.4" r="2.8" fill="#6a6a6a" opacity="0.72"/>
<circle cx="579.3" cy="493.9" r="2.8" fill="#6a6a6a" opacity="0.72"/>
<circle cx="593.3" cy="499.1" r="2.8" fill="#6a6a6a" opacity="0.72"/>
<circle cx="597.5" cy="493.2" r="2.8" fill="#6a6a6a" opacity="0.72"/>
<circle cx="594.5" cy="497.0" r="2.8" fill="#6a6a6a" opacity="0.72"/>
<circle cx="613.6" cy="511.2" r="2.8" fill="#6a6a6a" opacity="0.72"/>
<circle cx="619.7" cy="515.4" r="2.8" fill="#6a6a6a" opacity="0.72"/>
<circle cx="616.7" cy="503.3" r="2.8" fill="#6a6a6a" opacity="0.72"/>
<line x1="535.4" y1="515.6" x2="535.4" y2="520.2" stroke="#222" stroke-width="0.9"/>
<line x1="533.5" y1="515.6" x2="537.3" y2="515.6" stroke="#222" stroke-width="0.9"/>
<line x1="556.0" y1="489.6" x2="556.0" y2="491.3" stroke="#222" stroke-width="0.9"/>
<line x1="554.1" y1="489.6" x2="557.9" y2="489.6" stroke="#222" stroke-width="0.9"/>
<line x1="576.0" y1="494.9" x2="576.0" y2="501.9" stroke="#222" stroke-width="0.9"/>
<line x1="574.1" y1="494.9" x2="577.9" y2="494.9" stroke="#222" stroke-width="0.9"/>
<line x1="596.0" y1="493.4" x2="596.0" y2="497.4" stroke="#222" stroke-width="0.9"/>
<line x1="594.1" y1="493.4" x2="597.9" y2="493.4" stroke="#222" stroke-width="0.9"/>
<line x1="616.5" y1="505.7" x2="616.5" y2="510.3" stroke="#222" stroke-width="0.9"/>
<line x1="614.6" y1="505.7" x2="618.4" y2="505.7" stroke="#222" stroke-width="0.9"/>
<text x="463.9" y="614.9" font-size="14.2" font-weight="bold">k</text>
<line x1="594.9" y1="623.3" x2="587.9" y2="646.9" stroke="#c2c2d2" stroke-width="0.6"/>
<line x1="587.9" y1="646.9" x2="577.7" y2="671.6" stroke="#c2c2d2" stroke-width="0.6"/>
<line x1="559.4" y1="657.2" x2="577.7" y2="671.6" stroke="#c2c2d2" stroke-width="0.6"/>
<line x1="619.0" y1="654.4" x2="577.7" y2="671.6" stroke="#c2c2d2" stroke-width="0.6"/>
<line x1="619.0" y1="654.4" x2="625.4" y2="683.5" stroke="#c2c2d2" stroke-width="0.6"/>
<line x1="652.3" y1="670.2" x2="625.4" y2="683.5" stroke="#c2c2d2" stroke-width="0.6"/>
<line x1="619.0" y1="654.4" x2="602.4" y2="702.1" stroke="#c2c2d2" stroke-width="0.6"/>
<line x1="536.6" y1="668.3" x2="517.2" y2="693.2" stroke="#c2c2d2" stroke-width="0.6"/>
<line x1="536.6" y1="668.3" x2="636.5" y2="713.0" stroke="#c2c2d2" stroke-width="0.6"/>
<line x1="577.7" y1="671.6" x2="561.0" y2="698.2" stroke="#c2c2d2" stroke-width="0.6"/>
<line x1="577.7" y1="671.6" x2="636.5" y2="713.0" stroke="#c2c2d2" stroke-width="0.6"/>
<line x1="517.2" y1="693.2" x2="602.4" y2="702.1" stroke="#c2c2d2" stroke-width="0.6"/>
<line x1="517.2" y1="693.2" x2="583.8" y2="753.6" stroke="#c2c2d2" stroke-width="0.6"/>
<line x1="602.4" y1="702.1" x2="636.5" y2="713.0" stroke="#c2c2d2" stroke-width="0.6"/>
<line x1="602.4" y1="702.1" x2="583.8" y2="753.6" stroke="#c2c2d2" stroke-width="0.6"/>
<line x1="636.5" y1="713.0" x2="584.6" y2="721.6" stroke="#c2c2d2" stroke-width="0.6"/>
<line x1="636.5" y1="713.0" x2="583.8" y2="753.6" stroke="#c2c2d2" stroke-width="0.6"/>
<line x1="636.5" y1="713.0" x2="629.6" y2="741.0" stroke="#c2c2d2" stroke-width="0.6"/>
<line x1="636.5" y1="713.0" x2="646.4" y2="770.6" stroke="#c2c2d2" stroke-width="0.6"/>
<line x1="636.5" y1="713.0" x2="673.9" y2="720.9" stroke="#c2c2d2" stroke-width="0.6"/>
<line x1="636.5" y1="713.0" x2="592.8" y2="780.5" stroke="#c2c2d2" stroke-width="0.6"/>
<line x1="636.5" y1="713.0" x2="549.0" y2="775.4" stroke="#c2c2d2" stroke-width="0.6"/>
<line x1="629.6" y1="741.0" x2="584.6" y2="721.6" stroke="#c2c2d2" stroke-width="0.6"/>
<line x1="629.6" y1="741.0" x2="583.8" y2="753.6" stroke="#c2c2d2" stroke-width="0.6"/>
<line x1="629.6" y1="741.0" x2="646.4" y2="770.6" stroke="#c2c2d2" stroke-width="0.6"/>
<line x1="583.8" y1="753.6" x2="616.4" y2="766.0" stroke="#c2c2d2" stroke-width="0.6"/>
<line x1="583.8" y1="753.6" x2="662.0" y2="748.8" stroke="#c2c2d2" stroke-width="0.6"/>
<line x1="583.8" y1="753.6" x2="549.0" y2="775.4" stroke="#c2c2d2" stroke-width="0.6"/>
<line x1="583.8" y1="753.6" x2="555.2" y2="797.4" stroke="#c2c2d2" stroke-width="0.6"/>
<line x1="583.8" y1="753.6" x2="582.1" y2="799.0" stroke="#c2c2d2" stroke-width="0.6"/>
<line x1="583.8" y1="753.6" x2="592.8" y2="780.5" stroke="#c2c2d2" stroke-width="0.6"/>
<line x1="584.6" y1="721.6" x2="549.0" y2="775.4" stroke="#c2c2d2" stroke-width="0.6"/>
<line x1="584.6" y1="721.6" x2="592.8" y2="780.5" stroke="#c2c2d2" stroke-width="0.6"/>
<line x1="584.6" y1="721.6" x2="555.2" y2="797.4" stroke="#c2c2d2" stroke-width="0.6"/>
<line x1="517.5" y1="720.9" x2="549.0" y2="775.4" stroke="#c2c2d2" stroke-width="0.6"/>
<line x1="517.5" y1="720.9" x2="532.1" y2="750.3" stroke="#c2c2d2" stroke-width="0.6"/>
<line x1="561.0" y1="698.2" x2="549.0" y2="775.4" stroke="#c2c2d2" stroke-width="0.6"/>
<line x1="532.1" y1="750.3" x2="549.0" y2="775.4" stroke="#c2c2d2" stroke-width="0.6"/>
<line x1="512.2" y1="763.7" x2="492.1" y2="776.4" stroke="#c2c2d2" stroke-width="0.6"/>
<line x1="512.2" y1="763.7" x2="525.5" y2="780.2" stroke="#c2c2d2" stroke-width="0.6"/>
<line x1="492.1" y1="776.4" x2="469.4" y2="790.8" stroke="#c2c2d2" stroke-width="0.6"/>
<line x1="525.5" y1="780.2" x2="555.2" y2="797.4" stroke="#c2c2d2" stroke-width="0.6"/>
<line x1="555.2" y1="797.4" x2="592.8" y2="780.5" stroke="#c2c2d2" stroke-width="0.6"/>
<line x1="549.0" y1="775.4" x2="592.8" y2="780.5" stroke="#c2c2d2" stroke-width="0.6"/>
<line x1="592.8" y1="780.5" x2="646.4" y2="770.6" stroke="#c2c2d2" stroke-width="0.6"/>
<line x1="627.0" y1="793.1" x2="663.0" y2="793.1" stroke="#c2c2d2" stroke-width="0.6"/>
<line x1="616.4" y1="766.0" x2="592.8" y2="780.5" stroke="#c2c2d2" stroke-width="0.6"/>
<line x1="517.2" y1="693.2" x2="517.5" y2="720.9" stroke="#c2c2d2" stroke-width="0.6"/>
<line x1="561.0" y1="698.2" x2="629.6" y2="741.0" stroke="#c2c2d2" stroke-width="0.6"/>
<line x1="602.4" y1="702.1" x2="629.6" y2="741.0" stroke="#c2c2d2" stroke-width="0.6"/>
<line x1="536.6" y1="668.3" x2="583.8" y2="753.6" stroke="#c2c2d2" stroke-width="0.6"/>
<line x1="625.4" y1="683.5" x2="584.6" y2="721.6" stroke="#c2c2d2" stroke-width="0.6"/>
<line x1="625.4" y1="683.5" x2="636.5" y2="713.0" stroke="#c2c2d2" stroke-width="0.6"/>
<line x1="602.4" y1="702.1" x2="549.0" y2="775.4" stroke="#c2c2d2" stroke-width="0.6"/>
<line x1="577.7" y1="671.6" x2="629.6" y2="741.0" stroke="#c2c2d2" stroke-width="0.6"/>
<line x1="517.2" y1="693.2" x2="561.0" y2="698.2" stroke="#9494ac" stroke-width="0.9"/>
<line x1="517.2" y1="693.2" x2="584.6" y2="721.6" stroke="#9494ac" stroke-width="0.9"/>
<line x1="561.0" y1="698.2" x2="584.6" y2="721.6" stroke="#9494ac" stroke-width="0.9"/>
<line x1="561.0" y1="698.2" x2="583.8" y2="753.6" stroke="#9494ac" stroke-width="0.9"/>
<line x1="577.7" y1="671.6" x2="583.8" y2="753.6" stroke="#9494ac" stroke-width="0.9"/>
<line x1="536.6" y1="668.3" x2="561.0" y2="698.2" stroke="#9494ac" stroke-width="0.9"/>
<line x1="536.6" y1="668.3" x2="584.6" y2="721.6" stroke="#9494ac" stroke-width="0.9"/>
<line x1="561.0" y1="698.2" x2="602.4" y2="702.1" stroke="#9494ac" stroke-width="0.9"/>
<line x1="561.0" y1="698.2" x2="636.5" y2="713.0" stroke="#9494ac" stroke-width="0.9"/>
<line x1="602.4" y1="702.1" x2="584.6" y2="721.6" stroke="#9494ac" stroke-width="0.9"/>
<line x1="577.7" y1="671.6" x2="584.6" y2="721.6" stroke="#9494ac" stroke-width="0.9"/>
<line x1="542.7" y1="634.4" x2="559.4" y2="657.2" stroke="#60607e" stroke-width="1.45"/>
<line x1="625.4" y1="683.5" x2="561.0" y2="698.2" stroke="#60607e" stroke-width="1.45"/>
<line x1="636.5" y1="713.0" x2="673.9" y2="698.8" stroke="#60607e" stroke-width="1.45"/>
<line x1="517.5" y1="720.9" x2="584.6" y2="721.6" stroke="#60607e" stroke-width="1.45"/>
<line x1="517.5" y1="720.9" x2="583.8" y2="753.6" stroke="#60607e" stroke-width="1.45"/>
<line x1="532.1" y1="750.3" x2="584.6" y2="721.6" stroke="#60607e" stroke-width="1.45"/>
<line x1="532.1" y1="750.3" x2="583.8" y2="753.6" stroke="#60607e" stroke-width="1.45"/>
<line x1="584.6" y1="721.6" x2="583.8" y2="753.6" stroke="#60607e" stroke-width="1.45"/>
<line x1="503.7" y1="739.6" x2="512.2" y2="763.7" stroke="#60607e" stroke-width="1.45"/>
<line x1="673.9" y1="720.9" x2="662.0" y2="748.8" stroke="#60607e" stroke-width="1.45"/>
<circle cx="594.9" cy="623.3" r="8.3" fill="#9BC53D"/>
<circle cx="542.7" cy="634.4" r="8.3" fill="#9BC53D"/>
<circle cx="587.9" cy="646.9" r="8.3" fill="#9BC53D"/>
<circle cx="559.4" cy="657.2" r="8.3" fill="#9BC53D"/>
<circle cx="619.0" cy="654.4" r="8.3" fill="#9BC53D"/>
<circle cx="536.6" cy="668.3" r="8.3" fill="#9BC53D"/>
<circle cx="577.7" cy="671.6" r="8.3" fill="#9BC53D"/>
<circle cx="652.3" cy="670.2" r="8.3" fill="#9BC53D"/>
<circle cx="625.4" cy="683.5" r="8.3" fill="#9BC53D"/>
<circle cx="517.2" cy="693.2" r="8.3" fill="#9BC53D"/>
<circle cx="561.0" cy="698.2" r="8.3" fill="#9BC53D"/>
<circle cx="602.4" cy="702.1" r="8.3" fill="#9BC53D"/>
<circle cx="673.9" cy="698.8" r="8.3" fill="#9BC53D"/>
<circle cx="636.5" cy="713.0" r="8.3" fill="#9BC53D"/>
<circle cx="517.5" cy="720.9" r="8.3" fill="#9BC53D"/>
<circle cx="584.6" cy="721.6" r="8.3" fill="#9BC53D"/>
<circle cx="673.9" cy="720.9" r="8.3" fill="#9BC53D"/>
<circle cx="503.7" cy="739.6" r="8.3" fill="#9BC53D"/>
<circle cx="629.6" cy="741.0" r="8.3" fill="#9BC53D"/>
<circle cx="532.1" cy="750.3" r="8.3" fill="#9BC53D"/>
<circle cx="583.8" cy="753.6" r="8.3" fill="#9BC53D"/>
<circle cx="662.0" cy="748.8" r="8.3" fill="#9BC53D"/>
<circle cx="512.2" cy="763.7" r="8.3" fill="#9BC53D"/>
<circle cx="616.4" cy="766.0" r="8.3" fill="#9BC53D"/>
<circle cx="646.4" cy="770.6" r="8.3" fill="#9BC53D"/>
<circle cx="492.1" cy="776.4" r="8.3" fill="#9BC53D"/>
<circle cx="549.0" cy="775.4" r="8.3" fill="#9BC53D"/>
<circle cx="525.5" cy="780.2" r="8.3" fill="#9BC53D"/>
<circle cx="592.8" cy="780.5" r="8.3" fill="#9BC53D"/>
<circle cx="469.4" cy="790.8" r="8.3" fill="#9BC53D"/>
<circle cx="555.2" cy="797.4" r="8.3" fill="#9BC53D"/>
<circle cx="582.1" cy="799.0" r="8.3" fill="#9BC53D"/>
<circle cx="627.0" cy="793.1" r="8.3" fill="#9BC53D"/>
<circle cx="663.0" cy="793.1" r="8.3" fill="#9BC53D"/>
<circle cx="536.1" cy="831.6" r="8.3" fill="#9BC53D"/>
<circle cx="557.7" cy="831.6" r="8.3" fill="#9BC53D"/>
<circle cx="579.5" cy="831.6" r="8.3" fill="#9BC53D"/>
<circle cx="600.6" cy="831.6" r="8.3" fill="#9BC53D"/>
<circle cx="629.7" cy="831.6" r="8.3" fill="#9BC53D"/>
<circle cx="536.1" cy="856.0" r="8.3" fill="#9BC53D"/>
<circle cx="557.7" cy="856.0" r="8.3" fill="#9BC53D"/>
<circle cx="579.5" cy="856.0" r="8.3" fill="#9BC53D"/>
<circle cx="600.6" cy="856.0" r="8.3" fill="#9BC53D"/>
<circle cx="629.7" cy="856.0" r="8.3" fill="#9BC53D"/>
<text x="594.9" y="626.0" font-size="7.5" text-anchor="middle" fill="#111" stroke="#111" stroke-width="0.1">DAL82</text>
<text x="542.7" y="637.1" font-size="7.5" text-anchor="middle" fill="#111" stroke="#111" stroke-width="0.1">TOS4</text>
<text x="587.9" y="649.6" font-size="7.5" text-anchor="middle" fill="#111" stroke="#111" stroke-width="0.1">DAL81</text>
<text x="559.4" y="659.9" font-size="7.5" text-anchor="middle" fill="#111" stroke="#111" stroke-width="0.1">SDS3</text>
<text x="619.0" y="657.1" font-size="7.5" text-anchor="middle" fill="#111" stroke="#111" stroke-width="0.1">SPT21</text>
<text x="536.6" y="671.0" font-size="7.5" text-anchor="middle" fill="#111" stroke="#111" stroke-width="0.1">CBF1</text>
<text x="577.7" y="674.3" font-size="7.5" text-anchor="middle" fill="#111" stroke="#111" stroke-width="0.1">RTG3</text>
<text x="652.3" y="672.9" font-size="7.5" text-anchor="middle" fill="#111" stroke="#111" stroke-width="0.1">SIR3</text>
<text x="625.4" y="686.2" font-size="7.5" text-anchor="middle" fill="#111" stroke="#111" stroke-width="0.1">NPL6</text>
<text x="517.2" y="695.9" font-size="7.5" text-anchor="middle" fill="#111" stroke="#111" stroke-width="0.1">ISW2</text>
<text x="561.0" y="700.9" font-size="7.5" text-anchor="middle" fill="#111" stroke="#111" stroke-width="0.1">RSC2</text>
<text x="602.4" y="704.8" font-size="7.5" text-anchor="middle" fill="#111" stroke="#111" stroke-width="0.1">GIS1</text>
<text x="673.9" y="701.5" font-size="7.5" text-anchor="middle" fill="#111" stroke="#111" stroke-width="0.1">HDA3</text>
<text x="636.5" y="715.7" font-size="7.5" text-anchor="middle" fill="#111" stroke="#111" stroke-width="0.1">HDA1</text>
<text x="517.5" y="723.6" font-size="7.5" text-anchor="middle" fill="#111" stroke="#111" stroke-width="0.1">RTG2</text>
<text x="584.6" y="724.3" font-size="7.5" text-anchor="middle" fill="#111" stroke="#111" stroke-width="0.1">GCN5</text>
<text x="673.9" y="723.6" font-size="7.5" text-anchor="middle" fill="#111" stroke="#111" stroke-width="0.1">FPR1</text>
<text x="503.7" y="742.3" font-size="7.5" text-anchor="middle" fill="#111" stroke="#111" stroke-width="0.1">BEM1</text>
<text x="629.6" y="743.7" font-size="7.5" text-anchor="middle" fill="#111" stroke="#111" stroke-width="0.1">PHO2</text>
<text x="532.1" y="753.0" font-size="7.5" text-anchor="middle" fill="#111" stroke="#111" stroke-width="0.1">EAF7</text>
<text x="583.8" y="756.3" font-size="7.5" text-anchor="middle" fill="#111" stroke="#111" stroke-width="0.1">ADA2</text>
<text x="662.0" y="751.5" font-size="7.5" text-anchor="middle" fill="#111" stroke="#111" stroke-width="0.1">FAP1</text>
<text x="512.2" y="766.4" font-size="7.5" text-anchor="middle" fill="#111" stroke="#111" stroke-width="0.1">CLA4</text>
<text x="616.4" y="768.7" font-size="7.5" text-anchor="middle" fill="#111" stroke="#111" stroke-width="0.1">CSE2</text>
<text x="646.4" y="773.3" font-size="7.5" text-anchor="middle" fill="#111" stroke="#111" stroke-width="0.1">YOX1</text>
<text x="492.1" y="779.1" font-size="7.5" text-anchor="middle" fill="#111" stroke="#111" stroke-width="0.1">ROM1</text>
<text x="549.0" y="778.1" font-size="7.5" text-anchor="middle" fill="#111" stroke="#111" stroke-width="0.1">IRC20</text>
<text x="525.5" y="782.9" font-size="7.5" text-anchor="middle" fill="#111" stroke="#111" stroke-width="0.1">PTC1</text>
<text x="592.8" y="783.2" font-size="7.5" text-anchor="middle" fill="#111" stroke="#111" stroke-width="0.1">YPR015C</text>
<text x="469.4" y="793.5" font-size="7.5" text-anchor="middle" fill="#111" stroke="#111" stroke-width="0.1">WSC2</text>
<text x="555.2" y="800.1" font-size="7.5" text-anchor="middle" fill="#111" stroke="#111" stroke-width="0.1">PTP1</text>
<text x="582.1" y="801.7" font-size="7.5" text-anchor="middle" fill="#111" stroke="#111" stroke-width="0.1">CIN5</text>
<text x="627.0" y="795.8" font-size="7.5" text-anchor="middle" fill="#111" stroke="#111" stroke-width="0.1">KTI12</text>
<text x="663.0" y="795.8" font-size="7.5" text-anchor="middle" fill="#111" stroke="#111" stroke-width="0.1">ELP6</text>
<text x="536.1" y="834.3" font-size="7.5" text-anchor="middle" fill="#111" stroke="#111" stroke-width="0.1">DBR1</text>
<text x="557.7" y="834.3" font-size="7.5" text-anchor="middle" fill="#111" stroke="#111" stroke-width="0.1">HPA2</text>
<text x="579.5" y="834.3" font-size="7.5" text-anchor="middle" fill="#111" stroke="#111" stroke-width="0.1">IES2</text>
<text x="600.6" y="834.3" font-size="7.5" text-anchor="middle" fill="#111" stroke="#111" stroke-width="0.1">GSM1</text>
<text x="629.7" y="834.3" font-size="7.5" text-anchor="middle" fill="#111" stroke="#111" stroke-width="0.1">PHD1</text>
<text x="536.1" y="858.7" font-size="7.5" text-anchor="middle" fill="#111" stroke="#111" stroke-width="0.1">SKI3</text>
<text x="557.7" y="858.7" font-size="7.5" text-anchor="middle" fill="#111" stroke="#111" stroke-width="0.1">CAF16</text>
<text x="579.5" y="858.7" font-size="7.5" text-anchor="middle" fill="#111" stroke="#111" stroke-width="0.1">LSM1</text>
<text x="600.6" y="858.7" font-size="7.5" text-anchor="middle" fill="#111" stroke="#111" stroke-width="0.1">STP1</text>
<text x="629.7" y="858.7" font-size="7.5" text-anchor="middle" fill="#111" stroke="#111" stroke-width="0.1">YMR230W-A</text>
<text x="0.6" y="725.9" font-size="14.2" font-weight="bold">l</text>
<path d="M37.3 836.0 C38.9 835.8 44.4 835.6 46.7 834.9 C49.1 834.2 50.0 833.2 51.4 831.7 C52.8 830.3 53.8 828.6 54.9 826.3 C56.0 823.9 56.9 821.0 57.8 817.7 C58.7 814.4 59.3 810.8 60.1 806.7 C60.9 802.6 61.6 798.0 62.4 793.3 C63.2 788.6 64.1 783.2 64.8 778.5 C65.5 773.8 66.1 769.0 66.8 765.1 C67.5 761.3 68.0 758.0 68.9 755.4 C69.8 752.8 70.9 750.9 72.4 749.5 C74.0 748.1 75.7 747.8 78.2 747.2 C80.7 746.7 83.1 746.6 87.6 746.2 C92.1 745.8 99.7 745.2 105.1 744.8 C110.5 744.4 114.4 744.1 120.0 743.8 C125.6 743.5 135.5 743.0 138.6 742.8 L138.6 751.8 C135.5 752.0 125.6 752.5 120.0 752.8 C114.4 753.1 110.5 753.4 105.1 753.8 C99.7 754.2 92.1 754.8 87.6 755.2 C83.1 755.6 80.7 755.7 78.2 756.2 C75.7 756.8 74.0 757.1 72.4 758.5 C70.9 759.9 69.8 761.9 68.9 764.4 C68.0 766.9 67.5 769.8 66.8 773.3 C66.1 776.8 65.5 781.2 64.8 785.5 C64.1 789.7 63.2 794.6 62.4 798.9 C61.6 803.2 60.9 807.4 60.1 811.1 C59.3 814.8 58.7 818.1 57.8 821.1 C56.9 824.1 56.0 826.8 54.9 828.9 C53.8 831.0 52.8 832.6 51.4 833.9 C50.0 835.2 49.1 836.1 46.7 836.7 C44.4 837.4 38.9 837.6 37.3 837.8 Z" fill="#5B8FD9" opacity="0.25"/>
<path d="M37.3 835.6 C39.8 835.1 49.0 833.8 52.5 833.1 C56.0 832.3 56.4 832.3 58.4 831.3 C60.4 830.3 62.5 828.7 64.2 827.0 C66.0 825.4 67.4 823.9 68.9 821.5 C70.5 819.2 72.2 815.8 73.5 813.0 C74.8 810.2 75.8 807.8 77.0 804.6 C78.2 801.3 79.3 797.1 80.5 793.6 C81.7 790.2 82.9 787.1 84.1 783.9 C85.3 780.6 86.4 777.2 87.6 774.2 C88.8 771.2 89.9 768.1 91.1 765.7 C92.3 763.2 93.2 761.3 94.6 759.6 C95.9 757.9 97.5 756.4 99.2 755.4 C101.0 754.4 102.5 754.0 105.1 753.6 C107.7 753.2 109.4 753.0 115.0 752.7 C120.6 752.4 134.7 752.1 138.6 752.0 L138.6 759.8 C134.7 759.9 120.6 760.2 115.0 760.5 C109.4 760.8 107.7 761.0 105.1 761.4 C102.5 761.8 101.0 762.2 99.2 763.2 C97.5 764.2 95.9 765.6 94.6 767.2 C93.2 768.8 92.3 770.5 91.1 772.7 C89.9 775.0 88.8 777.8 87.6 780.6 C86.4 783.4 85.3 786.5 84.1 789.5 C82.9 792.5 81.7 795.4 80.5 798.6 C79.3 801.7 78.2 805.7 77.0 808.6 C75.8 811.6 74.8 813.8 73.5 816.4 C72.2 819.0 70.5 822.1 68.9 824.3 C67.4 826.4 66.0 827.9 64.2 829.4 C62.5 830.9 60.4 832.4 58.4 833.3 C56.4 834.2 56.0 834.3 52.5 834.9 C49.0 835.6 39.8 836.9 37.3 837.2 Z" fill="#3BAA3B" opacity="0.25"/>
<path d="M37.3 836.0 C40.8 835.1 53.1 833.6 58.4 831.1 C63.7 828.6 65.8 825.7 68.9 821.1 C72.0 816.6 74.5 810.1 77.0 803.7 C79.5 797.3 81.8 789.3 84.1 782.7 C86.4 776.1 89.2 768.5 91.1 764.1 C93.0 759.7 94.2 758.4 95.7 756.3 C97.2 754.2 98.5 752.8 100.4 751.6 C102.4 750.4 105.0 749.8 107.4 749.3 C109.8 748.8 109.8 748.6 115.0 748.4 C120.2 748.2 134.7 748.1 138.6 748.0 L138.6 754.0 C134.7 754.1 120.2 754.2 115.0 754.4 C109.8 754.6 109.8 754.8 107.4 755.3 C105.0 755.8 102.4 756.4 100.4 757.6 C98.5 758.8 97.2 760.3 95.7 762.3 C94.2 764.3 93.0 765.5 91.1 769.7 C89.2 773.9 86.4 781.0 84.1 787.3 C81.8 793.5 79.5 801.0 77.0 807.1 C74.5 813.1 72.0 819.2 68.9 823.5 C65.8 827.8 63.7 830.6 58.4 832.9 C53.1 835.2 40.8 836.7 37.3 837.4 Z" fill="#F0675E" opacity="0.25"/>
<path d="M37.3 836.7 C40.8 835.9 53.1 834.4 58.4 832.0 C63.7 829.6 65.8 826.7 68.9 822.3 C72.0 817.9 74.5 811.6 77.0 805.4 C79.5 799.2 81.8 791.4 84.1 785.0 C86.4 778.6 89.2 771.2 91.1 766.9 C93.0 762.6 94.2 761.3 95.7 759.3 C97.2 757.2 98.5 755.8 100.4 754.6 C102.4 753.4 105.0 752.8 107.4 752.3 C109.8 751.8 109.8 751.6 115.0 751.4 C120.2 751.2 134.7 751.1 138.6 751.0" fill="none" stroke="#F0675E" stroke-width="1.6"/>
<path d="M37.3 836.4 C39.8 836.0 49.0 834.7 52.5 834.0 C56.0 833.3 56.4 833.3 58.4 832.3 C60.4 831.3 62.5 829.8 64.2 828.2 C66.0 826.6 67.4 825.1 68.9 822.9 C70.5 820.6 72.2 817.4 73.5 814.7 C74.8 812.0 75.8 809.7 77.0 806.6 C78.2 803.5 79.3 799.4 80.5 796.1 C81.7 792.8 82.9 789.8 84.1 786.7 C85.3 783.6 86.4 780.3 87.6 777.4 C88.8 774.5 89.9 771.5 91.1 769.2 C92.3 766.9 93.2 765.0 94.6 763.4 C95.9 761.8 97.5 760.3 99.2 759.3 C101.0 758.3 102.5 758.0 105.1 757.5 C107.7 757.0 109.4 756.9 115.0 756.6 C120.6 756.3 134.7 756.0 138.6 755.9" fill="none" stroke="#3BAA3B" stroke-width="1.6"/>
<path d="M37.3 836.9 C38.9 836.7 44.4 836.5 46.7 835.8 C49.1 835.1 50.0 834.2 51.4 832.8 C52.8 831.4 53.8 829.8 54.9 827.6 C56.0 825.4 56.9 822.5 57.8 819.4 C58.7 816.3 59.3 812.8 60.1 808.9 C60.9 805.0 61.6 800.6 62.4 796.1 C63.2 791.6 64.1 786.5 64.8 782.0 C65.5 777.5 66.1 772.9 66.8 769.2 C67.5 765.5 68.0 762.4 68.9 759.9 C69.8 757.4 70.9 755.4 72.4 754.0 C74.0 752.6 75.7 752.2 78.2 751.7 C80.7 751.2 83.1 751.1 87.6 750.7 C92.1 750.3 99.7 749.7 105.1 749.3 C110.5 748.9 114.4 748.6 120.0 748.3 C125.6 748.0 135.5 747.5 138.6 747.3" fill="none" stroke="#5B8FD9" stroke-width="1.6"/>
<path d="M154.0 836.5 C156.0 836.3 162.5 835.8 166.1 835.3 C169.7 834.7 173.0 834.0 175.7 833.1 C178.4 832.2 180.2 831.3 182.1 829.8 C184.0 828.3 185.4 826.7 186.9 824.1 C188.4 821.5 189.8 818.3 191.0 814.2 C192.2 810.1 193.3 804.3 194.2 799.3 C195.1 794.4 195.8 789.5 196.6 784.5 C197.4 779.6 198.2 773.8 199.0 769.6 C199.8 765.5 200.3 762.4 201.4 759.8 C202.5 757.2 203.3 755.4 205.4 754.1 C207.5 752.8 210.0 752.2 214.2 751.7 C218.3 751.2 223.3 751.5 230.3 751.3 C237.3 751.1 251.7 750.6 256.0 750.5 L256.0 756.1 C251.7 756.2 237.3 756.7 230.3 756.9 C223.3 757.1 218.3 756.8 214.2 757.3 C210.0 757.8 207.5 758.4 205.4 759.7 C203.3 761.0 202.5 762.8 201.4 765.2 C200.3 767.7 199.8 770.7 199.0 774.6 C198.2 778.5 197.4 784.0 196.6 788.7 C195.8 793.4 195.1 798.0 194.2 802.7 C193.3 807.4 192.2 812.9 191.0 816.8 C189.8 820.7 188.4 823.7 186.9 826.1 C185.4 828.6 184.0 830.2 182.1 831.6 C180.2 833.0 178.4 833.8 175.7 834.7 C173.0 835.6 169.7 836.2 166.1 836.7 C162.5 837.3 156.0 837.7 154.0 837.9 Z" fill="#5B8FD9" opacity="0.25"/>
<path d="M154.0 831.8 C156.0 831.9 161.9 832.7 166.1 832.5 C170.2 832.4 175.4 831.6 178.9 830.8 C182.4 830.1 184.2 829.4 186.9 827.9 C189.6 826.5 192.3 825.0 195.0 822.1 C197.7 819.2 200.6 814.6 203.0 810.4 C205.4 806.2 207.3 801.7 209.4 797.0 C211.5 792.2 213.7 786.4 215.8 781.9 C218.0 777.5 220.2 773.2 222.3 770.2 C224.5 767.1 226.0 765.3 228.7 763.6 C231.4 761.9 233.8 760.9 238.3 760.1 C242.9 759.3 253.1 759.0 256.0 758.8 L256.0 766.2 C253.1 766.4 242.9 766.7 238.3 767.5 C233.8 768.3 231.4 769.4 228.7 771.0 C226.0 772.6 224.5 774.4 222.3 777.2 C220.2 780.1 218.0 784.0 215.8 788.1 C213.7 792.2 211.5 797.5 209.4 801.8 C207.3 806.2 205.4 810.3 203.0 814.2 C200.6 818.0 197.7 822.2 195.0 824.9 C192.3 827.6 189.6 828.9 186.9 830.3 C184.2 831.6 182.4 832.3 178.9 833.0 C175.4 833.7 170.2 834.3 166.1 834.5 C161.9 834.6 156.0 833.9 154.0 833.8 Z" fill="#F0675E" opacity="0.25"/>
<path d="M154.0 828.0 C156.0 828.3 161.4 829.4 166.1 829.7 C170.8 830.0 177.8 830.1 182.1 829.7 C186.4 829.3 188.6 828.7 191.8 827.4 C195.0 826.1 198.5 824.3 201.4 822.1 C204.3 819.9 207.0 816.9 209.4 814.1 C211.8 811.3 213.7 808.5 215.8 805.2 C218.0 801.9 220.2 797.7 222.3 794.4 C224.5 791.2 226.3 787.8 228.7 785.6 C231.1 783.3 233.8 781.9 236.7 780.9 C239.6 779.9 243.2 780.0 246.4 779.8 C249.6 779.5 254.4 779.5 256.0 779.4 L256.0 791.4 C254.4 791.5 249.6 791.5 246.4 791.8 C243.2 792.0 239.6 792.0 236.7 792.9 C233.8 793.8 231.1 795.3 228.7 797.2 C226.3 799.2 224.5 801.7 222.3 804.4 C220.2 807.0 218.0 810.4 215.8 813.0 C213.7 815.6 211.8 817.9 209.4 820.1 C207.0 822.4 204.3 824.7 201.4 826.5 C198.5 828.3 195.0 829.8 191.8 830.8 C188.6 831.8 186.4 832.4 182.1 832.7 C177.8 833.0 170.8 832.9 166.1 832.7 C161.4 832.4 156.0 831.5 154.0 831.2 Z" fill="#3BAA3B" opacity="0.25"/>
<path d="M154.0 829.6 C156.0 829.9 161.4 830.9 166.1 831.2 C170.8 831.5 177.8 831.6 182.1 831.2 C186.4 830.9 188.6 830.2 191.8 829.1 C195.0 828.0 198.5 826.3 201.4 824.3 C204.3 822.3 207.0 819.6 209.4 817.1 C211.8 814.6 213.7 812.1 215.8 809.1 C218.0 806.1 220.2 802.4 222.3 799.4 C224.5 796.4 226.3 793.5 228.7 791.4 C231.1 789.3 233.8 787.8 236.7 786.9 C239.6 786.0 243.2 786.0 246.4 785.8 C249.6 785.5 254.4 785.5 256.0 785.4" fill="none" stroke="#3BAA3B" stroke-width="1.6"/>
<path d="M154.0 832.8 C156.0 832.9 161.9 833.6 166.1 833.5 C170.2 833.4 175.4 832.6 178.9 831.9 C182.4 831.2 184.2 830.5 186.9 829.1 C189.6 827.7 192.3 826.3 195.0 823.5 C197.7 820.7 200.6 816.3 203.0 812.3 C205.4 808.3 207.3 803.9 209.4 799.4 C211.5 794.9 213.7 789.3 215.8 785.0 C218.0 780.7 220.2 776.7 222.3 773.7 C224.5 770.8 226.0 768.9 228.7 767.3 C231.4 765.6 233.8 764.6 238.3 763.8 C242.9 763.0 253.1 762.7 256.0 762.5" fill="none" stroke="#F0675E" stroke-width="1.6"/>
<path d="M154.0 837.2 C156.0 837.0 162.5 836.5 166.1 836.0 C169.7 835.5 173.0 834.8 175.7 833.9 C178.4 833.0 180.2 832.2 182.1 830.7 C184.0 829.2 185.4 827.6 186.9 825.1 C188.4 822.6 189.8 819.5 191.0 815.5 C192.2 811.5 193.3 805.8 194.2 801.0 C195.1 796.2 195.8 791.4 196.6 786.6 C197.4 781.8 198.2 776.1 199.0 772.1 C199.8 768.1 200.3 765.0 201.4 762.5 C202.5 760.0 203.3 758.2 205.4 756.9 C207.5 755.6 210.0 755.0 214.2 754.5 C218.3 754.0 223.3 754.3 230.3 754.1 C237.3 753.9 251.7 753.4 256.0 753.3" fill="none" stroke="#5B8FD9" stroke-width="1.6"/>
<line x1="31.6" y1="737.6" x2="31.6" y2="842.5" stroke="#333" stroke-width="1"/>
<line x1="31.6" y1="842.5" x2="143.4" y2="842.5" stroke="#333" stroke-width="1"/>
<line x1="149.1" y1="737.6" x2="149.1" y2="842.9" stroke="#333" stroke-width="1"/>
<line x1="149.1" y1="842.9" x2="260.5" y2="842.9" stroke="#333" stroke-width="1"/>
<line x1="29.4" y1="755.3" x2="31.6" y2="755.3" stroke="#333" stroke-width="0.9"/>
<text x="28.2" y="758.9" font-size="10.2" text-anchor="end" fill="#4D4D4D" stroke="#4D4D4D" stroke-width="0.25">1.5</text>
<line x1="29.4" y1="785.9" x2="31.6" y2="785.9" stroke="#333" stroke-width="0.9"/>
<text x="28.2" y="789.5" font-size="10.2" text-anchor="end" fill="#4D4D4D" stroke="#4D4D4D" stroke-width="0.25">1.0</text>
<line x1="29.4" y1="816.8" x2="31.6" y2="816.8" stroke="#333" stroke-width="0.9"/>
<text x="28.2" y="820.4" font-size="10.2" text-anchor="end" fill="#4D4D4D" stroke="#4D4D4D" stroke-width="0.25">0.5</text>
<line x1="37.1" y1="842.5" x2="37.1" y2="844.7" stroke="#333" stroke-width="0.9"/>
<text x="37.1" y="854.2" font-size="10.2" text-anchor="middle" fill="#4D4D4D" stroke="#4D4D4D" stroke-width="0.25">0</text>
<line x1="154.2" y1="842.9" x2="154.2" y2="845.1" stroke="#333" stroke-width="0.9"/>
<text x="154.2" y="854.2" font-size="10.2" text-anchor="middle" fill="#4D4D4D" stroke="#4D4D4D" stroke-width="0.25">0</text>
<line x1="59.5" y1="842.5" x2="59.5" y2="844.7" stroke="#333" stroke-width="0.9"/>
<text x="59.5" y="854.2" font-size="10.2" text-anchor="middle" fill="#4D4D4D" stroke="#4D4D4D" stroke-width="0.25">10</text>
<line x1="176.8" y1="842.9" x2="176.8" y2="845.1" stroke="#333" stroke-width="0.9"/>
<text x="176.8" y="854.2" font-size="10.2" text-anchor="middle" fill="#4D4D4D" stroke="#4D4D4D" stroke-width="0.25">10</text>
<line x1="82.0" y1="842.5" x2="82.0" y2="844.7" stroke="#333" stroke-width="0.9"/>
<text x="82.0" y="854.2" font-size="10.2" text-anchor="middle" fill="#4D4D4D" stroke="#4D4D4D" stroke-width="0.25">20</text>
<line x1="199.3" y1="842.9" x2="199.3" y2="845.1" stroke="#333" stroke-width="0.9"/>
<text x="199.3" y="854.2" font-size="10.2" text-anchor="middle" fill="#4D4D4D" stroke="#4D4D4D" stroke-width="0.25">20</text>
<line x1="104.4" y1="842.5" x2="104.4" y2="844.7" stroke="#333" stroke-width="0.9"/>
<text x="104.4" y="854.2" font-size="10.2" text-anchor="middle" fill="#4D4D4D" stroke="#4D4D4D" stroke-width="0.25">30</text>
<line x1="221.8" y1="842.9" x2="221.8" y2="845.1" stroke="#333" stroke-width="0.9"/>
<text x="221.8" y="854.2" font-size="10.2" text-anchor="middle" fill="#4D4D4D" stroke="#4D4D4D" stroke-width="0.25">30</text>
<line x1="126.9" y1="842.5" x2="126.9" y2="844.7" stroke="#333" stroke-width="0.9"/>
<text x="126.9" y="854.2" font-size="10.2" text-anchor="middle" fill="#4D4D4D" stroke="#4D4D4D" stroke-width="0.25">40</text>
<line x1="244.4" y1="842.9" x2="244.4" y2="845.1" stroke="#333" stroke-width="0.9"/>
<text x="244.4" y="854.2" font-size="10.2" text-anchor="middle" fill="#4D4D4D" stroke="#4D4D4D" stroke-width="0.25">40</text>
<text x="35.3" y="745.2" font-size="10.5" stroke="#000" stroke-width="0.25">WT</text>
<text x="151.4" y="745.2" font-size="10.5" font-style="italic" stroke="#000" stroke-width="0.25">ADA2</text>
<text x="11.2" y="787.0" font-size="10.9" text-anchor="middle" transform="rotate(-90 11.2 787.0)" stroke="#000" stroke-width="0.25">Absorbance OD660</text>
<text x="148.2" y="866.6" font-size="11.0" text-anchor="middle" stroke="#000" stroke-width="0.25">Time (hours)</text>
<text x="4.4" y="880.8" font-size="9.4" stroke="#000" stroke-width="0.25">Condition</text>
<rect x="46.0" y="871.6" width="12.2" height="12.2" fill="#5B8FD9" fill-opacity="0.3" stroke="#5B8FD9" stroke-width="1"/>
<line x1="46.0" y1="877.7" x2="58.2" y2="877.7" stroke="#5B8FD9" stroke-width="1.4"/>
<text x="60.0" y="880.8" font-size="9.4" stroke="#000" stroke-width="0.25">YPD−YPD</text>
<rect x="110.6" y="871.6" width="12.2" height="12.2" fill="#3BAA3B" fill-opacity="0.3" stroke="#3BAA3B" stroke-width="1"/>
<line x1="110.6" y1="877.7" x2="122.8" y2="877.7" stroke="#3BAA3B" stroke-width="1.4"/>
<text x="124.8" y="880.8" font-size="9.4" stroke="#000" stroke-width="0.25">YPD−1M NaCl</text>
<rect x="193.8" y="871.6" width="12.2" height="12.2" fill="#F0675E" fill-opacity="0.3" stroke="#F0675E" stroke-width="1"/>
<line x1="193.8" y1="877.7" x2="206.0" y2="877.7" stroke="#F0675E" stroke-width="1.4"/>
<text x="207.6" y="880.8" font-size="9.4" stroke="#000" stroke-width="0.25">0.4M − 1M NaCl</text>
<text x="266.8" y="720.8" font-size="14.2" font-weight="bold">m</text>
<line x1="314.0" y1="728.4" x2="314.0" y2="841.6" stroke="#555" stroke-width="1"/>
<line x1="314.0" y1="841.6" x2="378.2" y2="841.6" stroke="#555" stroke-width="1"/>
<line x1="311.8" y1="733.6" x2="314.0" y2="733.6" stroke="#333" stroke-width="0.9"/>
<text x="310.6" y="737.3" font-size="10.4" text-anchor="end" fill="#262626" stroke="#262626" stroke-width="0.25">1.3</text>
<line x1="311.8" y1="764.3" x2="314.0" y2="764.3" stroke="#333" stroke-width="0.9"/>
<text x="310.6" y="768.0" font-size="10.4" text-anchor="end" fill="#262626" stroke="#262626" stroke-width="0.25">1.2</text>
<line x1="311.8" y1="794.6" x2="314.0" y2="794.6" stroke="#333" stroke-width="0.9"/>
<text x="310.6" y="798.3" font-size="10.4" text-anchor="end" fill="#262626" stroke="#262626" stroke-width="0.25">1.1</text>
<line x1="311.8" y1="824.1" x2="314.0" y2="824.1" stroke="#333" stroke-width="0.9"/>
<text x="310.6" y="827.8" font-size="10.4" text-anchor="end" fill="#262626" stroke="#262626" stroke-width="0.25">1.0</text>
<line x1="349.3" y1="841.6" x2="349.3" y2="843.8" stroke="#333" stroke-width="0.9"/>
<line x1="349.3" y1="733.6" x2="349.3" y2="781.5" stroke="#222" stroke-width="1.1"/>
<line x1="349.3" y1="824.1" x2="349.3" y2="837.0" stroke="#222" stroke-width="1.1"/>
<rect x="334.5" y="781.5" width="30" height="42.6" fill="#fff" stroke="#222" stroke-width="1.4"/>
<line x1="334.5" y1="797.8" x2="364.5" y2="797.8" stroke="#222" stroke-width="2.4"/>
<circle cx="341.8" cy="733.3" r="2.9" fill="#9880C8"/>
<circle cx="346.7" cy="759.3" r="2.9" fill="#9880C8"/>
<circle cx="357.2" cy="755.2" r="2.9" fill="#9880C8"/>
<circle cx="344.7" cy="784.7" r="2.9" fill="#9880C8"/>
<circle cx="357.8" cy="781.5" r="2.9" fill="#9880C8"/>
<circle cx="360.1" cy="781.5" r="2.9" fill="#9880C8"/>
<circle cx="358.7" cy="793.5" r="2.9" fill="#9880C8"/>
<circle cx="347.6" cy="800.8" r="2.9" fill="#9880C8"/>
<circle cx="345.3" cy="820.6" r="2.9" fill="#C8C8C8"/>
<circle cx="358.4" cy="825.3" r="2.9" fill="#C8C8C8"/>
<circle cx="360.7" cy="829.1" r="2.9" fill="#C8C8C8"/>
<circle cx="340.9" cy="833.5" r="2.9" fill="#C8C8C8"/>
<circle cx="343.2" cy="837.3" r="2.9" fill="#C8C8C8"/>
<line x1="314" y1="811.9" x2="375.3" y2="811.9" stroke="#222" stroke-width="1.9" stroke-dasharray="5.5,3.6"/>
<circle cx="346.7" cy="811.9" r="3.0" fill="#222"/>
<text x="379.1" y="815.0" font-size="8.2" stroke="#000" stroke-width="0.25">WT</text>
<text x="317.8" y="737.0" font-size="8.4" fill="#9880C8" font-style="italic" stroke="#9880C8" stroke-width="0.25">ada2</text>
<text x="281.6" y="782.5" font-size="10.8" text-anchor="middle" transform="rotate(-90 281.6 782.5)" stroke="#000" stroke-width="0.25">Ratio growth</text>
<text x="295.0" y="782.0" font-size="10.9" text-anchor="middle" transform="rotate(-90 295.0 782.0)" stroke="#000" stroke-width="0.25">prestress/stress</text>
<text x="350.5" y="853.3" font-size="10.5" text-anchor="middle" stroke="#000" stroke-width="0.25">Strain</text>
<text x="387.0" y="738.3" font-size="9.0" stroke="#000" stroke-width="0.25">Growth ratio</text>
<text x="387.0" y="749.4" font-size="9.0" stroke="#000" stroke-width="0.25">&gt; WT</text>
<rect x="388.5" y="756.1" width="7.3" height="7.3" fill="#9880C8"/>
<text x="399.6" y="762.7" font-size="9.2" stroke="#000" stroke-width="0.25">TRUE</text>
<rect x="388.5" y="770.7" width="7.3" height="7.3" fill="#C8C8C8"/>
<text x="399.6" y="777.9" font-size="9.2" stroke="#000" stroke-width="0.25">FALSE</text>
</svg></body></html>
